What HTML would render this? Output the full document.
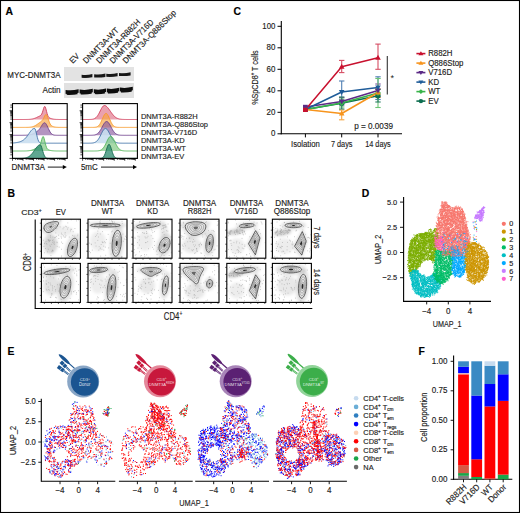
<!DOCTYPE html>
<html><head><meta charset="utf-8"><style>
html,body{margin:0;padding:0;background:#fff;}
svg{display:block;color:#1d1d1b;fill:#1d1d1b;font-family:"Liberation Sans", sans-serif;}
text{stroke:currentColor;stroke-width:0.15px;}
</style></head><body>
<svg width="520" height="513" viewBox="0 0 520 513">
<rect x="0" y="0" width="520" height="513" fill="#fff"/>
<text x="5.6" y="14.6" font-size="10.4" font-weight="bold" fill="#000" color="#000">A</text>
<text x="72.7" y="64" font-size="8.35" textLength="10.41" lengthAdjust="spacingAndGlyphs" transform="rotate(-45 72.7 64)">EV</text>
<text x="86.2" y="64" font-size="8.35" textLength="47" lengthAdjust="spacingAndGlyphs" transform="rotate(-45 86.2 64)">DNMT3A-WT</text>
<text x="99.6" y="64" font-size="8.35" textLength="58.5" lengthAdjust="spacingAndGlyphs" transform="rotate(-45 99.6 64)">DNMT3A-R882H</text>
<text x="112.9" y="64" font-size="8.35" textLength="58.3" lengthAdjust="spacingAndGlyphs" transform="rotate(-45 112.9 64)">DNMT3A-V716D</text>
<text x="126.1" y="64" font-size="8.35" textLength="71.5" lengthAdjust="spacingAndGlyphs" transform="rotate(-45 126.1 64)">DNMT3A-Q886Stop</text>
<text x="60.6" y="78" font-size="8.56" text-anchor="end" textLength="53.3" lengthAdjust="spacingAndGlyphs">MYC-DNMT3A</text>
<text x="60.6" y="92.7" font-size="8.56" text-anchor="end" textLength="18.1" lengthAdjust="spacingAndGlyphs">Actin</text>
<defs><filter id="bl" x="-20%" y="-50%" width="140%" height="200%"><feGaussianBlur stdDeviation="0.55"/></filter></defs>
<rect x="64" y="67" width="70" height="14" fill="#e3e3e3"/>
<rect x="64" y="83" width="70" height="15" fill="#e1e1e1"/>
<g fill="#141414" filter="url(#bl)"><path d="M81.6 74.7 Q87 75.5 92.4 74 L92.4 77.3 Q87 78.2 81.6 77.8 Z"/><path d="M94.2 74.3 Q99.8 75.1 105.4 73.6 L105.4 76.9 Q99.8 77.8 94.2 77.4 Z"/><path d="M106.3 73.7 Q111.95 74.5 117.6 73 L117.6 76.3 Q111.95 77.2 106.3 76.8 Z"/><path d="M119 72.9 Q124.8 73.7 130.6 72.2 L130.6 75.5 Q124.8 76.4 119 76 Z"/></g>
<g fill="#0a0a0a" filter="url(#bl)"><path d="M65.6 90 Q72.1 91 78.6 89.2 L78.6 94 Q72.1 95.2 65.6 94.8 Z"/><path d="M79.6 89.6 Q86.2 90.6 92.8 88.8 L92.8 93.6 Q86.2 94.8 79.6 94.4 Z"/><path d="M93.8 89.3 Q99.9 90.3 106 88.5 L106 93.3 Q99.9 94.5 93.8 94.1 Z"/><path d="M106.8 88.6 Q113 89.6 119.2 87.8 L119.2 92.6 Q113 93.8 106.8 93.4 Z"/><path d="M119.8 87.6 Q126.3 88.6 132.8 86.8 L132.8 91.6 Q126.3 92.8 119.8 92.4 Z"/></g>
<g fill="#e1e1e1"><circle cx="65.9" cy="94.6" r="0.9"/><circle cx="78.3" cy="93.6" r="0.9"/><circle cx="79.9" cy="94.2" r="0.9"/><circle cx="92.5" cy="93.2" r="0.9"/><circle cx="94.1" cy="93.9" r="0.9"/><circle cx="105.7" cy="92.9" r="0.9"/><circle cx="107.1" cy="93.2" r="0.9"/><circle cx="118.9" cy="92.2" r="0.9"/><circle cx="120.1" cy="92.2" r="0.9"/><circle cx="132.5" cy="91.2" r="0.9"/></g>
<path d="M12.5 119.5 L13.11 119.5 L13.72 119.5 L14.32 119.5 L14.93 119.5 L15.54 119.5 L16.15 119.5 L16.75 119.5 L17.36 119.5 L17.97 119.5 L18.58 119.5 L19.19 119.5 L19.79 119.5 L20.4 119.5 L21.01 119.5 L21.62 119.5 L22.22 119.5 L22.83 119.5 L23.44 119.5 L24.05 119.5 L24.66 119.49 L25.26 119.49 L25.87 119.48 L26.48 119.48 L27.09 119.47 L27.69 119.45 L28.3 119.43 L28.91 119.4 L29.52 119.36 L30.13 119.31 L30.73 119.25 L31.34 119.17 L31.95 119.07 L32.56 118.95 L33.16 118.8 L33.77 118.63 L34.38 118.43 L34.99 118.21 L35.6 117.96 L36.2 117.69 L36.81 117.41 L37.42 117.11 L38.03 116.82 L38.63 116.53 L39.24 116.24 L39.85 115.94 L40.46 115.58 L41.07 115.04 L41.67 114.15 L42.28 112.75 L42.89 110.86 L43.5 108.76 L44.1 107.06 L44.71 106.39 L45.32 107.08 L45.93 108.93 L46.54 111.34 L47.14 113.65 L47.75 115.46 L48.36 116.69 L48.97 117.45 L49.57 117.92 L50.18 118.24 L50.79 118.48 L51.4 118.68 L52.01 118.84 L52.61 118.98 L53.22 119.1 L53.83 119.19 L54.44 119.27 L55.04 119.33 L55.65 119.37 L56.26 119.41 L56.87 119.44 L57.48 119.45 L58.08 119.47 L58.69 119.48 L59.3 119.49 L59.91 119.49 L60.51 119.49 L61.12 119.5 L61.73 119.5 L62.34 119.5 L62.95 119.5 L63.55 119.5 L64.16 119.5 L64.77 119.5 L65.38 119.5 L65.98 119.5 L66.59 119.5 L67.2 119.5 L67.2 119.5 L12.5 119.5 Z" fill="#d9546e" fill-opacity="0.55"/>
<path d="M12.5 119.5 L13.11 119.5 L13.72 119.5 L14.32 119.5 L14.93 119.5 L15.54 119.5 L16.15 119.5 L16.75 119.5 L17.36 119.5 L17.97 119.5 L18.58 119.5 L19.19 119.5 L19.79 119.5 L20.4 119.5 L21.01 119.5 L21.62 119.5 L22.22 119.5 L22.83 119.5 L23.44 119.5 L24.05 119.5 L24.66 119.49 L25.26 119.49 L25.87 119.48 L26.48 119.48 L27.09 119.47 L27.69 119.45 L28.3 119.43 L28.91 119.4 L29.52 119.36 L30.13 119.31 L30.73 119.25 L31.34 119.17 L31.95 119.07 L32.56 118.95 L33.16 118.8 L33.77 118.63 L34.38 118.43 L34.99 118.21 L35.6 117.96 L36.2 117.69 L36.81 117.41 L37.42 117.11 L38.03 116.82 L38.63 116.53 L39.24 116.24 L39.85 115.94 L40.46 115.58 L41.07 115.04 L41.67 114.15 L42.28 112.75 L42.89 110.86 L43.5 108.76 L44.1 107.06 L44.71 106.39 L45.32 107.08 L45.93 108.93 L46.54 111.34 L47.14 113.65 L47.75 115.46 L48.36 116.69 L48.97 117.45 L49.57 117.92 L50.18 118.24 L50.79 118.48 L51.4 118.68 L52.01 118.84 L52.61 118.98 L53.22 119.1 L53.83 119.19 L54.44 119.27 L55.04 119.33 L55.65 119.37 L56.26 119.41 L56.87 119.44 L57.48 119.45 L58.08 119.47 L58.69 119.48 L59.3 119.49 L59.91 119.49 L60.51 119.49 L61.12 119.5 L61.73 119.5 L62.34 119.5 L62.95 119.5 L63.55 119.5 L64.16 119.5 L64.77 119.5 L65.38 119.5 L65.98 119.5 L66.59 119.5 L67.2 119.5" fill="none" stroke="#d03c5a" stroke-width="0.9"/>
<path d="M12.5 127.4 L13.11 127.4 L13.72 127.4 L14.32 127.4 L14.93 127.4 L15.54 127.4 L16.15 127.4 L16.75 127.4 L17.36 127.4 L17.97 127.4 L18.58 127.4 L19.19 127.4 L19.79 127.4 L20.4 127.4 L21.01 127.4 L21.62 127.4 L22.22 127.4 L22.83 127.4 L23.44 127.4 L24.05 127.4 L24.66 127.39 L25.26 127.39 L25.87 127.38 L26.48 127.37 L27.09 127.36 L27.69 127.34 L28.3 127.32 L28.91 127.29 L29.52 127.24 L30.13 127.18 L30.73 127.1 L31.34 127 L31.95 126.88 L32.56 126.72 L33.16 126.53 L33.77 126.31 L34.38 126.04 L34.99 125.74 L35.6 125.4 L36.2 125.02 L36.81 124.61 L37.42 124.18 L38.03 123.74 L38.63 123.3 L39.24 122.86 L39.85 122.44 L40.46 122.02 L41.07 121.57 L41.67 121.06 L42.28 120.4 L42.89 119.53 L43.5 118.43 L44.1 117.17 L44.71 115.9 L45.32 114.92 L45.93 114.48 L46.54 114.78 L47.14 115.82 L47.75 117.43 L48.36 119.31 L48.97 121.17 L49.57 122.78 L50.18 124.05 L50.79 124.97 L51.4 125.63 L52.01 126.08 L52.61 126.4 L53.22 126.64 L53.83 126.82 L54.44 126.96 L55.04 127.07 L55.65 127.16 L56.26 127.22 L56.87 127.27 L57.48 127.31 L58.08 127.34 L58.69 127.36 L59.3 127.37 L59.91 127.38 L60.51 127.39 L61.12 127.39 L61.73 127.39 L62.34 127.4 L62.95 127.4 L63.55 127.4 L64.16 127.4 L64.77 127.4 L65.38 127.4 L65.98 127.4 L66.59 127.4 L67.2 127.4 L67.2 127.4 L12.5 127.4 Z" fill="#f7a540" fill-opacity="0.65"/>
<path d="M12.5 127.4 L13.11 127.4 L13.72 127.4 L14.32 127.4 L14.93 127.4 L15.54 127.4 L16.15 127.4 L16.75 127.4 L17.36 127.4 L17.97 127.4 L18.58 127.4 L19.19 127.4 L19.79 127.4 L20.4 127.4 L21.01 127.4 L21.62 127.4 L22.22 127.4 L22.83 127.4 L23.44 127.4 L24.05 127.4 L24.66 127.39 L25.26 127.39 L25.87 127.38 L26.48 127.37 L27.09 127.36 L27.69 127.34 L28.3 127.32 L28.91 127.29 L29.52 127.24 L30.13 127.18 L30.73 127.1 L31.34 127 L31.95 126.88 L32.56 126.72 L33.16 126.53 L33.77 126.31 L34.38 126.04 L34.99 125.74 L35.6 125.4 L36.2 125.02 L36.81 124.61 L37.42 124.18 L38.03 123.74 L38.63 123.3 L39.24 122.86 L39.85 122.44 L40.46 122.02 L41.07 121.57 L41.67 121.06 L42.28 120.4 L42.89 119.53 L43.5 118.43 L44.1 117.17 L44.71 115.9 L45.32 114.92 L45.93 114.48 L46.54 114.78 L47.14 115.82 L47.75 117.43 L48.36 119.31 L48.97 121.17 L49.57 122.78 L50.18 124.05 L50.79 124.97 L51.4 125.63 L52.01 126.08 L52.61 126.4 L53.22 126.64 L53.83 126.82 L54.44 126.96 L55.04 127.07 L55.65 127.16 L56.26 127.22 L56.87 127.27 L57.48 127.31 L58.08 127.34 L58.69 127.36 L59.3 127.37 L59.91 127.38 L60.51 127.39 L61.12 127.39 L61.73 127.39 L62.34 127.4 L62.95 127.4 L63.55 127.4 L64.16 127.4 L64.77 127.4 L65.38 127.4 L65.98 127.4 L66.59 127.4 L67.2 127.4" fill="none" stroke="#f79a2a" stroke-width="0.9"/>
<path d="M12.5 135.3 L13.11 135.3 L13.72 135.3 L14.32 135.3 L14.93 135.3 L15.54 135.3 L16.15 135.3 L16.75 135.3 L17.36 135.3 L17.97 135.3 L18.58 135.3 L19.19 135.3 L19.79 135.3 L20.4 135.3 L21.01 135.3 L21.62 135.3 L22.22 135.29 L22.83 135.29 L23.44 135.28 L24.05 135.28 L24.66 135.26 L25.26 135.25 L25.87 135.23 L26.48 135.2 L27.09 135.16 L27.69 135.11 L28.3 135.04 L28.91 134.96 L29.52 134.86 L30.13 134.73 L30.73 134.58 L31.34 134.41 L31.95 134.2 L32.56 133.97 L33.16 133.72 L33.77 133.44 L34.38 133.13 L34.99 132.8 L35.6 132.45 L36.2 132.07 L36.81 131.66 L37.42 131.19 L38.03 130.67 L38.63 130.06 L39.24 129.36 L39.85 128.56 L40.46 127.67 L41.07 126.69 L41.67 125.69 L42.28 124.73 L42.89 123.87 L43.5 123.21 L44.1 122.83 L44.71 122.77 L45.32 123.08 L45.93 123.73 L46.54 124.69 L47.14 125.87 L47.75 127.19 L48.36 128.55 L48.97 129.86 L49.57 131.06 L50.18 132.1 L50.79 132.96 L51.4 133.65 L52.01 134.17 L52.61 134.54 L53.22 134.81 L53.83 134.99 L54.44 135.11 L55.04 135.18 L55.65 135.23 L56.26 135.26 L56.87 135.28 L57.48 135.29 L58.08 135.29 L58.69 135.3 L59.3 135.3 L59.91 135.3 L60.51 135.3 L61.12 135.3 L61.73 135.3 L62.34 135.3 L62.95 135.3 L63.55 135.3 L64.16 135.3 L64.77 135.3 L65.38 135.3 L65.98 135.3 L66.59 135.3 L67.2 135.3 L67.2 135.3 L12.5 135.3 Z" fill="#8a5a9e" fill-opacity="0.65"/>
<path d="M12.5 135.3 L13.11 135.3 L13.72 135.3 L14.32 135.3 L14.93 135.3 L15.54 135.3 L16.15 135.3 L16.75 135.3 L17.36 135.3 L17.97 135.3 L18.58 135.3 L19.19 135.3 L19.79 135.3 L20.4 135.3 L21.01 135.3 L21.62 135.3 L22.22 135.29 L22.83 135.29 L23.44 135.28 L24.05 135.28 L24.66 135.26 L25.26 135.25 L25.87 135.23 L26.48 135.2 L27.09 135.16 L27.69 135.11 L28.3 135.04 L28.91 134.96 L29.52 134.86 L30.13 134.73 L30.73 134.58 L31.34 134.41 L31.95 134.2 L32.56 133.97 L33.16 133.72 L33.77 133.44 L34.38 133.13 L34.99 132.8 L35.6 132.45 L36.2 132.07 L36.81 131.66 L37.42 131.19 L38.03 130.67 L38.63 130.06 L39.24 129.36 L39.85 128.56 L40.46 127.67 L41.07 126.69 L41.67 125.69 L42.28 124.73 L42.89 123.87 L43.5 123.21 L44.1 122.83 L44.71 122.77 L45.32 123.08 L45.93 123.73 L46.54 124.69 L47.14 125.87 L47.75 127.19 L48.36 128.55 L48.97 129.86 L49.57 131.06 L50.18 132.1 L50.79 132.96 L51.4 133.65 L52.01 134.17 L52.61 134.54 L53.22 134.81 L53.83 134.99 L54.44 135.11 L55.04 135.18 L55.65 135.23 L56.26 135.26 L56.87 135.28 L57.48 135.29 L58.08 135.29 L58.69 135.3 L59.3 135.3 L59.91 135.3 L60.51 135.3 L61.12 135.3 L61.73 135.3 L62.34 135.3 L62.95 135.3 L63.55 135.3 L64.16 135.3 L64.77 135.3 L65.38 135.3 L65.98 135.3 L66.59 135.3 L67.2 135.3" fill="none" stroke="#6e3f8c" stroke-width="0.9"/>
<path d="M12.5 143 L13.11 142.96 L13.72 142.91 L14.32 142.85 L14.93 142.79 L15.54 142.71 L16.15 142.63 L16.75 142.53 L17.36 142.42 L17.97 142.3 L18.58 142.16 L19.19 142 L19.79 141.82 L20.4 141.61 L21.01 141.38 L21.62 141.1 L22.22 140.79 L22.83 140.43 L23.44 140.01 L24.05 139.54 L24.66 139.01 L25.26 138.41 L25.87 137.75 L26.48 137.03 L27.09 136.25 L27.69 135.43 L28.3 134.57 L28.91 133.69 L29.52 132.81 L30.13 131.95 L30.73 131.14 L31.34 130.39 L31.95 129.74 L32.56 129.2 L33.16 128.79 L33.77 128.54 L34.38 128.44 L34.99 128.75 L35.6 130.2 L36.2 132.53 L36.81 135.21 L37.42 137.73 L38.03 139.78 L38.63 141.24 L39.24 142.17 L39.85 142.7 L40.46 142.97 L41.07 143.1 L41.67 143.16 L42.28 143.18 L42.89 143.19 L43.5 143.19 L44.1 143.2 L44.71 143.2 L45.32 143.2 L45.93 143.2 L46.54 143.2 L47.14 143.2 L47.75 143.2 L48.36 143.2 L48.97 143.2 L49.57 143.2 L50.18 143.2 L50.79 143.2 L51.4 143.2 L52.01 143.2 L52.61 143.2 L53.22 143.2 L53.83 143.2 L54.44 143.2 L55.04 143.2 L55.65 143.2 L56.26 143.2 L56.87 143.2 L57.48 143.2 L58.08 143.2 L58.69 143.2 L59.3 143.2 L59.91 143.2 L60.51 143.2 L61.12 143.2 L61.73 143.2 L62.34 143.2 L62.95 143.2 L63.55 143.2 L64.16 143.2 L64.77 143.2 L65.38 143.2 L65.98 143.2 L66.59 143.2 L67.2 143.2 L67.2 143.2 L12.5 143.2 Z" fill="#c9def0" fill-opacity="0.9"/>
<path d="M12.5 143 L13.11 142.96 L13.72 142.91 L14.32 142.85 L14.93 142.79 L15.54 142.71 L16.15 142.63 L16.75 142.53 L17.36 142.42 L17.97 142.3 L18.58 142.16 L19.19 142 L19.79 141.82 L20.4 141.61 L21.01 141.38 L21.62 141.1 L22.22 140.79 L22.83 140.43 L23.44 140.01 L24.05 139.54 L24.66 139.01 L25.26 138.41 L25.87 137.75 L26.48 137.03 L27.09 136.25 L27.69 135.43 L28.3 134.57 L28.91 133.69 L29.52 132.81 L30.13 131.95 L30.73 131.14 L31.34 130.39 L31.95 129.74 L32.56 129.2 L33.16 128.79 L33.77 128.54 L34.38 128.44 L34.99 128.75 L35.6 130.2 L36.2 132.53 L36.81 135.21 L37.42 137.73 L38.03 139.78 L38.63 141.24 L39.24 142.17 L39.85 142.7 L40.46 142.97 L41.07 143.1 L41.67 143.16 L42.28 143.18 L42.89 143.19 L43.5 143.19 L44.1 143.2 L44.71 143.2 L45.32 143.2 L45.93 143.2 L46.54 143.2 L47.14 143.2 L47.75 143.2 L48.36 143.2 L48.97 143.2 L49.57 143.2 L50.18 143.2 L50.79 143.2 L51.4 143.2 L52.01 143.2 L52.61 143.2 L53.22 143.2 L53.83 143.2 L54.44 143.2 L55.04 143.2 L55.65 143.2 L56.26 143.2 L56.87 143.2 L57.48 143.2 L58.08 143.2 L58.69 143.2 L59.3 143.2 L59.91 143.2 L60.51 143.2 L61.12 143.2 L61.73 143.2 L62.34 143.2 L62.95 143.2 L63.55 143.2 L64.16 143.2 L64.77 143.2 L65.38 143.2 L65.98 143.2 L66.59 143.2 L67.2 143.2" fill="none" stroke="#3f72a8" stroke-width="0.9"/>
<path d="M12.5 151 L13.11 151 L13.72 151 L14.32 151 L14.93 151 L15.54 151 L16.15 151 L16.75 151 L17.36 151 L17.97 151 L18.58 151 L19.19 151 L19.79 151 L20.4 151 L21.01 151 L21.62 151 L22.22 150.99 L22.83 150.99 L23.44 150.99 L24.05 150.98 L24.66 150.97 L25.26 150.96 L25.87 150.94 L26.48 150.92 L27.09 150.89 L27.69 150.85 L28.3 150.8 L28.91 150.73 L29.52 150.64 L30.13 150.54 L30.73 150.41 L31.34 150.25 L31.95 150.07 L32.56 149.87 L33.16 149.64 L33.77 149.38 L34.38 149.11 L34.99 148.82 L35.6 148.53 L36.2 148.23 L36.81 147.94 L37.42 147.66 L38.03 147.35 L38.63 146.97 L39.24 146.39 L39.85 145.46 L40.46 144.01 L41.07 142.02 L41.67 139.76 L42.28 137.74 L42.89 136.61 L43.5 136.82 L44.1 138.37 L44.71 140.79 L45.32 143.43 L45.93 145.74 L46.54 147.46 L47.14 148.6 L47.75 149.3 L48.36 149.73 L48.97 150.01 L49.57 150.22 L50.18 150.38 L50.79 150.52 L51.4 150.63 L52.01 150.72 L52.61 150.79 L53.22 150.84 L53.83 150.89 L54.44 150.92 L55.04 150.94 L55.65 150.96 L56.26 150.97 L56.87 150.98 L57.48 150.99 L58.08 150.99 L58.69 150.99 L59.3 151 L59.91 151 L60.51 151 L61.12 151 L61.73 151 L62.34 151 L62.95 151 L63.55 151 L64.16 151 L64.77 151 L65.38 151 L65.98 151 L66.59 151 L67.2 151 L67.2 151 L12.5 151 Z" fill="#6cc070" fill-opacity="0.6"/>
<path d="M12.5 151 L13.11 151 L13.72 151 L14.32 151 L14.93 151 L15.54 151 L16.15 151 L16.75 151 L17.36 151 L17.97 151 L18.58 151 L19.19 151 L19.79 151 L20.4 151 L21.01 151 L21.62 151 L22.22 150.99 L22.83 150.99 L23.44 150.99 L24.05 150.98 L24.66 150.97 L25.26 150.96 L25.87 150.94 L26.48 150.92 L27.09 150.89 L27.69 150.85 L28.3 150.8 L28.91 150.73 L29.52 150.64 L30.13 150.54 L30.73 150.41 L31.34 150.25 L31.95 150.07 L32.56 149.87 L33.16 149.64 L33.77 149.38 L34.38 149.11 L34.99 148.82 L35.6 148.53 L36.2 148.23 L36.81 147.94 L37.42 147.66 L38.03 147.35 L38.63 146.97 L39.24 146.39 L39.85 145.46 L40.46 144.01 L41.07 142.02 L41.67 139.76 L42.28 137.74 L42.89 136.61 L43.5 136.82 L44.1 138.37 L44.71 140.79 L45.32 143.43 L45.93 145.74 L46.54 147.46 L47.14 148.6 L47.75 149.3 L48.36 149.73 L48.97 150.01 L49.57 150.22 L50.18 150.38 L50.79 150.52 L51.4 150.63 L52.01 150.72 L52.61 150.79 L53.22 150.84 L53.83 150.89 L54.44 150.92 L55.04 150.94 L55.65 150.96 L56.26 150.97 L56.87 150.98 L57.48 150.99 L58.08 150.99 L58.69 150.99 L59.3 151 L59.91 151 L60.51 151 L61.12 151 L61.73 151 L62.34 151 L62.95 151 L63.55 151 L64.16 151 L64.77 151 L65.38 151 L65.98 151 L66.59 151 L67.2 151" fill="none" stroke="#55b75a" stroke-width="0.9"/>
<path d="M12.5 158.3 L13.11 158.3 L13.72 158.3 L14.32 158.3 L14.93 158.3 L15.54 158.3 L16.15 158.3 L16.75 158.3 L17.36 158.3 L17.97 158.29 L18.58 158.29 L19.19 158.29 L19.79 158.28 L20.4 158.27 L21.01 158.26 L21.62 158.25 L22.22 158.22 L22.83 158.19 L23.44 158.15 L24.05 158.09 L24.66 158.01 L25.26 157.91 L25.87 157.79 L26.48 157.63 L27.09 157.43 L27.69 157.18 L28.3 156.89 L28.91 156.53 L29.52 156.11 L30.13 155.62 L30.73 155.07 L31.34 154.44 L31.95 153.74 L32.56 152.98 L33.16 152.17 L33.77 151.31 L34.38 150.43 L34.99 149.55 L35.6 148.67 L36.2 147.84 L36.81 147.06 L37.42 146.37 L38.03 145.78 L38.63 145.32 L39.24 145 L39.85 144.83 L40.46 144.88 L41.07 145.72 L41.67 147.3 L42.28 149.33 L42.89 151.48 L43.5 153.47 L44.1 155.1 L44.71 156.33 L45.32 157.17 L45.93 157.69 L46.54 158 L47.14 158.16 L47.75 158.24 L48.36 158.28 L48.97 158.29 L49.57 158.3 L50.18 158.3 L50.79 158.3 L51.4 158.3 L52.01 158.3 L52.61 158.3 L53.22 158.3 L53.83 158.3 L54.44 158.3 L55.04 158.3 L55.65 158.3 L56.26 158.3 L56.87 158.3 L57.48 158.3 L58.08 158.3 L58.69 158.3 L59.3 158.3 L59.91 158.3 L60.51 158.3 L61.12 158.3 L61.73 158.3 L62.34 158.3 L62.95 158.3 L63.55 158.3 L64.16 158.3 L64.77 158.3 L65.38 158.3 L65.98 158.3 L66.59 158.3 L67.2 158.3 L67.2 158.3 L12.5 158.3 Z" fill="#2a8a6c" fill-opacity="0.75"/>
<path d="M12.5 158.3 L13.11 158.3 L13.72 158.3 L14.32 158.3 L14.93 158.3 L15.54 158.3 L16.15 158.3 L16.75 158.3 L17.36 158.3 L17.97 158.29 L18.58 158.29 L19.19 158.29 L19.79 158.28 L20.4 158.27 L21.01 158.26 L21.62 158.25 L22.22 158.22 L22.83 158.19 L23.44 158.15 L24.05 158.09 L24.66 158.01 L25.26 157.91 L25.87 157.79 L26.48 157.63 L27.09 157.43 L27.69 157.18 L28.3 156.89 L28.91 156.53 L29.52 156.11 L30.13 155.62 L30.73 155.07 L31.34 154.44 L31.95 153.74 L32.56 152.98 L33.16 152.17 L33.77 151.31 L34.38 150.43 L34.99 149.55 L35.6 148.67 L36.2 147.84 L36.81 147.06 L37.42 146.37 L38.03 145.78 L38.63 145.32 L39.24 145 L39.85 144.83 L40.46 144.88 L41.07 145.72 L41.67 147.3 L42.28 149.33 L42.89 151.48 L43.5 153.47 L44.1 155.1 L44.71 156.33 L45.32 157.17 L45.93 157.69 L46.54 158 L47.14 158.16 L47.75 158.24 L48.36 158.28 L48.97 158.29 L49.57 158.3 L50.18 158.3 L50.79 158.3 L51.4 158.3 L52.01 158.3 L52.61 158.3 L53.22 158.3 L53.83 158.3 L54.44 158.3 L55.04 158.3 L55.65 158.3 L56.26 158.3 L56.87 158.3 L57.48 158.3 L58.08 158.3 L58.69 158.3 L59.3 158.3 L59.91 158.3 L60.51 158.3 L61.12 158.3 L61.73 158.3 L62.34 158.3 L62.95 158.3 L63.55 158.3 L64.16 158.3 L64.77 158.3 L65.38 158.3 L65.98 158.3 L66.59 158.3 L67.2 158.3" fill="none" stroke="#176a50" stroke-width="0.9"/>
<rect x="12.5" y="103.6" width="54.7" height="54.8" fill="none" stroke="#000" stroke-width="1.1"/>
<path d="M12.5 158.4h-3M12.5 154.81h-2.2M12.5 152.72h-2.2M12.5 151.23h-2.2M12.5 150.07h-2.2M12.5 149.13h-2.2M12.5 148.33h-2.2M12.5 147.64h-2.2M12.5 147.03h-2.2M12.5 146.49h-3M12.5 142.9h-2.2M12.5 140.8h-2.2M12.5 139.31h-2.2M12.5 138.16h-2.2M12.5 137.22h-2.2M12.5 136.42h-2.2M12.5 135.73h-2.2M12.5 135.12h-2.2M12.5 134.57h-3M12.5 130.99h-2.2M12.5 128.89h-2.2M12.5 127.4h-2.2M12.5 126.25h-2.2M12.5 125.3h-2.2M12.5 124.51h-2.2M12.5 123.82h-2.2M12.5 123.21h-2.2M12.5 122.66h-3M12.5 119.07h-2.2M12.5 116.98h-2.2M12.5 115.49h-2.2M12.5 114.33h-2.2M12.5 113.39h-2.2M12.5 112.59h-2.2M12.5 111.9h-2.2M12.5 111.29h-2.2M12.5 110.75h-3M12.5 107.16h-2.2M12.5 105.06h-2.2" stroke="#000" stroke-width="0.75"/>
<path d="M12.5 158.4v2.4M15.67 158.4v1.5M17.52 158.4v1.5M18.83 158.4v1.5M19.85 158.4v1.5M20.69 158.4v1.5M21.39 158.4v1.5M22 158.4v1.5M22.54 158.4v1.5M23.02 158.4v2.4M26.19 158.4v1.5M28.04 158.4v1.5M29.35 158.4v1.5M30.37 158.4v1.5M31.2 158.4v1.5M31.91 158.4v1.5M32.52 158.4v1.5M33.06 158.4v1.5M33.54 158.4v2.4M36.71 158.4v1.5M38.56 158.4v1.5M39.87 158.4v1.5M40.89 158.4v1.5M41.72 158.4v1.5M42.43 158.4v1.5M43.04 158.4v1.5M43.58 158.4v1.5M44.06 158.4v2.4M47.22 158.4v1.5M49.08 158.4v1.5M50.39 158.4v1.5M51.41 158.4v1.5M52.24 158.4v1.5M52.95 158.4v1.5M53.56 158.4v1.5M54.1 158.4v1.5M54.58 158.4v2.4M57.74 158.4v1.5M59.6 158.4v1.5M60.91 158.4v1.5M61.93 158.4v1.5M62.76 158.4v1.5M63.47 158.4v1.5M64.08 158.4v1.5M64.61 158.4v1.5M65.1 158.4v2.4" stroke="#000" stroke-width="0.7"/>
<path d="M82.6 119.5 L83.21 119.5 L83.82 119.5 L84.43 119.5 L85.04 119.5 L85.64 119.5 L86.25 119.5 L86.86 119.5 L87.47 119.5 L88.08 119.49 L88.69 119.49 L89.3 119.48 L89.91 119.46 L90.52 119.44 L91.12 119.41 L91.73 119.35 L92.34 119.27 L92.95 119.16 L93.56 119 L94.17 118.78 L94.78 118.49 L95.39 118.1 L96 117.61 L96.6 117 L97.21 116.26 L97.82 115.39 L98.43 114.4 L99.04 113.3 L99.65 112.12 L100.26 110.89 L100.87 109.67 L101.48 108.51 L102.08 107.47 L102.69 106.61 L103.3 105.97 L103.91 105.59 L104.52 105.5 L105.13 105.61 L105.74 105.87 L106.35 106.27 L106.96 106.8 L107.56 107.44 L108.17 108.17 L108.78 108.98 L109.39 109.83 L110 110.72 L110.61 111.61 L111.22 112.48 L111.83 113.33 L112.44 114.14 L113.04 114.89 L113.65 115.58 L114.26 116.2 L114.87 116.76 L115.48 117.24 L116.09 117.66 L116.7 118.02 L117.31 118.32 L117.92 118.57 L118.52 118.78 L119.13 118.94 L119.74 119.08 L120.35 119.18 L120.96 119.26 L121.57 119.32 L122.18 119.37 L122.79 119.41 L123.4 119.43 L124 119.45 L124.61 119.47 L125.22 119.48 L125.83 119.48 L126.44 119.49 L127.05 119.49 L127.66 119.5 L128.27 119.5 L128.88 119.5 L129.48 119.5 L130.09 119.5 L130.7 119.5 L131.31 119.5 L131.92 119.5 L132.53 119.5 L133.14 119.5 L133.75 119.5 L134.36 119.5 L134.96 119.5 L135.57 119.5 L136.18 119.5 L136.79 119.5 L137.4 119.5 L137.4 119.5 L82.6 119.5 Z" fill="#d9546e" fill-opacity="0.55"/>
<path d="M82.6 119.5 L83.21 119.5 L83.82 119.5 L84.43 119.5 L85.04 119.5 L85.64 119.5 L86.25 119.5 L86.86 119.5 L87.47 119.5 L88.08 119.49 L88.69 119.49 L89.3 119.48 L89.91 119.46 L90.52 119.44 L91.12 119.41 L91.73 119.35 L92.34 119.27 L92.95 119.16 L93.56 119 L94.17 118.78 L94.78 118.49 L95.39 118.1 L96 117.61 L96.6 117 L97.21 116.26 L97.82 115.39 L98.43 114.4 L99.04 113.3 L99.65 112.12 L100.26 110.89 L100.87 109.67 L101.48 108.51 L102.08 107.47 L102.69 106.61 L103.3 105.97 L103.91 105.59 L104.52 105.5 L105.13 105.61 L105.74 105.87 L106.35 106.27 L106.96 106.8 L107.56 107.44 L108.17 108.17 L108.78 108.98 L109.39 109.83 L110 110.72 L110.61 111.61 L111.22 112.48 L111.83 113.33 L112.44 114.14 L113.04 114.89 L113.65 115.58 L114.26 116.2 L114.87 116.76 L115.48 117.24 L116.09 117.66 L116.7 118.02 L117.31 118.32 L117.92 118.57 L118.52 118.78 L119.13 118.94 L119.74 119.08 L120.35 119.18 L120.96 119.26 L121.57 119.32 L122.18 119.37 L122.79 119.41 L123.4 119.43 L124 119.45 L124.61 119.47 L125.22 119.48 L125.83 119.48 L126.44 119.49 L127.05 119.49 L127.66 119.5 L128.27 119.5 L128.88 119.5 L129.48 119.5 L130.09 119.5 L130.7 119.5 L131.31 119.5 L131.92 119.5 L132.53 119.5 L133.14 119.5 L133.75 119.5 L134.36 119.5 L134.96 119.5 L135.57 119.5 L136.18 119.5 L136.79 119.5 L137.4 119.5" fill="none" stroke="#d03c5a" stroke-width="0.9"/>
<path d="M82.6 127.4 L83.21 127.4 L83.82 127.4 L84.43 127.4 L85.04 127.4 L85.64 127.4 L86.25 127.4 L86.86 127.4 L87.47 127.4 L88.08 127.4 L88.69 127.4 L89.3 127.4 L89.91 127.4 L90.52 127.4 L91.12 127.4 L91.73 127.39 L92.34 127.39 L92.95 127.38 L93.56 127.36 L94.17 127.34 L94.78 127.29 L95.39 127.22 L96 127.11 L96.6 126.94 L97.21 126.69 L97.82 126.34 L98.43 125.86 L99.04 125.24 L99.65 124.45 L100.26 123.48 L100.87 122.33 L101.48 121.04 L102.08 119.65 L102.69 118.22 L103.3 116.83 L103.91 115.57 L104.52 114.53 L105.13 113.8 L105.74 113.44 L106.35 113.46 L106.96 113.88 L107.56 114.66 L108.17 115.73 L108.78 117.01 L109.39 118.42 L110 119.85 L110.61 121.23 L111.22 122.5 L111.83 123.62 L112.44 124.57 L113.04 125.34 L113.65 125.94 L114.26 126.39 L114.87 126.73 L115.48 126.96 L116.09 127.12 L116.7 127.23 L117.31 127.3 L117.92 127.34 L118.52 127.37 L119.13 127.38 L119.74 127.39 L120.35 127.4 L120.96 127.4 L121.57 127.4 L122.18 127.4 L122.79 127.4 L123.4 127.4 L124 127.4 L124.61 127.4 L125.22 127.4 L125.83 127.4 L126.44 127.4 L127.05 127.4 L127.66 127.4 L128.27 127.4 L128.88 127.4 L129.48 127.4 L130.09 127.4 L130.7 127.4 L131.31 127.4 L131.92 127.4 L132.53 127.4 L133.14 127.4 L133.75 127.4 L134.36 127.4 L134.96 127.4 L135.57 127.4 L136.18 127.4 L136.79 127.4 L137.4 127.4 L137.4 127.4 L82.6 127.4 Z" fill="#f7a540" fill-opacity="0.65"/>
<path d="M82.6 127.4 L83.21 127.4 L83.82 127.4 L84.43 127.4 L85.04 127.4 L85.64 127.4 L86.25 127.4 L86.86 127.4 L87.47 127.4 L88.08 127.4 L88.69 127.4 L89.3 127.4 L89.91 127.4 L90.52 127.4 L91.12 127.4 L91.73 127.39 L92.34 127.39 L92.95 127.38 L93.56 127.36 L94.17 127.34 L94.78 127.29 L95.39 127.22 L96 127.11 L96.6 126.94 L97.21 126.69 L97.82 126.34 L98.43 125.86 L99.04 125.24 L99.65 124.45 L100.26 123.48 L100.87 122.33 L101.48 121.04 L102.08 119.65 L102.69 118.22 L103.3 116.83 L103.91 115.57 L104.52 114.53 L105.13 113.8 L105.74 113.44 L106.35 113.46 L106.96 113.88 L107.56 114.66 L108.17 115.73 L108.78 117.01 L109.39 118.42 L110 119.85 L110.61 121.23 L111.22 122.5 L111.83 123.62 L112.44 124.57 L113.04 125.34 L113.65 125.94 L114.26 126.39 L114.87 126.73 L115.48 126.96 L116.09 127.12 L116.7 127.23 L117.31 127.3 L117.92 127.34 L118.52 127.37 L119.13 127.38 L119.74 127.39 L120.35 127.4 L120.96 127.4 L121.57 127.4 L122.18 127.4 L122.79 127.4 L123.4 127.4 L124 127.4 L124.61 127.4 L125.22 127.4 L125.83 127.4 L126.44 127.4 L127.05 127.4 L127.66 127.4 L128.27 127.4 L128.88 127.4 L129.48 127.4 L130.09 127.4 L130.7 127.4 L131.31 127.4 L131.92 127.4 L132.53 127.4 L133.14 127.4 L133.75 127.4 L134.36 127.4 L134.96 127.4 L135.57 127.4 L136.18 127.4 L136.79 127.4 L137.4 127.4" fill="none" stroke="#f79a2a" stroke-width="0.9"/>
<path d="M82.6 135.3 L83.21 135.3 L83.82 135.3 L84.43 135.3 L85.04 135.3 L85.64 135.3 L86.25 135.3 L86.86 135.3 L87.47 135.3 L88.08 135.3 L88.69 135.3 L89.3 135.29 L89.91 135.29 L90.52 135.28 L91.12 135.27 L91.73 135.25 L92.34 135.23 L92.95 135.19 L93.56 135.13 L94.17 135.04 L94.78 134.93 L95.39 134.76 L96 134.54 L96.6 134.25 L97.21 133.88 L97.82 133.41 L98.43 132.84 L99.04 132.15 L99.65 131.34 L100.26 130.42 L100.87 129.4 L101.48 128.3 L102.08 127.15 L102.69 126 L103.3 124.88 L103.91 123.85 L104.52 122.96 L105.13 122.25 L105.74 121.76 L106.35 121.52 L106.96 121.54 L107.56 121.83 L108.17 122.35 L108.78 123.1 L109.39 124.02 L110 125.06 L110.61 126.19 L111.22 127.34 L111.83 128.48 L112.44 129.57 L113.04 130.58 L113.65 131.48 L114.26 132.27 L114.87 132.94 L115.48 133.5 L116.09 133.95 L116.7 134.31 L117.31 134.59 L117.92 134.79 L118.52 134.95 L119.13 135.06 L119.74 135.14 L120.35 135.2 L120.96 135.23 L121.57 135.26 L122.18 135.27 L122.79 135.28 L123.4 135.29 L124 135.29 L124.61 135.3 L125.22 135.3 L125.83 135.3 L126.44 135.3 L127.05 135.3 L127.66 135.3 L128.27 135.3 L128.88 135.3 L129.48 135.3 L130.09 135.3 L130.7 135.3 L131.31 135.3 L131.92 135.3 L132.53 135.3 L133.14 135.3 L133.75 135.3 L134.36 135.3 L134.96 135.3 L135.57 135.3 L136.18 135.3 L136.79 135.3 L137.4 135.3 L137.4 135.3 L82.6 135.3 Z" fill="#8a5a9e" fill-opacity="0.65"/>
<path d="M82.6 135.3 L83.21 135.3 L83.82 135.3 L84.43 135.3 L85.04 135.3 L85.64 135.3 L86.25 135.3 L86.86 135.3 L87.47 135.3 L88.08 135.3 L88.69 135.3 L89.3 135.29 L89.91 135.29 L90.52 135.28 L91.12 135.27 L91.73 135.25 L92.34 135.23 L92.95 135.19 L93.56 135.13 L94.17 135.04 L94.78 134.93 L95.39 134.76 L96 134.54 L96.6 134.25 L97.21 133.88 L97.82 133.41 L98.43 132.84 L99.04 132.15 L99.65 131.34 L100.26 130.42 L100.87 129.4 L101.48 128.3 L102.08 127.15 L102.69 126 L103.3 124.88 L103.91 123.85 L104.52 122.96 L105.13 122.25 L105.74 121.76 L106.35 121.52 L106.96 121.54 L107.56 121.83 L108.17 122.35 L108.78 123.1 L109.39 124.02 L110 125.06 L110.61 126.19 L111.22 127.34 L111.83 128.48 L112.44 129.57 L113.04 130.58 L113.65 131.48 L114.26 132.27 L114.87 132.94 L115.48 133.5 L116.09 133.95 L116.7 134.31 L117.31 134.59 L117.92 134.79 L118.52 134.95 L119.13 135.06 L119.74 135.14 L120.35 135.2 L120.96 135.23 L121.57 135.26 L122.18 135.27 L122.79 135.28 L123.4 135.29 L124 135.29 L124.61 135.3 L125.22 135.3 L125.83 135.3 L126.44 135.3 L127.05 135.3 L127.66 135.3 L128.27 135.3 L128.88 135.3 L129.48 135.3 L130.09 135.3 L130.7 135.3 L131.31 135.3 L131.92 135.3 L132.53 135.3 L133.14 135.3 L133.75 135.3 L134.36 135.3 L134.96 135.3 L135.57 135.3 L136.18 135.3 L136.79 135.3 L137.4 135.3" fill="none" stroke="#6e3f8c" stroke-width="0.9"/>
<path d="M82.6 143.2 L83.21 143.2 L83.82 143.2 L84.43 143.2 L85.04 143.2 L85.64 143.2 L86.25 143.2 L86.86 143.2 L87.47 143.2 L88.08 143.19 L88.69 143.19 L89.3 143.18 L89.91 143.17 L90.52 143.16 L91.12 143.13 L91.73 143.09 L92.34 143.03 L92.95 142.95 L93.56 142.83 L94.17 142.67 L94.78 142.45 L95.39 142.15 L96 141.77 L96.6 141.3 L97.21 140.7 L97.82 139.99 L98.43 139.16 L99.04 138.2 L99.65 137.13 L100.26 135.97 L100.87 134.76 L101.48 133.52 L102.08 132.32 L102.69 131.21 L103.3 130.22 L103.91 129.43 L104.52 128.86 L105.13 128.55 L105.74 128.52 L106.35 128.77 L106.96 129.28 L107.56 130.03 L108.17 130.98 L108.78 132.07 L109.39 133.26 L110 134.49 L110.61 135.71 L111.22 136.88 L111.83 137.97 L112.44 138.96 L113.04 139.82 L113.65 140.56 L114.26 141.18 L114.87 141.68 L115.48 142.08 L116.09 142.39 L116.7 142.62 L117.31 142.8 L117.92 142.93 L118.52 143.02 L119.13 143.08 L119.74 143.12 L120.35 143.15 L120.96 143.17 L121.57 143.18 L122.18 143.19 L122.79 143.19 L123.4 143.2 L124 143.2 L124.61 143.2 L125.22 143.2 L125.83 143.2 L126.44 143.2 L127.05 143.2 L127.66 143.2 L128.27 143.2 L128.88 143.2 L129.48 143.2 L130.09 143.2 L130.7 143.2 L131.31 143.2 L131.92 143.2 L132.53 143.2 L133.14 143.2 L133.75 143.2 L134.36 143.2 L134.96 143.2 L135.57 143.2 L136.18 143.2 L136.79 143.2 L137.4 143.2 L137.4 143.2 L82.6 143.2 Z" fill="#c9def0" fill-opacity="0.9"/>
<path d="M82.6 143.2 L83.21 143.2 L83.82 143.2 L84.43 143.2 L85.04 143.2 L85.64 143.2 L86.25 143.2 L86.86 143.2 L87.47 143.2 L88.08 143.19 L88.69 143.19 L89.3 143.18 L89.91 143.17 L90.52 143.16 L91.12 143.13 L91.73 143.09 L92.34 143.03 L92.95 142.95 L93.56 142.83 L94.17 142.67 L94.78 142.45 L95.39 142.15 L96 141.77 L96.6 141.3 L97.21 140.7 L97.82 139.99 L98.43 139.16 L99.04 138.2 L99.65 137.13 L100.26 135.97 L100.87 134.76 L101.48 133.52 L102.08 132.32 L102.69 131.21 L103.3 130.22 L103.91 129.43 L104.52 128.86 L105.13 128.55 L105.74 128.52 L106.35 128.77 L106.96 129.28 L107.56 130.03 L108.17 130.98 L108.78 132.07 L109.39 133.26 L110 134.49 L110.61 135.71 L111.22 136.88 L111.83 137.97 L112.44 138.96 L113.04 139.82 L113.65 140.56 L114.26 141.18 L114.87 141.68 L115.48 142.08 L116.09 142.39 L116.7 142.62 L117.31 142.8 L117.92 142.93 L118.52 143.02 L119.13 143.08 L119.74 143.12 L120.35 143.15 L120.96 143.17 L121.57 143.18 L122.18 143.19 L122.79 143.19 L123.4 143.2 L124 143.2 L124.61 143.2 L125.22 143.2 L125.83 143.2 L126.44 143.2 L127.05 143.2 L127.66 143.2 L128.27 143.2 L128.88 143.2 L129.48 143.2 L130.09 143.2 L130.7 143.2 L131.31 143.2 L131.92 143.2 L132.53 143.2 L133.14 143.2 L133.75 143.2 L134.36 143.2 L134.96 143.2 L135.57 143.2 L136.18 143.2 L136.79 143.2 L137.4 143.2" fill="none" stroke="#3f72a8" stroke-width="0.9"/>
<path d="M82.6 151 L83.21 151 L83.82 151 L84.43 151 L85.04 151 L85.64 151 L86.25 151 L86.86 151 L87.47 151 L88.08 151 L88.69 151 L89.3 151 L89.91 151 L90.52 151 L91.12 151 L91.73 151 L92.34 151 L92.95 151 L93.56 151 L94.17 150.99 L94.78 150.99 L95.39 150.98 L96 150.97 L96.6 150.95 L97.21 150.92 L97.82 150.88 L98.43 150.81 L99.04 150.71 L99.65 150.57 L100.26 150.37 L100.87 150.1 L101.48 149.75 L102.08 149.29 L102.69 148.72 L103.3 148.01 L103.91 147.17 L104.52 146.19 L105.13 145.09 L105.74 143.89 L106.35 142.62 L106.96 141.33 L107.56 140.07 L108.17 138.91 L108.78 137.9 L109.39 137.1 L110 136.56 L110.61 136.32 L111.22 136.37 L111.83 136.73 L112.44 137.37 L113.04 138.26 L113.65 139.33 L114.26 140.53 L114.87 141.81 L115.48 143.1 L116.09 144.35 L116.7 145.52 L117.31 146.57 L117.92 147.5 L118.52 148.29 L119.13 148.95 L119.74 149.48 L120.35 149.89 L120.96 150.21 L121.57 150.45 L122.18 150.63 L122.79 150.75 L123.4 150.84 L124 150.9 L124.61 150.93 L125.22 150.96 L125.83 150.98 L126.44 150.99 L127.05 150.99 L127.66 151 L128.27 151 L128.88 151 L129.48 151 L130.09 151 L130.7 151 L131.31 151 L131.92 151 L132.53 151 L133.14 151 L133.75 151 L134.36 151 L134.96 151 L135.57 151 L136.18 151 L136.79 151 L137.4 151 L137.4 151 L82.6 151 Z" fill="#6cc070" fill-opacity="0.6"/>
<path d="M82.6 151 L83.21 151 L83.82 151 L84.43 151 L85.04 151 L85.64 151 L86.25 151 L86.86 151 L87.47 151 L88.08 151 L88.69 151 L89.3 151 L89.91 151 L90.52 151 L91.12 151 L91.73 151 L92.34 151 L92.95 151 L93.56 151 L94.17 150.99 L94.78 150.99 L95.39 150.98 L96 150.97 L96.6 150.95 L97.21 150.92 L97.82 150.88 L98.43 150.81 L99.04 150.71 L99.65 150.57 L100.26 150.37 L100.87 150.1 L101.48 149.75 L102.08 149.29 L102.69 148.72 L103.3 148.01 L103.91 147.17 L104.52 146.19 L105.13 145.09 L105.74 143.89 L106.35 142.62 L106.96 141.33 L107.56 140.07 L108.17 138.91 L108.78 137.9 L109.39 137.1 L110 136.56 L110.61 136.32 L111.22 136.37 L111.83 136.73 L112.44 137.37 L113.04 138.26 L113.65 139.33 L114.26 140.53 L114.87 141.81 L115.48 143.1 L116.09 144.35 L116.7 145.52 L117.31 146.57 L117.92 147.5 L118.52 148.29 L119.13 148.95 L119.74 149.48 L120.35 149.89 L120.96 150.21 L121.57 150.45 L122.18 150.63 L122.79 150.75 L123.4 150.84 L124 150.9 L124.61 150.93 L125.22 150.96 L125.83 150.98 L126.44 150.99 L127.05 150.99 L127.66 151 L128.27 151 L128.88 151 L129.48 151 L130.09 151 L130.7 151 L131.31 151 L131.92 151 L132.53 151 L133.14 151 L133.75 151 L134.36 151 L134.96 151 L135.57 151 L136.18 151 L136.79 151 L137.4 151" fill="none" stroke="#55b75a" stroke-width="0.9"/>
<path d="M82.6 158.3 L83.21 158.3 L83.82 158.3 L84.43 158.3 L85.04 158.3 L85.64 158.3 L86.25 158.3 L86.86 158.3 L87.47 158.3 L88.08 158.3 L88.69 158.3 L89.3 158.3 L89.91 158.3 L90.52 158.3 L91.12 158.3 L91.73 158.3 L92.34 158.3 L92.95 158.3 L93.56 158.3 L94.17 158.3 L94.78 158.3 L95.39 158.3 L96 158.3 L96.6 158.3 L97.21 158.3 L97.82 158.3 L98.43 158.3 L99.04 158.29 L99.65 158.28 L100.26 158.25 L100.87 158.19 L101.48 158.09 L102.08 157.89 L102.69 157.56 L103.3 157.03 L103.91 156.24 L104.52 155.13 L105.13 153.68 L105.74 151.93 L106.35 149.98 L106.96 148.02 L107.56 146.28 L108.17 144.99 L108.78 144.35 L109.39 144.46 L110 145.3 L110.61 146.74 L111.22 148.57 L111.83 150.55 L112.44 152.45 L113.04 154.12 L113.65 155.48 L114.26 156.49 L114.87 157.21 L115.48 157.67 L116.09 157.96 L116.7 158.13 L117.31 158.21 L117.92 158.26 L118.52 158.28 L119.13 158.29 L119.74 158.3 L120.35 158.3 L120.96 158.3 L121.57 158.3 L122.18 158.3 L122.79 158.3 L123.4 158.3 L124 158.3 L124.61 158.3 L125.22 158.3 L125.83 158.3 L126.44 158.3 L127.05 158.3 L127.66 158.3 L128.27 158.3 L128.88 158.3 L129.48 158.3 L130.09 158.3 L130.7 158.3 L131.31 158.3 L131.92 158.3 L132.53 158.3 L133.14 158.3 L133.75 158.3 L134.36 158.3 L134.96 158.3 L135.57 158.3 L136.18 158.3 L136.79 158.3 L137.4 158.3 L137.4 158.3 L82.6 158.3 Z" fill="#2a8a6c" fill-opacity="0.75"/>
<path d="M82.6 158.3 L83.21 158.3 L83.82 158.3 L84.43 158.3 L85.04 158.3 L85.64 158.3 L86.25 158.3 L86.86 158.3 L87.47 158.3 L88.08 158.3 L88.69 158.3 L89.3 158.3 L89.91 158.3 L90.52 158.3 L91.12 158.3 L91.73 158.3 L92.34 158.3 L92.95 158.3 L93.56 158.3 L94.17 158.3 L94.78 158.3 L95.39 158.3 L96 158.3 L96.6 158.3 L97.21 158.3 L97.82 158.3 L98.43 158.3 L99.04 158.29 L99.65 158.28 L100.26 158.25 L100.87 158.19 L101.48 158.09 L102.08 157.89 L102.69 157.56 L103.3 157.03 L103.91 156.24 L104.52 155.13 L105.13 153.68 L105.74 151.93 L106.35 149.98 L106.96 148.02 L107.56 146.28 L108.17 144.99 L108.78 144.35 L109.39 144.46 L110 145.3 L110.61 146.74 L111.22 148.57 L111.83 150.55 L112.44 152.45 L113.04 154.12 L113.65 155.48 L114.26 156.49 L114.87 157.21 L115.48 157.67 L116.09 157.96 L116.7 158.13 L117.31 158.21 L117.92 158.26 L118.52 158.28 L119.13 158.29 L119.74 158.3 L120.35 158.3 L120.96 158.3 L121.57 158.3 L122.18 158.3 L122.79 158.3 L123.4 158.3 L124 158.3 L124.61 158.3 L125.22 158.3 L125.83 158.3 L126.44 158.3 L127.05 158.3 L127.66 158.3 L128.27 158.3 L128.88 158.3 L129.48 158.3 L130.09 158.3 L130.7 158.3 L131.31 158.3 L131.92 158.3 L132.53 158.3 L133.14 158.3 L133.75 158.3 L134.36 158.3 L134.96 158.3 L135.57 158.3 L136.18 158.3 L136.79 158.3 L137.4 158.3" fill="none" stroke="#176a50" stroke-width="0.9"/>
<rect x="82.6" y="103.6" width="54.8" height="54.8" fill="none" stroke="#000" stroke-width="1.1"/>
<path d="M82.6 158.4h-3M82.6 154.81h-2.2M82.6 152.72h-2.2M82.6 151.23h-2.2M82.6 150.07h-2.2M82.6 149.13h-2.2M82.6 148.33h-2.2M82.6 147.64h-2.2M82.6 147.03h-2.2M82.6 146.49h-3M82.6 142.9h-2.2M82.6 140.8h-2.2M82.6 139.31h-2.2M82.6 138.16h-2.2M82.6 137.22h-2.2M82.6 136.42h-2.2M82.6 135.73h-2.2M82.6 135.12h-2.2M82.6 134.57h-3M82.6 130.99h-2.2M82.6 128.89h-2.2M82.6 127.4h-2.2M82.6 126.25h-2.2M82.6 125.3h-2.2M82.6 124.51h-2.2M82.6 123.82h-2.2M82.6 123.21h-2.2M82.6 122.66h-3M82.6 119.07h-2.2M82.6 116.98h-2.2M82.6 115.49h-2.2M82.6 114.33h-2.2M82.6 113.39h-2.2M82.6 112.59h-2.2M82.6 111.9h-2.2M82.6 111.29h-2.2M82.6 110.75h-3M82.6 107.16h-2.2M82.6 105.06h-2.2" stroke="#000" stroke-width="0.75"/>
<path d="M82.6 158.4v2.4M85.77 158.4v1.5M87.63 158.4v1.5M88.94 158.4v1.5M89.97 158.4v1.5M90.8 158.4v1.5M91.51 158.4v1.5M92.12 158.4v1.5M92.66 158.4v1.5M93.14 158.4v2.4M96.31 158.4v1.5M98.17 158.4v1.5M99.48 158.4v1.5M100.5 158.4v1.5M101.34 158.4v1.5M102.04 158.4v1.5M102.66 158.4v1.5M103.19 158.4v1.5M103.68 158.4v2.4M106.85 158.4v1.5M108.71 158.4v1.5M110.02 158.4v1.5M111.04 158.4v1.5M111.88 158.4v1.5M112.58 158.4v1.5M113.19 158.4v1.5M113.73 158.4v1.5M114.22 158.4v2.4M117.39 158.4v1.5M119.24 158.4v1.5M120.56 158.4v1.5M121.58 158.4v1.5M122.42 158.4v1.5M123.12 158.4v1.5M123.73 158.4v1.5M124.27 158.4v1.5M124.75 158.4v2.4M127.93 158.4v1.5M129.78 158.4v1.5M131.1 158.4v1.5M132.12 158.4v1.5M132.95 158.4v1.5M133.66 158.4v1.5M134.27 158.4v1.5M134.81 158.4v1.5M135.29 158.4v2.4" stroke="#000" stroke-width="0.7"/>
<text x="11.4" y="170" font-size="8.35" textLength="33.6" lengthAdjust="spacingAndGlyphs">DNMT3A</text>
<text x="80.9" y="170" font-size="8.35" textLength="16.8" lengthAdjust="spacingAndGlyphs">5mC</text>
<line x1="47.8" y1="167.1" x2="63.8" y2="167.1" stroke="#000" stroke-width="0.9"/>
<path d="M62.8 165L66.8 167.1L62.8 169.2Z" fill="#000"/>
<line x1="101" y1="167.1" x2="134" y2="167.1" stroke="#000" stroke-width="0.9"/>
<path d="M133 165L137 167.1L133 169.2Z" fill="#000"/>
<text x="140.9" y="119.2" font-size="8.03" textLength="56.68" lengthAdjust="spacingAndGlyphs">DNMT3A-R882H</text>
<text x="140.9" y="127.06" font-size="8.03" textLength="67.11" lengthAdjust="spacingAndGlyphs">DNMT3A-Q886Stop</text>
<text x="140.9" y="134.92" font-size="8.03" textLength="56.27" lengthAdjust="spacingAndGlyphs">DNMT3A-V716D</text>
<text x="140.9" y="142.78" font-size="8.03" textLength="43.75" lengthAdjust="spacingAndGlyphs">DNMT3A-KD</text>
<text x="140.9" y="150.64" font-size="8.03" textLength="44.99" lengthAdjust="spacingAndGlyphs">DNMT3A-WT</text>
<text x="140.9" y="158.5" font-size="8.03" textLength="43.34" lengthAdjust="spacingAndGlyphs">DNMT3A-EV</text>
<text x="233.5" y="15.2" font-size="10.4" font-weight="bold" fill="#000" color="#000">C</text>
<line x1="281.3" y1="21" x2="281.3" y2="134.3" stroke="#000" stroke-width="1.1"/>
<line x1="280.8" y1="133.8" x2="402" y2="133.8" stroke="#000" stroke-width="1.1"/>
<line x1="277.5" y1="133.8" x2="281.3" y2="133.8" stroke="#000" stroke-width="1"/>
<text x="275.3" y="136.1" font-size="8.35" text-anchor="end" textLength="4.4" lengthAdjust="spacingAndGlyphs">0</text>
<line x1="277.5" y1="112.3" x2="281.3" y2="112.3" stroke="#000" stroke-width="1"/>
<text x="275.3" y="114.6" font-size="8.35" text-anchor="end" textLength="8.8" lengthAdjust="spacingAndGlyphs">20</text>
<line x1="277.5" y1="90.8" x2="281.3" y2="90.8" stroke="#000" stroke-width="1"/>
<text x="275.3" y="93.1" font-size="8.35" text-anchor="end" textLength="8.8" lengthAdjust="spacingAndGlyphs">40</text>
<line x1="277.5" y1="69.3" x2="281.3" y2="69.3" stroke="#000" stroke-width="1"/>
<text x="275.3" y="71.6" font-size="8.35" text-anchor="end" textLength="8.8" lengthAdjust="spacingAndGlyphs">60</text>
<line x1="277.5" y1="47.8" x2="281.3" y2="47.8" stroke="#000" stroke-width="1"/>
<text x="275.3" y="50.1" font-size="8.35" text-anchor="end" textLength="8.8" lengthAdjust="spacingAndGlyphs">80</text>
<line x1="277.5" y1="26.3" x2="281.3" y2="26.3" stroke="#000" stroke-width="1"/>
<text x="275.3" y="28.6" font-size="8.35" text-anchor="end" textLength="13" lengthAdjust="spacingAndGlyphs">100</text>
<line x1="305.4" y1="133.8" x2="305.4" y2="137.4" stroke="#000" stroke-width="1"/>
<line x1="341.7" y1="133.8" x2="341.7" y2="137.4" stroke="#000" stroke-width="1"/>
<line x1="378" y1="133.8" x2="378" y2="137.4" stroke="#000" stroke-width="1"/>
<text x="305.4" y="146.8" font-size="8.99" text-anchor="middle" textLength="28.8" lengthAdjust="spacingAndGlyphs">Isolation</text>
<text x="341.7" y="146.8" font-size="8.99" text-anchor="middle" textLength="21.5" lengthAdjust="spacingAndGlyphs">7 days</text>
<text x="378" y="146.8" font-size="8.99" text-anchor="middle" textLength="25.5" lengthAdjust="spacingAndGlyphs">14 days</text>
<text x="257.8" y="104.8" font-size="9" textLength="54.5" lengthAdjust="spacingAndGlyphs" transform="rotate(-90 257.8 104.8)">%SpCD8<tspan font-size="5.5" dy="-3.4">+</tspan><tspan dy="3.4"> T cells</tspan></text>
<line x1="341.7" y1="60.4" x2="341.7" y2="72.6" stroke="#d64d63" stroke-width="1.1"/>
<line x1="339" y1="60.4" x2="344.4" y2="60.4" stroke="#d64d63" stroke-width="1.1"/>
<line x1="339" y1="72.6" x2="344.4" y2="72.6" stroke="#d64d63" stroke-width="1.1"/>
<line x1="378" y1="44.1" x2="378" y2="69.3" stroke="#d64d63" stroke-width="1.1"/>
<line x1="375.3" y1="44.1" x2="380.7" y2="44.1" stroke="#d64d63" stroke-width="1.1"/>
<line x1="375.3" y1="69.3" x2="380.7" y2="69.3" stroke="#d64d63" stroke-width="1.1"/>
<line x1="341.7" y1="81" x2="341.7" y2="100.5" stroke="#4f7fb3" stroke-width="1.1"/>
<line x1="339" y1="81" x2="344.4" y2="81" stroke="#4f7fb3" stroke-width="1.1"/>
<line x1="339" y1="100.5" x2="344.4" y2="100.5" stroke="#4f7fb3" stroke-width="1.1"/>
<line x1="378" y1="76.8" x2="378" y2="99.5" stroke="#4f7fb3" stroke-width="1.1"/>
<line x1="375.3" y1="76.8" x2="380.7" y2="76.8" stroke="#4f7fb3" stroke-width="1.1"/>
<line x1="375.3" y1="99.5" x2="380.7" y2="99.5" stroke="#4f7fb3" stroke-width="1.1"/>
<line x1="341.7" y1="97.5" x2="341.7" y2="105" stroke="#7a55a0" stroke-width="1.1"/>
<line x1="339" y1="97.5" x2="344.4" y2="97.5" stroke="#7a55a0" stroke-width="1.1"/>
<line x1="339" y1="105" x2="344.4" y2="105" stroke="#7a55a0" stroke-width="1.1"/>
<line x1="378" y1="84" x2="378" y2="97" stroke="#7a55a0" stroke-width="1.1"/>
<line x1="375.3" y1="84" x2="380.7" y2="84" stroke="#7a55a0" stroke-width="1.1"/>
<line x1="375.3" y1="97" x2="380.7" y2="97" stroke="#7a55a0" stroke-width="1.1"/>
<line x1="341.7" y1="110" x2="341.7" y2="119.8" stroke="#f7a540" stroke-width="1.1"/>
<line x1="339" y1="110" x2="344.4" y2="110" stroke="#f7a540" stroke-width="1.1"/>
<line x1="339" y1="119.8" x2="344.4" y2="119.8" stroke="#f7a540" stroke-width="1.1"/>
<line x1="378" y1="89" x2="378" y2="97.5" stroke="#f7a540" stroke-width="1.1"/>
<line x1="375.3" y1="89" x2="380.7" y2="89" stroke="#f7a540" stroke-width="1.1"/>
<line x1="375.3" y1="97.5" x2="380.7" y2="97.5" stroke="#f7a540" stroke-width="1.1"/>
<line x1="341.7" y1="99" x2="341.7" y2="107" stroke="#6cc474" stroke-width="1.1"/>
<line x1="339" y1="99" x2="344.4" y2="99" stroke="#6cc474" stroke-width="1.1"/>
<line x1="339" y1="107" x2="344.4" y2="107" stroke="#6cc474" stroke-width="1.1"/>
<line x1="378" y1="78.5" x2="378" y2="107.5" stroke="#6cc474" stroke-width="1.1"/>
<line x1="375.3" y1="78.5" x2="380.7" y2="78.5" stroke="#6cc474" stroke-width="1.1"/>
<line x1="375.3" y1="107.5" x2="380.7" y2="107.5" stroke="#6cc474" stroke-width="1.1"/>
<line x1="341.7" y1="97" x2="341.7" y2="109" stroke="#2d8065" stroke-width="1.1"/>
<line x1="339" y1="97" x2="344.4" y2="97" stroke="#2d8065" stroke-width="1.1"/>
<line x1="339" y1="109" x2="344.4" y2="109" stroke="#2d8065" stroke-width="1.1"/>
<line x1="378" y1="89.5" x2="378" y2="102" stroke="#2d8065" stroke-width="1.1"/>
<line x1="375.3" y1="89.5" x2="380.7" y2="89.5" stroke="#2d8065" stroke-width="1.1"/>
<line x1="375.3" y1="102" x2="380.7" y2="102" stroke="#2d8065" stroke-width="1.1"/>
<path d="M305.4 109.5 L341.7 103.2 L378 95.7" fill="none" stroke="#0d6e50" stroke-width="1.5" stroke-linejoin="round"/>
<path d="M305.4 109.5 L341.7 103 L378 93" fill="none" stroke="#38b449" stroke-width="1.5" stroke-linejoin="round"/>
<path d="M305.4 109.5 L341.7 113.5 L378 92.5" fill="none" stroke="#f7941d" stroke-width="1.5" stroke-linejoin="round"/>
<path d="M305.4 107 L341.7 101.5 L378 90.5" fill="none" stroke="#5c2a86" stroke-width="1.5" stroke-linejoin="round"/>
<path d="M305.4 109.5 L341.7 92 L378 87.5" fill="none" stroke="#1f5c99" stroke-width="1.5" stroke-linejoin="round"/>
<path d="M305.4 109.8 L341.7 66.7 L378 57.7" fill="none" stroke="#c8102e" stroke-width="1.5" stroke-linejoin="round"/>
<rect x="303" y="107.3" width="4.8" height="4.4" fill="#0d6e50"/>
<circle cx="341.7" cy="103.2" r="2.7" fill="#0d6e50"/>
<circle cx="378" cy="95.7" r="2.7" fill="#0d6e50"/>
<rect x="303" y="107.3" width="4.8" height="4.4" fill="#38b449"/>
<path d="M341.7 100L344.7 103L341.7 106L338.7 103Z" fill="#38b449"/>
<path d="M378 90L381 93L378 96L375 93Z" fill="#38b449"/>
<rect x="303" y="107.3" width="4.8" height="4.4" fill="#f7941d"/>
<path d="M341.7 110.5L344.5 115.5L338.9 115.5Z" fill="#f7941d"/>
<path d="M378 89.5L380.8 94.5L375.2 94.5Z" fill="#f7941d"/>
<rect x="303" y="104.8" width="4.8" height="4.4" fill="#5c2a86"/>
<path d="M341.7 104.5L344.5 99.5L338.9 99.5Z" fill="#5c2a86"/>
<path d="M378 93.5L380.8 88.5L375.2 88.5Z" fill="#5c2a86"/>
<rect x="303" y="107.3" width="4.8" height="4.4" fill="#1f5c99"/>
<path d="M341.7 95L344.5 90L338.9 90Z" fill="#1f5c99"/>
<path d="M378 90.5L380.8 85.5L375.2 85.5Z" fill="#1f5c99"/>
<rect x="303" y="107.6" width="4.8" height="4.4" fill="#c8102e"/>
<path d="M341.7 63.7L344.5 68.7L338.9 68.7Z" fill="#c8102e"/>
<path d="M378 54.7L380.8 59.7L375.2 59.7Z" fill="#c8102e"/>
<line x1="387.3" y1="56" x2="387.3" y2="94.6" stroke="#333" stroke-width="1.1"/>
<text x="390.6" y="80.6" font-size="9.63" fill="#222" color="#222" textLength="3.5" lengthAdjust="spacingAndGlyphs" style="stroke:none">*</text>
<text x="354.2" y="129" font-size="8.99" textLength="38.8" lengthAdjust="spacingAndGlyphs">p = 0.0039</text>
<line x1="416.4" y1="53.6" x2="425.4" y2="53.6" stroke="#c8102e" stroke-width="1.6"/>
<path d="M420.9 51.2L423.4 55.2L418.4 55.2Z" fill="#c8102e"/>
<text x="428.2" y="56.4" font-size="8.35" textLength="24.28" lengthAdjust="spacingAndGlyphs">R882H</text>
<line x1="416.4" y1="63.1" x2="425.4" y2="63.1" stroke="#f7941d" stroke-width="1.6"/>
<path d="M420.9 60.7L423.4 64.7L418.4 64.7Z" fill="#f7941d"/>
<text x="428.2" y="65.9" font-size="8.35" textLength="35.13" lengthAdjust="spacingAndGlyphs">Q886Stop</text>
<line x1="416.4" y1="72.6" x2="425.4" y2="72.6" stroke="#5c2a86" stroke-width="1.6"/>
<path d="M420.9 75L423.4 71L418.4 71Z" fill="#5c2a86"/>
<text x="428.2" y="75.4" font-size="8.35" textLength="23.85" lengthAdjust="spacingAndGlyphs">V716D</text>
<line x1="416.4" y1="82.1" x2="425.4" y2="82.1" stroke="#1f5c99" stroke-width="1.6"/>
<path d="M420.9 84.5L423.4 80.5L418.4 80.5Z" fill="#1f5c99"/>
<text x="428.2" y="84.9" font-size="8.35" textLength="10.84" lengthAdjust="spacingAndGlyphs">KD</text>
<line x1="416.4" y1="91.6" x2="425.4" y2="91.6" stroke="#38b449" stroke-width="1.6"/>
<path d="M420.9 89.2L423.3 91.6L420.9 94L418.5 91.6Z" fill="#38b449"/>
<text x="428.2" y="94.4" font-size="8.35" textLength="12.13" lengthAdjust="spacingAndGlyphs">WT</text>
<line x1="416.4" y1="101.1" x2="425.4" y2="101.1" stroke="#0d6e50" stroke-width="1.6"/>
<circle cx="420.9" cy="101.1" r="2.2" fill="#0d6e50"/>
<text x="428.2" y="103.9" font-size="8.35" textLength="10.41" lengthAdjust="spacingAndGlyphs">EV</text>
<defs><filter id="hz" x="-30%" y="-30%" width="160%" height="160%"><feGaussianBlur stdDeviation="1.6"/></filter></defs>
<text x="7.4" y="197" font-size="10.4" font-weight="bold" fill="#000" color="#000">B</text>
<text x="21.3" y="214.6" font-size="7.6" textLength="20.5" lengthAdjust="spacingAndGlyphs">CD3<tspan font-size="5" dy="-3">+</tspan></text>
<text x="60.8" y="214.6" font-size="8.13" text-anchor="middle" textLength="10.14" lengthAdjust="spacingAndGlyphs">EV</text>
<text x="107.6" y="205.6" font-size="8.13" text-anchor="middle" textLength="33.3" lengthAdjust="spacingAndGlyphs">DNMT3A</text>
<text x="107.6" y="213.7" font-size="8.13" text-anchor="middle" textLength="11.82" lengthAdjust="spacingAndGlyphs">WT</text>
<text x="152.6" y="205.6" font-size="8.13" text-anchor="middle" textLength="33.3" lengthAdjust="spacingAndGlyphs">DNMT3A</text>
<text x="152.6" y="213.7" font-size="8.13" text-anchor="middle" textLength="10.56" lengthAdjust="spacingAndGlyphs">KD</text>
<text x="199.6" y="205.6" font-size="8.13" text-anchor="middle" textLength="33.3" lengthAdjust="spacingAndGlyphs">DNMT3A</text>
<text x="199.6" y="213.7" font-size="8.13" text-anchor="middle" textLength="23.66" lengthAdjust="spacingAndGlyphs">R882H</text>
<text x="246.4" y="205.6" font-size="8.13" text-anchor="middle" textLength="33.3" lengthAdjust="spacingAndGlyphs">DNMT3A</text>
<text x="246.4" y="213.7" font-size="8.13" text-anchor="middle" textLength="23.24" lengthAdjust="spacingAndGlyphs">V716D</text>
<text x="292" y="205.6" font-size="8.13" text-anchor="middle" textLength="33.3" lengthAdjust="spacingAndGlyphs">DNMT3A</text>
<text x="292" y="213.7" font-size="8.13" text-anchor="middle" textLength="36.4" lengthAdjust="spacingAndGlyphs">Q886Stop</text>
<line x1="35.2" y1="219.5" x2="35.2" y2="308.5" stroke="#000" stroke-width="1.1"/>
<line x1="34.7" y1="308.5" x2="312.3" y2="308.5" stroke="#000" stroke-width="1.1"/>
<text x="31.3" y="271.3" font-size="10.2" textLength="18.3" lengthAdjust="spacingAndGlyphs" transform="rotate(-90 31.3 271.3)">CD8<tspan font-size="6.5" dy="-3.6">+</tspan></text>
<text x="163.8" y="319.6" font-size="10.2" textLength="18.5" lengthAdjust="spacingAndGlyphs">CD4<tspan font-size="6.5" dy="-3.6">+</tspan></text>
<text x="314.3" y="226.4" font-size="9" textLength="22.1" lengthAdjust="spacingAndGlyphs" transform="rotate(90 314.3 226.4)">7 days</text>
<text x="314.3" y="268.7" font-size="9" textLength="26.4" lengthAdjust="spacingAndGlyphs" transform="rotate(90 314.3 268.7)">14 days</text>
<clipPath id="cp1"><rect x="41.4" y="219.2" width="39" height="39"/></clipPath>
<g clip-path="url(#cp1)">
<g fill="#000" filter="url(#hz)"><ellipse cx="50.4" cy="244.2" rx="7" ry="10" fill-opacity="0.16" transform="rotate(0 50.4 244.2)"/><ellipse cx="63.4" cy="231.2" rx="10" ry="5" fill-opacity="0.07" transform="rotate(0 63.4 231.2)"/><path d="M41.83 224.75L50.27 220.59L61.98 219.81L58.73 227.35L49.62 235.15L42.48 232.55Z" fill-opacity="0.12"/><ellipse cx="72.5" cy="247.4" rx="6.8" ry="13.83" fill-opacity="0.12" transform="rotate(18 72.5 247.4)"/></g>
<path d="M42.5 220.3h.7m27.7-0.5h.7m6.7 .1h.7m-33.5 .9h.7m6.7-0.3h.7m6.9 .3h.7m15 .1h.7m-21.9 1.4h.7m11.8 .6h.7m-11.3 3.3h.7m7.8 .1h.7m-6.3 .6h.7m3.1 .4h.7m2-0.5h.7m-24 1.6h.7m-.7-0.3h.7m7.1 .4h.7m16.2-0.8h.7m-25.2 1.2h.7m12.5-0.3h.7m5.6 .2h.7m3.9 .3h.7m2.6 .1h.7m-.4 .2h.7m3-0.9h.7m-27 1.6h.7m21.3 .8h.7m-24.5 1.4h.7m17.6 .2h.7m7.3-0.8h.7m-18 1.2h.7m5.1 .3h.7m2.7 .8h.7m12.2 .2h.7m-20.3 1h.7m3-0.6h.7m9.8 .8h.7m-22.8 .3h.7m5.3 .7h.7m6.4-0.5h.7m1.7-0.1h.7m7.4 .3h.7m3.1-0.4h.7m-28 1.5h.7m1.7-0.1h.7m2 .2h.7m4.7-0.5h.7m2.5 .3h.7m.6 0h.7m3-0.1h.7m-15.5 .7h.7m6.3 .4h.7m-3.3 .4h.7m13.4 .9h.7m-30.4 .9h.7m4.1-0.3h.7m-.4-0.3h.7m-.3 .7h.7m-.2-0.2h.7m0 .2h.7m-.4 0h.7m2.2-0.5h.7m17.7 .3h.7m-25.4 1.1h.7m1.3-0.7h.7m.1 .8h.7m2.1-0.9h.7m20.9 .3h.7m-29.5 1.1h.7m3 0h.7m3 .4h.7m.4-0.3h.7m-.1 .1h.7m1.9 0h.7m3.8 0h.7m17.5 .1h.7m-35.8 1.1h.7m1.2 .1h.7m6.8 .1h.7m2.5-0.8h.7m4.9 .7h.7m-18.6 .3h.7m1.4 .5h.7m4.1 .2h.7m1.8 .1h.7m-5 .7h.7m18.3 .1h.7m4.1-0.1h.7m-30.5 1.2h.7m12.5 0h.7m-7.6 .1h.7m8.2 .6h.7m9.8-0.4h.7m5.6 1.1h.7m-31.1 .7h.7m2 .7h.7m12.6 .1h.7m-9.9 1.1h.7m-.6-0.2h.7m13.9-0.5h.7m7.2 .3h.7m-23.6 1.1h.7m.5-0.2h.7m18.1 0h.7m-.2-0.2h.7m-25.9 1.2h.7m3.9-0.2h.7m23.1 .2h.7m3.5 .5h.7m-36.3 .4h.7m5.9 2.8h.7m10.1 .3h.7m-1.1 1.1h.7" stroke="#a0a0a0" stroke-width="0.7"/>
<path d="M46.34 224L47.96 223.2L49.74 222.56L51.68 222.09L53.77 221.77L56.02 221.62L57.56 221.88L58.37 222.52L58.46 223.57L57.84 225.02L56.93 226.49L55.74 227.96L54.27 229.45L52.52 230.95L50.87 231.95L49.31 232.45L47.84 232.45L46.46 231.95L45.4 231.2L44.65 230.2L44.21 228.95L44.09 227.45L44.4 226.12L45.15 224.97Z" fill="#e4e4e4" stroke="#2a2a2a" stroke-width=".7" stroke-linejoin="round"/>
<path d="M47.61 224.76L48.77 224.19L50.05 223.73L51.44 223.39L52.94 223.17L54.55 223.06L55.65 223.24L56.23 223.71L56.3 224.46L55.85 225.5L55.2 226.55L54.35 227.6L53.3 228.67L52.04 229.75L50.85 230.46L49.73 230.82L48.68 230.82L47.7 230.46L46.93 229.92L46.4 229.21L46.08 228.31L45.99 227.24L46.22 226.29L46.76 225.46ZM48.88 225.53L49.58 225.18L50.35 224.91L51.19 224.7L52.1 224.57L53.07 224.5L53.74 224.61L54.09 224.89L54.13 225.35L53.86 225.97L53.47 226.61L52.95 227.25L52.32 227.89L51.56 228.54L50.84 228.97L50.16 229.19L49.53 229.19L48.93 228.97L48.47 228.65L48.14 228.22L47.95 227.67L47.9 227.02L48.04 226.45L48.36 225.95Z" fill="none" stroke="#6a6a6a" stroke-width=".45"/>
<path d="M49.83 226.11L50.19 225.93L50.58 225.79L51.01 225.69L51.47 225.62L51.96 225.58L52.3 225.64L52.48 225.78L52.5 226.01L52.36 226.33L52.16 226.65L51.9 226.98L51.58 227.3L51.19 227.63L50.83 227.85L50.48 227.96L50.16 227.96L49.86 227.85L49.62 227.69L49.46 227.47L49.36 227.19L49.34 226.86L49.4 226.57L49.57 226.32Z" fill="#666"/>
<path d="M76.59 248.73L75.83 250.71L74.91 252.52L73.87 254.07L72.75 255.29L71.63 256.12L70.55 256.5L69.56 256.44L68.73 255.91L68.08 254.96L67.66 253.64L67.47 251.99L67.54 250.12L67.86 248.12L68.41 246.07L69.17 244.09L70.09 242.28L71.13 240.73L72.25 239.51L73.37 238.68L74.45 238.3L75.44 238.36L76.27 238.89L76.92 239.84L77.34 241.16L77.53 242.81L77.46 244.68L77.14 246.68Z" fill="#e4e4e4" stroke="#2a2a2a" stroke-width=".7" stroke-linejoin="round"/>
<path d="M75.72 248.45L75.13 250L74.4 251.43L73.58 252.65L72.7 253.62L71.81 254.26L70.96 254.57L70.19 254.52L69.53 254.1L69.02 253.36L68.68 252.31L68.54 251.02L68.6 249.54L68.85 247.96L69.28 246.35L69.87 244.8L70.6 243.37L71.42 242.15L72.3 241.18L73.19 240.54L74.04 240.23L74.81 240.28L75.47 240.7L75.98 241.44L76.32 242.49L76.46 243.78L76.4 245.26L76.15 246.84ZM74.85 248.16L74.42 249.3L73.89 250.34L73.29 251.24L72.65 251.94L72 252.41L71.38 252.63L70.81 252.6L70.33 252.29L69.96 251.75L69.71 250.99L69.61 250.04L69.65 248.97L69.83 247.81L70.15 246.64L70.58 245.5L71.11 244.46L71.71 243.56L72.35 242.86L73 242.39L73.62 242.17L74.19 242.2L74.67 242.51L75.04 243.05L75.29 243.81L75.39 244.76L75.35 245.83L75.17 246.99ZM73.98 247.88L73.71 248.6L73.37 249.26L73 249.82L72.59 250.26L72.18 250.56L71.79 250.7L71.44 250.68L71.13 250.49L70.9 250.14L70.74 249.66L70.68 249.07L70.7 248.39L70.82 247.66L71.02 246.92L71.29 246.2L71.63 245.54L72 244.98L72.41 244.54L72.82 244.24L73.21 244.1L73.56 244.12L73.87 244.31L74.1 244.66L74.26 245.14L74.32 245.73L74.3 246.41L74.18 247.14Z" fill="none" stroke="#6a6a6a" stroke-width=".45"/>
<path d="M73.4 247.69L73.23 248.13L73.03 248.53L72.8 248.87L72.56 249.14L72.31 249.32L72.07 249.4L71.85 249.39L71.67 249.27L71.53 249.06L71.43 248.77L71.39 248.41L71.41 248L71.48 247.56L71.6 247.11L71.77 246.67L71.97 246.27L72.2 245.93L72.44 245.66L72.69 245.48L72.93 245.4L73.15 245.41L73.33 245.53L73.47 245.74L73.57 246.03L73.61 246.39L73.59 246.8L73.52 247.24Z" fill="#2a2a2a"/>
</g>
<rect x="41.4" y="219.2" width="39" height="39" fill="none" stroke="#000" stroke-width="1.1"/>
<path d="M41.4 223.2h-1.6M44.4 258.2v1.6M41.4 230.2h-1.6M51.4 258.2v1.6M41.4 237.2h-1.6M58.4 258.2v1.6M41.4 244.2h-1.6M65.4 258.2v1.6M41.4 251.2h-1.6M72.4 258.2v1.6M41.4 258.2h-1.6M79.4 258.2v1.6" stroke="#000" stroke-width=".6"/>
<clipPath id="cp2"><rect x="41.4" y="263.4" width="39" height="39"/></clipPath>
<g clip-path="url(#cp2)">
<g fill="#000" filter="url(#hz)"><ellipse cx="51.4" cy="285.4" rx="8" ry="10" fill-opacity="0.11" transform="rotate(0 51.4 285.4)"/><ellipse cx="57" cy="271.6" rx="18.55" ry="4.24" fill-opacity="0.12" transform="rotate(-8 57 271.6)"/><ellipse cx="65.4" cy="287.2" rx="7.75" ry="15.85" fill-opacity="0.12" transform="rotate(12 65.4 287.2)"/></g>
<path d="M43.3 264.9h.7m6.9-0.1h.7m5 .7h.7m12.9 .6h.7m-26.9 1h.7m20.9-0.3h.7m-12 2.3h.7m20.1-0.4h.7m-11.8 1.2h.7m3.8 .3h.7m3.6-0.3h.7m5 .1h.7m.3-0.3h.7m-12.7 1.1h.7m8.2 .4h.7m-23.3 .6h.7m5.4 .7h.7m13.7 .7h.7m-32.3 .4h.7m15.4 .5h.7m7.2 .2h.7m9-0.2h.7m-26.8 2.1h.7m8.6-0.2h.7m6.7-0.1h.7m-.4-0.3h.7m8.5 .1h.7m-33.9 1.3h.7m2.2-0.3h.7m-3.8 1h.7m9.6 .2h.7m4.2 1h.7m-15.9 2h.7m2 0h.7m29.6 .5h.7m-7.4 1h.7m-22.1 .3h.7m1.1 .4h.7m-4.6 .6h.7m-.3 .6h.7m12.4-0.2h.7m1-0.5h.7m-11.4 1.3h.7m6-0.2h.7m1.3 .4h.7m2.1 .1h.7m15.4-0.6h.7m-26.8 1h.7m14.1 .6h.7m-19.6 .8h.7m3.7 0h.7m1.3-0.3h.7m10 .3h.7m-13.1 1.3h.7m-7.3 .9h.7m1.8 .3h.7m-2.5 .7h.7m1.6 0h.7m2.6-0.1h.7m2.4-0.6h.7m-1 1.5h.7m2.3 .1h.7m11.9 0h.7m1.8 .4h.7m.9-0.8h.7m2.9 0h.7m-36.1 .9h.7m21.7 .5h.7m5-0.1h.7m1.9-0.1h.7m1.9 .7h.7m-25.8 1.2h.7m0 .1h.7m18.4 0h.7m4.3 .3h.7m-25.6 1h.7m9.2 .3h.7m-11.7 1.9h.7m-.1-0.2h.7m4.1 .2h.7m.3 .4h.7m12.8 .6h.7m-10 .6h.7m.2 .4h.7m1.4-0.5h.7m-19.1 1.3h.7m32.4-0.3h.7m-23.6 1.3h.7m5.3 .6h.7m7.4-0.1h.7" stroke="#a0a0a0" stroke-width="0.7"/>
<path d="M69.87 269.79L69.63 270.36L68.74 271L67.27 271.67L65.29 272.33L62.89 272.96L60.19 273.51L57.33 273.98L54.46 274.32L51.72 274.53L49.23 274.59L47.14 274.5L45.55 274.26L44.52 273.89L44.13 273.41L44.37 272.84L45.26 272.2L46.73 271.53L48.71 270.87L51.11 270.24L53.81 269.69L56.67 269.22L59.54 268.88L62.28 268.67L64.77 268.61L66.86 268.7L68.45 268.94L69.48 269.31Z" fill="#e4e4e4" stroke="#2a2a2a" stroke-width=".7" stroke-linejoin="round"/>
<path d="M67.14 270.18L66.94 270.63L66.25 271.13L65.09 271.65L63.53 272.17L61.64 272.67L59.51 273.11L57.26 273.47L55 273.74L52.84 273.9L50.88 273.95L49.24 273.88L47.98 273.7L47.17 273.41L46.86 273.02L47.06 272.57L47.75 272.07L48.91 271.55L50.47 271.03L52.36 270.53L54.49 270.09L56.74 269.73L59 269.46L61.16 269.3L63.12 269.25L64.76 269.32L66.02 269.5L66.83 269.79ZM64.4 270.56L64.26 270.89L63.75 271.26L62.91 271.64L61.77 272.02L60.38 272.38L58.83 272.7L57.19 272.97L55.54 273.16L53.96 273.28L52.53 273.32L51.33 273.27L50.41 273.13L49.83 272.92L49.6 272.64L49.74 272.31L50.25 271.94L51.09 271.56L52.23 271.18L53.62 270.82L55.17 270.5L56.81 270.23L58.46 270.04L60.04 269.92L61.47 269.88L62.67 269.93L63.59 270.07L64.17 270.28ZM61.67 270.94L61.58 271.15L61.26 271.38L60.72 271.62L60 271.86L59.13 272.09L58.16 272.29L57.12 272.46L56.08 272.59L55.08 272.66L54.19 272.68L53.43 272.65L52.85 272.56L52.48 272.43L52.33 272.26L52.42 272.05L52.74 271.82L53.28 271.58L54 271.34L54.87 271.11L55.84 270.91L56.88 270.74L57.92 270.61L58.92 270.54L59.81 270.52L60.57 270.55L61.15 270.64L61.52 270.77Z" fill="none" stroke="#6a6a6a" stroke-width=".45"/>
<path d="M59.83 271.2L59.78 271.33L59.58 271.47L59.26 271.61L58.82 271.76L58.3 271.9L57.7 272.02L57.07 272.12L56.44 272.2L55.84 272.24L55.29 272.26L54.83 272.24L54.48 272.19L54.26 272.1L54.17 272L54.22 271.87L54.42 271.73L54.74 271.59L55.18 271.44L55.7 271.3L56.3 271.18L56.93 271.08L57.56 271L58.16 270.96L58.71 270.94L59.17 270.96L59.52 271.01L59.74 271.1Z" fill="#2a2a2a"/>
<path d="M70.29 288.24L69.66 290.61L68.81 292.81L67.8 294.72L66.66 296.26L65.46 297.35L64.26 297.92L63.11 297.96L62.08 297.46L61.22 296.44L60.56 294.96L60.15 293.1L60 290.93L60.12 288.58L60.51 286.16L61.14 283.79L61.99 281.59L63 279.68L64.14 278.14L65.34 277.05L66.54 276.48L67.69 276.44L68.72 276.94L69.58 277.96L70.24 279.44L70.65 281.3L70.8 283.47L70.68 285.82Z" fill="#e4e4e4" stroke="#2a2a2a" stroke-width=".7" stroke-linejoin="round"/>
<path d="M69.25 288.02L68.75 289.88L68.09 291.61L67.29 293.12L66.39 294.34L65.45 295.19L64.5 295.64L63.6 295.67L62.79 295.28L62.11 294.48L61.59 293.31L61.27 291.84L61.15 290.14L61.24 288.29L61.55 286.38L62.05 284.52L62.71 282.79L63.51 281.28L64.41 280.06L65.35 279.21L66.3 278.76L67.2 278.73L68.01 279.12L68.69 279.92L69.21 281.09L69.53 282.56L69.65 284.26L69.56 286.11ZM68.21 287.8L67.85 289.16L67.36 290.42L66.78 291.52L66.13 292.41L65.44 293.03L64.74 293.36L64.08 293.39L63.49 293.1L63 292.51L62.62 291.66L62.38 290.59L62.3 289.35L62.37 287.99L62.59 286.6L62.95 285.24L63.44 283.98L64.02 282.88L64.67 281.99L65.36 281.37L66.06 281.04L66.72 281.01L67.31 281.3L67.8 281.89L68.18 282.74L68.42 283.81L68.5 285.05L68.43 286.41ZM67.17 287.58L66.94 288.44L66.64 289.23L66.27 289.93L65.86 290.48L65.42 290.88L64.99 291.09L64.57 291.1L64.2 290.92L63.88 290.55L63.65 290.01L63.5 289.34L63.44 288.55L63.49 287.7L63.63 286.82L63.86 285.96L64.16 285.17L64.53 284.47L64.94 283.92L65.38 283.52L65.81 283.31L66.23 283.3L66.6 283.48L66.92 283.85L67.15 284.39L67.3 285.06L67.36 285.85L67.31 286.7Z" fill="none" stroke="#6a6a6a" stroke-width=".45"/>
<path d="M66.48 287.43L66.34 287.95L66.15 288.43L65.93 288.85L65.68 289.19L65.41 289.43L65.15 289.56L64.9 289.57L64.67 289.46L64.48 289.23L64.34 288.91L64.25 288.5L64.21 288.02L64.24 287.5L64.32 286.97L64.46 286.45L64.65 285.97L64.87 285.55L65.12 285.21L65.39 284.97L65.65 284.84L65.9 284.83L66.13 284.94L66.32 285.17L66.46 285.49L66.55 285.9L66.59 286.38L66.56 286.9Z" fill="#2a2a2a"/>
</g>
<rect x="41.4" y="263.4" width="39" height="39" fill="none" stroke="#000" stroke-width="1.1"/>
<path d="M41.4 267.4h-1.6M44.4 302.4v1.6M41.4 274.4h-1.6M51.4 302.4v1.6M41.4 281.4h-1.6M58.4 302.4v1.6M41.4 288.4h-1.6M65.4 302.4v1.6M41.4 295.4h-1.6M72.4 302.4v1.6M41.4 302.4h-1.6M79.4 302.4v1.6" stroke="#000" stroke-width=".6"/>
<clipPath id="cp3"><rect x="88" y="219.2" width="39" height="39"/></clipPath>
<g clip-path="url(#cp3)">
<g fill="#000" filter="url(#hz)"><ellipse cx="98" cy="241.2" rx="8" ry="10" fill-opacity="0.07" transform="rotate(0 98 241.2)"/><ellipse cx="105.3" cy="225.3" rx="21.25" ry="3.43" fill-opacity="0.12" transform="rotate(0 105.3 225.3)"/><ellipse cx="116.7" cy="243.3" rx="7.08" ry="18.55" fill-opacity="0.12" transform="rotate(5 116.7 243.3)"/></g>
<path d="M109.3 220.1h.7m-10.1 .8h.7m10.7 0h.7m-.1 .5h.7m9.1 0h.7m-33.1 .6h.7m9.3 .1h.7m12.3 .1h.7m-.5-0.2h.7m.8 .1h.7m-14.4 .5h.7m20.9 .8h.7m-18.5 2h.7m8 0h.7m-1.8 .2h.7m1.6 .3h.7m-21 2h.7m21.2-0.2h.7m-17.9 .9h.7m-1.6 2.5h.7m14.1 0h.7m-10.7 .5h.7m8 .3h.7m4.1 .4h.7m-2.2 .8h.7m-17.6 .6h.7m1.8 .3h.7m7.2 .4h.7m14.1-0.3h.7m-27.3 1.1h.7m28.5 1.1h.7m-30.6 .2h.7m2 .5h.7m13.6 .4h.7m7.3 .4h.7m.4-0.1h.7m4.2-0.1h.7m-21 1.9h.7m17.5-0.5h.7m-27.4 1.4h.7m27.5-0.9h.7m-6.3 2h.7m2.1-0.2h.7m-21.8 .6h.7m0 .4h.7m1.1-0.6h.7m8 .6h.7m3.6-0.1h.7m-28.7 .9h.7m4.8-0.2h.7m7.1-0.3h.7m1.6 .1h.7m4.2 .6h.7m-19.7 .7h.7m9.3 .5h.7m-10.3 .1h.7m3.8 1.5h.7m7 .1h.7m-5.3 .5h.7m5.4 .4h.7m-5.5 .9h.7m7.6-0.1h.7m6.3-0.2h.7m-16.4 1.2h.7m1.2 .4h.7m-10.4 .8h.7m5.9 0h.7m4.3 0h.7m-15.2 1.4h.7m.4 1.2h.7m21.8 0h.7m2.5 .4h.7m-5.8 1h.7m-6 1.2h.7m8.3-0.3h.7m.5-0.3h.7m-15.9 1.4h.7m13.1 .2h.7m6.3 .1h.7m-1 .9h.7m-.6 .1h.7m.3-0.4h.7m-15 .6h.7" stroke="#a0a0a0" stroke-width="0.7"/>
<path d="M120.3 225.3L119.92 225.7L118.81 226.08L117.03 226.42L114.65 226.71L111.81 226.92L108.64 227.05L105.3 227.1L101.96 227.05L98.79 226.92L95.95 226.71L93.57 226.42L91.79 226.08L90.68 225.7L90.3 225.3L90.68 224.9L91.79 224.52L93.57 224.18L95.95 223.89L98.79 223.68L101.96 223.55L105.3 223.5L108.64 223.55L111.81 223.68L114.65 223.89L117.03 224.18L118.81 224.52L119.92 224.9Z" fill="#e4e4e4" stroke="#2a2a2a" stroke-width=".7" stroke-linejoin="round"/>
<path d="M116.05 225.3L115.78 225.59L114.99 225.86L113.7 226.1L112 226.31L109.96 226.46L107.69 226.56L105.3 226.59L102.91 226.56L100.64 226.46L98.6 226.31L96.9 226.1L95.61 225.86L94.82 225.59L94.55 225.3L94.82 225.01L95.61 224.74L96.9 224.5L98.6 224.29L100.64 224.14L102.91 224.04L105.3 224.01L107.69 224.04L109.96 224.14L112 224.29L113.7 224.5L114.99 224.74L115.78 225.01ZM111.8 225.3L111.64 225.47L111.16 225.64L110.38 225.79L109.35 225.91L108.12 226L106.75 226.06L105.3 226.08L103.85 226.06L102.48 226L101.25 225.91L100.22 225.79L99.44 225.64L98.96 225.47L98.8 225.3L98.96 225.13L99.44 224.96L100.22 224.81L101.25 224.69L102.48 224.6L103.85 224.54L105.3 224.52L106.75 224.54L108.12 224.6L109.35 224.69L110.38 224.81L111.16 224.96L111.64 225.13Z" fill="none" stroke="#6a6a6a" stroke-width=".45"/>
<path d="M108.6 225.3L108.52 225.39L108.27 225.47L107.88 225.55L107.36 225.61L106.73 225.66L106.03 225.69L105.3 225.7L104.57 225.69L103.87 225.66L103.24 225.61L102.72 225.55L102.33 225.47L102.08 225.39L102 225.3L102.08 225.21L102.33 225.13L102.72 225.05L103.24 224.99L103.87 224.94L104.57 224.91L105.3 224.9L106.03 224.91L106.73 224.94L107.36 224.99L107.88 225.05L108.27 225.13L108.52 225.21Z" fill="#2a2a2a"/>
<path d="M121.18 243.69L120.82 246.56L120.25 249.27L119.5 251.68L118.61 253.67L117.62 255.14L116.59 256.01L115.57 256.25L114.6 255.84L113.73 254.8L113.02 253.18L112.49 251.07L112.17 248.57L112.08 245.8L112.22 242.91L112.58 240.04L113.15 237.33L113.9 234.92L114.79 232.93L115.78 231.46L116.81 230.59L117.83 230.35L118.8 230.76L119.67 231.8L120.38 233.42L120.91 235.53L121.23 238.03L121.32 240.8Z" fill="#e4e4e4" stroke="#2a2a2a" stroke-width=".7" stroke-linejoin="round"/>
<path d="M120.23 243.61L119.94 245.87L119.49 248L118.9 249.9L118.2 251.47L117.43 252.62L116.62 253.31L115.81 253.5L115.04 253.17L114.36 252.35L113.8 251.08L113.38 249.42L113.13 247.45L113.06 245.27L113.17 242.99L113.46 240.73L113.91 238.6L114.5 236.7L115.2 235.13L115.97 233.98L116.78 233.29L117.59 233.1L118.36 233.43L119.04 234.25L119.6 235.52L120.02 237.18L120.27 239.15L120.34 241.33ZM119.28 243.53L119.07 245.18L118.74 246.73L118.31 248.12L117.8 249.26L117.23 250.11L116.64 250.61L116.05 250.75L115.49 250.51L114.99 249.91L114.58 248.98L114.28 247.77L114.09 246.33L114.04 244.74L114.12 243.07L114.33 241.42L114.66 239.87L115.09 238.48L115.6 237.34L116.17 236.49L116.76 235.99L117.35 235.85L117.91 236.09L118.41 236.69L118.82 237.62L119.12 238.83L119.31 240.27L119.36 241.86ZM118.33 243.44L118.19 244.48L117.99 245.46L117.71 246.34L117.39 247.06L117.04 247.59L116.66 247.91L116.29 247.99L115.94 247.85L115.62 247.47L115.37 246.88L115.17 246.12L115.06 245.21L115.02 244.21L115.07 243.16L115.21 242.12L115.41 241.14L115.69 240.26L116.01 239.54L116.36 239.01L116.74 238.69L117.11 238.61L117.46 238.75L117.78 239.13L118.03 239.72L118.23 240.48L118.34 241.39L118.38 242.39Z" fill="none" stroke="#6a6a6a" stroke-width=".45"/>
<path d="M117.69 243.39L117.61 244.02L117.48 244.61L117.32 245.14L117.12 245.58L116.9 245.9L116.68 246.1L116.45 246.15L116.24 246.06L116.05 245.83L115.89 245.47L115.77 245.01L115.7 244.46L115.68 243.85L115.71 243.21L115.79 242.58L115.92 241.99L116.08 241.46L116.28 241.02L116.5 240.7L116.72 240.5L116.95 240.45L117.16 240.54L117.35 240.77L117.51 241.13L117.63 241.59L117.7 242.14L117.72 242.75Z" fill="#2a2a2a"/>
</g>
<rect x="88" y="219.2" width="39" height="39" fill="none" stroke="#000" stroke-width="1.1"/>
<path d="M88 223.2h-1.6M91 258.2v1.6M88 230.2h-1.6M98 258.2v1.6M88 237.2h-1.6M105 258.2v1.6M88 244.2h-1.6M112 258.2v1.6M88 251.2h-1.6M119 258.2v1.6M88 258.2h-1.6M126 258.2v1.6" stroke="#000" stroke-width=".6"/>
<clipPath id="cp4"><rect x="88" y="263.4" width="39" height="39"/></clipPath>
<g clip-path="url(#cp4)">
<g fill="#000" filter="url(#hz)"><ellipse cx="98" cy="283.4" rx="8" ry="10" fill-opacity="0.07" transform="rotate(0 98 283.4)"/><ellipse cx="98.6" cy="270" rx="13.15" ry="4.38" fill-opacity="0.12" transform="rotate(-5 98.6 270)"/><ellipse cx="111.5" cy="287.7" rx="6.4" ry="18.55" fill-opacity="0.12" transform="rotate(8 111.5 287.7)"/></g>
<path d="M101.1 264.3h.7m-7.9 1.5h.7m1.8 .4h.7m22.3-0.7h.7m-13.6 1.8h.7m14.7-0.1h.7m-27.5 .7h.7m1.7-0.1h.7m1.3-0.2h.7m22.7 .1h.7m-18.2 1.4h.7m-15.9 1.2h.7m-.3 0h.7m12.3-0.5h.7m9.9-0.2h.7m-15.3 1.6h.7m7.4-0.5h.7m10.5 .6h.7m6.8 0h.7m-29.4 .5h.7m5.8-0.2h.7m12.7 .7h.7m-27.5 .3h.7m-1.8 1h.7m18.5 .8h.7m2.9 0h.7m-24 .5h.7m4.7 .6h.7m2.5-1h.7m10.8 .8h.7m-16.5 1.1h.7m-.5-0.8h.7m1.1 .4h.7m1.3 .5h.7m8.2 .4h.7m11.2 .8h.7m-28 1.5h.7m3.7-0.6h.7m8.7 .5h.7m12.4 .4h.7m7.5-0.3h.7m-36.9 .7h.7m7.1-0.4h.7m2.2 .6h.7m6.5-0.5h.7m2.8 .7h.7m13.8-0.3h.7m-31.3 1.3h.7m5.8-0.3h.7m3.3 .1h.7m-15.5 .7h.7m34.4 .3h.7m-36.6 .4h.7m29.3 .3h.7m-27.7 1.2h.7m5.4 .2h.7m.8 .9h.7m22.4 .3h.7m-20.2 .3h.7m18-0.1h.7m-21 1.7h.7m14.2 0h.7m-28 .4h.7m9.3 0h.7m4 .1h.7m5.8 1.6h.7m-22.1 1h.7m11.2 1.9h.7m22.5 1.1h.7m-2.5 .9h.7m-12 .7h.7m7.2-0.4h.7m-4.4 1.8h.7m5-0.3h.7m-25.4 .8h.7m26-0.1h.7m-26.8 .9h.7m-2 1.4h.7m5.7 1.3h.7m.4-0.7h.7m11.6 .7h.7m5.4-0.2h.7m-25.2 1.6h.7" stroke="#a0a0a0" stroke-width="0.7"/>
<path d="M107.57 269.22L107.39 269.79L106.77 270.37L105.75 270.94L104.36 271.46L102.69 271.9L100.81 272.25L98.82 272.49L96.82 272.6L94.91 272.58L93.18 272.44L91.73 272.17L90.62 271.79L89.91 271.32L89.63 270.78L89.81 270.21L90.43 269.63L91.45 269.06L92.84 268.54L94.51 268.1L96.39 267.75L98.38 267.51L100.38 267.4L102.29 267.42L104.02 267.56L105.47 267.83L106.58 268.21L107.29 268.68Z" fill="#e4e4e4" stroke="#2a2a2a" stroke-width=".7" stroke-linejoin="round"/>
<path d="M105.66 269.38L105.52 269.83L105.04 270.29L104.23 270.74L103.14 271.15L101.82 271.5L100.34 271.77L98.77 271.96L97.2 272.05L95.69 272.04L94.33 271.92L93.19 271.71L92.31 271.41L91.75 271.04L91.54 270.62L91.68 270.17L92.16 269.71L92.97 269.26L94.06 268.85L95.38 268.5L96.86 268.23L98.43 268.04L100 267.95L101.51 267.96L102.87 268.08L104.01 268.29L104.89 268.59L105.45 268.96ZM103.76 269.55L103.65 269.88L103.3 270.21L102.71 270.54L101.91 270.84L100.95 271.09L99.87 271.3L98.73 271.43L97.57 271.5L96.48 271.49L95.48 271.4L94.65 271.25L94.01 271.03L93.6 270.76L93.44 270.45L93.55 270.12L93.9 269.79L94.49 269.46L95.29 269.16L96.25 268.91L97.33 268.7L98.47 268.57L99.63 268.5L100.72 268.51L101.72 268.6L102.55 268.75L103.19 268.97L103.6 269.24ZM101.85 269.72L101.79 269.92L101.56 270.14L101.19 270.34L100.69 270.53L100.08 270.69L99.4 270.82L98.68 270.9L97.95 270.94L97.26 270.94L96.64 270.88L96.11 270.79L95.71 270.65L95.45 270.48L95.35 270.28L95.41 270.08L95.64 269.86L96.01 269.66L96.51 269.47L97.12 269.31L97.8 269.18L98.52 269.1L99.25 269.06L99.94 269.06L100.56 269.12L101.09 269.21L101.49 269.35L101.75 269.52Z" fill="none" stroke="#6a6a6a" stroke-width=".45"/>
<path d="M100.57 269.83L100.53 269.95L100.4 270.08L100.17 270.21L99.87 270.32L99.5 270.42L99.09 270.5L98.65 270.55L98.21 270.57L97.79 270.57L97.41 270.54L97.09 270.48L96.84 270.39L96.69 270.29L96.63 270.17L96.67 270.05L96.8 269.92L97.03 269.79L97.33 269.68L97.7 269.58L98.11 269.5L98.55 269.45L98.99 269.43L99.41 269.43L99.79 269.46L100.11 269.52L100.36 269.61L100.51 269.71Z" fill="#2a2a2a"/>
<path d="M115.46 288.26L114.96 291.11L114.28 293.79L113.47 296.16L112.56 298.11L111.59 299.54L110.62 300.37L109.69 300.57L108.85 300.13L108.15 299.06L107.62 297.42L107.28 295.29L107.15 292.78L107.24 290.02L107.54 287.14L108.04 284.29L108.72 281.61L109.53 279.24L110.44 277.29L111.41 275.86L112.38 275.03L113.31 274.83L114.15 275.27L114.85 276.34L115.38 277.98L115.72 280.11L115.85 282.62L115.76 285.38Z" fill="#e4e4e4" stroke="#2a2a2a" stroke-width=".7" stroke-linejoin="round"/>
<path d="M114.62 288.14L114.22 290.38L113.69 292.49L113.05 294.36L112.33 295.9L111.57 297.02L110.81 297.68L110.08 297.84L109.42 297.49L108.86 296.64L108.44 295.35L108.17 293.68L108.07 291.7L108.14 289.53L108.38 287.26L108.78 285.02L109.31 282.91L109.95 281.04L110.67 279.5L111.43 278.38L112.19 277.72L112.92 277.56L113.58 277.91L114.14 278.76L114.56 280.05L114.83 281.72L114.93 283.7L114.86 285.87ZM113.78 288.02L113.49 289.66L113.1 291.2L112.63 292.57L112.11 293.69L111.55 294.51L110.99 294.99L110.46 295.1L109.98 294.85L109.57 294.23L109.27 293.29L109.07 292.06L109 290.62L109.05 289.04L109.22 287.38L109.51 285.74L109.9 284.2L110.37 282.83L110.89 281.71L111.45 280.89L112.01 280.41L112.54 280.3L113.02 280.55L113.43 281.17L113.73 282.11L113.93 283.34L114 284.78L113.95 286.36ZM112.94 287.9L112.75 288.94L112.51 289.91L112.21 290.77L111.88 291.47L111.53 291.99L111.18 292.29L110.84 292.37L110.54 292.2L110.29 291.82L110.09 291.22L109.97 290.45L109.92 289.54L109.95 288.54L110.06 287.5L110.25 286.46L110.49 285.49L110.79 284.63L111.12 283.93L111.47 283.41L111.82 283.11L112.16 283.03L112.46 283.2L112.71 283.58L112.91 284.18L113.03 284.95L113.08 285.86L113.05 286.86Z" fill="none" stroke="#6a6a6a" stroke-width=".45"/>
<path d="M112.37 287.82L112.26 288.45L112.11 289.04L111.93 289.56L111.73 289.99L111.52 290.3L111.31 290.49L111.1 290.53L110.92 290.43L110.76 290.2L110.65 289.84L110.57 289.37L110.54 288.82L110.56 288.21L110.63 287.58L110.74 286.95L110.89 286.36L111.07 285.84L111.27 285.41L111.48 285.1L111.69 284.91L111.9 284.87L112.08 284.97L112.24 285.2L112.35 285.56L112.43 286.03L112.46 286.58L112.44 287.19Z" fill="#2a2a2a"/>
</g>
<rect x="88" y="263.4" width="39" height="39" fill="none" stroke="#000" stroke-width="1.1"/>
<path d="M88 267.4h-1.6M91 302.4v1.6M88 274.4h-1.6M98 302.4v1.6M88 281.4h-1.6M105 302.4v1.6M88 288.4h-1.6M112 302.4v1.6M88 295.4h-1.6M119 302.4v1.6M88 302.4h-1.6M126 302.4v1.6" stroke="#000" stroke-width=".6"/>
<clipPath id="cp5"><rect x="133" y="219.2" width="39" height="39"/></clipPath>
<g clip-path="url(#cp5)">
<g fill="#000" filter="url(#hz)"><ellipse cx="164" cy="232.2" rx="4" ry="8" fill-opacity="0.09" transform="rotate(0 164 232.2)"/><ellipse cx="145" cy="241.2" rx="8" ry="10" fill-opacity="0.07" transform="rotate(0 145 241.2)"/><ellipse cx="148.5" cy="225.4" rx="17.2" ry="4.24" fill-opacity="0.12" transform="rotate(-7 148.5 225.4)"/><ellipse cx="164.5" cy="245.2" rx="7.75" ry="11.8" fill-opacity="0.12" transform="rotate(22 164.5 245.2)"/></g>
<path d="M133.8 221.5h.7m36.1-0.9h.7m-32.3 1.6h.7m-.1-0.7h.7m20 .4h.7m6.7 2.1h.7m-31.9 1.4h.7m11.6-0.1h.7m7.5-0.8h.7m6.1 .5h.7m.9-0.3h.7m-20.6 1.7h.7m1-0.4h.7m14.7-0.2h.7m-.6-0.1h.7m-.6-0.1h.7m.7 .1h.7m0 .3h.7m0 .1h.7m-1.2 1.1h.7m.6-0.2h.7m-33.1 .9h.7m6.8 0h.7m20.3 .6h.7m.1-0.9h.7m.5-0.1h.7m-16.3 1.2h.7m1.7 .4h.7m9.2 0h.7m1.2-0.4h.7m-17.5 2.8h.7m4.7-0.7h.7m13.6-0.1h.7m.8 .4h.7m-14 .5h.7m8.7 .3h.7m-27.3 .7h.7m4.5 0h.7m.8 .4h.7m-.6 .4h.7m1.5 0h.7m-.1-0.2h.7m5.2-0.6h.7m8.7 0h.7m1.2 2h.7m-26.9 1.6h.7m9.3 .1h.7m2.5-0.6h.7m-16.9 1.7h.7m3.5-0.5h.7m5.2 0h.7m25.2 0h.7m-36.6 1.6h.7m10.1-0.5h.7m.5-0.3h.7m17.2 .3h.7m-12.7 .5h.7m-14 1.4h.7m31 .1h.7m-24.3 1.7h.7m6.1-0.2h.7m-17.6 1.1h.7m7 0h.7m0 0h.7m22.9 1.8h.7m0-0.9h.7m-37.1 2h.7m5-0.4h.7m14 .4h.7m-2.6 1.9h.7m-15.2 .7h.7m2.7 .3h.7m15.5-0.5h.7m-9.7 .8h.7m4.5 .5h.7m-19.9 .4h.7m22.6 0h.7m-2.1 1.5h.7m-17.6 .7h.7m22.1 0h.7m1.1 .6h.7m7-0.3h.7m-38.6 .7h.7m36.5 .1h.7m-35.9 1.6h.7m5 1h.7m2.1-1h.7m1.6 .3h.7m9.6-0.2h.7m4.2 .1h.7m6.5 .8h.7m-34.6 .1h.7m4.8 .4h.7m3.4 .2h.7m14.5 .2h.7m.9-0.6h.7m1.7-0.3h.7m-16.6 1.8h.7m11.2 .3h.7" stroke="#a0a0a0" stroke-width="0.7"/>
<path d="M160.41 223.94L160.18 224.5L159.36 225.12L157.99 225.74L156.15 226.35L153.93 226.91L151.44 227.4L148.79 227.78L146.13 228.05L143.6 228.18L141.3 228.17L139.37 228.03L137.9 227.75L136.95 227.36L136.59 226.86L136.82 226.3L137.64 225.68L139.01 225.06L140.85 224.45L143.07 223.89L145.56 223.4L148.21 223.02L150.87 222.75L153.4 222.62L155.7 222.63L157.63 222.77L159.1 223.05L160.05 223.44Z" fill="#e4e4e4" stroke="#2a2a2a" stroke-width=".7" stroke-linejoin="round"/>
<path d="M157.04 224.35L156.87 224.76L156.28 225.2L155.3 225.64L153.99 226.08L152.39 226.48L150.6 226.83L148.71 227.11L146.8 227.3L144.99 227.39L143.34 227.39L141.96 227.28L140.9 227.09L140.22 226.8L139.96 226.45L140.13 226.04L140.72 225.6L141.7 225.16L143.01 224.72L144.61 224.32L146.4 223.97L148.29 223.69L150.2 223.5L152.01 223.41L153.66 223.41L155.04 223.52L156.1 223.71L156.78 224ZM153.66 224.77L153.56 225.01L153.21 225.28L152.61 225.55L151.82 225.81L150.85 226.06L149.77 226.27L148.63 226.43L147.48 226.55L146.37 226.6L145.38 226.6L144.54 226.54L143.9 226.42L143.5 226.25L143.34 226.03L143.44 225.79L143.79 225.52L144.39 225.25L145.18 224.99L146.15 224.74L147.23 224.53L148.37 224.37L149.52 224.25L150.63 224.2L151.62 224.2L152.46 224.26L153.1 224.38L153.5 224.55Z" fill="none" stroke="#6a6a6a" stroke-width=".45"/>
<path d="M151.12 225.08L151.07 225.2L150.89 225.34L150.59 225.48L150.18 225.61L149.69 225.73L149.15 225.84L148.56 225.92L147.98 225.98L147.42 226.01L146.92 226.01L146.49 225.98L146.17 225.92L145.96 225.83L145.88 225.72L145.93 225.6L146.11 225.46L146.41 225.32L146.82 225.19L147.31 225.07L147.85 224.96L148.44 224.88L149.02 224.82L149.58 224.79L150.08 224.79L150.51 224.82L150.83 224.88L151.04 224.97Z" fill="#2a2a2a"/>
<path d="M169.14 247.07L168.35 248.68L167.38 250.11L166.26 251.29L165.05 252.17L163.81 252.7L162.61 252.85L161.5 252.62L160.55 252.01L159.79 251.07L159.27 249.83L159.01 248.36L159.02 246.73L159.31 245.02L159.86 243.33L160.65 241.72L161.62 240.29L162.74 239.11L163.95 238.23L165.19 237.7L166.39 237.55L167.5 237.78L168.45 238.39L169.21 239.33L169.73 240.57L169.99 242.04L169.98 243.67L169.69 245.38Z" fill="#e4e4e4" stroke="#2a2a2a" stroke-width=".7" stroke-linejoin="round"/>
<path d="M168.15 246.68L167.53 247.94L166.77 249.06L165.88 250L164.93 250.69L163.96 251.1L163.01 251.22L162.14 251.04L161.39 250.57L160.79 249.82L160.38 248.85L160.17 247.69L160.19 246.41L160.42 245.06L160.85 243.72L161.47 242.46L162.23 241.34L163.12 240.4L164.07 239.71L165.04 239.3L165.99 239.18L166.86 239.36L167.61 239.83L168.21 240.58L168.62 241.55L168.83 242.71L168.81 243.99L168.58 245.34ZM167.17 246.28L166.72 247.2L166.15 248.02L165.51 248.7L164.81 249.21L164.1 249.51L163.41 249.6L162.78 249.47L162.23 249.12L161.79 248.58L161.49 247.86L161.34 247.02L161.35 246.08L161.52 245.1L161.83 244.12L162.28 243.2L162.85 242.38L163.49 241.7L164.19 241.19L164.9 240.89L165.59 240.8L166.22 240.93L166.77 241.28L167.21 241.82L167.51 242.54L167.66 243.38L167.65 244.32L167.48 245.3ZM166.18 245.88L165.9 246.46L165.54 246.98L165.14 247.41L164.7 247.73L164.25 247.92L163.81 247.97L163.41 247.89L163.07 247.67L162.79 247.33L162.6 246.88L162.51 246.35L162.51 245.75L162.62 245.14L162.82 244.52L163.1 243.94L163.46 243.42L163.86 242.99L164.3 242.67L164.75 242.48L165.19 242.43L165.59 242.51L165.93 242.73L166.21 243.07L166.4 243.52L166.49 244.05L166.49 244.65L166.38 245.26Z" fill="none" stroke="#6a6a6a" stroke-width=".45"/>
<path d="M165.52 245.61L165.35 245.96L165.13 246.28L164.89 246.54L164.62 246.73L164.35 246.85L164.08 246.88L163.84 246.83L163.63 246.7L163.46 246.49L163.35 246.22L163.29 245.9L163.3 245.54L163.36 245.16L163.48 244.79L163.65 244.44L163.87 244.12L164.11 243.86L164.38 243.67L164.65 243.55L164.92 243.52L165.16 243.57L165.37 243.7L165.54 243.91L165.65 244.18L165.71 244.5L165.7 244.86L165.64 245.24Z" fill="#2a2a2a"/>
</g>
<rect x="133" y="219.2" width="39" height="39" fill="none" stroke="#000" stroke-width="1.1"/>
<path d="M133 223.2h-1.6M136 258.2v1.6M133 230.2h-1.6M143 258.2v1.6M133 237.2h-1.6M150 258.2v1.6M133 244.2h-1.6M157 258.2v1.6M133 251.2h-1.6M164 258.2v1.6M133 258.2h-1.6M171 258.2v1.6" stroke="#000" stroke-width=".6"/>
<clipPath id="cp6"><rect x="133" y="263.4" width="39" height="39"/></clipPath>
<g clip-path="url(#cp6)">
<g fill="#000" filter="url(#hz)"><ellipse cx="147" cy="285.4" rx="8" ry="8" fill-opacity="0.09" transform="rotate(0 147 285.4)"/><path d="M136.07 269.38L143.22 266.39L158.82 266.13L166.62 270.68L156.22 275.23L151.02 278.48L144.52 275.23Z" fill-opacity="0.12"/><ellipse cx="165.4" cy="285.4" rx="4.78" ry="13.83" fill-opacity="0.12" transform="rotate(8 165.4 285.4)"/></g>
<path d="M144.6 264.1h.7m14.7 .3h.7m-20.7 .3h.7m22.4-0.2h.7m-13.2 1.6h.7m14.6 .2h.7m-17.6 .9h.7m6.2 .1h.7m-4.9 2h.7m-.5-0.2h.7m-15.5 2.3h.7m7.6 0h.7m24.7 1.8h.7m-24.3 .4h.7m4 .2h.7m9.3 .2h.7m1.5 0h.7m-8.4 1.5h.7m.5-0.5h.7m-10.5 .5h.7m7.9 .6h.7m0-0.6h.7m6.3 .7h.7m.8 .5h.7m-31.7 .9h.7m33.3 .6h.7m-24.2 1.1h.7m2-0.6h.7m.2 .3h.7m.3-0.1h.7m11.5 .1h.7m-27.1 1h.7m7-0.5h.7m12.9 .4h.7m3.7-0.3h.7m-8.5 1.6h.7m10-0.4h.7m-21.1 1.1h.7m4.2 .5h.7m2.1-0.2h.7m-7.2 1h.7m-.2 .1h.7m2.3-0.4h.7m19 .6h.7m-23.5 .3h.7m3.8 .6h.7m13.3-0.9h.7m2.4 .4h.7m-26.8 1h.7m-3.3 1.4h.7m2.6 .2h.7m27.5-0.2h.7m-25 1h.7m20.8-0.1h.7m-27.8 .4h.7m-.6 .6h.7m-7.1 .9h.7m3.7 0h.7m2.5-0.3h.7m10.4 .2h.7m-2.1 1.3h.7m2.5-0.5h.7m3.3 .6h.7m5.3-0.4h.7m-26.9 1.2h.7m12.9-0.5h.7m-17.5 2.6h.7m12.4-0.1h.7m3-0.4h.7m-15.1 1.5h.7m6.2 .1h.7m7.4-0.7h.7m-2.2 1.8h.7m12.4-0.4h.7m-22.8 1.7h.7m4 1.5h.7m12.1-0.6h.7m11 .1h.7m-24.2 1.5h.7m2.8-0.2h.7m12.3 .4h.7m-23.6 .4h.7m5.8-0.3h.7m10.6 1.2h.7m4.8 .2h.7m-26.5 .9h.7" stroke="#a0a0a0" stroke-width="0.7"/>
<path d="M141.56 269.04L142.94 268.46L144.72 268.02L146.91 267.71L149.5 267.52L152.5 267.47L155.12 267.66L157.38 268.07L159.25 268.71L160.75 269.59L161.38 270.46L161.12 271.34L160 272.21L158 273.09L156.25 273.9L154.75 274.65L153.5 275.34L152.5 275.96L151.44 276.27L150.31 276.27L149.12 275.96L147.88 275.34L146.53 274.59L145.09 273.71L143.56 272.71L141.94 271.59L141.06 270.6L140.94 269.75Z" fill="#e4e4e4" stroke="#2a2a2a" stroke-width=".7" stroke-linejoin="round"/>
<path d="M143.55 269.59L144.64 269.14L146.04 268.79L147.76 268.54L149.8 268.4L152.17 268.36L154.23 268.5L156.01 268.83L157.48 269.34L158.66 270.02L159.16 270.71L158.96 271.4L158.07 272.09L156.5 272.78L155.12 273.42L153.94 274.01L152.95 274.55L152.17 275.04L151.33 275.29L150.44 275.29L149.51 275.04L148.52 274.55L147.47 273.96L146.33 273.27L145.13 272.49L143.85 271.6L143.16 270.82L143.06 270.15ZM145.54 270.14L146.33 269.81L147.36 269.56L148.62 269.38L150.11 269.28L151.83 269.25L153.34 269.35L154.64 269.59L155.71 269.96L156.58 270.46L156.94 270.96L156.79 271.47L156.14 271.97L154.99 272.47L153.99 272.94L153.13 273.37L152.41 273.77L151.83 274.13L151.22 274.31L150.57 274.31L149.89 274.13L149.17 273.77L148.4 273.34L147.57 272.83L146.69 272.26L145.76 271.61L145.26 271.04L145.18 270.55ZM147.53 270.7L148.03 270.49L148.68 270.33L149.47 270.22L150.41 270.15L151.5 270.13L152.45 270.2L153.27 270.35L153.95 270.58L154.49 270.9L154.72 271.21L154.62 271.53L154.22 271.85L153.49 272.17L152.86 272.46L152.31 272.73L151.86 272.98L151.5 273.21L151.11 273.32L150.71 273.32L150.27 273.21L149.82 272.98L149.33 272.71L148.81 272.39L148.26 272.03L147.67 271.62L147.35 271.26L147.31 270.96Z" fill="none" stroke="#6a6a6a" stroke-width=".45"/>
<path d="M148.87 271.07L149.17 270.94L149.56 270.85L150.04 270.78L150.61 270.74L151.27 270.73L151.85 270.77L152.35 270.86L152.76 271L153.09 271.19L153.23 271.38L153.17 271.58L152.92 271.77L152.48 271.96L152.1 272.14L151.77 272.3L151.49 272.46L151.27 272.59L151.04 272.66L150.79 272.66L150.53 272.59L150.26 272.46L149.96 272.29L149.64 272.1L149.31 271.88L148.95 271.63L148.76 271.41L148.73 271.23Z" fill="#666"/>
<path d="M168.17 285.79L167.81 287.87L167.32 289.83L166.74 291.57L166.1 293L165.41 294.04L164.73 294.66L164.08 294.81L163.49 294.48L163.01 293.71L162.64 292.51L162.41 290.96L162.33 289.13L162.4 287.11L162.63 285.01L162.99 282.93L163.48 280.97L164.06 279.23L164.7 277.8L165.39 276.76L166.07 276.14L166.72 275.99L167.31 276.32L167.79 277.09L168.16 278.29L168.39 279.84L168.47 281.67L168.4 283.69Z" fill="#e4e4e4" stroke="#2a2a2a" stroke-width=".7" stroke-linejoin="round"/>
<path d="M167.39 285.68L167.13 287.17L166.78 288.58L166.36 289.82L165.9 290.85L165.41 291.6L164.92 292.04L164.45 292.14L164.03 291.91L163.68 291.35L163.42 290.5L163.26 289.39L163.2 288.07L163.25 286.63L163.41 285.12L163.67 283.63L164.02 282.22L164.44 280.98L164.9 279.95L165.39 279.2L165.88 278.76L166.35 278.66L166.77 278.89L167.12 279.45L167.38 280.3L167.54 281.41L167.6 282.73L167.55 284.17ZM166.6 285.57L166.44 286.47L166.23 287.32L165.98 288.07L165.7 288.69L165.41 289.15L165.11 289.41L164.83 289.48L164.57 289.34L164.36 289L164.2 288.48L164.1 287.81L164.07 287.02L164.1 286.14L164.2 285.23L164.36 284.33L164.57 283.48L164.82 282.73L165.1 282.11L165.39 281.65L165.69 281.39L165.97 281.32L166.23 281.46L166.44 281.8L166.6 282.32L166.7 282.99L166.73 283.78L166.7 284.66Z" fill="none" stroke="#6a6a6a" stroke-width=".45"/>
<path d="M166.01 285.49L165.93 285.94L165.82 286.38L165.7 286.76L165.55 287.07L165.4 287.3L165.25 287.44L165.11 287.47L164.98 287.4L164.87 287.23L164.79 286.96L164.74 286.62L164.72 286.22L164.74 285.78L164.79 285.31L164.87 284.86L164.98 284.42L165.1 284.04L165.25 283.73L165.4 283.5L165.55 283.36L165.69 283.33L165.82 283.4L165.93 283.57L166.01 283.84L166.06 284.18L166.08 284.58L166.06 285.02Z" fill="#2a2a2a"/>
</g>
<rect x="133" y="263.4" width="39" height="39" fill="none" stroke="#000" stroke-width="1.1"/>
<path d="M133 267.4h-1.6M136 302.4v1.6M133 274.4h-1.6M143 302.4v1.6M133 281.4h-1.6M150 302.4v1.6M133 288.4h-1.6M157 302.4v1.6M133 295.4h-1.6M164 302.4v1.6M133 302.4h-1.6M171 302.4v1.6" stroke="#000" stroke-width=".6"/>
<clipPath id="cp7"><rect x="180" y="219.2" width="39" height="39"/></clipPath>
<g clip-path="url(#cp7)">
<g fill="#000" filter="url(#hz)"><ellipse cx="192" cy="245.2" rx="10" ry="8" fill-opacity="0.09" transform="rotate(0 192 245.2)"/><path d="M179.16 223.77L193.46 219.22L210.36 221.82L206.46 234.82L189.56 239.37Z" fill-opacity="0.12"/><ellipse cx="209.6" cy="243.3" rx="5.86" ry="13.15" fill-opacity="0.12" transform="rotate(8 209.6 243.3)"/></g>
<path d="M217.6 221.5h.7m-35.4 .8h.7m9.8-0.6h.7m7.2 .4h.7m3.2 .4h.7m.3-0.7h.7m-23.7 1.3h.7m2.1 1.1h.7m.2-0.1h.7m30.1 .1h.7m-37.9 1.2h.7m11.6 0h.7m10.3-0.1h.7m12.4 .1h.7m-29.2 .5h.7m-6.3 1.6h.7m1.7 .7h.7m-.5 .9h.7m1.1-0.6h.7m15 1.2h.7m-5.9 1.4h.7m9.8-0.5h.7m2.8-0.1h.7m.7 .2h.7m0 .9h.7m-24.4 1.3h.7m-6.4 .6h.7m15.8 .1h.7m3.2 .3h.7m-14.4 1.6h.7m3.6-0.6h.7m6.3-0.1h.7m-22.4 .8h.7m.5 .6h.7m23.8-0.3h.7m-25.7 1.3h.7m1.5-0.4h.7m18.2 .2h.7m-16.9 1.3h.7m1.9-0.1h.7m-.2-0.1h.7m-7.4 .9h.7m9.9 .5h.7m.5 1.7h.7m14.4 .3h.7m-22.9 .3h.7m1.7-0.3h.7m1.9 .5h.7m-.5 0h.7m13.6 .3h.7m-7.5 .9h.7m-16.4 .6h.7m14.1 .6h.7m-17.9 .7h.7m10.7-0.3h.7m1.1 .3h.7m2.6-0.2h.7m1.8-0.4h.7m-.5 .4h.7m-19.1 1.5h.7m1.7-0.6h.7m13.4 .4h.7m10.7 .1h.7m5.3-0.4h.7m-23.1 .7h.7m-6.4 1.6h.7m7.1 .3h.7m-14.4 .4h.7m12.9-0.3h.7m17.7 .7h.7m-23.9 .6h.7m.8-0.2h.7m2.7 .1h.7m16.6 .2h.7m-22.2 .7h.7m3.7 .4h.7m-.5 .3h.7m-16 1.5h.7m11.9 .4h.7m.6-0.5h.7m4.4 .2h.7m.2 .3h.7m9.5-0.8h.7m-8 3.2h.7m7.4-0.1h.7m-8 1.8h.7" stroke="#a0a0a0" stroke-width="0.7"/>
<path d="M187.12 223.39L189.88 222.51L192.75 221.98L195.75 221.79L198.88 221.95L202.12 222.45L204.38 223.45L205.62 224.95L205.88 226.95L205.12 229.45L203.75 231.54L201.75 233.23L199.12 234.51L195.88 235.39L192.94 235.29L190.31 234.23L188 232.2L186 229.2L185.19 226.73L185.56 224.79Z" fill="#e4e4e4" stroke="#2a2a2a" stroke-width=".7" stroke-linejoin="round"/>
<path d="M188.97 224.33L191.13 223.64L193.4 223.22L195.76 223.07L198.22 223.19L200.78 223.59L202.55 224.37L203.54 225.56L203.73 227.13L203.14 229.1L202.06 230.75L200.49 232.08L198.42 233.09L195.86 233.78L193.55 233.7L191.48 232.86L189.66 231.26L188.08 228.9L187.44 226.96L187.74 225.43ZM190.81 225.26L192.39 224.76L194.05 224.45L195.77 224.35L197.57 224.44L199.44 224.72L200.73 225.3L201.45 226.16L201.59 227.31L201.16 228.75L200.37 229.95L199.22 230.92L197.71 231.66L195.84 232.16L194.15 232.11L192.64 231.5L191.31 230.33L190.16 228.6L189.7 227.19L189.91 226.07ZM192.66 226.2L193.65 225.88L194.69 225.69L195.78 225.62L196.91 225.68L198.09 225.86L198.91 226.22L199.36 226.77L199.45 227.49L199.18 228.4L198.68 229.16L197.96 229.77L197.01 230.23L195.83 230.55L194.76 230.52L193.81 230.13L192.97 229.4L192.25 228.31L191.95 227.41L192.09 226.71Z" fill="none" stroke="#6a6a6a" stroke-width=".45"/>
<path d="M193.89 226.83L194.5 226.64L195.13 226.52L195.79 226.48L196.48 226.51L197.19 226.62L197.69 226.84L197.96 227.17L198.02 227.61L197.85 228.16L197.55 228.62L197.11 228.99L196.53 229.28L195.82 229.47L195.17 229.45L194.59 229.21L194.08 228.77L193.64 228.11L193.47 227.56L193.55 227.14Z" fill="#666"/>
<path d="M213.16 243.8L212.8 245.77L212.27 247.62L211.61 249.25L210.84 250.58L210.02 251.55L209.17 252.1L208.35 252.21L207.59 251.88L206.92 251.11L206.4 249.96L206.03 248.47L205.84 246.72L205.85 244.79L206.04 242.8L206.4 240.83L206.93 238.98L207.59 237.35L208.36 236.02L209.18 235.05L210.03 234.5L210.85 234.39L211.61 234.72L212.28 235.49L212.8 236.64L213.17 238.13L213.36 239.88L213.35 241.81Z" fill="#e4e4e4" stroke="#2a2a2a" stroke-width=".7" stroke-linejoin="round"/>
<path d="M212.41 243.69L212.12 245.25L211.7 246.7L211.18 247.98L210.58 249.03L209.93 249.79L209.26 250.23L208.61 250.32L208.01 250.05L207.49 249.45L207.08 248.54L206.79 247.37L206.64 245.99L206.64 244.48L206.79 242.91L207.08 241.35L207.5 239.9L208.02 238.62L208.62 237.57L209.27 236.81L209.94 236.37L210.59 236.28L211.19 236.55L211.71 237.15L212.12 238.06L212.41 239.23L212.56 240.61L212.56 242.12ZM211.65 243.59L211.44 244.72L211.13 245.78L210.75 246.72L210.31 247.49L209.84 248.04L209.35 248.36L208.88 248.42L208.44 248.23L208.06 247.79L207.76 247.13L207.55 246.27L207.44 245.26L207.44 244.16L207.55 243.01L207.76 241.88L208.07 240.82L208.45 239.88L208.89 239.11L209.36 238.56L209.85 238.24L210.32 238.18L210.76 238.37L211.14 238.81L211.44 239.47L211.65 240.33L211.76 241.34L211.76 242.44ZM210.89 243.48L210.76 244.2L210.57 244.87L210.33 245.46L210.05 245.94L209.75 246.29L209.44 246.49L209.15 246.53L208.87 246.41L208.63 246.13L208.44 245.71L208.31 245.17L208.24 244.54L208.24 243.84L208.31 243.12L208.44 242.4L208.63 241.73L208.87 241.14L209.15 240.66L209.45 240.31L209.76 240.11L210.05 240.07L210.33 240.19L210.57 240.47L210.76 240.89L210.89 241.43L210.96 242.06L210.96 242.76Z" fill="none" stroke="#6a6a6a" stroke-width=".45"/>
<path d="M210.38 243.41L210.3 243.84L210.19 244.25L210.04 244.61L209.87 244.9L209.69 245.11L209.51 245.24L209.32 245.26L209.16 245.19L209.01 245.02L208.9 244.76L208.82 244.44L208.77 244.05L208.77 243.63L208.82 243.19L208.9 242.76L209.01 242.35L209.16 241.99L209.33 241.7L209.51 241.49L209.69 241.36L209.88 241.34L210.04 241.41L210.19 241.58L210.3 241.84L210.38 242.16L210.43 242.55L210.43 242.97Z" fill="#2a2a2a"/>
</g>
<rect x="180" y="219.2" width="39" height="39" fill="none" stroke="#000" stroke-width="1.1"/>
<path d="M180 223.2h-1.6M183 258.2v1.6M180 230.2h-1.6M190 258.2v1.6M180 237.2h-1.6M197 258.2v1.6M180 244.2h-1.6M204 258.2v1.6M180 251.2h-1.6M211 258.2v1.6M180 258.2h-1.6M218 258.2v1.6" stroke="#000" stroke-width=".6"/>
<clipPath id="cp8"><rect x="180" y="263.4" width="39" height="39"/></clipPath>
<g clip-path="url(#cp8)">
<g fill="#000" filter="url(#hz)"><ellipse cx="195" cy="291.4" rx="10" ry="8" fill-opacity="0.09" transform="rotate(0 195 291.4)"/><path d="M178.44 266.96L188.84 264.62L201.84 264.62L207.69 266.96L201.84 276.06L198.59 289.06L191.44 282.56L182.34 274.76Z" fill-opacity="0.12"/><ellipse cx="209.6" cy="283.7" rx="5.05" ry="6.67" fill-opacity="0.12" transform="rotate(10 209.6 283.7)"/></g>
<path d="M191.9 264.4h.7m24.6-0.4h.7m-4.1 1.2h.7m-28.6 1.1h.7m31.1 0h.7m-34.3 .8h.7m12.5 0h.7m-3.1 1.1h.7m1.9-0.2h.7m-17.1 1.2h.7m15.9-0.5h.7m-10.4 .9h.7m6.9 .6h.7m2.2-0.4h.7m-10.1 1.6h.7m24.6-0.8h.7m-2.8 1.3h.7m5.5 0h.7m-35.5 1.4h.7m-.5-0.5h.7m4.3 .4h.7m-8.3 .8h.7m20.9 .9h.7m10.4-0.1h.7m-33.7 2.1h.7m27.1 .4h.7m0-0.4h.7m-14.7 .7h.7m-6.9 1.9h.7m-3 1h.7m2.9-0.5h.7m6.2-0.2h.7m6.7 1.5h.7m2.1 .5h.7m8 .7h.7m-19.4 .2h.7m2.2 .6h.7m2.2-0.5h.7m8.4 .2h.7m-28.8 .7h.7m9.4 .1h.7m-10.2 2.2h.7m4-0.1h.7m4.7-0.2h.7m18.9 .3h.7m2.6-0.1h.7m-35.9 1.6h.7m11.2 1.5h.7m3.9-0.4h.7m-15.9 1.5h.7m8.5 .1h.7m6.6-0.5h.7m1.2 0h.7m-18 1h.7m-.2-0.1h.7m-.2 .7h.7m3.3-0.5h.7m3.4 .2h.7m2.1 .5h.7m.1-0.6h.7m1-0.1h.7m-.6-0.3h.7m1.8 0h.7m1.6 0h.7m2.8 .3h.7m-6.3 .8h.7m-.5 .7h.7m-17.8 .6h.7m1.9 .1h.7m.6 .4h.7m27-0.6h.7m-30.1 2.7h.7m5.1-0.5h.7m-.1-0.4h.7m-.1 1h.7m-1.4 1.7h.7m-11.6 .9h.7m8.6 0h.7m2.8 0h.7m.9-0.4h.7m-10.4 2h.7m.5 .7h.7m17.4-0.5h.7m-20.6 .8h.7m17.7 .1h.7m-16.1 .7h.7" stroke="#a0a0a0" stroke-width="0.7"/>
<path d="M185 267.72L187 267.27L189.12 266.94L191.38 266.71L193.75 266.6L196.25 266.6L198.41 266.71L200.22 266.94L201.69 267.27L202.81 267.72L203.38 268.5L203.38 269.6L202.81 271.02L201.69 272.77L200.69 274.71L199.81 276.84L199.06 279.15L198.44 281.65L197.62 283.21L196.62 283.84L195.44 283.52L194.06 282.27L192.59 280.96L191.03 279.59L189.38 278.15L187.62 276.65L186.12 275.15L184.88 273.65L183.88 272.15L183.12 270.65L183.06 269.41L183.69 268.44Z" fill="#e4e4e4" stroke="#2a2a2a" stroke-width=".7" stroke-linejoin="round"/>
<path d="M186.89 268.89L188.46 268.53L190.13 268.27L191.91 268.09L193.78 268L195.75 268L197.44 268.09L198.87 268.27L200.03 268.53L200.91 268.89L201.36 269.5L201.36 270.36L200.91 271.49L200.03 272.87L199.24 274.39L198.55 276.06L197.96 277.89L197.47 279.85L196.83 281.08L196.04 281.58L195.11 281.33L194.02 280.35L192.87 279.31L191.64 278.23L190.33 277.1L188.95 275.92L187.77 274.74L186.79 273.55L186 272.37L185.41 271.19L185.36 270.22L185.85 269.45ZM188.77 270.05L189.92 269.79L191.14 269.6L192.44 269.47L193.8 269.4L195.24 269.4L196.48 269.47L197.52 269.6L198.37 269.79L199.01 270.05L199.34 270.5L199.34 271.13L199.01 271.95L198.37 272.96L197.79 274.07L197.29 275.29L196.86 276.62L196.5 278.06L196.03 278.96L195.46 279.32L194.77 279.14L193.98 278.42L193.14 277.66L192.24 276.87L191.29 276.05L190.28 275.18L189.42 274.32L188.7 273.46L188.12 272.6L187.69 271.73L187.66 271.02L188.02 270.46ZM190.66 271.22L191.38 271.05L192.15 270.93L192.97 270.85L193.83 270.81L194.74 270.81L195.52 270.85L196.17 270.93L196.71 271.05L197.11 271.22L197.32 271.5L197.32 271.89L197.11 272.41L196.71 273.05L196.34 273.75L196.03 274.52L195.76 275.36L195.53 276.26L195.23 276.83L194.87 277.06L194.44 276.94L193.94 276.49L193.41 276.01L192.84 275.52L192.24 274.99L191.61 274.45L191.07 273.91L190.61 273.36L190.25 272.82L189.98 272.28L189.96 271.83L190.18 271.47Z" fill="none" stroke="#6a6a6a" stroke-width=".45"/>
<path d="M191.92 272L192.36 271.9L192.83 271.82L193.32 271.77L193.85 271.75L194.4 271.75L194.87 271.77L195.27 271.82L195.59 271.9L195.84 272L195.97 272.17L195.97 272.41L195.84 272.72L195.59 273.11L195.37 273.53L195.18 274L195.02 274.51L194.88 275.06L194.7 275.4L194.48 275.54L194.22 275.47L193.92 275.2L193.59 274.91L193.25 274.61L192.88 274.29L192.5 273.96L192.17 273.63L191.9 273.3L191.68 272.97L191.51 272.64L191.5 272.37L191.63 272.15Z" fill="#666"/>
<path d="M212.55 284.22L212.32 285.13L211.95 285.96L211.46 286.69L210.87 287.26L210.22 287.65L209.55 287.85L208.87 287.84L208.23 287.62L207.66 287.2L207.19 286.61L206.84 285.87L206.62 285.03L206.56 284.11L206.65 283.18L206.88 282.27L207.25 281.44L207.74 280.71L208.33 280.14L208.98 279.75L209.65 279.55L210.33 279.56L210.97 279.78L211.54 280.2L212.01 280.79L212.36 281.53L212.58 282.37L212.64 283.29Z" fill="#e4e4e4" stroke="#2a2a2a" stroke-width=".7" stroke-linejoin="round"/>
<path d="M211.72 284.07L211.55 284.72L211.28 285.32L210.93 285.84L210.51 286.25L210.05 286.53L209.56 286.67L209.08 286.66L208.62 286.51L208.21 286.21L207.87 285.78L207.62 285.26L207.47 284.65L207.42 284L207.48 283.33L207.65 282.68L207.92 282.08L208.27 281.56L208.69 281.15L209.15 280.87L209.64 280.73L210.12 280.74L210.58 280.89L210.99 281.19L211.33 281.62L211.58 282.14L211.73 282.75L211.78 283.4ZM210.88 283.93L210.78 284.32L210.62 284.68L210.4 284.99L210.15 285.24L209.87 285.41L209.58 285.5L209.28 285.49L209.01 285.4L208.76 285.22L208.55 284.96L208.4 284.64L208.31 284.27L208.28 283.88L208.32 283.47L208.42 283.08L208.58 282.72L208.8 282.41L209.05 282.16L209.33 281.99L209.62 281.9L209.92 281.91L210.19 282L210.44 282.18L210.65 282.44L210.8 282.76L210.89 283.13L210.92 283.52Z" fill="none" stroke="#6a6a6a" stroke-width=".45"/>
<path d="M210.25 283.81L210.2 284.01L210.12 284.2L210.01 284.36L209.88 284.48L209.74 284.57L209.59 284.61L209.44 284.61L209.3 284.56L209.17 284.47L209.07 284.34L208.99 284.18L208.94 283.99L208.93 283.79L208.95 283.59L209 283.39L209.08 283.2L209.19 283.04L209.32 282.92L209.46 282.83L209.61 282.79L209.76 282.79L209.9 282.84L210.03 282.93L210.13 283.06L210.21 283.22L210.26 283.41L210.27 283.61Z" fill="#2a2a2a"/>
</g>
<rect x="180" y="263.4" width="39" height="39" fill="none" stroke="#000" stroke-width="1.1"/>
<path d="M180 267.4h-1.6M183 302.4v1.6M180 274.4h-1.6M190 302.4v1.6M180 281.4h-1.6M197 302.4v1.6M180 288.4h-1.6M204 302.4v1.6M180 295.4h-1.6M211 302.4v1.6M180 302.4h-1.6M218 302.4v1.6" stroke="#000" stroke-width=".6"/>
<clipPath id="cp9"><rect x="226.8" y="219.2" width="39" height="39"/></clipPath>
<g clip-path="url(#cp9)">
<g fill="#000" filter="url(#hz)"><ellipse cx="235.8" cy="231.8" rx="9" ry="2.8" fill-opacity="0.21" transform="rotate(-8 235.8 231.8)"/><ellipse cx="236.8" cy="246.2" rx="8" ry="8" fill-opacity="0.07" transform="rotate(0 236.8 246.2)"/><ellipse cx="246.8" cy="225.6" rx="11.12" ry="3.7" fill-opacity="0.12" transform="rotate(-5 246.8 225.6)"/><path d="M255.82 227.24L261.54 236.86L255.56 258.7L246.59 244.4Z" fill-opacity="0.12"/></g>
<path d="M235 220h.7m13.4 .4h.7m-22 1.6h.7m25.2 .2h.7m6.3-0.4h.7m-33.4 1.1h.7m14.6 .1h.7m7.6 .2h.7m4.4-0.2h.7m4-0.2h.7m-25.8 1.1h.7m13 .4h.7m11-0.3h.7m2.8 .3h.7m-25.1 .7h.7m7.2-0.1h.7m.9 .5h.7m-1.7 .9h.7m2.7-0.1h.7m1.5-0.5h.7m-18.2 2h.7m5.7 .1h.7m-8 1.5h.7m2.7-0.5h.7m13.7 .3h.7m-20.2 1.3h.7m.9 0h.7m-.5-0.3h.7m.2 .2h.7m1.4-0.2h.7m1.3 .2h.7m-.5-0.1h.7m16.8-0.7h.7m-29.8 1.4h.7m-.5 .2h.7m.1-0.3h.7m-.4 .1h.7m3.8 .4h.7m5.8-0.8h.7m.8 .7h.7m-17.1 1h.7m.5 0h.7m0 0h.7m-.4 0h.7m-.4-0.3h.7m3.3-0.3h.7m1.5 .4h.7m-.4-0.4h.7m-.5 .8h.7m-.2-0.8h.7m.5 .1h.7m2.8 .7h.7m-.6-0.3h.7m.9-0.3h.7m-.2 .2h.7m12.8 .2h.7m-30.9 .9h.7m.6 .4h.7m4.7-0.7h.7m-.4-0.2h.7m3.4 .4h.7m-.3 .4h.7m-.6-0.2h.7m-10.9 .9h.7m-.7-0.5h.7m.3 .3h.7m-.4 .3h.7m4.3 .3h.7m1.6-0.5h.7m2-0.5h.7m1.6 .4h.7m1.7 0h.7m14.4-0.2h.7m-17.4 1.1h.7m-15.8 1h.7m26.4 .1h.7m-6.5 .9h.7m3.8 .1h.7m-13 1.5h.7m-14.9 .4h.7m29.8-0.2h.7m-28.2 1.6h.7m-1.8 .6h.7m.5 0h.7m5.2 .5h.7m15.7 .8h.7m-20 .5h.7m2 .3h.7m2.2 .1h.7m8.5 .1h.7m15.7-0.4h.7m-34.8 .9h.7m10.4 .8h.7m-11.1 1h.7m12.4-0.4h.7m-.7 1.4h.7m-7.4 .5h.7m14.4 .4h.7m-14.9 .7h.7m2.5 .1h.7m-14.3 1.3h.7m2.2 .1h.7m11.6-0.8h.7m5.5 .4h.7m-13.8 1h.7m.1-0.5h.7m-.1 .9h.7m-.8 1.8h.7m.1-0.7h.7m-6.8 1h.7m1.6 .8h.7m4.9-0.9h.7m8.1 1.2h.7m-3.8 1h.7m-.4 .1h.7m-13.3 .9h.7m1.5 .6h.7m13.6-0.2h.7m-.6 .3h.7m2.9-0.6h.7m-25.6 1h.7m12.7 .4h.7m-5.8 .3h.7" stroke="#a0a0a0" stroke-width="0.7"/>
<path d="M254.27 224.95L254.12 225.41L253.61 225.88L252.75 226.33L251.59 226.75L250.2 227.11L248.63 227.4L246.97 227.59L245.31 227.69L243.72 227.68L242.28 227.57L241.07 227.35L240.14 227.05L239.55 226.68L239.33 226.25L239.48 225.79L239.99 225.32L240.85 224.87L242.01 224.45L243.4 224.09L244.97 223.8L246.63 223.61L248.29 223.51L249.88 223.52L251.32 223.63L252.53 223.85L253.46 224.15L254.05 224.52Z" fill="#e4e4e4" stroke="#2a2a2a" stroke-width=".7" stroke-linejoin="round"/>
<path d="M252.15 225.13L252.05 225.46L251.68 225.8L251.06 226.12L250.24 226.42L249.24 226.68L248.11 226.89L246.92 227.03L245.73 227.1L244.59 227.09L243.56 227.01L242.69 226.86L242.03 226.64L241.61 226.37L241.45 226.07L241.55 225.74L241.92 225.4L242.54 225.08L243.36 224.78L244.36 224.52L245.49 224.31L246.68 224.17L247.87 224.1L249.01 224.11L250.04 224.19L250.91 224.34L251.57 224.56L251.99 224.83ZM250.04 225.32L249.97 225.52L249.75 225.72L249.38 225.92L248.88 226.1L248.27 226.25L247.59 226.38L246.88 226.46L246.15 226.5L245.46 226.5L244.84 226.45L244.32 226.36L243.92 226.23L243.66 226.07L243.56 225.88L243.63 225.68L243.85 225.48L244.22 225.28L244.72 225.1L245.33 224.95L246.01 224.82L246.72 224.74L247.45 224.7L248.14 224.7L248.76 224.75L249.28 224.84L249.68 224.97L249.94 225.13Z" fill="none" stroke="#6a6a6a" stroke-width=".45"/>
<path d="M248.44 225.46L248.41 225.56L248.3 225.66L248.11 225.76L247.85 225.85L247.55 225.93L247.2 226L246.84 226.04L246.47 226.06L246.12 226.06L245.81 226.03L245.54 225.99L245.34 225.92L245.21 225.84L245.16 225.74L245.19 225.64L245.3 225.54L245.49 225.44L245.75 225.35L246.05 225.27L246.4 225.2L246.76 225.16L247.13 225.14L247.48 225.14L247.79 225.17L248.06 225.21L248.26 225.28L248.39 225.36Z" fill="#2a2a2a"/>
<path d="M255.6 230.6L260 238L255.4 254.8L248.5 243.8Z" fill="#e4e4e4" stroke="#2a2a2a" stroke-width=".7" stroke-linejoin="round"/>
<path d="M255.45 232.98L258.91 238.81L255.29 252.04L249.85 243.37ZM255.29 235.36L257.82 239.61L255.18 249.27L251.21 242.95ZM255.14 237.74L256.73 240.42L255.07 246.51L252.56 242.52Z" fill="none" stroke="#6a6a6a" stroke-width=".45"/>
<path d="M255.03 239.34L256 240.96L254.99 244.66L253.47 242.24Z" fill="#2a2a2a"/>
</g>
<rect x="226.8" y="219.2" width="39" height="39" fill="none" stroke="#000" stroke-width="1.1"/>
<path d="M226.8 223.2h-1.6M229.8 258.2v1.6M226.8 230.2h-1.6M236.8 258.2v1.6M226.8 237.2h-1.6M243.8 258.2v1.6M226.8 244.2h-1.6M250.8 258.2v1.6M226.8 251.2h-1.6M257.8 258.2v1.6M226.8 258.2h-1.6M264.8 258.2v1.6" stroke="#000" stroke-width=".6"/>
<clipPath id="cp10"><rect x="226.8" y="263.4" width="39" height="39"/></clipPath>
<g clip-path="url(#cp10)">
<g fill="#000" filter="url(#hz)"><ellipse cx="234.8" cy="274.4" rx="8" ry="3" fill-opacity="0.2" transform="rotate(-10 234.8 274.4)"/><ellipse cx="236.8" cy="290.4" rx="8" ry="8" fill-opacity="0.07" transform="rotate(0 236.8 290.4)"/><ellipse cx="245" cy="270.3" rx="15.18" ry="4.51" fill-opacity="0.12" transform="rotate(-6 245 270.3)"/><path d="M255.74 271.35L261.45 279.41L255.74 302.42L247.68 292.02Z" fill-opacity="0.12"/></g>
<path d="M243 265.3h.7m-.6-0.1h.7m.1 1.2h.7m5.6-0.1h.7m-.3-0.7h.7m13.9 0h.7m-36.7 1.8h.7m4.2 1h.7m15.3-0.2h.7m6-0.6h.7m-30 1.4h.7m16.4 1.2h.7m.6 0h.7m5.5-0.2h.7m7-0.4h.7m-20 1.8h.7m-8.3 .4h.7m-.5 .4h.7m-.6 .2h.7m.3 0h.7m4-0.4h.7m.3 .4h.7m.5-0.2h.7m7.5-0.5h.7m-20.3 1.7h.7m-.2-0.5h.7m1 .3h.7m.5 0h.7m-.7-0.3h.7m0-0.1h.7m-.1 .2h.7m6.4-0.4h.7m-.2 .8h.7m.3-0.2h.7m-14.4 .5h.7m1.3 0h.7m3.8-0.1h.7m.6 .7h.7m-9.6 .9h.7m.3 .1h.7m1.1 .2h.7m1.3-0.4h.7m2 0h.7m1.2-0.5h.7m-.4 0h.7m3.2 .1h.7m20.6 .7h.7m.8-0.7h.7m-35.9 .9h.7m-.4 .4h.7m.7-0.4h.7m1.2 .2h.7m-.6 .5h.7m2.9-0.7h.7m-.6 .8h.7m1.7-0.8h.7m0 .4h.7m6.5 .4h.7m-18.6 .5h.7m4.7-0.2h.7m13.6 1.4h.7m-.2 .6h.7m-9.6 1.7h.7m1.3-0.5h.7m1.5 .6h.7m3.6-0.3h.7m4.1-0.2h.7m8.8 .4h.7m-33.7 .5h.7m.4 .3h.7m13.8 .2h.7m-.3-0.5h.7m5.9 .4h.7m3.2 .8h.7m1.3 0h.7m5.5 .2h.7m-38.3 1.9h.7m8.4-0.3h.7m12.3 .5h.7m2.1-0.2h.7m8.9-0.5h.7m-23.7 1.3h.7m-.4-0.2h.7m2.3-0.2h.7m-2.3 1.2h.7m-.4-0.1h.7m10.1 .6h.7m-22.2 .8h.7m1.8 .3h.7m4.3 0h.7m21.6-0.6h.7m-17.2 1.6h.7m9.2 .7h.7m6.2 .4h.7m-10.2 .5h.7m-24 1h.7m8.9 .4h.7m3.4 .3h.7m1.2 .8h.7m-12.6 .2h.7m.5 .4h.7m5.5 .1h.7m-5.7 1.4h.7m11.9 .4h.7m5.1 .1h.7m5.5 .1h.7m-9.4 .8h.7m-6.4 .5h.7m-4.9 1.2h.7m.9 .3h.7m10.1 .5h.7m1.9-0.8h.7m-.4 .3h.7m-26.5 .6h.7m7 1.5h.7m18.9 .4h.7m.9 0h.7m-14.6 .2h.7m19.8 0h.7" stroke="#a0a0a0" stroke-width="0.7"/>
<path d="M255.44 269.2L255.24 269.81L254.53 270.43L253.33 271.05L251.72 271.64L249.78 272.15L247.59 272.58L245.27 272.89L242.94 273.07L240.71 273.11L238.7 273.01L237.01 272.77L235.71 272.41L234.88 271.95L234.56 271.4L234.76 270.79L235.47 270.17L236.67 269.55L238.28 268.96L240.22 268.45L242.41 268.02L244.73 267.71L247.06 267.53L249.29 267.49L251.3 267.59L252.99 267.83L254.29 268.19L255.12 268.65Z" fill="#e4e4e4" stroke="#2a2a2a" stroke-width=".7" stroke-linejoin="round"/>
<path d="M252.48 269.51L252.34 269.95L251.83 270.4L250.97 270.84L249.82 271.26L248.42 271.63L246.86 271.93L245.19 272.15L243.52 272.28L241.93 272.31L240.49 272.24L239.27 272.07L238.34 271.81L237.75 271.48L237.52 271.09L237.66 270.65L238.17 270.2L239.03 269.76L240.18 269.34L241.58 268.97L243.14 268.67L244.81 268.45L246.48 268.32L248.07 268.29L249.51 268.36L250.73 268.53L251.66 268.79L252.25 269.12ZM249.53 269.82L249.44 270.09L249.13 270.36L248.61 270.63L247.91 270.88L247.07 271.1L246.12 271.29L245.12 271.42L244.11 271.5L243.14 271.52L242.27 271.47L241.54 271.37L240.97 271.21L240.61 271.01L240.47 270.78L240.56 270.51L240.87 270.24L241.39 269.97L242.09 269.72L242.93 269.5L243.88 269.31L244.88 269.18L245.89 269.1L246.86 269.08L247.73 269.13L248.46 269.23L249.03 269.39L249.39 269.59Z" fill="none" stroke="#6a6a6a" stroke-width=".45"/>
<path d="M247.3 270.06L247.25 270.19L247.1 270.33L246.83 270.47L246.48 270.59L246.05 270.71L245.57 270.8L245.06 270.87L244.55 270.91L244.06 270.92L243.61 270.9L243.24 270.84L242.96 270.76L242.77 270.66L242.7 270.54L242.75 270.41L242.9 270.27L243.17 270.13L243.52 270.01L243.95 269.89L244.43 269.8L244.94 269.73L245.45 269.69L245.94 269.68L246.39 269.7L246.76 269.76L247.04 269.84L247.23 269.94Z" fill="#2a2a2a"/>
<path d="M255.6 274.8L260 281L255.6 298.7L249.4 290.7Z" fill="#e4e4e4" stroke="#2a2a2a" stroke-width=".7" stroke-linejoin="round"/>
<path d="M255.5 277.24L258.97 282.13L255.5 296.06L250.62 289.76ZM255.41 279.69L257.94 283.25L255.41 293.43L251.84 288.83ZM255.31 282.13L256.91 284.38L255.31 290.79L253.07 287.89Z" fill="none" stroke="#6a6a6a" stroke-width=".45"/>
<path d="M255.25 283.77L256.22 285.13L255.25 289.03L253.89 287.27Z" fill="#2a2a2a"/>
</g>
<rect x="226.8" y="263.4" width="39" height="39" fill="none" stroke="#000" stroke-width="1.1"/>
<path d="M226.8 267.4h-1.6M229.8 302.4v1.6M226.8 274.4h-1.6M236.8 302.4v1.6M226.8 281.4h-1.6M243.8 302.4v1.6M226.8 288.4h-1.6M250.8 302.4v1.6M226.8 295.4h-1.6M257.8 302.4v1.6M226.8 302.4h-1.6M264.8 302.4v1.6" stroke="#000" stroke-width=".6"/>
<clipPath id="cp11"><rect x="272.4" y="219.2" width="39" height="39"/></clipPath>
<g clip-path="url(#cp11)">
<g fill="#000" filter="url(#hz)"><ellipse cx="282.4" cy="232.6" rx="9" ry="3" fill-opacity="0.21" transform="rotate(-8 282.4 232.6)"/><ellipse cx="284.4" cy="246.2" rx="9" ry="8" fill-opacity="0.07" transform="rotate(0 284.4 246.2)"/><ellipse cx="293.5" cy="225.4" rx="12.48" ry="4.11" fill-opacity="0.12" transform="rotate(0 293.5 225.4)"/><path d="M302.62 228.04L307.69 240.27L301.97 258.47L292.61 247.02Z" fill-opacity="0.12"/></g>
<path d="M278.9 220.3h.7m19.7 1h.7m-23.3 .7h.7m6.5 .4h.7m-.4 .1h.7m8.1-0.5h.7m-4.8 1.6h.7m-9.8 2h.7m22.7 .9h.7m-21.5 .4h.7m24.7 .6h.7m-35.6 .2h.7m1.9 .7h.7m8.7 0h.7m-8.2 .7h.7m2-0.2h.7m-7.3 1h.7m5.7 .6h.7m.4-0.5h.7m-.7-0.5h.7m3.6 1h.7m1.9-0.8h.7m-.2 .5h.7m-.5-0.5h.7m-.3 .6h.7m-.6 0h.7m.5 0h.7m5.2 0h.7m5.6-0.3h.7m-26.7 1.2h.7m0-0.4h.7m-.4 .1h.7m1.4 .6h.7m-.2-0.1h.7m-.7-0.1h.7m.6-0.6h.7m1.5-0.2h.7m2.1 .4h.7m-.3-0.2h.7m.9-0.1h.7m.5 .4h.7m5.3-0.1h.7m-21.5 1.5h.7m.1-0.1h.7m-.5-0.1h.7m-.3 .1h.7m0-0.4h.7m3.1 .3h.7m-.3 .3h.7m-.3-0.1h.7m.1-0.7h.7m.4 .5h.7m1.6 .2h.7m.5-0.3h.7m-.2-0.2h.7m14.2 .3h.7m-23 .5h.7m3.8 .8h.7m2.8-0.9h.7m-13.7 1.1h.7m3.2 0h.7m.4 .2h.7m6.5-0.3h.7m17.2 .8h.7m-29 .7h.7m-.1-0.2h.7m2.8-0.2h.7m1.9-0.2h.7m17.8 .4h.7m7.5-0.1h.7m-33.6 .9h.7m-4 1.6h.7m12.3-0.4h.7m6.5-0.2h.7m13.1 .7h.7m-1.2 .2h.7m1.1 .5h.7m-30.1 1.1h.7m8.6 1h.7m.2 .8h.7m-14.5 .8h.7m10.1 .6h.7m4.4-0.4h.7m-10.8 .5h.7m14.9 .6h.7m8-0.5h.7m-31.4 1h.7m1.5 .6h.7m13-0.1h.7m.3-0.1h.7m12.1 .1h.7m-14.2 .8h.7m-15.3 1.5h.7m3.1-0.1h.7m.2 .2h.7m-3.1 .6h.7m6.5-0.5h.7m17.3 0h.7m-25.4 .9h.7m0 .6h.7m11 0h.7m-17.3 .4h.7m32.9 0h.7m-33.9 2h.7m9.7-0.6h.7m9.4-0.1h.7m12.3 .4h.7m-32.4 1h.7m3.9-0.2h.7m24-0.2h.7m-26.5 1h.7m1.1-0.3h.7m5.5 .2h.7m3.9 .4h.7m14.4-0.2h.7m-25.5 1.4h.7m9.5-0.7h.7m5.6 2.8h.7m-27.3 .9h.7m5.3-0.5h.7m29.1 .6h.7m-34.2 .9h.7m33.4 .2h.7" stroke="#a0a0a0" stroke-width="0.7"/>
<path d="M302 225.4L301.79 225.91L301.16 226.4L300.15 226.83L298.8 227.2L297.19 227.47L295.39 227.64L293.5 227.7L291.61 227.64L289.81 227.47L288.2 227.2L286.85 226.83L285.84 226.4L285.21 225.91L285 225.4L285.21 224.89L285.84 224.4L286.85 223.97L288.2 223.6L289.81 223.33L291.61 223.16L293.5 223.1L295.39 223.16L297.19 223.33L298.8 223.6L300.15 223.97L301.16 224.4L301.79 224.89Z" fill="#e4e4e4" stroke="#2a2a2a" stroke-width=".7" stroke-linejoin="round"/>
<path d="M299.59 225.4L299.44 225.77L298.99 226.12L298.26 226.43L297.3 226.69L296.14 226.89L294.86 227.01L293.5 227.05L292.14 227.01L290.86 226.89L289.7 226.69L288.74 226.43L288.01 226.12L287.56 225.77L287.41 225.4L287.56 225.03L288.01 224.68L288.74 224.37L289.7 224.11L290.86 223.91L292.14 223.79L293.5 223.75L294.86 223.79L296.14 223.91L297.3 224.11L298.26 224.37L298.99 224.68L299.44 225.03ZM297.18 225.4L297.09 225.62L296.82 225.83L296.38 226.02L295.8 226.18L295.1 226.3L294.32 226.37L293.5 226.4L292.68 226.37L291.9 226.3L291.2 226.18L290.62 226.02L290.18 225.83L289.91 225.62L289.82 225.4L289.91 225.18L290.18 224.97L290.62 224.78L291.2 224.62L291.9 224.5L292.68 224.43L293.5 224.4L294.32 224.43L295.1 224.5L295.8 224.62L296.38 224.78L296.82 224.97L297.09 225.18Z" fill="none" stroke="#6a6a6a" stroke-width=".45"/>
<path d="M295.37 225.4L295.32 225.51L295.18 225.62L294.96 225.72L294.67 225.8L294.31 225.86L293.92 225.89L293.5 225.91L293.08 225.89L292.69 225.86L292.33 225.8L292.04 225.72L291.82 225.62L291.68 225.51L291.63 225.4L291.68 225.29L291.82 225.18L292.04 225.08L292.33 225L292.69 224.94L293.08 224.91L293.5 224.89L293.92 224.91L294.31 224.94L294.67 225L294.96 225.08L295.18 225.18L295.32 225.29Z" fill="#2a2a2a"/>
<path d="M302.3 231.6L306.2 241L301.8 255L294.6 246.2Z" fill="#e4e4e4" stroke="#2a2a2a" stroke-width=".7" stroke-linejoin="round"/>
<path d="M302.07 234.12L305.14 241.52L301.68 252.55L296.01 245.62ZM301.84 236.64L304.09 242.04L301.56 250.09L297.42 245.03ZM301.61 239.15L303.03 242.56L301.43 247.64L298.82 244.45Z" fill="none" stroke="#6a6a6a" stroke-width=".45"/>
<path d="M301.46 240.84L302.32 242.91L301.35 245.99L299.77 244.05Z" fill="#2a2a2a"/>
</g>
<rect x="272.4" y="219.2" width="39" height="39" fill="none" stroke="#000" stroke-width="1.1"/>
<path d="M272.4 223.2h-1.6M275.4 258.2v1.6M272.4 230.2h-1.6M282.4 258.2v1.6M272.4 237.2h-1.6M289.4 258.2v1.6M272.4 244.2h-1.6M296.4 258.2v1.6M272.4 251.2h-1.6M303.4 258.2v1.6M272.4 258.2h-1.6M310.4 258.2v1.6" stroke="#000" stroke-width=".6"/>
<clipPath id="cp12"><rect x="272.4" y="263.4" width="39" height="39"/></clipPath>
<g clip-path="url(#cp12)">
<g fill="#000" filter="url(#hz)"><ellipse cx="287.4" cy="285.4" rx="10" ry="10" fill-opacity="0.09" transform="rotate(0 287.4 285.4)"/><ellipse cx="291" cy="269.5" rx="15.31" ry="5.59" fill-opacity="0.12" transform="rotate(0 291 269.5)"/><ellipse cx="302.5" cy="286.3" rx="6.4" ry="17.2" fill-opacity="0.12" transform="rotate(5 302.5 286.3)"/></g>
<path d="M282.1 264.2h.7m4.7 .9h.7m3.8-0.3h.7m12.2-0.2h.7m-6.2 1.3h.7m-7.9 1.5h.7m5.3 1.9h.7m-2.4 .8h.7m9.7 0h.7m-20.9 1h.7m12.3 .9h.7m-23.2 .8h.7m11 .3h.7m-16.4 1h.7m.4 .3h.7m8.7-0.8h.7m-3.6 1h.7m-3.5 1.2h.7m5.1 .6h.7m5.7-0.1h.7m11.3 .6h.7m-29.6 1.2h.7m12.4-0.4h.7m2.1 .6h.7m-4.2 1h.7m-9.2 .7h.7m3.4 .1h.7m.1 .2h.7m2.4-0.1h.7m2.2-0.4h.7m6.6 .5h.7m5.7-0.5h.7m-27.6 1.6h.7m2.8-0.8h.7m.5 .5h.7m-.8 1h.7m15.3-0.1h.7m-9.5 1.3h.7m16.3-0.4h.7m-22.8 1h.7m4.8 .2h.7m1.4-0.5h.7m-13.1 1.2h.7m6.4-0.2h.7m-10.2 2.8h.7m15.5 0h.7m7.8-0.6h.7m-16.5 1.3h.7m2 0h.7m4.3-0.4h.7m2.5-0.1h.7m9.6 .6h.7m-14.3 .7h.7m.8 .1h.7m1 0h.7m15.2 .1h.7m-35 .9h.7m3.3 .3h.7m3-0.6h.7m8.4 .6h.7m5.7 0h.7m-.5-0.8h.7m-19 1.1h.7m3.6 .3h.7m1.9 2.3h.7m-3.2 .6h.7m-11.9 1.4h.7m.4-0.2h.7m3.6-0.1h.7m3.2-0.2h.7m0 2.4h.7m-6.8 .5h.7m.5 .7h.7m15.5-0.2h.7m-20.8 .6h.7m3.4 .3h.7m21.3-0.4h.7m-19.1 1.3h.7m-.1-0.1h.7m6.8 .5h.7m-.5-0.1h.7m16 .3h.7m1.8-0.6h.7m-21.7 1.2h.7m10.4-0.4h.7m9.1 1.1h.7" stroke="#a0a0a0" stroke-width="0.7"/>
<path d="M301.6 269.5L301.33 270.26L300.55 270.98L299.29 271.62L297.61 272.16L295.6 272.56L293.36 272.81L291 272.9L288.64 272.81L286.4 272.56L284.39 272.16L282.71 271.62L281.45 270.98L280.67 270.26L280.4 269.5L280.67 268.74L281.45 268.02L282.71 267.38L284.39 266.84L286.4 266.44L288.64 266.19L291 266.1L293.36 266.19L295.6 266.44L297.61 266.84L299.29 267.38L300.55 268.02L301.33 268.74Z" fill="#e4e4e4" stroke="#2a2a2a" stroke-width=".7" stroke-linejoin="round"/>
<path d="M299.35 269.5L299.14 270.1L298.52 270.66L297.53 271.17L296.2 271.59L294.62 271.91L292.86 272.11L291 272.18L289.14 272.11L287.38 271.91L285.8 271.59L284.47 271.17L283.48 270.66L282.86 270.1L282.65 269.5L282.86 268.9L283.48 268.34L284.47 267.83L285.8 267.41L287.38 267.09L289.14 266.89L291 266.82L292.86 266.89L294.62 267.09L296.2 267.41L297.53 267.83L298.52 268.34L299.14 268.9ZM297.1 269.5L296.94 269.94L296.49 270.35L295.77 270.72L294.8 271.03L293.64 271.26L292.36 271.41L291 271.45L289.64 271.41L288.36 271.26L287.2 271.03L286.23 270.72L285.51 270.35L285.06 269.94L284.9 269.5L285.06 269.06L285.51 268.65L286.23 268.28L287.2 267.97L288.36 267.74L289.64 267.59L291 267.55L292.36 267.59L293.64 267.74L294.8 267.97L295.77 268.28L296.49 268.65L296.94 269.06ZM294.84 269.5L294.75 269.77L294.46 270.03L294 270.27L293.4 270.46L292.67 270.61L291.86 270.7L291 270.73L290.14 270.7L289.33 270.61L288.6 270.46L288 270.27L287.54 270.03L287.25 269.77L287.16 269.5L287.25 269.23L287.54 268.97L288 268.73L288.6 268.54L289.33 268.39L290.14 268.3L291 268.27L291.86 268.3L292.67 268.39L293.4 268.54L294 268.73L294.46 268.97L294.75 269.23Z" fill="none" stroke="#6a6a6a" stroke-width=".45"/>
<path d="M293.33 269.5L293.27 269.67L293.1 269.82L292.82 269.97L292.45 270.08L292.01 270.17L291.52 270.23L291 270.25L290.48 270.23L289.99 270.17L289.55 270.08L289.18 269.97L288.9 269.82L288.73 269.67L288.67 269.5L288.73 269.33L288.9 269.18L289.18 269.03L289.55 268.92L289.99 268.83L290.48 268.77L291 268.75L291.52 268.77L292.01 268.83L292.45 268.92L292.82 269.03L293.1 269.18L293.27 269.33Z" fill="#2a2a2a"/>
<path d="M306.48 286.65L306.15 289.3L305.64 291.8L304.96 294.03L304.17 295.86L303.29 297.22L302.37 298.03L301.45 298.25L300.59 297.88L299.83 296.92L299.2 295.43L298.73 293.48L298.46 291.17L298.38 288.62L298.52 285.95L298.85 283.3L299.36 280.8L300.04 278.57L300.83 276.74L301.71 275.38L302.63 274.57L303.55 274.35L304.41 274.72L305.17 275.68L305.8 277.17L306.27 279.12L306.54 281.43L306.62 283.98Z" fill="#e4e4e4" stroke="#2a2a2a" stroke-width=".7" stroke-linejoin="round"/>
<path d="M305.64 286.57L305.38 288.66L304.97 290.63L304.44 292.38L303.81 293.83L303.12 294.9L302.4 295.54L301.68 295.71L301 295.42L300.4 294.66L299.9 293.49L299.53 291.95L299.32 290.14L299.26 288.13L299.36 286.03L299.62 283.94L300.03 281.97L300.56 280.22L301.19 278.77L301.88 277.7L302.6 277.06L303.32 276.89L304 277.18L304.6 277.94L305.1 279.11L305.47 280.65L305.68 282.46L305.74 284.47ZM304.79 286.5L304.6 288.02L304.3 289.46L303.92 290.74L303.46 291.8L302.95 292.58L302.42 293.05L301.9 293.17L301.4 292.96L300.96 292.41L300.6 291.55L300.33 290.43L300.17 289.1L300.13 287.63L300.21 286.1L300.4 284.58L300.7 283.14L301.08 281.86L301.54 280.8L302.05 280.02L302.58 279.55L303.1 279.43L303.6 279.64L304.04 280.19L304.4 281.05L304.67 282.17L304.83 283.5L304.87 284.97ZM303.94 286.43L303.82 287.39L303.64 288.29L303.39 289.1L303.1 289.77L302.79 290.26L302.45 290.55L302.12 290.63L301.81 290.5L301.53 290.15L301.3 289.61L301.13 288.9L301.03 288.07L301.01 287.14L301.06 286.17L301.18 285.21L301.36 284.31L301.61 283.5L301.9 282.83L302.21 282.34L302.55 282.05L302.88 281.97L303.19 282.1L303.47 282.45L303.7 282.99L303.87 283.7L303.97 284.53L303.99 285.46Z" fill="none" stroke="#6a6a6a" stroke-width=".45"/>
<path d="M303.38 286.38L303.3 286.96L303.19 287.51L303.04 288L302.87 288.4L302.67 288.7L302.47 288.88L302.27 288.93L302.08 288.85L301.91 288.64L301.77 288.31L301.67 287.88L301.61 287.37L301.59 286.81L301.62 286.22L301.7 285.64L301.81 285.09L301.96 284.6L302.13 284.2L302.33 283.9L302.53 283.72L302.73 283.67L302.92 283.75L303.09 283.96L303.23 284.29L303.33 284.72L303.39 285.23L303.41 285.79Z" fill="#2a2a2a"/>
</g>
<rect x="272.4" y="263.4" width="39" height="39" fill="none" stroke="#000" stroke-width="1.1"/>
<path d="M272.4 267.4h-1.6M275.4 302.4v1.6M272.4 274.4h-1.6M282.4 302.4v1.6M272.4 281.4h-1.6M289.4 302.4v1.6M272.4 288.4h-1.6M296.4 302.4v1.6M272.4 295.4h-1.6M303.4 302.4v1.6M272.4 302.4h-1.6M310.4 302.4v1.6" stroke="#000" stroke-width=".6"/>
<text x="361.8" y="196.8" font-size="10.4" font-weight="bold" fill="#000" color="#000">D</text>
<path d="M416.3 245.6h.95m13.65 11.2h.95m-18.55 13.1h.95m13.05-17.8h.95m6.95-9.9h.95m-20.65 2.6h.95m19.75-0.9h.95m-3.35 1.6h.95m-21.85 25.8h.95m.75-14h.95m16.65-17.1h.95m-22.65 29.9h.95m1.55-4.8h.95m17.55-5.2h.95m-.55-7.1h.95m-1.75 .1h.95m-6.55-1.8h.95m-1.15 3.1h.95m4.65-20.1h.95m-11.15 1h.95m-8.65 32.1h.95m5.85-14.6h.95m5.25 2.8h.95m-15.85-16.3h.95m-2.45 15.6h.95m-.95-9.3h.95m8.25-3.2h.95m9.55 9.4h.95m-13.05 12.2h.95m11.15-25.8h.95m-11.45 17.3h.95m11.25-9.9h.95m.05-6.2h.95m-13.85 21.1h.95m-1.15-21.7h.95m5.75 15.5h.95m-8.25-4.6h.95m.15-3.3h.95m9.15-5.5h.95m-12.65 6.1h.95m14.85 10.2h.95m-11.95-18.9h.95m8.55 9.2h.95m-9.15-11h.95m-11.25 19.4h.95m-6.85 2.1h.95m20.15-23.4h.95m2.25 .3h.95m.25 5.5h.95m-1.05 4.5h.95m-9.25-1.3h.95m-6.15 18h.95m.15-18h.95m-11.25 3h.95m22.65-7.7h.95m-9.25 4.8h.95m-6.85 13.3h.95m7.25-9.2h.95m-10.75 15.2h.95m-1.25-7.5h.95m3.95-4.5h.95m1.95-5.5h.95m-10.05 14.6h.95m10.55-20.5h.95m-2.55-3h.95m-16.95 30.6h.95m7.75-13.8h.95m2.45-15h.95m13.05 1.2h.95m-24.35 5.3h.95m1.05 10.3h.95m10.35-11.2h.95m-17.75 2.3h.95m5.75 19.7h.95m-3.95 4.6h.95m-1.95-6.2h.95m-2.65-10.1h.95m23.45-6.5h.95m-2.85 7.7h.95m-18.35-18.8h.95m12.15 13.5h.95m-7.75 7.4h.95m6.65-7.4h.95m-14.35-9.8h.95m9.25-6.7h.95m-3.95 3.1h.95m1.75 15.2h.95m-12.65 .4h.95m-2.45-5.4h.95m19.65-8.5h.95m-19.85 1.2h.95m7.35-5.6h.95m-10.95 19.1h.95m-5.65-1.5h.95m7.25 .3h.95m-8.95 .1h.95m22.15 2.7h.95m-6.75-12.8h.95m3.15 14.4h.95m-18.15 4.5h.95m8.65-8.7h.95m-3.25-16.4h.95m-5.35 12.6h.95m12.25-8.3h.95m-13.05 17.6h.95m-7.85-6.3h.95m4.05-13.9h.95m15.35 18.4h.95m-15.15-20.4h.95m13.45 22h.95m-20.75 9.6h.95m9.25-32.1h.95m1.15 9.1h.95m3.85-7.3h.95m-5.45 18.1h.95m-5.15-11.5h.95m-7.05-5.8h.95m15.25 14.1h.95m-17.85 .4h.95m21.15-15.4h.95m-19.95 23.2h.95m16.95-21.2h.95m-22.05 14.9h.95m2.25-11.6h.95m7.05-7.8h.95m-15.65 18.1h.95m20.45 3.5h.95m-5.85-15.1h.95m-11.35 .2h.95m-6.55 2.3h.95m11.05-4.1h.95m-1.35 2.7h.95m1.15 .8h.95m5.95 6.1h.95m-6.85-16.4h.95m-9.05 4.1h.95m-4.05 12.6h.95m7.45-11h.95m8.95 4.5h.95m-6.65-1.2h.95m-11.55 7.2h.95m4.55 5.6h.95m-2.55 10.6h.95m3.35-29h.95m-14.95 12.8h.95m12.25 0h.95m7.35 4.6h.95m-20.05-9.2h.95m16.65 5h.95m-8.35 5h.95m-2.35 1.8h.95m-6.65-8.6h.95m16.35-11.6h.95m-23.85 24.1h.95m-.35-14.9h.95m2.25 7.1h.95m20.05-1h.95m-24.85 13h.95m19.95-21.8h.95m-22.15 18.6h.95m8.75-15.3h.95m2.65-6.2h.95m-7.25 20.5h.95m-4.55 6.8h.95m-4.35-6.5h.95m5.25 1.8h.95m16.25-20.7h.95m-14.85-7.5h.95m-7.35 17.7h.95m-2.85-0.4h.95m-1.55 12.5h.95m17.55-20.3h.95m-14.25 7h.95m3.25 1.7h.95m-6.95-3.3h.95m-4.75 23.3h.95m-1.05-18.4h.95m23.95-3.8h.95m-23.75 7.8h.95m12.35-8h.95m-13.35 10.8h.95m-4.95 8.7h.95m6.85-29.8h.95m8.15 13.7h.95m-.55-12.4h.95m-4.25-5.7h.95m8.85 3.7h.95m-21.95 6.5h.95m8.55 13.8h.95m-2.55-15.2h.95m-8.15 19.2h.95m-.35-16.9h.95m9.65-6.9h.95m9.25 7.6h.95m-23.75 5.2h.95m1.85-8.1h.95m2.45-2.8h.95m-2.25-3.3h.95m-2.95 2.4h.95m-6.15 21.6h.95m13.05-19.7h.95m-13.65 25.7h.95m21.45-7.8h.95m-23.35-15.6h.95m-2.05 7.5h.95m16.15 8h.95m-4.35-2.7h.95m10.55-0.7h.95m-13.55-22.1h.95m-8.95 6.5h.95m3.85 5.2h.95m.75 17.8h.95m9.75-15.7h.95m1.45 1.9h.95m-24.85-2.2h.95m20.05 11.9h.95m-14.55 4.7h.95m6.15-21.6h.95m1.95-4.9h.95m.85 17.9h.95m-15.75-14.8h.95m6.85 5.2h.95m7.25 2.9h.95m-14.55-12.4h.95m5.45 24.6h.95m-.85-24.8h.95m1.75-1.2h.95m6.35 19.5h.95m-22.75 5.5h.95m11.25-5.9h.95m-.35 4.6h.95m-13.95 6.4h.95m22.15-14.3h.95m-4.85-10.4h.95m-17.05 18h.95m17.75-1.6h.95m-18.75-13.6h.95m-4.05 3.3h.95m6.35 13.7h.95m-7.35 4.5h.95m2.25-15.8h.95m-1.85-7.7h.95m8.65 15.7h.95m-.75 3.1h.95m-12.45 6.3h.95m14.45-10.6h.95m6.05-14.5h.95m-17.45 7.5h.95m-4.65-3.2h.95m-1.75-1.1h.95m6.75-8.6h.95m-11.85 10.7h.95m8.35-12.4h.95m-9.95 6.7h.95m2.45 28h.95m-7.85-20h.95m-.45 8.9h.95m12.15-9.3h.95m12.05-5.1h.95m-13.25-2.6h.95m1.85 .7h.95m.25 10.7h.95m-5.15 5.9h.95m-6.45-12.7h.95m-4.65 14.1h.95m3.35-4.3h.95m10.15 2.4h.95m1.05-10.8h.95m-17.75-7.1h.95m11.75 2.2h.95m2.45-4.2h.95m.45-1.2h.95m-8.55 21.9h.95m-6.65-4.2h.95m-6.55-13.7h.95m-3.75 32.3h.95m4.45-32h.95m2.25 25.6h.95m4.65-27.3h.95m1.05 2.6h.95m4.45 13.8h.95m-22.55 6.9h.95m5.15 1.2h.95m17.75-17.7h.95m-11.15-10.7h.95m-2.95 22.9h.95m-11.15 6.4h.95m.85-5.6h.95m-2.55-19.3h.95m-.65 23.7h.95m20.85-11.4h.95m-11.55-8.6h.95m-.35-9.2h.95m-16.75 21.9h.95m-.35-8.9h.95m4.95-4.5h.95m4.15 7.6h.95m-11.25 .2h.95m11.75-10.1h.95m-10.45 10.6h.95m6.65 1.6h.95m-10.65-2.8h.95m21.75 8.2h.95m.15-16.8h.95m-5.25 10.1h.95m-15.05 18.3h.95m2.55-32.4h.95m-11.45 28.5h.95m7.05-27.5h.95m-5.35 28.7h.95m-3.15-9.1h.95m22.05-9.1h.95m-19.45 6.8h.95m8.05-9.5h.95m-3.65-4.9h.95m8.95-1.1h.95m-11.75 7.6h.95m9.65 2.7h.95m2.75-5.9h.95m-25.35 16.7h.95m-1.85 1.4h.95m2.75-20.4h.95m14.95 2.5h.95m-10.85 12.1h.95m-9.85 13.8h.95m19.35-15h.95m-12.35-20.3h.95m-11.15 18.5h.95m20.15-12.9h.95m.05 16h.95m-11.35-7.6h.95m5.25-13.6h.95m-9.55 4.6h.95m14.15-0.4h.95m-.15 12.2h.95m-19.65 15.6h.95m11.35-28.3h.95m-11.95 6.9h.95m-1.05 21.1h.95m13.85-32h.95m-24.75 26h.95m12.85-0.1h.95m-11.95 3.4h.95m5.65-7.5h.95m-4.95-16.4h.95m17.35 18.1h.95m-25.25 1.9h.95m17.95-26.5h.95m-11.35 31.9h.95m1.05-15.6h.95m-1.05-3h.95m-1.85 5.3h.95m3.55 3.4h.95m-11.95-8.3h.95m21.35 7.6h.95m-25.05 3.8h.95m10.75-21.1h.95m8.85 2.3h.95m-12.15 24.6h.95m-4.05-18.3h.95m14.15 11.3h.95m-2.15-17.6h.95m4.05 7.7h.95m-24.75 7.6h.95m14.05-12.1h.95m.35-5.6h.95m-7.95 13.6h.95m2.85-5.3h.95m-6.85 1.4h.95m-3.45-12.1h.95m12.85 .8h.95m-17.75 18.3h.95m9.95-15.8h.95m10.95 10.1h.95m-22.55 23.4h.95m9.65-38.3h.95m-.45 9.1h.95m7.25 4.2h.95m-17.05 2.6h.95m-9.25 20.8h.95m25.45-27.5h.95m-3.55 14.3h.95m-18.55 8.6h.95m12.65-30h.95m-13.75 19.1h.95m-2.15 .5h.95m5.65-12.6h.95m2.05-6.9h.95m4.15 15.5h.95m-11.95-7.3h.95m4.55-6.6h.95m-12.05 27.9h.95m12.35-6.5h.95m-10.95-20.9h.95m16.95 5.5h.95m-19.95-2.1h.95m16.15 7.6h.95m-23.25 21.4h.95m13.15-26.5h.95m.05 3.5h.95m-7.55 5h.95m9.35 2.6h.95m-7.75-21.9h.95m8.55 21.8h.95m-7.15-21.7h.95m7.25 19.5h.95m-17.45 15.2h.95m5.95-12.7h.95m-13.45-6.5h.95m-2.45 7.2h.95m11.35-17.3h.95m.25-2.2h.95m-1.85 13.3h.95m10.05 9.1h.95m-10.15-10.7h.95m-4.85-7.2h.95m-2.95 14.2h.95m12.85-13.6h.95m-7.85-7.3h.95m8.05 2.6h.95m-15.35 11.9h.95m-10.65 .4h.95m4.05-14.1h.95m8.35 6.2h.95m.85 12.1h.95m9.05 2.3h.95m-7.35-6.5h.95m-7.45 1.8h.95m10.85-11.3h.95m-.05 9.7h.95m-19.45-4.2h.95m-8.95 10h.95m3.15 10.9h.95m-.25-27.3h.95m19.45 12.1h.95m-15.55 13.9h.95m9.55-5.4h.95m-18.95-10.9h.95m20.25-2.9h.95m-21.55 17.1h.95m-2.45 9.4h.95m8.95-31h.95m-13.05 17.1h.95m26.25-10.5h.95m-26.65 10.4h.95m12.55-3.5h.95m-13.15-7.9h.95m.55 15.4h.95m-.15 8.4h.95m-2.45-24.4h.95m9.85 10.8h.95m-13.95-7.3h.95m17.25-14.7h.95m-5.45 16.4h.95m2.45-7.5h.95m-15.35 25.7h.95m-1.75-8.6h.95m20.85-21.1h.95m-26.25 12.3h.95m17.05-0.7h.95m-6.35-13.5h.95m-2.05 16.9h.95m3.85-9.4h.95m-16.55 17.2h.95m1.75 4.9h.95m8.55-33.2h.95m-.35 9.2h.95m5.55-9.8h.95m-9.75 2.4h.95m2.25 10.2h.95m-8.05 18.2h.95m7.95-13.6h.95m-3.05 7.7h.95m-14.25-5.1h.95m11.45-16.2h.95m-11.05 26.2h.95m2.85-27.9h.95m7.75 6.7h.95m-3.45 .3h.95m4.15-1h.95m-11.55 5.9h.95m6.15-7.6h.95m-10.95 20.2h.95m14.75-10.8h.95m-9.45-10.3h.95m-5.05 11.4h.95m-9.65 13.3h.95m2.05-6.3h.95m18.55 .9h.95m-16.75-7.8h.95m15.15 8.7h.95m-.85-11.7h.95m-1.65 5.1h.95m-14.45 12.7h.95m-2.05 4.6h.95m-3.15-23h.95m13.05-4.8h.95m-20.25 17.9h.95m4.45 3.1h.95m-1.25-7.9h.95m18.65-13.1h.95m-9.15-8.9h.95m-9.15 14.6h.95m16.25 6h.95m-19.65 6.3h.95m5.65-13h.95m-14.05 18.4h.95m5.15-23.6h.95m-.55 14.8h.95m3.75 4h.95m-2.65-11.5h.95m1.15-9.2h.95m2.65 20.3h.95m10.65-5.7h.95m-3.45 8.3h.95m-21.85-22.8h.95m10.55 9.4h.95m11.55-9.8h.95m-5.95-1.8h.95m1.15 11h.95m-23.65 4.2h.95m8.95-16.7h.95m3.15 18.1h.95m-5.45-0.9h.95m-.05 .5h.95m-5.25-4.2h.95m-5.85-7h.95m17.45-0.2h.95m-21.45 5h.95m10.05-13.6h.95m-2.65-0.4h.95m11.05 22.2h.95m-22.55 15.3h.95m19.25-19.9h.95m3.25-1.9h.95m-2.05 11.3h.95m-24.95-2.2h.95m18.15-24.1h.95m-6.35 19.9h.95m-11.95-7h.95m7.85 14.3h.95m-10.95-0.2h.95m23.55-26.8h.95m-19.75 25.3h.95m-6.45-18.1h.95m-3.15 11.2h.95m13.45 1.3h.95m-11.15 12h.95m20.25-6.5h.95m-15.75-17.3h.95m2.45 11.4h.95m-5.85-4h.95m-5.75 4.8h.95m2.75 13.1h.95m1.15-1.5h.95m-5.25-15.6h.95m21.05-4.1h.95m-1.25 5.2h.95m-7.35-11.9h.95m-9.95 20.2h.95m-1.15-22.7h.95m-10.25 35.6h.95m9.05-37.9h.95m3.45 2.2h.95m-7.35 20.1h.95m11.45-15.9h.95m-6.15-7.6h.95m3.35 17.2h.95m-19.35 4.8h.95m-1.05 .3h.95m4.15-17.9h.95m2.15 23.4h.95m-6.25-6.2h.95m1.15-16.7h.95m3.75-0.3h.95m-.65 12h.95m5.15 5.4h.95m-8.65-9.9h.95m4.85 3.8h.95m-7.55 11h.95m11.95-11.4h.95m-19.65 1.6h.95m5.45-4.9h.95m-7.55 1.7h.95m17.45 10.3h.95m-18.15-4h.95m14.55-6.5h.95m-3.85-1.6h.95m-9.35 5h.95m.35 8.2h.95m7.55-11.1h.95m-14.55-6.3h.95m17.95 18.9h.95m-24.75-14.4h.95m12.35-3.9h.95m-1.35-4.9h.95m7.45 7.7h.95m-3.95-9.6h.95m2.95 13h.95m-4.65 11.1h.95m-14.75-10.7h.95m1.35-7.7h.95m6.65 3.3h.95m-5.25 .2h.95m3.65 10.8h.95m.45-0.4h.95m.45-21.5h.95m-8.15 .2h.95m-7.55 33.9h.95m5.15-14.6h.95m-8.25 3.7h.95m-2.65 9h.95m1.15 .6h.95m-4.25 3.7h.95m23.05-31.8h.95m-5.65 8h.95m-4.15 7.5h.95m-1.05-18.7h.95m-7.75 14.5h.95m12.45-10.9h.95m3.05 16.8h.95m-22.25 10.3h.95m11.25-30.4h.95m-7.75 10.6h.95m13.05-0.2h.95m-12.25-1.8h.95m3.45-0.5h.95m-12.05 1.4h.95m-6.55 10.2h.95m20.25 3.3h.95m-3.55-16.4h.95m-.45 6.5h.95m-13.55 13.9h.95m4.95-14h.95m-3.55 12.3h.95m9.75-17.6h.95m-11.85-9.3h.95m9.75 11.8h.95m-8.85-3.3h.95m-1.05 10.9h.95m-1.15-19.8h.95m-5.05 27.7h.95m13.25-17h.95m-17.75-7.9h.95m1.35 4h.95m-.55-6.8h.95m.35 30.1h.95m8.95-16.6h.95m-8.35 .3h.95m-11.45 3.6h.95m13.15-12.9h.95m-13.75 18.7h.95m-6.15-5.8h.95m22.75 7.1h.95m-19.35 3.4h.95m16.95-1.8h.95m-8.05-8.3h.95m-9.25 15.5h.95m13.35-30.7h.95m-8.95 9.5h.95m-3.05-6.5h.95m-9.85 31.6h.95m16.25-30.4h.95m-14.45-0.9h.95m19.95 10.4h.95m-20.35 10.8h.95m5.05-20.4h.95m-12.75 1.4h.95m2.35 23.1h.95m1.75-30.5h.95m15.05 2.2h.95m-15.25 8.6h.95m-9.15 15.3h.95m6.15-15.6h.95m13.35 10.7h.95m-23.05-8.4h.95m2.15 23.3h.95m20.55-24.5h.95m-27.05 9.9h.95m4.55 14.8h.95m-2.95-5.4h.95m8.75-24.8h.95m-4.25 23.4h.95m-3.45-23.7h.95m17.55 4h.95m-16.65 9.8h.95m10.95-14.1h.95m-12.75 5.8h.95m14.05-5.2h.95m-22.85 23.8h.95m12.65-12.6h.95m3.85 6.7h.95m-10.55-10.4h.95m-1.45-1.4h.95m10.05-2.2h.95m-18.75 19.9h.95m4.15-20.1h.95m-6.85 27h.95m3.35-19.6h.95m18.65-7.6h.95m-15.15-10.3h.95m10.15 19.5h.95m-22.15-13.3h.95m4.55 13.5h.95m-8.55-9.4h.95m12.15 10.8h.95m7.15-6.4h.95m-20.95 13.6h.95m3.05-9.1h.95m-1.45-15.8h.95m-.05 15.3h.95m6.05-15.7h.95m-9.85 15.6h.95m-2.35-2.5h.95m12.95 3.3h.95m-9.85 4.3h.95m1.15-21.8h.95m-2.75 15h.95m-8.25 17.2h.95m22.85-31.5h.95m-1.95 22.4h.95m-15.75-10.4h.95m4.55-2.2h.95m-11.15 23.1h.95m3.35-8.2h.95m-.55 1.7h.95m-2.65-22.4h.95m-3.25 7.7h.95m16.45 7.7h.95m-8.05 3.8h.95m5.45-25.2h.95m-2.75 15.5h.95m-11.95 10.9h.95m-3.05 .4h.95m1.45-10.3h.95m10.85-2.8h.95m1.05-7.4h.95m-6.45 13.3h.95m4.95-7.4h.95m1.95 3.8h.95m-20.45 5.5h.95m17.95-16.7h.95m-5.45-3.8h.95m3.15 4.7h.95m-21.45 22.9h.95m18.85-10.5h.95m-14.05 6.3h.95m-11.85-11.9h.95m24.85-8.6h.95m-27.65 27.2h.95m4.95-1.5h.95m13.25-24.3h.95m-12.35-0.9h.95m-8.25 17.4h.95m25.45-10.5h.95m-13.85-3h.95m-15.15 19.2h.95m.95-11.3h.95m1.85 2.6h.95m-5.05 3.8h.95m5.05-13.5h.95m5.75-5.7h.95m-13.75 24.7h.95m-.95-7.2h.95m18.25 3.4h.95m-14.35-7.6h.95m-1.35 2.1h.95m18.35-0.1h.95m-19.65-3.2h.95m1.25 1h.95m4.85-7h.95m-12.55 4h.95m-1.65 19.9h.95m5.75-15.7h.95m15.75-5.7h.95m-9.95-1.8h.95m-14.15 23.6h.95m.95-27.1h.95m17.65 13.6h.95m-22.95-13.2h.95m3.85-2.8h.95m12.35 10.6h.95m-16.05-0.6h.95m2.85-13.4h.95m1.45 25.6h.95m-5.75-4.7h.95m16.85-2.2h.95m-16.55-0.8h.95m5.45-13.2h.95m.25 13.4h.95m-7.75-11.5h.95m12.85 .4h.95m-3.85 10h.95m-9.65 2.5h.95m-4.95-13.8h.95m3.85-4.4h.95m-6.75 24.6h.95m16.85-19.3h.95m-9.65 12.5h.95m-15.25-2.6h.95m5.25-3.8h.95m-.35 5.1h.95m-8.45 17.6h.95m4.65-25.7h.95m19.45-0.3h.95m-8.95-2.1h.95m-18.55 15.8h.95m19.95 2h.95m-12.65-13.8h.95m1.45-0.8h.95m-10.45 2.4h.95m2.75 10.8h.95m6.95-21.3h.95m-8.85 29.3h.95m4.45-9.5h.95m-6.35-9.1h.95m7.95 11.2h.95m9.35-13.2h.95m-23.55 21.2h.95m16.15-16.4h.95m-11.95-7.3h.95m-7.35 25.7h.95m18.55-29h.95m-15.65 26.3h.95m1.85-9.7h.95m-7.75 8.5h.95m-2.55-17.7h.95m-2.75 27.2h.95m6.05-23.4h.95m11.75 5.3h.95m-20.55-2.7h.95m2.65 9.8h.95m2.75 .1h.95m11.85-23.6h.95m-10.15-5.7h.95m-1.05 16.7h.95m12.65-3.8h.95m-22.05-8.8h.95m20.65 2.1h.95m-19.35 29h.95m-9.05-1.5h.95m16.25-17.7h.95m-7.55 1.3h.95m-8.95 17.6h.95m1.05-0.3h.95m-5.15-13h.95m.35 3.2h.95m2.25 2.1h.95m-.25-22.4h.95m12.65-5.8h.95m-3.35 3.7h.95m3.65 8h.95m-18.65 13.6h.95m12.55-15.8h.95m2.55-6.7h.95m-12.95 13.6h.95m.55 8.6h.95m15.45-16h.95m-5.25-3.3h.95m-21.65 14.7h.95m5.35-4.1h.95m5.45 10.4h.95m-2.25-9.7h.95m8.75-10.1h.95m-.25 11.5h.95m-10.35 5.2h.95m7.35-6.7h.95m-14.85 10h.95m-3.95-6h.95m1.95-4.9h.95m6.35 5.2h.95m-12.65 4.7h.95m14.25-4.7h.95m-9.75-8.5h.95m3.75-8.4h.95m-9.15 3.1h.95m15.15 12.9h.95m-13.25 6.5h.95m-11.05 6h.95m22.95-18.3h.95m-18.95 13.7h.95m-3.25-18.2h.95m16.15 14.2h.95m-4.55-18h.95m3.45 2.1h.95m-15.55 10.3h.95m7.85 1.5h.95m-9.25 12.8h.95m4.05-11.6h.95m1.15-14.5h.95m-7.65 7.8h.95m12.75-2.6h.95m-11.15 3.3h.95m2.55-6.1h.95m-3.15 4.4h.95m-6.35-10h.95m18.25 14.6h.95m-18.65 16.5h.95m1.15-16h.95m12.55-3.5h.95m-12.15-13h.95m-.85 19.6h.95m-2.45-0.7h.95m11.65-3.1h.95m.85-15.2h.95m-24.45 4.6h.95m8.85 12.7h.95m13.65-12.3h.95m-18.15 17.9h.95m11.65-6.9h.95m-12.95-5.2h.95m4.25 3.1h.95m-1.15-4.4h.95m-9.45 21.3h.95m1.65-17.5h.95m-1.55 10.6h.95m-5.45 8.9h.95m4.35-27.4h.95m6.55-6.2h.95m-14.95 14.6h.95m4.45-5.4h.95m-3.95 3.8h.95m.35 14.8h.95m-7.65-15.7h.95m4.65-2.5h.95m18.35 12.1h.95m-10.05-0.1h.95m-8.95-6h.95m8.55-7.4h.95m-5.75 18.9h.95m3.05-18.1h.95m1.85-3.1h.95m-7.95 18.4h.95m6.05-22.5h.95m4.25 19.6h.95m-.75 2.8h.95m-16.35-1.9h.95m14.65-14.6h.95m-3.05 .1h.95m2.05-4h.95m-22.05 1.6h.95m2.05 30.5h.95m2.15-23.3h.95m-12.35 22.6h.95m5.25-20.7h.95m13.95 2.3h.95m-6.75 5.2h.95m-7.05-2.2h.95m-5.45-2.5h.95m10.15 3.2h.95m-5.15 .9h.95m-2.55-6.6h.95m-7.15-7.7h.95m9.45 1.3h.95m3.75 13.9h.95m3.55-20.3h.95m-6.55-0.2h.95m-7.75 29.1h.95m-11.75-11.9h.95m6.25-4.1h.95m-1.05 17.3h.95m8.25-27.9h.95m-5.05 22h.95m-2.45-6h.95m-2.05 8.7h.95m9.55-25h.95m-20.75 10.1h.95m19.15 3h.95m-14.85 17.6h.95m4.15-16.3h.95m7.45-9.9h.95m-4.25-6.1h.95m-15.75 13.1h.95m11.25-1.5h.95m-12.75 4.7h.95m8.15 9.2h.95m-8.95-23.1h.95m10.45 4.8h.95m-6.55 19.3h.95m-8.35 3.6h.95m12.85-33.6h.95m-.55 .8h.95m-4.55 26.2h.95m5.95-9.7h.95m-10.85 12.7h.95m-7.25-12.3h.95m20.45-11.1h.95m-8.15-6h.95m-8.75 12.5h.95m8.15-6.7h.95m-14.65 22.9h.95m15.75-23h.95m-21.35 21.8h.95m18.25-18.5h.95m-5.75 1.8h.95m-1.15-11.2h.95m-15.45 13.5h.95m9.05 7.2h.95m-10.25 5h.95m23.05-5.2h.95m-24.05-9.6h.95m1.75 17h.95m-1.65-11.5h.95m4.95 8.2h.95m16.85-13.9h.95m-21.75 3.9h.95m-.15 15.5h.95m11.35-23h.95m-17.35 22.8h.95m-5.05-9.3h.95m2.35-14.4h.95m-4.15 11.7h.95m21.45-4.4h.95m-18.95 12.9h.95m2.75-4.2h.95m11.85-13.1h.95m4.05 7.1h.95m-1.85-1.7h.95m-.45 7.7h.95m-1.95 1.2h.95m-8.95-20.3h.95m-17.15 34.2h.95m7.85-32.5h.95m-5.35 23.9h.95m17.15-7.6h.95m-20.25 5.7h.95m8.65-10.6h.95m-1.25 6.8h.95m.45-13.6h.95m2.25 4.5h.95m-12.65-0.5h.95m14.95-1.7h.95m-18.25 4.8h.95m20.15-6.8h.95m-2.05-3.1h.95m-18.45 21.8h.95m3.25-20.9h.95m13.55-5.5h.95m-18.85 31.4h.95m-6.85-16.8h.95m13.25-3.5h.95m-13.15 7.9h.95m20.45-15.8h.95m-11.55 7.5h.95m-11.95-6.1h.95m-4.35 19.5h.95m23.45-24.6h.95m-4.45 21.9h.95m-11.95 .1h.95m6.85-20.2h.95m4.15-0.2h.95m-9.15-3.8h.95m-8.75 25.1h.95m-2.55-15.9h.95m5.45 2.4h.95m13.65 4h.95m-6.75 .6h.95m-11.95-4.6h.95m-.35 4.5h.95m-.85 11.8h.95m-10.35-13h.95m20.85 8h.95m-17.05-5.4h.95m13.45 3.7h.95m-.85-12.4h.95m-10.25 14.9h.95m.55-11.9h.95m.95-7.8h.95m-3.85 16.7h.95m11.75-13.3h.95m-16.05 6.4h.95m1.25 6.8h.95m-1.45-7.5h.95m6.75 6.8h.95m-9.65-10.4h.95m6.05-7h.95m2.95-1.5h.95m-19.75 9.8h.95m12.25 8.1h.95m-10.65-8.7h.95m1.45 12.4h.95m13.35 2.2h.95m-24.95 8h.95m.35-3.5h.95m5.85-3h.95m13.15-25.7h.95m.55 18.8h.95m-17.25 2.9h.95m18.55-10.5h.95m-22.55 16.3h.95m23.35-14.5h.95m-5.95-7.9h.95m-13.05 25.2h.95m1.25-21.3h.95m7.25 1.6h.95m-21.35 9.4h.95m-2.25-0.7h.95m2.55 13.6h.95m7.65-17.3h.95m5.55-3.1h.95m-7.85-10.5h.95m9.45 22.8h.95m-9.15-17.3h.95m-13.95 8.8h.95m15.45 1.5h.95m-16.05 1.2h.95m12.05-20h.95m-8.65 14.2h.95m-4.05 7.1h.95m16.15-14.2h.95m-11.95 19.3h.95m2.55-26.4h.95m10.55 13.8h.95m-22.75 19.2h.95m9.05-23.2h.95m-9.95 .5h.95m-2.85 16.4h.95m3.35-1.8h.95m2.15 2.4h.95m8.05-8.5h.95m-6.95-8.8h.95m-8.95 17.1h.95m17.95-24.8h.95m-10.35 6.7h.95m11.65-1.3h.95m-18.45 2h.95m7.35-1.8h.95m-7.55-1.5h.95m-6.85 7.8h.95m9.05 1.5h.95m-12.95-11.3h.95m-1.05 5.2h.95m8.25 15.8h.95m-6.25-12.4h.95m-1.85 4.5h.95m-2.25-3.5h.95m-.05 6.3h.95m15.95-4.6h.95m-16.25 4.7h.95m-8.45 12.7h.95m6.65-1.8h.95m-5.35-9.1h.95m9.35 .8h.95m5.85 1.6h.95m.75-24.6h.95m-20.75 33.9h.95m12.85-7.7h.95m-.95-26.8h.95m-5.45 20.1h.95m9.25-14.2h.95m-1.55 5.7h.95m-11.25 2.7h.95m14.45-1.6h.95m-18.15-4.5h.95m2.15 15h.95m14.55-14.8h.95m-5.05 15.4h.95m-2.55-15.2h.95m-1.45 5.6h.95m-11.45 11.4h.95m-3.05-5.7h.95m-3.05 6.1h.95m-.55-2.1h.95m16.85-13.8h.95m-9.55-2.3h.95m-15.75-0.3h.95m8.05 3.2h.95m-8.95 1.1h.95m-3.05 8.7h.95m14.95-10.7h.95m-15.35 13.6h.95m4.45 3.8h.95m14.15-20.8h.95m-22.15 5.5h.95m8.55 8.7h.95m6.55-12.2h.95m-16.85 13.7h.95m21.75 5.4h.95m-11.35-5.5h.95m3.75-0.6h.95m-11.45-16.7h.95m-5.95 19.2h.95m16.05-15.9h.95m-17.15 .5h.95m6.95-4h.95m-.35 11.4h.95m-3.05-3h.95m3.55 14.9h.95m-9.45-22.4h.95m16.45 2.3h.95m-2.25 1.5h.95m-22.25 20.2h.95m24.85-22.4h.95m-11.55-2.8h.95m6.25-0.2h.95m-15.35 25.4h.95m8.85-16.6h.95m-7.15 3.3h.95m-8.85 1.6h.95m-3.75-9.1h.95m.45 19.8h.95m-4.65 6h.95m16.85-7.3h.95m3.45-7.3h.95m-21.75-8.7h.95m-2.45 16.9h.95m16.85-15.6h.95m-14.35 11.4h.95m-1.55-2.9h.95m21.85-14.1h.95m-5.95 9.6h.95m-4.45-16.5h.95m-17.15 16h.95m.05 21.2h.95m15.45-30.8h.95m1.65 9.7h.95m-22.35 24.6h.95m24.65-36.2h.95m-21.15 19.1h.95m-5.55-1.8h.95m8.35-14.5h.95m-2.65 20.3h.95m1.35-13.8h.95m-5.05 3.5h.95m-1.25 11.8h.95m-5.05-16.2h.95m-3.85 13.9h.95m18.05-23.7h.95m2.05-2.3h.95m-7.45 14.2h.95m-3.05-3.3h.95m-12.75 17.7h.95m5.95-25h.95m16.35 3.5h.95m-15.75-4.1h.95m5.15-1.5h.95m-13.15 35.5h.95m-5.35-11h.95m12.25-23.4h.95m-13.75 30.7h.95m25.45-26.3h.95m-6.65 16h.95m-9.95-21.1h.95m-12.65 15h.95m17.65 4.2h.95m-19.05-1.3h.95m6.05-14.6h.95m-10.25 29.3h.95m14.85-17.8h.95m-7.95 3.1h.95m-1.15-1.3h.95m11.85-7.4h.95m-.65 5.3h.95m-12.55 13.6h.95m10.95-4.5h.95m-12.65-11.8h.95m16.45-1.1h.95m-14.65 11h.95m-2.35 .4h.95m6.65-17h.95m1.75 3.6h.95m-15.15 12.7h.95m6.55-14h.95m-2.05 2h.95m-11.95 3.9h.95m8.85 1.3h.95m-5.55-14.2h.95m-3.75 35.8h.95m-4.55-26.7h.95m6.75 20.5h.95m9.65-6.7h.95m-6.55-18.3h.95m-.55-1.9h.95m-4.25 6.5h.95m-.15-1.5h.95m4.55 16h.95m.85-20.2h.95m-.75-6.5h.95m-8.65 25.9h.95m9.95-14.7h.95m-23.65 6.9h.95m23.65-12.4h.95m-1.95 5.3h.95m-11.35 14.1h.95m-4.25 2h.95m-6.05-20.9h.95m.65 6.5h.95m-1.25 22.9h.95m11.25-30.1h.95m-.75 14h.95m1.25-10.1h.95m-10.95 16.3h.95m13.45-2.9h.95m-24.45 10.4h.95m25.65-18.4h.95m-2.25-7.7h.95m-18.85 6.8h.95m-6.95-1.7h.95m4.55-1h.95m8.35 6.1h.95m-13.65 5h.95m5.75-19h.95m10.15 8.9h.95m-13.35 6.8h.95m7.25 6.2h.95m-15.35-11.3h.95m18.25 13.3h.95m-7.85-6.6h.95m-14.85 16.1h.95m22.05-17.9h.95m-12.75-9.7h.95m1.75-8h.95m-10.95 1.5h.95m18.45 3.3h.95m-3.65 10.1h.95m-4.45-15.2h.95m-13.85 20.6h.95m-4.65 12.3h.95m4.35-1.8h.95m1.45-9.8h.95m9.45 3.9h.95m-18.55-7.5h.95m.15 4.9h.95m9.65-19.3h.95m-3.95 .8h.95m-9.75 8.9h.95m-.85 22.6h.95m18.55-12.8h.95m-20.35 10.1h.95m.15-3.4h.95m15.45-22.4h.95m-16.95 22.7h.95m-.05 .9h.95m-2.45-1.2h.95m7.35-27.2h.95m-13.55 33.2h.95m20.45-33.7h.95m-17.65 33.7h.95m12.15-35.5h.95m-8.05 22h.95m2.15-14.6h.95m-6.25 .4h.95m-3.55 8.4h.95m1.35 10.3h.95m3.85-25.3h.95m-15.05 30.6h.95m4.35-28.3h.95m-1.35 23.9h.95m-5.35-12.8h.95m14.25 7.6h.95m-13.15-0.3h.95m-2.05 14.4h.95m4.65-6.7h.95m-6.45 8.2h.95m7.65-18.8h.95m12.75-14.9h.95m-18.25 1.5h.95m8.05 7.6h.95m-7.45-8h.95m12.15 7.8h.95m-18.05 .1h.95m18.85-1.8h.95m-6.05-9.8h.95m1.35 19.2h.95m-23.85 16.5h.95m2.95-6.1h.95m2.65-1.5h.95m-1.75-3.6h.95m12.25-12.6h.95m4.65-11.7h.95m-10.55 16.9h.95m-9.85-4.3h.95m18.85 2.3h.95m-17.25 4.8h.95m3.95-5.3h.95m4.75 2.9h.95m-11.15 6.1h.95m6.75-7.8h.95m-14.25 .1h.95m-4.45-7.3h.95m4.35 15.1h.95m-4.65-18.2h.95m6.55 6.6h.95m-11.45-0.5h.95m14.95-13.7h.95m-2.15 15.6h.95m11.55-1.9h.95m-16.05-8.7h.95m-4.15 18.3h.95m1.05-4.7h.95m10.75-18.6h.95m-4.85 23.4h.95m-1.95-3.5h.95m-4.45 4.9h.95m3.75-16.6h.95m-21.05 16.1h.95m14.55-10.6h.95m-15.05 24.8h.95m5.45-2.5h.95m16.15-11.5h.95m-4.25-17.8h.95m-14.15-3.8h.95m13.45 8.5h.95m-7.35-1.7h.95m-7.75 24.7h.95m-6.95-9.3h.95m16.55 1.2h.95m-15.05-22.4h.95m15.25 8.2h.95m.65-6.1h.95m-1.75 18.7h.95m-7.85-25.1h.95m-3.15 15.8h.95m8.75-4.4h.95m-14.05-9.6h.95m-11.05 33.4h.95m15.35-28h.95m5.85 1.8h.95m-20.05 10.6h.95m-3.05 14.2h.95m-.65-1.8h.95m19.75-13.5h.95m-22.45-8.1h.95m2.95 23.2h.95m15.05-11.5h.95m-3.25-2.4h.95m-7.05-5.3h.95m-11.85 7.9h.95m13.35-11.9h.95m-12.45 18.1h.95m19.55-21.2h.95m-1.75 9.1h.95m-13.25-4.8h.95m-.15 11.5h.95m10.55-12.8h.95m-26.55 19.1h.95m9.25-9.3h.95m-9.15 16.3h.95m20.55-13.5h.95m-3.15 2.4h.95m-.15-15.6h.95m-17.65 14.4h.95m17.65-14.3h.95m2.05 10.6h.95m-26.65 14.9h.95m17.05-28.7h.95m-16.05 14.8h.95m.95-15.9h.95m-.35 3.9h.95m-.05 11.1h.95m-3.45-18.4h.95m6.45 1.1h.95m-11.65 29.4h.95m11.85-18.2h.95m-2.35-6.5h.95m-6.75-2h.95m2.75 11.6h.95m-6.65 7.8h.95m-.85 2.8h.95m10.05-20.3h.95m-14.25 4.5h.95m4.35 15.4h.95m9.85-23.4h.95m-5.05 4.5h.95m-6.05-0.1h.95m-7.95-0.6h.95m16.65-6.2h.95m-12.45 31.6h.95m-4.35-7.9h.95m11.15-10.9h.95m-4.05-6.9h.95m-5.45 20.7h.95m5.75-20.4h.95m-15.75 4.5h.95m9.35-7.1h.95m-11.15 37.4h.95m8.85-19.2h.95m-1.35-7.3h.95m-10.75 10h.95m21.45-6.1h.95m-10.95 4.7h.95m-7.75-3.7h.95m-4.95 3.4h.95m19.35-21.1h.95m-15.05 10.3h.95m2.45 9h.95m-.75 6.8h.95m-.45-9.4h.95m-9.15-7.7h.95m19.15-2h.95m-20.75 17.6h.95m15.45-1.5h.95m-17.65-1.3h.95m9.65-12h.95m9.25 4.5h.95m-19.15 1.8h.95m5.35-17.2h.95m-.85 21h.95m-12.85 14.4h.95m22.35-13.4h.95m-17.45 .7h.95m15.25 2.6h.95m-11.85-1.7h.95m-9.05-5.7h.95m4.35-16.1h.95m-3.65 11.5h.95m11.95-10.4h.95m-1.45 17.1h.95m-13.75-19.5h.95m15.65 8.4h.95m-17.85 1.6h.95m10.05 10.6h.95m-11.35 5.2h.95m10.45-19.8h.95m-17.55 8.4h.95m9.65-7.4h.95m12.45 .5h.95m-10.15 14.2h.95m-11.85-16.6h.95m6.65 1.6h.95m-16.05 23.1h.95m18.85-32.1h.95m-14.95 22.6h.95m5.85-3.8h.95m12.25-6.5h.95m-26.65 14.7h.95m19.35-1.6h.95m-8.75-3.5h.95m3.45-22.5h.95m.35 25.9h.95m-1.85-10.3h.95m-18.05 19.2h.95m6.95-33.1h.95m2.35 24.4h.95m-9.05 6.1h.95m15.75-23.2h.95m-14.25 24.4h.95m6.75-11.3h.95m-11.25-0.1h.95m21.05-4.5h.95m-.45-8.9h.95m-10.85 8.5h.95m-15.75-6.9h.95m-.85 16.8h.95m5.65-17.6h.95m1.85-7.6h.95m13.25 14.5h.95m-17.75-7.4h.95m14.05-3.6h.95m-24.65 16.9h.95m4.95-11.3h.95m1.45 19.8h.95m9.15-26.1h.95m-16.55 5.1h.95m7.85 4h.95m6.15-11h.95m-9.05-0.5h.95m3.65 14.7h.95m-7.25 2.7h.95m4.55-13.1h.95m1.65 8.3h.95m-3.75 .8h.95m-11.75 22.7h.95m-3.85-21.8h.95m4.15-8.5h.95m-3.75 24.2h.95m10.85-9.1h.95m11.95-13.3h.95m-4.55 17.8h.95m-18.55-8.3h.95m-8.15 3.6h.95m25.95-18.6h.95m-10.15 3.3h.95m-12.95-2.2h.95m-2.15 4.7h.95m10.25-6h.95m-12.35 18.4h.95m19.25 3.5h.95m-7.65-8.7h.95m-1.35-5.7h.95m2.15 8.6h.95m2.75-10.2h.95m-18.85 22.3h.95m18.55-19.4h.95m-6.65 1.2h.95m-5.75 7.4h.95m8.35 5.4h.95m-.15-18.9h.95m-25.15 30.5h.95m17.65-15.4h.95m6.75-10.4h.95m-26.25 19.3h.95m3.45 .6h.95m9.25-10.6h.95m-9.55 1.4h.95m-1.95-12.8h.95m4.25 3h.95m7.75 11.7h.95m-7.35-0.3h.95m8.45-5.9h.95m-13.65-10.4h.95m6.95-8.7h.95m6.85 19.1h.95m-22.65-2.8h.95m18.05 4.8h.95m-24.35 7.2h.95m14.05-14.9h.95m4.75-12.7h.95m-13.15 3.3h.95m12.15 9.9h.95m-2.95-10.2h.95m-10.95-1h.95m-5.65 26.9h.95m17.05-0.3h.95m-20.55-15.5h.95m5.85-2.3h.95m-4.35 19.7h.95m-6.15-4.2h.95m22.75-3.5h.95m-13.85-2.8h.95m-.35-3.7h.95m-6.55 8.8h.95m-5.55 12h.95m13.45-12.6h.95m-13.35 .2h.95m-.05-14h.95m4.45 18.2h.95m.75-3.9h.95m2.15-20.2h.95m-14.85 8.4h.95m16.55-10.7h.95m-12.35 12h.95m-1.15 19.1h.95m-3.65-9h.95m10.75-22.1h.95m-15.55 13h.95m21.15 10.2h.95m-8.25-25.3h.95m-6.45 16.8h.95m-11.35 16.1h.95m21.45-20.3h.95m-15.35 .2h.95m-9.15 8.6h.95m-2.95 7.3h.95m13.25-14.6h.95m11.45 1.1h.95m-1.75 1.7h.95m-2.95 7.4h.95m-12.15 2.9h.95m10.95-8.7h.95m-22.85 16.3h.95m2.05-17.1h.95m5.05 2.8h.95m5.35-20.7h.95m2.55 14.8h.95m-14.75 8.2h.95m17.65-3h.95m-25.75 4h.95m9.05-23h.95m-7.45 34.8h.95m8.45-14.6h.95m-1.55-20.5h.95m-12.85 15.9h.95m-1.35 4h.95m16.45-17.1h.95m-4.05 12.3h.95m-1.35 4.5h.95m-3.85-9.8h.95m5.55-4.3h.95m4.85 15.2h.95m-5.95-19.1h.95m-14.45 26.4h.95m-3.15-20.2h.95m17.35 14.9h.95m-17.85-18.5h.95m23.15 11.6h.95m-17.85-7.2h.95m-12.75 28.5h.95m18.85-32.2h.95m-18.95 13.8h.95m-.55 13.1h.95m-1.95-9.5h.95m24.55-2.8h.95m-21.45 12.1h.95m19.45-23.8h.95m-18.45 18.3h.95m3.65-12.1h.95m-6.65 1h.95m-7.25 5.7h.95m.55-11.8h.95m9.65 6h.95m-4.95 13.3h.95m12.55-4.6h.95m-5.55-14.5h.95m-12.15-8.2h.95m11.75 6.6h.95m-9.95 22.9h.95m.25-30.9h.95m-14.65 30.7h.95m18.25-5.9h.95m-17.15 11.9h.95m7.15-14.3h.95m7.35-0.4h.95m9.55-13.5h.95m-19.85-1.9h.95m-7.05 8.2h.95m-1.85 24.7h.95m1.75-29h.95m-3.95 21.5h.95m4.95-24.2h.95m12.75-4.8h.95m-10.35 13.8h.95m4.45-9.6h.95m3.35-4.2h.95m-20.85 10.3h.95m3.05 1.9h.95m9.05 5.1h.95m-16.25 6.9h.95m10.65 .7h.95m-10.05-14.1h.95m.85-5.3h.95m-7.95 21.9h.95m3.65-3.4h.95m2.65-12.4h.95m10.55 5.7h.95m-3.45-2.5h.95m3.35-19.3h.95m-15.15 34.7h.95m1.35-32.6h.95m16.25 27.7h.95m-12.05-11.6h.95m-4.15-15.1h.95m.55 6.9h.95m-2.65 20.4h.95m-2.85 3h.95m5.95-17.4h.95m-7.45-5.2h.95m-6.75 12h.95m19.05 2h.95m-19.75 12.3h.95m-2.75-5.2h.95m12.05-26.5h.95m2.85 9.2h.95m4.05 11.5h.95m-21.65 9.9h.95m21.55-24h.95m-5.75-1.6h.95m2.35 13.3h.95m-18.05 9.3h.95m-2.55 5.3h.95m13.65-21.3h.95m-2.45 4.8h.95m-18.45-11.7h.95m8.45 6.2h.95m11.45-6.5h.95m-9.55-0.5h.95m5.05 4.6h.95m-14.15-9.9h.95m15.25 11.5h.95m-12.45 4h.95m6.55-6h.95m-14.05-5.7h.95m-3.75 .6h.95m11.65 17.4h.95m-6.05-2.9h.95m-10.05-6.8h.95m7.45-8.4h.95m-.85 22.1h.95m-1.95-18.2h.95m5.55-11.3h.95m-11.85 14.8h.95m5.35-12.3h.95m-11.35 17h.95m12.65-11.3h.95m5.15 15.4h.95m-16.55-13.4h.95m6.15 5.6h.95m-2.25-2.8h.95m-6.85-4.8h.95m10.35 18.1h.95m6.55-8.8h.95m-12.05-7.1h.95m9.05 15.1h.95m-2.75-15.8h.95m-22.35 25.9h.95m15.25-28.9h.95m7.15 5.9h.95m-9.35-12.2h.95m6.35 21.8h.95m-21.55 4h.95m16.35-13.4h.95m-7.15 1.7h.95m-2.45 14.3h.95m13.55-19.7h.95m-5.85 6.1h.95m-13.25 7.4h.95m15.55-15.3h.95m-10.85 4.2h.95m1.95 6.5h.95m-9.95 1.8h.95m-5.75-9h.95m3.85 2.7h.95m12.95-6.9h.95m-24.65 29.9h.95m4.25-8.2h.95m-1.75-3.6h.95m-5.25 12.1h.95m19.25-35.2h.95m-8.25 8.7h.95m4.45 5.3h.95m6.75 8.8h.95m-23.55-5.1h.95m12.45 4h.95m-2.15-13.8h.95m-4.55 0h.95m-.25 17.3h.95m12.15-11.1h.95m-1.75-7.3h.95m-20.45 18.6h.95m10.05-14.1h.95m-7.95-9.3h.95m-1.55 21h.95m3.85-11.9h.95m-8.45 2.4h.95m14.75-2.6h.95m3.05 2.6h.95m-11.65-13.5h.95m3.65 17.1h.95m-20.45 21.3h.95m14.95-25.8h.95m3.65 1.7h.95m-16.45 21.4h.95m-6.55-17.7h.95m23.05 .3h.95m-3.65 3.9h.95m-9.25-16h.95m-9.45 31h.95m21.85-28.1h.95m-9.35 9.8h.95m-19.65 13.2h.95m18.75-26.2h.95m2.35 5.4h.95m-4.15-12.8h.95m-3.95 3.8h.95m-11.35 3.6h.95m17.35 20.7h.95m-3.35-24.9h.95m-6.25 6.7h.95m-11.95 20.2h.95m-4.05-22.5h.95m12.95 7.9h.95m-9.55-13.5h.95m11.55 10.2h.95m-19.35 15.8h.95m6.85-24.6h.95m11.85 6h.95m-12.65 19h.95m-4.95-7.7h.95m-7.95-9.5h.95m7.05 16.1h.95m-4.75-21.6h.95m13.55 3.6h.95m-12.35 6.8h.95m2.55-6.6h.95m-3.75 2.5h.95m-2.45 3.7h.95m-6.75 12.5h.95m4.65-6.6h.95m-4.15 17.7h.95m17.15-26.4h.95m-13.45 20.8h.95m-.95-13.9h.95m-9.15 15.9h.95m17.05-20.6h.95m5.55 5.1h.95m-5.65-14.8h.95m-16.65 1.1h.95m3.25 20.6h.95m-9.75-10.8h.95m4.15-9.3h.95m2.35 1.4h.95m-3.75 29.3h.95m15.55-18.7h.95m-.55-18.8h.95m-5.45 15h.95m-6.55-0.3h.95m-10.55 6.4h.95m15.95-20.3h.95m-17.35 18.9h.95m18.95-13.9h.95m-17.75 14.5h.95m14.75-9.8h.95m-22.15 10.5h.95m8.75 5.7h.95m10.75-16.6h.95m.95 1h.95m-15.65 13.9h.95m.05 8.6h.95m-1.65-18.5h.95m-4.65 20.9h.95m-5.75 5.5h.95m-.85-11.6h.95m8.05-6h.95m10.95-7.9h.95m-22.75 1.6h.95m12.15 1.3h.95m-3.95-5.9h.95" stroke="#7CAE00" stroke-width="0.95"/>
<path d="M421.7 279.7h.95m5.05 14.8h.95m-8.55 2h.95m10.95-12.1h.95m-18.95 .8h.95m-.65 4.6h.95m19.35-4.1h.95m-7.25 3.4h.95m4.15-12.4h.95m-21.95 2.5h.95m13.35 10h.95m-16.65-8.5h.95m.95 .1h.95m7.45 8.4h.95m10.45-9.8h.95m2.05 12.6h.95m2.85-10.5h.95m-22.25-8h.95m-4.35 10.2h.95m12.75-3.8h.95m-17.15-5.3h.95m14.95 12.6h.95m-14.15-17.6h.95m4.45 26.7h.95m14.55-14.2h.95m-24.45-6.5h.95m8.75 10h.95m-1.65 9.7h.95m-10.35-11h.95m1.25-3.3h.95m15.35 10.3h.95m1.75-4.7h.95m-2.35 8.6h.95m-8.45-0.5h.95m13.95-15.3h.95m-19.95-0.5h.95m-7.65-2.6h.95m3.15 11.9h.95m-2.85 4.3h.95m3.45-12.8h.95m4.85 11.6h.95m-4.45-6h.95m14.15-2.3h.95m-10.95-5.9h.95m.05 2.3h.95m2.95 13.8h.95m-9.45-2h.95m-6.45 2.8h.95m-5.25-21.6h.95m8.15 4.4h.95m-8.15 9.3h.95m11.45 5h.95m-9.05 1.5h.95m20.55-12.4h.95m-16.15 14.4h.95m-2.05-4.8h.95m-11.05-19.7h.95m6.05 15.3h.95m7.65-4.7h.95m-12.95-3.4h.95m-6.85 9.9h.95m-.35-15.8h.95m3.35 17.2h.95m14.55-5.1h.95m-.65 1.1h.95m-18.25 1h.95m22.95-2.7h.95m-21.35 5h.95m-7.05 1.1h.95m1.45-13.6h.95m5.85 10.2h.95m14.75-8.9h.95m-5.65 14h.95m-8.85-12.9h.95m.05 10.9h.95m-9.25-2.8h.95m7.45-3.5h.95m-7.05 .3h.95m4.95-0.5h.95m11.25 5.8h.95m-16.35-9.3h.95m-2.45 12.2h.95m10.65-14h.95m-17.75-2.3h.95m-7.95-0.5h.95m9.75 19.2h.95m9.95-17.9h.95m2.55 8.1h.95m-22.75-13.3h.95m25.25 5.4h.95m-15.25 8.1h.95m2.35-4.8h.95m-13.95 10.3h.95m5.45-7.4h.95m-.55 2.7h.95m13.25-8.5h.95m-16.15 7.5h.95m15.75 4.4h.95m-24.85-10.5h.95m2.55 13.2h.95m.25 4h.95m13.05-8.3h.95m-4.25-2.6h.95m2.85-2.1h.95m-16.15 11.6h.95m-.45-16.4h.95m14.65 5.4h.95m-4.55-3.6h.95m-3.65 4.8h.95m-7.15 2.6h.95m3.65 10.5h.95m5.25-21.7h.95m6.45 7.4h.95m-17.05-5.5h.95m-9.45-3.6h.95m21.85 11.7h.95m-26.85-0.3h.95m13.45 8.4h.95m-11.15-0.2h.95m7.25-6.2h.95m-4.85 9h.95m-1.25 .1h.95m1.95-17.1h.95m-12.65 6.1h.95m10.45-2h.95m8.05 10.6h.95m-9.35-14.5h.95m4.05 10.4h.95m-16.75-11h.95m6.55 18.2h.95m2.55-5.5h.95m-5.65-3.8h.95m-4.15-2.8h.95m4.85-5.1h.95m-1.05 15h.95m-5.25-14.6h.95m11.95 2.1h.95m-.55 .2h.95m-8.55 13.4h.95m-10.65-19.9h.95m22.75 1.1h.95m-15.05 15.3h.95m2.85 4.5h.95m-7.75-15.3h.95m1.55 6.4h.95m-11.35-10.1h.95m1.55 8.7h.95m6.75-2.1h.95m13.45-4.7h.95m-.25 1.8h.95m-22.55 .2h.95m15.35 2.9h.95m-18.25-13h.95m16.45 9.9h.95m-8.55 1.1h.95m-9.45 4.9h.95m4.55-3.1h.95m-2.25-8.4h.95m-5.65 2.9h.95m1.45 11.2h.95m16.75-1.1h.95m-21.35 1h.95m14.65-0.5h.95m-3.25 1.6h.95m-2.35 2.1h.95m3.45-13.4h.95m2.55-5.6h.95m-25.05 4.9h.95m19.75 4.8h.95m-16.85 7.9h.95m6.95 2.3h.95m-4.35-4.7h.95m1.45-11h.95m-8.45 14.3h.95m-2.85-1.9h.95m17.35 .4h.95m-8.45-9.5h.95m3.05 4.8h.95m-16.85-11.4h.95m4.75 18h.95m14.85-5.1h.95m-6.45-3.8h.95m-10.45 5h.95m-7.25-1.9h.95m22.45 4.3h.95m-22.35-15.6h.95m.35 12.7h.95m10.45-9.7h.95m-16.15-6.6h.95m5.15 9.7h.95m14.55-5.9h.95m1.35 4.2h.95m1.35 1.4h.95m-9.95 14.2h.95m-16.65-21.6h.95m21.65 7.7h.95m-26.65-3h.95m13.45 14.5h.95m-8.35-10.2h.95m-2.95 5.9h.95m.55-7.1h.95m6.05 15.8h.95m9.55-6.4h.95m-21.05-5.9h.95m10.45-0.1h.95m7.35-8h.95m-2.45 7.9h.95m7.05-5.6h.95m-21.65 1h.95m15.65-0.8h.95m1.25 6.2h.95m-6.35 3.5h.95m-22.05-13.4h.95m2.85 4.9h.95m13.15 12.8h.95m7.45-16h.95m-7.75 15.1h.95m4.35-11h.95m-5.05 6.9h.95m3.75-6.4h.95m-20.15-8.2h.95m-.65 11.3h.95m18.55 .5h.95m-18.75 9.7h.95m2.65-3h.95m-1.85-5.5h.95m-5.25 8.3h.95m-5.05-22.7h.95m15.45 17.2h.95m-10.25-13.4h.95m13.35 1h.95m-19.45-1.9h.95m20.85 6.1h.95m-21.25-5.7h.95m18.05 9.9h.95m-15.05-5.8h.95m-1.15 15.6h.95m4.35 0h.95m-10.95-8.8h.95m11.45 1.1h.95m-7.55-4.7h.95m10.75-6.4h.95m-11.75 5h.95m4.85-5h.95m-17.75-5.4h.95m-2.35-0.6h.95m21.35 2.6h.95m-23.35 9.9h.95m6.45 14h.95m5.05-16h.95m-6.35-4.6h.95m-3.45 8.5h.95m-2.25 1.1h.95m15.95-9.7h.95m-24.75-2.1h.95m3.05 14.1h.95m-3.65-5.5h.95m4.85-9.8h.95m18.05 12.3h.95m-10.85-7.8h.95m-.15 16.8h.95m-1.95-12h.95m9.95 .7h.95m-1.75 5.7h.95m-7.35 4.9h.95m-16.05-21.9h.95m-4.05 9.6h.95m-.65-1.9h.95m-3.15-5.8h.95m29.75 5.7h.95m-20.35-3.6h.95m17.85 4.3h.95m-7.05 12.8h.95m-12.05-9.5h.95m6.75-6.7h.95m-7.05 9.7h.95m-10.55-9.2h.95m23.85 8.6h.95m-13.55-2.4h.95m4.15 4h.95m-6.25-7h.95m1.45-2.8h.95m7.75 7.6h.95m-26.45-10.7h.95m26.65 11.5h.95m-26.45 3.8h.95m1.65-2.6h.95m20.15-7.2h.95m-14.35 15.3h.95m9.05-13.1h.95m-.45 .4h.95m-19.15-4.2h.95m16.55-1.6h.95m3.05-0.1h.95m-2.25 3.6h.95m-17.15 9.5h.95m2.65 6.3h.95m-5.75-18.4h.95m-9.95 .4h.95m9.55 15.4h.95m-11.15-11.7h.95m4.75 9h.95m-.65 .8h.95m-4.65-19.9h.95m7.95 8h.95m9.45 11.9h.95m-3.75-0.6h.95m-5.25 3.2h.95m-1.65-11.1h.95m4.45 1h.95m-8.55 8.9h.95m8.25-2.3h.95m-10.25-10.6h.95m10.15 .2h.95m-14.65-0.5h.95m-6.95 3.6h.95m1.65-10.8h.95m12.35 7.7h.95m-3.55 12.5h.95m-8.15-16.9h.95m-11.55-2.8h.95m2.35 10.9h.95m-2.15 5h.95m17.45-8.4h.95m-14.15 9.5h.95m.75-15.1h.95m17.75 3.5h.95m-23.95 .6h.95m.45 9.5h.95m8.85-7.4h.95m10.55 1.6h.95m-3.25-2.8h.95m-4.45 9.3h.95m-20.05-10.2h.95m1.35 1.4h.95m18.25 8.9h.95m-2.75-1.7h.95m8.75-8.3h.95m-21.55 10.1h.95m-10.35-16.6h.95m4.95 11.9h.95m9.65 .4h.95m-16.55 1.7h.95m16.25-0.6h.95m9.95-4.2h.95m-22.55 10.7h.95m-5.15-4.6h.95m-2.45-3.7h.95m3.55 5.4h.95m6.65 1.8h.95m-3.35-6h.95m2.35 6.1h.95m-6.65 2.6h.95m11.05-12h.95m-10.55-2.6h.95m9.25-0.5h.95m-3.05 1.8h.95m-11.85 8.8h.95m7.75-6.5h.95m6.55-7.2h.95m-4.15-0.4h.95m-7.15 10.4h.95m1.25-9.2h.95m-4.05 18.4h.95m-10.35-12.7h.95m-2.85 4.4h.95m-1.75-9h.95m-.45 4.5h.95m13.55 7.3h.95m-7.05 5.8h.95m12.55-19.1h.95m1.85 5h.95m-2.35 6.2h.95m-2.45-2.4h.95m-4.55 6.5h.95m-15.65-7.5h.95m10.55 8.6h.95m7.45-16.6h.95m-20.45 17.7h.95m-1.85-4.5h.95m2.45 4.5h.95m-4.25-5.7h.95m1.05-10.4h.95m4.75 10.6h.95m-12.55-6.2h.95m14.25 14.7h.95m2.15-8.4h.95m4.45 .7h.95m-5.25-4h.95m-6.55-5.4h.95m-2.75 3.4h.95m-12.15 4.7h.95m18.95 .1h.95m-19.35-2.5h.95m-4.35-14h.95m25.05 7h.95m-4.75-3.2h.95m-11.25 21.5h.95m9.25-5.2h.95m2.85-2.6h.95m-13.45-0.3h.95m-10.45-12.1h.95m3.75 7.7h.95m1.05-8.8h.95m1.75 8.3h.95m9.65 6h.95m-18.55-6.7h.95m6.45 11.2h.95m-1.35 .8h.95m-6.85-0.2h.95m17.25-9.2h.95m-9.25-4.6h.95m-6.05 7.9h.95m-13.15-12.8h.95m16.15 4.3h.95m-13.45 7.5h.95m13.35-11.3h.95m-2.45 10.9h.95m2.75-9h.95m-19.05-5.6h.95m.25-0.2h.95m8.05 4.7h.95m6.95 9.6h.95m-15.35-12.4h.95m.55 16.1h.95m-2.75-15.9h.95m-4.75 7.5h.95m4.85-1.6h.95m2.45-3.6h.95m-3.65 17.3h.95m-1.15-5.7h.95m-1.45-5.3h.95m-4.25-3.2h.95m2.35 3h.95m-9.65-9.8h.95m18.15 16.9h.95m-15.25-12.6h.95m4.65 3.8h.95m1.85-0.6h.95m9.55 6.7h.95m-13.35-3.3h.95m5.15 9.6h.95m3.75-3.4h.95m-14.55 .9h.95m-4.75-12.7h.95m11.65 11.5h.95m-17.45-6.7h.95m6.25 6.9h.95m10.95-14.5h.95m-1.25 7.5h.95m-1.25-8.5h.95m-16.25 7.7h.95m-6.75-6.6h.95m27.55 8.1h.95m-7.75 5.1h.95m-10.85-14h.95m13.45 .3h.95m-17.95 15.6h.95m-5.85-10.3h.95m13.45 5.7h.95m7.55-5.3h.95m-5.25-7.8h.95m-20.35-3.3h.95m20.05 8.7h.95m-6.95 14h.95m-12.75 .1h.95m20.65-16h.95m-7.85 15.6h.95m-9.05-8.6h.95m-1.95-3.5h.95m1.55 10.7h.95m-4.95-11.2h.95m-3.75 9.9h.95m1.65 5.3h.95m7.75-9h.95m-5.15-1.3h.95m6.85-7.5h.95m2.05 8.3h.95m-19.05 .7h.95m13.15-5.1h.95m-21.35 3.7h.95m6.45 5.2h.95m3.75-8.1h.95m-.65 2h.95m9.25-7.9h.95m-7.45 11.7h.95m2.95-14h.95m-12.45 15.5h.95m2.05 2h.95m8.85-5.1h.95m-16.05-0.6h.95m19.95-4.4h.95m-8.15 6.4h.95m-6.15 7.6h.95m-3.75-4.6h.95m10.95-11.7h.95m-13.35 3h.95m8.65-7.2h.95m6.05 9.5h.95m-14.45-0.7h.95m8.05-6.6h.95m-9.25 17.7h.95m-9.45-17.7h.95m-4.35 8.3h.95m5.45 4h.95m1.15-5.6h.95m4.95-3.3h.95m-11.05 1h.95m9.55-2h.95m6.55 1.4h.95m-13.95 1.2h.95m10.25 7.7h.95m-9.35 2h.95m7.25-11.6h.95m-10.55 15.2h.95m-12.25-15.5h.95m1.25 3h.95m16.85 .6h.95m-14.25-4.9h.95m1.85-0.1h.95m3.95 7.8h.95m3.95-2.9h.95m-9.45-2h.95m-15.35-5h.95m-1.25-3.9h.95m18.15 17.9h.95m-18.85-14.2h.95m24.15 6.3h.95m-13.75-2.1h.95m-5.55 9h.95m16.15-11.9h.95m-7.05-2h.95m-1.45 7h.95m-14.55-0.2h.95m-.45-10.1h.95m-4.35 6.5h.95m-4.45-2.1h.95m23.05 5.9h.95m-11.35-3.4h.95m9.15-5.1h.95m-11.45 17.7h.95m-.95-17.2h.95m-4.75 3h.95m18.05 6.2h.95m-23.55 4.2h.95m7.15-7.8h.95m5.35 12.3h.95m2.35-5.3h.95m-22.95-7.5h.95m17.55 1h.95m-17.15-9.6h.95m.65 7.6h.95m-3.05 .4h.95m2.05 4.4h.95m4.15 11.1h.95m6.25-15.1h.95m-5.05-0.9h.95m-2.35 1.9h.95m-10.65-9.1h.95m21.35 1.3h.95m2.65 15.3h.95m-19.55-6.9h.95m3.35 3.7h.95m9.45 4.6h.95m-23.45-18.9h.95m3.35 1.3h.95m3.85 10.9h.95m-5.15-3.8h.95m3.05 3.9h.95m-10.85-4.7h.95m21.25 13.7h.95m-10.55-7.7h.95m3.65 3h.95m-.55 5h.95m-4.55-4.2h.95m1.75 3.3h.95m-13.65-5.9h.95m12.05-8.5h.95m-16.75 7.1h.95m2.45-2.6h.95m-3.45-4.9h.95m21.15 2h.95m-3.85-0.1h.95m1.15-2.5h.95m-5.15 8.5h.95m-18.05-9.8h.95m16.15 18.6h.95m1.15-7.5h.95m-7.05 5.2h.95m-10.15-4.7h.95m14.05 1.6h.95m-12.15 6.5h.95m6.65 1.2h.95m1.55-6.6h.95m-7.55-6.4h.95m.45 9.1h.95m-12.75 1.3h.95m4.35-18.3h.95m11.55 16.8h.95m2.05-2.4h.95m-26.55-16.1h.95m11.95 14h.95m9.85-0.3h.95m-15.75 2.2h.95m-7.85-9.7h.95m15.05-2.3h.95m-17.25-5.2h.95m23.15 12.3h.95m-12.15-2.9h.95m-10.15 2h.95m20.45-2.1h.95m-1.05 7.2h.95m-25.05-6.9h.95m-1.65 1.1h.95m21.25 11.5h.95m-6.55-4.6h.95m.25-4.2h.95m-14.65-6.7h.95m-2.55-0.6h.95m-4.15-6.8h.95m9.75 23.8h.95m10.45-4.4h.95m-17.45-17.8h.95m10.75 9.2h.95m-8.45-4.9h.95m-11.05 0h.95m20.75 3.1h.95m1.55 8.3h.95m-4.35-8.8h.95m-18.45-8h.95m-4.85 8.2h.95m10.45 11.8h.95m12.45-7.7h.95m-4.15 8h.95m-21.95-12.8h.95m4.85-7.9h.95m-2.55 .9h.95m6.75 7.3h.95m.55 0h.95m-8.95 6.4h.95m11.75-7h.95m-12.65-3.4h.95m19.25 .5h.95m-5.55 11h.95m-15.45-2.8h.95m-6.05 4.3h.95m22.15-3.2h.95m-4.05-2h.95m-6.55 3.6h.95m-13.95-3.9h.95m13.95 1.5h.95m-9.85 3.8h.95m13.95-6.1h.95m-20.45-9.9h.95m4.35 23.8h.95m-12.05-17.6h.95m24.75 8.1h.95m-10.65 2.2h.95m-9.65-17.6h.95m2.75 10.3h.95m3.85 5h.95m8.95 5h.95m-10.35-0.6h.95m-13.55-12.9h.95m-1.85 8.5h.95m17.75-11.1h.95m1.35 3.5h.95m-8.85 10h.95m-5.15 4.6h.95m1.25-9.1h.95m3.65-2.7h.95m3.25-3.3h.95m-18.75-5.4h.95m1.15 12.5h.95m-1.15 7.8h.95m17.45-7.6h.95m-18.45 6.3h.95m9.65-0.5h.95m.05-13.5h.95m-18.05 11.4h.95m11.95 2.7h.95m-14.85-5.2h.95m20.05-3.5h.95m-2.85 3.7h.95m-9.45 4.1h.95m-5.25-17.2h.95m11.55 10.6h.95m-14.75-9.1h.95m19.55 6.5h.95m-2.75-0.4h.95m-23.35 3.5h.95m10.45 3h.95m4.85-3.7h.95m-17.45-11.4h.95m14.55 11.6h.95m-11.15-6.8h.95m-2.85 .4h.95m10.75 11.4h.95m7.55-10.3h.95m-22.25 7.9h.95m-1.55-9.8h.95m6.95 3.6h.95m-11.95 1.8h.95m5.65 2.2h.95m2.35-0.9h.95m2.45 4.8h.95m1.25-9.4h.95m-9.15 2.6h.95m-6.05 11.3h.95m3.75-6.1h.95m.15 7.9h.95m2.05-0.6h.95m5.05-6.3h.95m-14.45-6h.95m-2.65-9.8h.95m22.05 3.5h.95m-4.25 .5h.95m-17.35-2.1h.95m-8.35-1h.95m7.45 10.1h.95m6.55 13.4h.95m11.75-12.3h.95m-17.95 7.8h.95m-4.35-4.2h.95m7.45 1.3h.95m3.75 3.1h.95m-17.35-19.6h.95m14.15 13.8h.95m5.65 .3h.95m-4.95-0.2h.95m-14.15 4.1h.95m1.75-4.9h.95m-1.15-5.6h.95m14.35 12h.95m-18.25-4.5h.95m3.35-8.5h.95m-5.95 4.8h.95m11.35 8.3h.95m4.15-10.7h.95m-5.65-0.3h.95m7.55-0.3h.95m-24.95 7.3h.95m-.25-7.9h.95m-.65-5.2h.95m9.55 2h.95m-9.65-1.4h.95m2.55 .3h.95m14.65 6.6h.95m-4.55-8.3h.95m-1.85-0.7h.95m-8.75 21.2h.95m-2.05 1.9h.95m-8.55-26h.95m9.35 22.7h.95m-13.55-18.4h.95m19.25 2.9h.95m-12.05-0.4h.95m-9.05 7.1h.95m17.45 8.8h.95m-20.75-2.1h.95m19.45-16.2h.95m-19.65-1.4h.95m20.85 5.3h.95m-17.15 5.8h.95m-.05 1.7h.95m4.65-0.4h.95m-4.05 4.4h.95m13.55-13.2h.95m-15.05 2h.95m-14.25 4h.95m4.75-7h.95m-9.25-3.7h.95m1.15 13.3h.95m13.45 2.1h.95m-12.85-5.4h.95m10.75 11.7h.95m8.75-11.7h.95m-.05 7.8h.95m-3.05 .6h.95m.75 .8h.95m-21.95-5.4h.95m20.55 .3h.95m-3.95-5.6h.95m-9.15 9.5h.95m.45-0.6h.95m6.65-0.3h.95m-18.65-0.4h.95m-.35-9.6h.95m4.35 5.9h.95m-8.95-11.8h.95m12.65 16.7h.95m-14.75-13.2h.95m11.35 1h.95m-.45 2.7h.95m13.15 1.2h.95m-20.75 5.2h.95m-.65-4.5h.95m14.05 3.9h.95m-22.35-11.4h.95m20.75 12.4h.95m-2.05-6.9h.95m-17.45-0.8h.95m16.35 5.2h.95m-24.75-6.5h.95m-2.45 4.6h.95m9.75 6.6h.95m4.45-10.7h.95m-10.75 13.6h.95m9.25-1.9h.95m2.35-15.4h.95m-21.45 1.5h.95m10.65 14.2h.95m-7.25 1.8h.95m18.65-13.7h.95m-11.85 16.8h.95m1.35-13h.95m-14.15-5.6h.95m22.35 2h.95m-21.25-7.9h.95m3.45 5.4h.95m3.85 19.4h.95m8.55-5.7h.95m.85-5.4h.95m-22.35-0.7h.95m6.25-5.6h.95m-11.45 9.1h.95m.85 2.3h.95m10.35-11.1h.95m8.85 3.2h.95m-23.35-4.5h.95m8.35 11.5h.95m10.35-8.8h.95m.55 4.6h.95m-9.05-6.7h.95m7.05 11.1h.95m-9.15-3.7h.95m-18.15-10h.95m20.65 12.9h.95m-15.35-15.8h.95m4.85 10.6h.95m-7.85 9.5h.95m-6.85-18.6h.95m9.85 1.9h.95m16.65 1.2h.95m-4.75-4.5h.95m-14.15 23.3h.95m14.45-20.9h.95m-26.45 .4h.95m5.95 1.3h.95m6.55 5.2h.95m-7.25 9.9h.95m8.95 2h.95m-8.75 .4h.95m6.35 .6h.95m-14.85-22.9h.95m1.75 19h.95m3.05-6.7h.95m-4.75-2.1h.95m-7.25 1.5h.95m1.45 7.2h.95m11.75-14.4h.95m10.55 11.3h.95m-28.05-16.4h.95m10.55 18.2h.95m7.15 1.3h.95m4.25-12.3h.95m-2.25 12.9h.95m4.35-6.2h.95m-23.55 3.9h.95m8.05 6.6h.95m.15-15.6h.95m-11.65-2.5h.95m15.25 7.8h.95m-21.95-14.1h.95m16.75 7.2h.95m4.15 4.5h.95m-17.85 8.9h.95m11.65-3.4h.95m-12.05 .6h.95m-5.45-2.5h.95m-3.65-2.1h.95m27.75-6h.95m-19.05 10.7h.95m3.85 2.3h.95m-14.15-13.7h.95m3.15 2h.95m-1.75-5.9h.95m-7.15 5.5h.95m2.25 1.1h.95m17.45 2.5h.95m-18.85-7.7h.95m24.55 3.3h.95m-10.75 12.9h.95m-8.95 2.1h.95m9.15-5.6h.95m-10.45-5.2h.95m-12.35-13h.95m16.95 18.4h.95m-10.95-2.8h.95m.85-10.5h.95m14.75 2h.95m-11.35 8.4h.95m-1.85 7.9h.95m-5.95-3.6h.95m1.05-3.4h.95m-3.85 3.6h.95m8.85-8h.95m-16.05 3h.95m12.75 3.9h.95m7.65-2.1h.95m-25.05-5.8h.95m10.95 14.1h.95m-8.35-10.4h.95m14.15 5.6h.95m-17.25-12.9h.95m21.55 3.4h.95m-18.25-3.3h.95m-5.75 6.4h.95m-3.65 1.9h.95m-3.95-7.9h.95m19.75-1.8h.95m-12.65 .3h.95m8.45 3.8h.95m4.35 .8h.95m-5.35-2.9h.95m6.25 3h.95m-5.45 7.7h.95m-13.35-2.3h.95m5.45 3h.95m-13.95-4.4h.95m19.95-0.9h.95m-3.75 5.8h.95m1.05-14.7h.95m-20.35 1h.95m21.45 1.4h.95m-22.15 15.4h.95m9.75-7.1h.95m-2.35 8.2h.95m1.55 1.8h.95m-8.55-17.6h.95m-7.25 .9h.95m5.95-3.1h.95m2.35 17.6h.95m10.05-5h.95m2.85-2.3h.95m-7.25-9.5h.95m-21.25 7.8h.95m14.05 7.8h.95m6.55-13.3h.95m-1.55-5.8h.95m-16.75 18.7h.95m-6.05-8.4h.95m-.65-8.9h.95m15.95 15.5h.95m-11.35-3h.95m1.15-5.9h.95m14.15 1h.95m-14.65 5h.95m2.45 3h.95m-16.75-10.6h.95m6.25 13h.95m10.35 2.7h.95m-14.65-9.8h.95m12.85-10.1h.95m-10.65 17.1h.95m6.45-7.4h.95m3.45 0h.95m-11.75-7.2h.95m-9.95-1.1h.95m15.65 14.9h.95m-3.55-0.9h.95m2.45-2.6h.95m-19.05-14.8h.95m1.05-3.5h.95m11.25 14.6h.95m-9.75-1.8h.95m6.75-7.3h.95m-2.85-0.7h.95m15.45 11h.95m-23.05-4.8h.95m11.95 14.1h.95m-5.75-5h.95m-2.25-10.7h.95m3.95-1.7h.95m-9.75-4.6h.95m3.45 8.5h.95m8.95-6.7h.95m1.75 7.4h.95m-3.65 2.5h.95m-17.65-11.2h.95m17.75 3.9h.95m-26.05 6.5h.95m18.15 9.6h.95m1.35-13.2h.95m4.15 6.4h.95m-26.75-4h.95m4.75-11.8h.95m17.35 9.4h.95m-19.15 9.3h.95m14.05-5.6h.95m-12.55 1.5h.95m-6.65-3.8h.95m1.65 11.4h.95m5.55-0.4h.95m7.45-8.5h.95m-20.65-14.1h.95m4.75 2.3h.95m7.05 8.9h.95m-8.15-6.3h.95m13.95 13.4h.95m-10.35-8.7h.95m4.45-3.5h.95m-4.95 12.5h.95m-4.25-8.3h.95m-3.65 11.3h.95m3.05 1.7h.95m-1.45-12.8h.95m-.35 12.4h.95m-2.55 .9h.95m11.85-3.8h.95m.05-15.2h.95m-2.55-2.1h.95m-18.15 11h.95m18.55 3.6h.95m-17.55 7h.95m7.55-1.4h.95m.85-16.5h.95m-19.25 3.8h.95m-3.85-7.5h.95m20.65 15.2h.95m-1.85-9.3h.95m.45-4h.95m-16.75-3.6h.95m15.95 6.8h.95m3.85 1.7h.95m-1.25-3.6h.95m-16.85 8.9h.95m3.75 7h.95m.75 .2h.95m-6.15 1.6h.95m2.65-12.3h.95m-.05 .8h.95m6.55 4.4h.95m-19.55-0.4h.95m-1.35 3.4h.95m6.45-1.8h.95m7.85-10.6h.95m-19.85-7.1h.95m17.15 12.3h.95m-16.65-12.2h.95m23.75 11.8h.95m-21.65 10.6h.95m-10.55-17.6h.95m20.15 11.7h.95m-13.85-4.3h.95m9.25-2.1h.95m-2.15 8.1h.95m-16.45-11.6h.95m-.95 1.9h.95m-.65-4.1h.95m13.05 15.8h.95m10.15-12.4h.95m-16.75 4.2h.95m11.15 11.9h.95m2.95-7.5h.95m-20.15 4.4h.95m-1.75-13.2h.95m1.55-3.6h.95m12.85 12.5h.95m-17.25-11.7h.95m1.55 12.7h.95m8.95-7.3h.95m-14.05-2.5h.95m2.65 .4h.95m-1.45-0.8h.95m-3.95 9.5h.95m18.95-14.6h.95m-13.55 20.2h.95m10.55-10.8h.95m-26.55-10.2h.95m6.05 19.9h.95m10.55-14.5h.95m-6.75 8.3h.95m-9.75-9h.95m-.35-0.5h.95m15.45 10.1h.95m-16.85-6.5h.95m2.25 4.1h.95m13.05-6.7h.95m2.35 2.4h.95m-8.15 8.9h.95m-11.45-0.9h.95m-5.25-16.2h.95m19.85 14h.95m.55-9.5h.95m-28.05-2.9h.95m24.15 2.9h.95m-2.95 10.8h.95m-21.85-9h.95m2.45 10.9h.95m6.65-3.1h.95m13.45-1.2h.95m-4.95 6.2h.95m1.35-8.1h.95m1.25-5h.95m-.15 4.2h.95m-28.15-3.8h.95m12.05 13.1h.95m.95-5.3h.95m-8.25-2.9h.95m-4.15 7.2h.95m11.15-10.3h.95m-12.75-7h.95m18.15 9.6h.95m-4.05 6.4h.95m-16.15-6.4h.95m-.65-5.7h.95m6.25-1.2h.95m-2.65 1.6h.95m8.55 .2h.95m3.45 .1h.95m-2.15-4h.95m-18.85 20.6h.95m3.25-5.4h.95m-9.15-5.4h.95m-.15 .4h.95m-2.15 1.2h.95m-.65 1.9h.95m23.25-10.2h.95m-8.95 4.4h.95m4.05-0.7h.95m-16.55 13.4h.95m5.55-4h.95m-13.35-8.8h.95m16.65 14h.95m-16.15-15.9h.95m6.95 8.4h.95m-7.75-1.1h.95m11.95-3.2h.95m6.05 .4h.95m-21.75-4.1h.95m19.75 8.4h.95m-13.95 3.7h.95m-8.85-8.8h.95m9.55 1.6h.95m-10.45-2.8h.95m5.95 5.1h.95m-4.55 2.5h.95m-3.25-7.5h.95m20.35-2.7h.95m.55-1.1h.95m-15.35 4.1h.95m3.35 10.1h.95m3.75-12.6h.95m-10.15 5.1h.95m5.65-8.4h.95m3.35 9.5h.95m-6.75-9.8h.95m-6.25 4h.95m-12.75 2.5h.95m20.25 7.1h.95m-21.25-16.9h.95m-1.45 14.6h.95m9.95-2.9h.95m-9.95-6.8h.95m8.75 12.5h.95m9.65 .6h.95m-20.05 2.7h.95m-1.75-11.2h.95m-4.75-4.9h.95m10.45 6.4h.95m-.05 9.2h.95m2.25-4.2h.95m3.05-0.8h.95m-3.15 6.4h.95m-16.15-20.9h.95m14.95 11.7h.95m-10.55-9.6h.95m3.45 20.5h.95m-14.25-20.8h.95m14.25 9.1h.95m-12.35 .5h.95m5.95 8h.95m16.65-9.1h.95m-31.45-7.7h.95m25.95 2.1h.95m-5.45-2.9h.95m-4.65 6.3h.95m7.35 6.8h.95m-21.15-17.5h.95m20.85 5.5h.95m-20.25 7.9h.95m11.15 5.4h.95m-11.35 3.1h.95m-3.55-16.4h.95m-5.95-1.9h.95m2.65 4.9h.95m1.65-3.5h.95m7.65 17.5h.95m-3.45-2.6h.95m-14.95-18.1h.95m21.85 19.6h.95m-21.35-16.8h.95m-1.65-3.3h.95m17.85 11.8h.95m-11.25 11.3h.95m1.45 1.1h.95m13.55-10.3h.95m-17.95 9.3h.95m10.45-1.2h.95m-15.65-12.8h.95m-1.25-10.4h.95m6.95 13.9h.95m-6.25-10.4h.95m-2.45 19.8h.95m-3.25-14.4h.95m3.85 7.8h.95m-7.85-1.2h.95m11.45 3.6h.95m-13.05-15.9h.95m6.05 6.2h.95m1.95-2.5h.95m-6.65 9.5h.95m4.15 1.3h.95m7.55-8.1h.95m3.45 11.3h.95m-19.65-18.8h.95m11.25 21.5h.95m2.65-14.7h.95m2.15 13h.95m-13.95 4.3h.95m-12.65-22.4h.95m6.65 7.6h.95m2.25 6.1h.95m4.75 7.9h.95m1.35-6.5h.95m-10.65-1.1h.95m-5.35-10.8h.95m14.05 5.3h.95m-17.45-0.3h.95m-.15-11.1h.95m10.15 18.1h.95m.15-2.5h.95m-14.15-12.6h.95m.35 6.7h.95m11.05-0.2h.95m-16.05-3.5h.95m15.15 1.4h.95m-9.65 14.4h.95m-4.45-13.1h.95m6.45 5h.95m-12.45-0.4h.95m21.75 1.7h.95m-14.85-3.1h.95" stroke="#00BFC4" stroke-width="0.95"/>
<path d="M448.8 277.7h.95m.35-21.8h.95m-10.55 8.2h.95m4.15 15.5h.95m-2.95-16.3h.95m3.35-6.8h.95m-.65-8.2h.95m-9.75 14h.95m.75 13.8h.95m6.65-12.9h.95m-13.25 3.9h.95m9.75 5.6h.95m-10.95 6.5h.95m7.15-15.8h.95m-1.05 .5h.95m-8.15 14.1h.95m5.25-9.3h.95m-5.45 11.5h.95m12.65-29.6h.95m-10.15 11.5h.95m-8.05 9.7h.95m3.45 3.6h.95m-2.55-20h.95m2.85 14.2h.95m-3.35 .6h.95m6.65-0.3h.95m-1.65-16.6h.95m-11.35 22.8h.95m3.35-33.7h.95m-6.25 28h.95m8.65-6.9h.95m1.25-28.6h.95m-.65 39.2h.95m-6.75-23h.95m-8.95 19.5h.95m8.55 2.1h.95m-.05 6.1h.95m-10.25-9h.95m7.05-14.7h.95m2.35-4.2h.95m-.05 26.1h.95m-.65-21.8h.95m-12.35 23.8h.95m-3.45-19.9h.95m14.55-4.6h.95m-6.25 14.4h.95m1.75-12.7h.95m.25 1.1h.95m-3.55 19.2h.95m-7.75-18.5h.95m-.65-0.7h.95m11.55 0h.95m-3.55 2.1h.95m-3.85 20.2h.95m-3.95-1.5h.95m-1.65-27.9h.95m-6.95 4.5h.95m1.25 25h.95m-4.25-2.4h.95m8.55-15.2h.95m-7.05 1.3h.95m-2.65-6.1h.95m5.15 9h.95m-9.85-1.8h.95m11.35 14.2h.95m-10.05-3.2h.95m3.05 2.1h.95m-.05-4.3h.95m-8.85 5.9h.95m.85-12.8h.95m7.25 6.7h.95m-5.35 1.8h.95m2.85-2.1h.95m-5.35-4.4h.95m-3.35 4.2h.95m12.95-7.5h.95m-16.25 5.3h.95m-.15-10.3h.95m-1.45 14.5h.95m-.25-6.4h.95m4.75 10.8h.95m4.15-21.4h.95m-12.95 19.3h.95m.65 1.3h.95m5.45-25.7h.95m-3.65 22.7h.95m-2.95-18.2h.95m8.95 2.8h.95m-10.15 23.3h.95m8.05-7.2h.95m-9.35-16.2h.95m-6.65 5.7h.95m.05 4h.95m1.45-14.1h.95m-5.55 20.3h.95m7.25-19.6h.95m-6.45 23.9h.95m12.45-9.3h.95m-14.25 10.3h.95m6.35-15.5h.95m-5.85 16h.95m-3.45-1.8h.95m.25-23.9h.95m6.65 11.3h.95m-9.95 8.4h.95m8.55-18.1h.95m-7.25-0.9h.95m-4.45 18.4h.95m2.95-23.3h.95m-4.05 19.9h.95m11.25-19.7h.95m-3.05 12.2h.95m-8.85 15.1h.95m12.25-16.5h.95m-11.55 20.6h.95m1.55-20.9h.95m-2.25 3.5h.95m6.95-1.1h.95m-11.15-4.2h.95m6.85 2.3h.95m2.75 .8h.95m-11.95-5.1h.95m-2.45-2.6h.95m10.75 11.7h.95m-3.35-6.4h.95m-6.95-5.6h.95m2.85 10h.95m-.95-12.8h.95m-7.05 12.9h.95m5.35 6.3h.95m-2.15-2.4h.95m4.75-5.7h.95m-1.15-12.7h.95m-10.55 18.2h.95m.55 .7h.95m-7.05-16.8h.95m-1.85 26.2h.95m9.05-23.1h.95m-2.75 2.2h.95m5.45 9.6h.95m1.95-30.8h.95m-14.15 33.3h.95m.95-10.4h.95m-4.95-4.3h.95m-3.75 1.4h.95m8.45-5.4h.95m-9.65 7h.95m13.15 3.2h.95m-6.25-1h.95m-2.85 15.1h.95m-4.15-8.6h.95m-5.55 10.3h.95m11.75-7.3h.95m.65-3.2h.95m-15.45-13.3h.95m.65 18.6h.95m7.15-22h.95m-8.45 15.7h.95m2.25-12.4h.95m1.65 6.5h.95m-6.55 9.3h.95m3.05-18.1h.95m-.75 6.5h.95m-2.95-7.1h.95m5.35 7.5h.95m-.85-6.1h.95m-1.95 21.1h.95m-6.25 1.4h.95m4.25-19.3h.95m4.75 18.7h.95m-.55-1.5h.95m-11.85-9.3h.95m-3.15-2.9h.95m4.35-3.5h.95m-1.45 2.5h.95m-8.45 16.1h.95m8.35-9.5h.95m-9.15-14.6h.95m-2.75 19.6h.95m8.95 7.5h.95m-.75 1.3h.95m4.75-23.8h.95m-.25 10.5h.95m-12.15-4.5h.95m1.75 2.9h.95m7.95 8.4h.95m-1.85-19h.95m9.35-10.2h.95m-12.85 27.8h.95m-.95-2.2h.95m-12.75-10.7h.95m8.95 1h.95m-7.55 .5h.95m4.15 7.3h.95m-1.85-13.2h.95m-9.85 1.9h.95m1.25 1.7h.95m.25 20.7h.95m7.95-4.4h.95m-4.55-23h.95m-9.15 12.5h.95m-.25 11.7h.95m13.45-12.9h.95m-5.75-3.2h.95m-9.95 3.3h.95m2.75-1.8h.95m5.75 11.1h.95m1.45-10.9h.95m-5.35 3.2h.95m-.25-8h.95m-10.75-2.3h.95m1.15 8.3h.95m.95-10.6h.95m3.35 10h.95m-2.25 1h.95m-6.95-2.6h.95m-3.45 10h.95m1.15 .7h.95m3.85-5.1h.95m-7.55 4.7h.95m9.55 7.9h.95m-7.05-1.7h.95m-7.75-5h.95m1.95-2.3h.95m8.75-3.6h.95m-5.85-4.3h.95m-.65 16.2h.95m1.15 1.6h.95m2.45-23.7h.95m-4.65 18.9h.95m-9.75-10h.95m6.25 6.6h.95m8.35-10.8h.95m-17.85 14.9h.95m14.95-7.3h.95m-6.45-3.4h.95m7.05-4.2h.95m-12.75 .9h.95m-3.95-10.4h.95m-.75 27.7h.95m11.35-26.9h.95m-15.05 18.3h.95m12.65-5.4h.95m-.65-3.2h.95m-6.85 14.5h.95m-5.65-19.5h.95m-.45 22.3h.95m6.75-3.1h.95m3.65-14.7h.95m-5.95-6.7h.95m.75 8.9h.95m-9.65-10.4h.95m.65 29.9h.95m-9.25-9.1h.95m13.85-19.3h.95m-9.85 27.5h.95m-3.65-9.5h.95m-.95-18.2h.95m1.45 17.7h.95m-4.35-14h.95m.05 19.8h.95m-1.05-11.6h.95m2.25-8.5h.95m-4.35-4.6h.95m4.85 26.4h.95m-7.85-10.3h.95m20.45-36.7h.95m-10.45 41.2h.95m-4.35-12.2h.95m-2.35 1.2h.95m8.55-3.8h.95m-16.45-5.8h.95m-2.05-1.7h.95m1.95 6h.95m2.45 24.8h.95m-8.75-8.6h.95m7.95-22.4h.95m-4.25 13.8h.95m.05-2.6h.95m4.05-9.6h.95m6.45 9.3h.95m-5.45 2.4h.95m-12.85-4.8h.95m-1.65 3.2h.95m13.25-4.1h.95m-10.45 17.2h.95m9.05-19h.95m-1.05-2.1h.95m-15.85 8.4h.95m8.15-8.3h.95m-6.85 4.3h.95m11.05 13.3h.95m-.55-12.9h.95m-1.95 12.1h.95m-14.45-7.9h.95m10.95 5.2h.95m-15.75 6.1h.95m12.35-14.5h.95m-10.15-8.1h.95m12.35 4.4h.95m-15.05 7.8h.95m-2.75-10.6h.95m9.55 3.2h.95m-.95-6h.95m-10.35 22.8h.95m4.25-0.4h.95m1.75-22h.95m-4.65 11.9h.95m7.05 12.9h.95m-9.15-1.5h.95m2.15 5h.95m5.05-18.1h.95m-9.45 5.9h.95m-1.45-12.9h.95m7.55 19.4h.95m.05-23.8h.95m-3.25 1.8h.95m.95 23.1h.95m-14.05-17.8h.95m8.25 16h.95m-8.15-6.7h.95m1.75-0.6h.95m4.65-12.4h.95m3.35 12.9h.95m-11.35-8.3h.95m6.75 4.1h.95m-12.25 4.4h.95m6.45-2.4h.95m.95 1.4h.95m4.35 8h.95m-1.45-3.8h.95m.25-11.1h.95m-.35 .2h.95m-10.85-3.6h.95m-7.15 1.3h.95m1.45-1.6h.95m.25 18.2h.95m-6.25 .5h.95m10.35-5.4h.95m-3.95 7.1h.95m-1.05 6.4h.95m6.25-7.3h.95m-10.25-9h.95m4.55 15h.95m.15-28.6h.95m-13.45 18.6h.95m5.45 11.1h.95m3.65-15.3h.95m-1.35 11.7h.95m-6.45 5h.95m3.65-1.7h.95m-8.55-12.2h.95m.35-17.4h.95m3.85 21.5h.95m-2.25-2h.95m3.85-10h.95m-8.95 2.1h.95m3.75 5.3h.95m-3.95 3h.95m-1.75-14.2h.95m-.35 1.4h.95m-2.85-5.9h.95m7.85 5.9h.95m-5.95 6.1h.95m-4.15-4.3h.95m7.55 4.1h.95m-8.65 6.5h.95m-.55-20.3h.95m-6.25 16.2h.95m6.05-10.1h.95m-2.45 11h.95m5.65 10.5h.95m-9.75-3h.95m-2.85-15h.95m3.35-2.4h.95m-5.35 11.1h.95m-.35 5.8h.95m6.95-17.5h.95m-1.65 23.3h.95m-6.55-4.9h.95m6.75-4h.95m-4.35 6.1h.95m.05-2.5h.95m2.95-23.7h.95m-10.55 8.3h.95m11.95 10.9h.95m-9.85 5.5h.95m-7.85-17.2h.95m9.95 11.6h.95m1.55-17.9h.95m-11.35 .2h.95m3.55 25.1h.95m7.15-26.4h.95m-5.45-12.9h.95m5.95 23.2h.95m-11.85-4.6h.95m-5.85 12.7h.95m5.45-8.5h.95m4.65 15.9h.95m.55-21.8h.95m-8.05-5.1h.95m-1.35 16.1h.95m2.25 8.1h.95m-5.35-15.8h.95m2.65-8.1h.95m-8.15 16.7h.95m11.55-11.5h.95m-11.25 18.4h.95m-2.45-6.3h.95m1.45 3.7h.95m-3.65-7.4h.95m9.75-8.3h.95m-3.05 23.1h.95m-7.65-6.6h.95m9.35-18h.95m-16.25 21.5h.95m11.25-1h.95m-8.15-7.9h.95m3.85-9.2h.95m-10.15 8.4h.95m2.75-16h.95m-7.05 14.7h.95m6.15-3.6h.95m1.55-4.1h.95m4.05 .8h.95m-14.95 3.3h.95m8.55 5.3h.95m5.35 6.6h.95m-9.55 8.6h.95m-2.25-12.7h.95m-4.95-7.1h.95m6.45-11.2h.95m1.85 14.9h.95m-6.35-11.8h.95m21.25-22.9h.95m-23.15 39.1h.95m.35-10.2h.95m6.35 8.1h.95m-12.75-9.5h.95m-.85 17h.95m1.45-6.9h.95m-3.75-9.9h.95m12.65 0h.95m-2.55 14.4h.95m-12.15-9.7h.95m-5.05 14.2h.95m4.55 1h.95m.95-27.1h.95m-1.85 13h.95m.45-5.8h.95m-3.45 17h.95m7.95-0.3h.95m-6.65 5.3h.95m-.85-4.7h.95m.55-22.6h.95m3.05 11.3h.95m-9.85-13.9h.95m2.35 15.9h.95m-7.85-7.7h.95m.55 19.1h.95m9.85-16.1h.95m-4.85 11.7h.95m1.25-4.5h.95m-5.55-17.2h.95m7.75-18.1h.95m-10.35 14.7h.95m-7.95 20.7h.95m.95-18.5h.95m1.65 28.5h.95m12.15-17.4h.95m-9.65 11.5h.95m-3.65-16.3h.95m8.45 11.8h.95m-8.05 12.1h.95m-7.85-22.9h.95m.75-3.7h.95m1.85 19.2h.95m7.55-8.7h.95m-8.35 7.9h.95m-6.85 5h.95m4.35 .3h.95m9.45-26h.95m-13.55 5.9h.95m10.75 15.7h.95m1.35-6.3h.95m-12.75 4.9h.95m8.85-13h.95m-6.85 19.5h.95m.65-16h.95m-6.05 3h.95m.35-9.4h.95m8.15 1.7h.95m-14.25-6h.95m-2.25 20.3h.95m6.75 4.9h.95m-10.65-16.6h.95m10.25-0.6h.95m-10.95-5.5h.95m2.25 27.7h.95m9.35-26.7h.95m-6.65 8h.95m6.65-1.3h.95m-6.05-6.6h.95m2.85 0h.95m-4.65-2.6h.95m-12.15-2.1h.95m2.45 1.9h.95m5.25 25h.95m-1.35-16.8h.95m-1.25 11.8h.95m-5.35 2.1h.95m11.75-19h.95m-18.55 12.6h.95m7.55-17h.95m3.55 5.1h.95m-11.15 14.8h.95m.95-13.1h.95m-.05 4.3h.95m-1.85 16.1h.95m8.75-5.3h.95m-13.85-1.3h.95m.75 7.5h.95m8.75-9.1h.95m-.45 4h.95m-11.05-20.7h.95m3.15 .2h.95m1.65 17.6h.95m-8.35 4.9h.95m13.45-17.6h.95m-4.15-7.7h.95m-10.45 19.4h.95m-1.55-11.2h.95m5.85 5.9h.95m4.15-5.1h.95m-4.65 10.8h.95m1.15-8.3h.95m3.65-3.1h.95m-9.55-9h.95m-9.95 24.9h.95m2.35-1.1h.95m-5.35-13.5h.95m6.55-8.9h.95m4.15 23.5h.95m-5.95-36.3h.95m-2.35 35.6h.95m-3.95-20.6h.95m2.95 25h.95m7.15-15.7h.95m-5.75 4.4h.95m-7.25-11h.95m.15 .2h.95m-.75-4.6h.95m1.75 30.6h.95m2.45-8.5h.95m-7.95-7.9h.95m11.45-13h.95m-17.65 5.4h.95m6.95-4.8h.95m-5.95 .2h.95m11.15 15.7h.95m-10.65-4.6h.95m6.65 11.2h.95m-2.65 1.4h.95m-10.55-14.9h.95m1.85-2.5h.95m-.75-5h.95m1.45 18.2h.95m5.25 2.1h.95m-2.95-0.1h.95m-13.55-8.1h.95m14.75-16.7h.95m-9.55 17.8h.95m7.55-2.1h.95m-14.75-11.9h.95m-.55-4.3h.95m4.15 25.7h.95m.15-12.7h.95m-2.25 12.9h.95m-.95-14.7h.95m1.45 2.9h.95m-.05 11.3h.95m-1.55 5.5h.95m-4.25-31.9h.95m5.65 22.5h.95m2.95-10.3h.95m-2.55-8.3h.95m-7.05 2.5h.95m7.45 10.9h.95m-16.15 3.8h.95m9.65-18h.95m2.95 2h.95m-8.65 12.4h.95m2.65-13.4h.95m-7.55 17.4h.95m5.55-10.1h.95m-6.15 11.5h.95m-3.05 7.5h.95m.75-8.7h.95m-7.15-1.7h.95m1.65-18h.95m1.05 27.2h.95m-4.85-18.6h.95m-.85 15.5h.95m6.65-24.8h.95m2.45 18.5h.95m-1.65 2.6h.95m-.55 6.4h.95m2.95-23.4h.95m-12.05 11.5h.95m-4.75-16.3h.95m5.15 29.7h.95m-2.45-6h.95m-2.05-0.5h.95m4.15 2.6h.95m-7.45 3.1h.95m8.35-13.8h.95m-2.75-9h.95m-9.45 19.6h.95m14.15-24.8h.95m-3.45 5.7h.95m-9.95 22.1h.95m7.55-28h.95m-10.65 13.7h.95m4.15 13.9h.95m1.65-18.6h.95m.05 6.1h.95m-.85 2.2h.95m-7.35-2.2h.95m-4.85 1.5h.95m11.55 5.8h.95m-12.05-11.5h.95m4.85 14.6h.95m-.05-24h.95m-4.55 7.8h.95m18.25-26.9h.95m-9.15 22.1h.95m-9.55 23.9h.95m-2.45-7.7h.95m-1.35 7.2h.95m-6.15-10.7h.95m-1.45-3.6h.95m3.35-4.4h.95m1.85 18.4h.95m.45 1.8h.95m-5.65-21h.95m8.45-2.5h.95m-8.15 20.1h.95m.25-11.1h.95m-11.15 5.8h.95m1.05 6.3h.95m13.15-6.6h.95m-11.05 2.9h.95m-1.45-15.9h.95m-5.25-5.3h.95m10.25 4.1h.95m-4.95 24.5h.95m4.65-3.9h.95m-6.75-10.9h.95m-1.65 14h.95m.15-27h.95m5.25 18.5h.95m-5.85 6.4h.95m6.85-21.3h.95m-9.15 14.6h.95m-7.85-9.3h.95m12.25-5.1h.95m-1.05 15.9h.95m-7.45-19.4h.95m-3.25 3h.95m.95 13.5h.95m-3.45-6.6h.95m11.15-10.6h.95m-8.25 10.5h.95m1.95 8.4h.95m-6.35-10.1h.95m3.25 10.4h.95m-12.95-9.5h.95m12.05 12.5h.95m-9.15-25h.95m7.95 19.6h.95m1.55 3.2h.95m-3.45-11.9h.95m-10.85-1.5h.95m-.45 1.2h.95m7.85 3.7h.95m-4.65 12.1h.95m5.15-15.6h.95m-14.85-7.9h.95m.65 26.7h.95m-3.55-3.1h.95m13.25-12.9h.95m-9.25-1.7h.95m-.45 0h.95m2.05 12.6h.95m-6.15-16.3h.95m-5.25 18.5h.95m4.55 .1h.95m-.15-4.9h.95m-2.25-18h.95m-4.65 7.7h.95m13.25-9.7h.95m-4.45 14.2h.95m-9.85 7.6h.95m2.45-23.1h.95m-8.35 24h.95m9.75-9.9h.95m4.35 7h.95m-.25-3.8h.95m-5.55-0.3h.95m-11.45 5.2h.95m-.75-14.5h.95m.85 14.8h.95m-.45 4.8h.95m10.65-30.1h.95m-15.45 16.2h.95m11.65-0.3h.95m-6.15-13.4h.95m8.65 16.4h.95m-16.75 .2h.95m-3.45-2.6h.95m10.65 7.4h.95m5.15-5.6h.95m-6.55-7.3h.95m-9.75 4.8h.95m-1.75 1.7h.95m7.15-12.7h.95m-8.45 19.4h.95m3.05-21.6h.95m2.55 17.9h.95m3.25-3.4h.95m-7.35-6.2h.95m-3.65 12.9h.95m9.15-14.8h.95m-2.65 5.4h.95m-13.35-12.9h.95m12.25 20.8h.95m-5.15-4.2h.95m-6.65-11.7h.95m-2.95 24.3h.95m6.85-10.4h.95m1.35-7.8h.95m-11.15 19.9h.95m8.85-30.6h.95m-9.05 24.5h.95m5.65 4.1h.95m-7.65-6.3h.95m5.95-21.7h.95m3.25 22.9h.95m-7.05 2.2h.95m-.85-7.3h.95m4.95-10.6h.95m-6.45 2.3h.95m-1.35 6.8h.95m-2.35 15.5h.95m3.75-30.1h.95m-8.25 18.6h.95m5.15 1.7h.95m-4.65-5.2h.95m3.95-2.2h.95m-3.15 8.8h.95m-2.95 4.5h.95m-1.25-1h.95m4.15-13.7h.95m-8.35 13.8h.95m-2.15-15.8h.95m10.35 4.6h.95m-3.65 11.3h.95m.25-11h.95m-9.45 7.1h.95m1.05-27.7h.95m-2.25 18.9h.95m5.35 9.8h.95m-2.85-21.4h.95m-3.55 5.1h.95m3.95 1.4h.95m-8.95-1.5h.95m-1.45 5.2h.95m10.85 9.4h.95m-17.05-9.3h.95m1.85-6.5h.95m13.65-5.2h.95m-10.15 5.9h.95m3.75-7.9h.95m-1.05 13.8h.95m-9.75-1.6h.95m13.25-5.4h.95m-4.85-1.2h.95m-13.45 10.2h.95m.45 .2h.95m-2.65-9.7h.95m-1.35 12.6h.95m4.15-10.6h.95m6.55 9.2h.95m-7.85 14.2h.95m-4.35-32.1h.95m3.75 18.9h.95m-5.45-11.7h.95m5.05 6.9h.95m-6.35-6.3h.95m-.05 13.4h.95m3.15-20.3h.95m-4.95 7.1h.95m-3.65 10.3h.95m-2.35 7.9h.95m4.05-26.2h.95m-.45 11h.95m-.05-6.2h.95m-9.35 18.7h.95m-.15-6.1h.95m1.05 9.1h.95m1.25-7.8h.95m11.05-6.3h.95m-7.85-3.6h.95m-3.95 9.1h.95m7.45-12.7h.95m-8.55 17.7h.95m-7.15 2.9h.95m9.25 2.5h.95m-6.45-1.4h.95m5.85-5.3h.95m-6.25-21.4h.95m-6.35 1.5h.95m-3.05 22.5h.95m10.05-18.2h.95m-2.35-4.8h.95m-4.85 8h.95m8.15 5.1h.95m-9.25-14h.95m1.85 10h.95m-3.45-0.1h.95m6.25 11.6h.95m-12.35-3h.95m-3.35 2.1h.95m5.45-15.2h.95m-.75-0.1h.95m-5.95 5.5h.95m4.85-7.6h.95m6.25 13.7h.95m-11.55-12.5h.95m10.85-1.8h.95m-.55 10h.95m-.95-8.9h.95m-3.35 9.4h.95m-8.05-5.7h.95m.75 13.3h.95m-6.35-4.1h.95m2.75 6.4h.95m.05-16.9h.95m2.55 .2h.95m.35-5.6h.95m-4.65 28.3h.95m-4.15 1.3h.95m-3.45-5.9h.95m-4.75-0.8h.95m13.45 1.8h.95m1.25-24h.95m-4.15 12.1h.95m-2.15 9.7h.95m3.65-20.5h.95m-5.45 1.4h.95m3.15 5.3h.95m-11.55 15.7h.95m-2.15-14.6h.95m-.65 15.8h.95m2.45 3.9h.95m4.65-15.8h.95m3.75-8h.95m-11.05 16.5h.95m1.75-0.6h.95m19.15-20.7h.95m-17.45 15.5h.95m-7.75 8.6h.95m-.85-9.1h.95m.65 13.1h.95m-.25 .2h.95m-5.55-25.7h.95m1.45 20.3h.95m-6.05 6.7h.95m4.35-14h.95m-6.85 4.3h.95m3.05-10h.95m-3.65-8.1h.95m8.65 15.8h.95m-.65-19.5h.95m-12.75 9.6h.95m7.65-1h.95m6.85 5.1h.95m-12.05-4.9h.95m8.15 8h.95m-2.65-13.1h.95m-10.05 12.9h.95m9.45 8.1h.95m-3.85-1.8h.95m1.95-18.2h.95m-7.35 16.6h.95m-2.95 9.6h.95m2.05-23.5h.95m-3.75-2.7h.95m2.15 11.8h.95m-9.35-1.8h.95m11.95-5.3h.95m-1.85-6.7h.95m-8.05 3.1h.95m-6.35 15.9h.95m-.95 0h.95m3.25 11.2h.95m-2.95-9.7h.95m-1.25-11.9h.95m2.25 10.3h.95m-4.95-10.8h.95m-.35 19.2h.95m5.45-1.9h.95m-5.45-13.9h.95m1.15 10.1h.95m9.25-5.1h.95m-6.85 6.6h.95m-9.85-26h.95m-.55 5.3h.95m6.45-1.7h.95m5.05 14.3h.95m-6.25-0.3h.95m-5.05-10.3h.95m-2.55 24.4h.95m.45-27.9h.95m8.95 4h.95m-3.95 22.2h.95m-8.15-26.5h.95m5.65 13.4h.95m-3.05-5.9h.95m-9.65 13.9h.95m11.15-16.1h.95m3.55 13.8h.95m-10.45 4.4h.95m4.45-10.3h.95m-5.15 2.1h.95m-2.75-12.3h.95m-6.65-7.5h.95m8.95 18.1h.95m1.95 6h.95m-8.15 6.9h.95m-3.15-4.6h.95m5.85-3.7h.95m-1.05 1.4h.95m-1.75-4h.95m.35-14.9h.95m-15.15 19h.95m5.75-21.6h.95m-1.05 18.9h.95m-7.25-1.6h.95m10.85 2.6h.95m-12.55 3.1h.95m10.15-0.2h.95m2.25-22h.95m-7.05 23.8h.95m-3.75-22.1h.95m-.45 10.1h.95m5.05 11.1h.95m-4.35-13h.95m-7.25 10.1h.95m8.25 6.6h.95m3.95-15.1h.95m-15.05-2.9h.95m11.15-5h.95m-10.95 18.4h.95m.35 .5h.95m2.85-8.7h.95m7.05 4.9h.95m-10.95-2h.95m-4.45-12.2h.95m4.65 6.2h.95m2.75 7.3h.95m-3.35-5.6h.95m-4.05 16.2h.95m-4.75-24.2h.95m7.85-4.7h.95m-1.75 7.6h.95m-11.95 18.8h.95m14.95-15.5h.95m-10.55 15.5h.95m-3.75-3.2h.95m10.35-6.5h.95m-.35-10.6h.95m-14.05-4.6h.95m13.65 5.3h.95m-5.35-5h.95m-7.75 12.1h.95m-4.95 6.7h.95m-2.05-4.7h.95m15.65-7.8h.95m-19.35-5.7h.95m4.15 9.7h.95m5.45-11.2h.95m-6.65 20.3h.95m-4.05-13.8h.95m2.45 22.8h.95m3.85-1.1h.95m5.35-26.4h.95m-13.15-3.8h.95m-4.15 7.2h.95m9.55 3.9h.95m-2.45-4.7h.95m.75 13.3h.95m-4.65 3.3h.95m.75-21.7h.95m-9.25 14.2h.95m-.75 10.9h.95m8.65-20.6h.95m-6.05 19h.95m6.95-12.3h.95m.35 8.1h.95m-3.45-7.7h.95m-7.65-12h.95m10.35 8.1h.95m-14.85 9.7h.95m10.15-9h.95m-17.45 12.3h.95m7.55 4.1h.95m1.55-14.6h.95m4.15-9.3h.95m-5.25 28.2h.95m-6.55-31.7h.95m4.35 19.7h.95m-5.05-19.4h.95m4.75 12.3h.95m-4.55 10.3h.95m-9.55-6h.95m15.35-10.6h.95m-7.85 12.1h.95m-7.35-9.8h.95m11.35-6.8h.95m-6.25 16.4h.95m7.15-14.3h.95m-4.65 4.1h.95m-.95 4.2h.95m-1.35 9.9h.95m-5.65 4h.95m-2.45-8.6h.95m-7.95-5.5h.95m15.65-4.3h.95m-10.85 4h.95m-3.85 18.9h.95m2.75-27.1h.95m.05 25.3h.95m4.35-15h.95m-.05 10.2h.95m-8.05-8.1h.95m-2.35 9.3h.95m6.75-3.3h.95m-8.95-22h.95m-3.95 5.5h.95m-4.15 19.7h.95m7.25 4.6h.95m-2.95-28.7h.95m-2.55 28.3h.95m10.95-24h.95m.45 13.9h.95m-14.95 12.3h.95m11.95-8.6h.95m-13.55 7.9h.95m3.85-15.8h.95m-.95 11.9h.95m1.85-8.3h.95m-10.45 11.1h.95m15.45-42.2h.95m-9.05 18h.95m3.05 12.7h.95m-1.15 3.8h.95m-6.05-19.1h.95m3.95 13.4h.95m-6.65 9h.95m6.15-21.1h.95m-13.35 26h.95m-2.35-16.3h.95m1.65-12.4h.95m10.15 22.9h.95m-.45-16.1h.95m-9.85 9.8h.95m7.45-15h.95m-8.75 29.3h.95m-7.35-19.8h.95m-.45 1.4h.95m4.05 5.6h.95m10.55-16.1h.95m-10.95 11.3h.95m-2.85 14.5h.95m1.25-6.3h.95m-8.25-7.9h.95m7.85-11.4h.95m-6.75 15.1h.95m7.45 7.3h.95m-6.45-7.9h.95m7.45-34.1h.95m-7.65 23.7h.95m-3.15-7.7h.95m-1.35 32.9h.95m-2.15-10.2h.95m5.95-14.8h.95m-6.85-8h.95m-4.85 29.8h.95m2.75-21.2h.95m5.25-5.5h.95m-.75 23h.95m-10.75-0.9h.95m1.85-5.3h.95m7.35-2.6h.95m-10.15-17.6h.95m8.75 1.9h.95m-8.05-0.4h.95m-4.65 14.7h.95m10.95 4.6h.95m.65-10.5h.95m-7.05 9.9h.95m3.15-3.8h.95m-12.45 11h.95m.35-26.3h.95m13.05 10.9h.95m-17.45 15.2h.95m-.95-3.2h.95m4.15-15.6h.95m1.35 18.3h.95m-1.55-11.4h.95m3.25-13.4h.95m-9.95 4h.95m-3.75 8.8h.95m8.45 17.1h.95m3.45-26.7h.95m-4.85 23h.95m-3.65-2.8h.95m-2.65-0.9h.95m-9.15-12.5h.95m12.85-16.5h.95m-11.65 30.7h.95m-.35-0.6h.95m3.25-9.3h.95m-.85 16h.95m3.65-16.9h.95m-4.95-12.3h.95m10.05 7.9h.95m-4.85 5.1h.95m-11.65 6.2h.95m-2.15-19h.95m-2.05 18.3h.95m1.55-1h.95m1.35-17.7h.95m-2.55 23.5h.95m-4.55-12.5h.95m10.65 3.1h.95m-4.75-11.8h.95m-6.45-4.7h.95m-1.25 25.1h.95m13.85-1.6h.95m-6.85 3h.95m-8.55-15.6h.95m1.75-5.3h.95m3.75-4h.95m2.95 17.3h.95m-6.15 12.3h.95m-9.25-10.5h.95m1.95 8.3h.95m5.55-9.4h.95m-1.95-17.9h.95m2.55 17.7h.95m2.75-0.5h.95m-1.85-2.7h.95" stroke="#00BE67" stroke-width="0.95"/>
<path d="M454.3 256.9h.95m4.25 12.3h.95m.35-7.5h.95m-5.55 4.3h.95m4.05 7.1h.95m-6.75 .2h.95m7.55-16.7h.95m-3.65 11.4h.95m-4.75-15.7h.95m4.25 6.3h.95m-6.45 13.9h.95m3.95-16.6h.95m-.15 4.9h.95m-5.25-8.7h.95m-3.05 3.6h.95m-6.35-3h.95m8.25 23.4h.95m1.95-5.1h.95m-12.35-38.3h.95m-.25 16.5h.95m-1.25 2.5h.95m8.45 17.1h.95m-4.85-16h.95m-1.25 19.3h.95m15.75-33h.95m-15.15 35h.95m-3.35-5h.95m-3.65-12.7h.95m6.35 15.1h.95m-1.65-16.4h.95m-8.05 5.8h.95m.95 14.5h.95m.25-11.8h.95m-6.15-10.3h.95m10.55 3.9h.95m-2.55-3.1h.95m.65 9.3h.95m-4.65 9.4h.95m2.55-3h.95m-3.45-0.7h.95m-9.95 1.5h.95m1.05-17.7h.95m-.75 17.5h.95m.15-6.1h.95m-1.85-14.5h.95m1.15 17.7h.95m-4.95 6h.95m4.35-24.8h.95m-.55 3.9h.95m-1.05 12.5h.95m-6.45-12.7h.95m-1.75 1.7h.95m7.75-0.2h.95m.15 21.1h.95m-6.65-14.2h.95m-2.65 14.4h.95m5.65-12.4h.95m-1.65-1.8h.95m14.75-33.4h.95m-16.65 13.4h.95m-9.05 18h.95m9.05 2.8h.95m-5.25-15.4h.95m-.35 27h.95m-2.55-4.9h.95m16.55-39.5h.95m-11.15 40.7h.95m-8.95-17.9h.95m5.85 7h.95m-5.95-8.6h.95m1.15 6.4h.95m-3.05 .9h.95m-3.75 .9h.95m4.65-4.4h.95m-8.35 4.7h.95m4.15 11.8h.95m-6.35-3.3h.95m-1.55 0h.95m11.25-11.1h.95m-8.35 10.2h.95m-4.45-3.5h.95m9.75 1.6h.95m-11.65-9.3h.95m3.15 15h.95m-.15 2.1h.95m-1.55-3.4h.95m-1.95 4.1h.95m4.15 2.3h.95m2.55-9.3h.95m-13.15-8.7h.95m.55 12h.95m5.85-2.2h.95m-4.35-8.4h.95m.45 11h.95m-4.45-1.2h.95m2.25 1.6h.95m-3.65-19.9h.95m-2.65 1h.95m8.15 19.8h.95m-6.55-19.9h.95m-1.65 23.8h.95m1.35-10h.95m-2.85-10.5h.95m-6.05 18.6h.95m-.65-18.6h.95m7.95 4.7h.95m-1.25 9.6h.95m-7.85 6.4h.95m-.45-19h.95m-4.15 10.2h.95m.65-12h.95m-3.75-4.7h.95m4.35 7.8h.95m1.55-2.2h.95m1.55 6.5h.95m1.25-4.6h.95m-6.55 5.9h.95m-.95-12.3h.95m5.85 16.9h.95m-11.75 5.5h.95m-1.65-2.4h.95m4.55-1.4h.95m2.65-11.9h.95m-1.85 13.1h.95m-4.55 .7h.95m5.65-8h.95m-7.05-6.8h.95m-2.35 16.2h.95m2.45-17.6h.95m-17.95-22.3h.95m16.05 18.8h.95m2.95 6.4h.95m-23.15-5.4h.95m20.35 21.5h.95m-8.55-20.4h.95m5.25 13.5h.95m-6.45 1.6h.95m6.45 2.3h.95m-7.05 2.3h.95m-4.85-18.1h.95m1.55 7.6h.95m-4.55 1.6h.95m-.85 7.8h.95m6.85-7.2h.95m-5.85-4.3h.95m-1.75-8.3h.95m6.95 11.1h.95m-1.35-10.8h.95m-3.35 19.6h.95m2.25-3.7h.95m-9.95-9.7h.95m6.95 3h.95m-6.05 2.3h.95m-1.95-1.1h.95m-2.55-0.5h.95m-2.25-6.5h.95m9.75 10.2h.95m9.55-44.2h.95m-28.35 12.2h.95m12.85 18.5h.95m-7.35-2.4h.95m.05 15.1h.95m.75 6.4h.95m2.45-39.1h.95m-6.25 19.9h.95m5.45 16.5h.95m-12.65-29.9h.95m3.75 10.2h.95m7.65 3.5h.95m-10.25-1.2h.95m2.55 11.9h.95m-.85 5.3h.95m-1.75-0.4h.95m1.05-11.1h.95m1.45 16.4h.95m-8.45-16.3h.95m2.85 13.1h.95m3.95-18.2h.95m-2.25 .1h.95m.25 10.1h.95m-8.25-10.3h.95m2.65 1.2h.95m1.95 17.3h.95m-8.25-9.7h.95m5.05-5.6h.95m-.05 2.9h.95m-4.05-4.7h.95m4.55 18h.95m-1.65-38.5h.95m-8.95 40.4h.95m6.15-18.6h.95m-11.05 15h.95m4.55 2h.95m-13.15-33h.95m17.45 32.4h.95m-9.85-20.4h.95m10.05 9.1h.95m-7.55 5.1h.95m13.85-30.1h.95m-14.35 28.4h.95m3.65-1.9h.95m-7.45-6.4h.95m-1.65-13.1h.95m3.85 20.2h.95m-9.45 9.9h.95m-8.35-31.3h.95m6.95 10.1h.95m-.75 21.5h.95m2.25-18.8h.95m-5.15 3.5h.95m.85 3.2h.95m7.15-7.2h.95m-3.85 17h.95m-8.25-2.5h.95m-2.85-28.8h.95m2.25 33h.95m-1.85-12.4h.95m1.85-1.8h.95m.05 11h.95m1.75-5.8h.95m.85 5.3h.95m-3.75 8.7h.95m-6.45-27.3h.95m-1.05 2.3h.95m-1.95 4.4h.95m2.95-3.1h.95m-10.15-8.3h.95m6.05 12.9h.95m6.35 .2h.95m-5.65-3.9h.95m-1.95 17.4h.95m3.85 2.6h.95m-1.05-21.6h.95m-10.45-13.1h.95m4.95 15.6h.95m1.85 18h.95m-3.65-1.1h.95m4.05-16.2h.95m-4.65-2.6h.95m4.05 10.2h.95m-6.25-6.9h.95m-1.25 15.6h.95m3.55-5.8h.95m-9.75-11h.95m.95 .1h.95m3.45 8.1h.95m1.15 4.7h.95m-4.55-6.5h.95m-5.45 4.8h.95m5.65-8h.95m-9.65 9.4h.95m11.95-6.3h.95m-9.05-3.1h.95m6.65 7h.95m-2.65-13.3h.95m-3.15 1.9h.95m-.25 .7h.95m-9.95-0.6h.95m2.45 17.3h.95m5.15 .7h.95m-3.65-2.3h.95m-.75-12.1h.95m-2.55 .2h.95m5.25 1.8h.95m-10.55 8h.95m1.55-12.3h.95m6.55 12h.95m.15-5.8h.95m-12.65-5.2h.95m3.25-9.5h.95m5.05 23.3h.95m-1.85 2h.95m-10.85-19.7h.95m1.85 10.1h.95m-.05-2.9h.95m-5.25 1.9h.95m1.45 12.7h.95m3.75-20.5h.95m.05 7.7h.95m-1.85 5.2h.95m-5.35-4.5h.95m.05-4.4h.95m3.65 3.5h.95m-1.55-2h.95m1.65-3.7h.95m-3.45 3.9h.95m-3.35-7.9h.95m5.45 6.4h.95m-1.95 16.3h.95m-9.55-16.6h.95m-.25-17.4h.95m2.35 32.7h.95m-7.75-7.2h.95m1.05 .3h.95m-2.65-11.1h.95m21.15-15.2h.95m-17.25 28.4h.95m.25-14.2h.95m-5.35 5.5h.95m-1.55-12h.95m5.35 22.5h.95m-8.25-10.8h.95m-1.95-3.6h.95m2.25-4.4h.95m-8.35-14.4h.95m11.55 19.5h.95m-19.95-8.3h.95m17.05 7.4h.95m-8.85 10.3h.95m5.75 11.1h.95m-5.65-10.3h.95m1.35 7h.95m1.05-16.4h.95m2.15 13h.95m-3.45-7.8h.95m-1.45 6.7h.95m5.35-10.9h.95m-10.45 1.8h.95m-.95 12.2h.95m3.45-0.7h.95m-3.45 1.7h.95m-.05-30.4h.95m4.45 31.5h.95m-9.25-8.9h.95m4.95-6.1h.95m-4.55-1.1h.95m5.45 12.4h.95m-1.55-2.9h.95m-9.85-13.3h.95m3.35 15.5h.95m-1.75 1.7h.95m3.25-16.8h.95m-1.45-1.6h.95m-4.55 11.7h.95m-5.55-14.1h.95m6.05 21.8h.95m-2.55-5.2h.95m-14.95-23h.95m15.35 30.4h.95m-6.95 0h.95m-1.95-23.9h.95m-.85 4.9h.95m.45-0.5h.95m1.15 5.9h.95m-1.95-9.1h.95m-4.45 .9h.95m5.35 12.8h.95m-7.25-4.1h.95m5.25 5.3h.95m3.95 .8h.95m-6.15 8.4h.95m-1.65 0h.95m2.95-21.4h.95m-5.35 9.1h.95m-12.65-16h.95m11.35 6.4h.95m-4.65 15h.95m3.55-16.2h.95m-1.45 11.4h.95m-5.35 10.7h.95m4.55-6.3h.95m-7.45-17.1h.95m4.35 11.6h.95m-.15-8.2h.95m-6.45 5.1h.95m-.25 9.5h.95m1.65-16.6h.95m-1.05 .5h.95m7.15 2.6h.95m-5.95 10.3h.95m-6.85 3.8h.95m4.95 5.7h.95m3.85-19.2h.95m-3.85 16.9h.95m1.75-1.3h.95m-7.15-12.7h.95m1.35 9.7h.95m-9.65-24.4h.95m8.95 16.7h.95m-10.15 12.1h.95m.55-8.7h.95m-3.55-6.6h.95m.45 14.9h.95m4.25-7.1h.95m-6.85-8.2h.95m12.95 5.8h.95m-8.25-8.6h.95m.15 8.4h.95m-2.55 5.4h.95m-1.45-22.5h.95m16.55-7h.95m-13.15 25.6h.95m-3.55 2.4h.95m-2.15-5.1h.95m1.45 3.6h.95m-8.55-13.1h.95m1.75 2.8h.95m15.95-29.9h.95m-19.75 36.1h.95m-2.25-5.4h.95m2.75 2h.95m.75-5.4h.95m-6.45 15.2h.95m2.25-0.2h.95m5.35-6.1h.95m-1.35-8.3h.95m-4.15 13.5h.95m-1.55-9.4h.95m5.35 .3h.95m-8.75 8.2h.95m-5.45-9.9h.95m9.05-23.7h.95m.65 36.3h.95m-2.15 3.3h.95m-3.45-12.1h.95m.15 8.8h.95m-3.55-5.8h.95m-6.05 2h.95m-.55 2.2h.95m7.65-14.5h.95m-2.15 8.5h.95m-6.15 .4h.95m-2.55-1.9h.95m-.85 12.3h.95m2.75 1h.95m1.85-16.2h.95m14.05-29h.95m-21.15 41h.95m3.75-6.3h.95m-7.75-13.7h.95m4.05 12.4h.95m-7.25-4.3h.95m6.85 4.4h.95m-5.35-4h.95m.95 8.6h.95m14.35-27.4h.95m-17.75 13h.95m-3.35 11.7h.95m1.05-11.1h.95m1.35-11.9h.95m4.55 27h.95m-3.65-11.5h.95m-.05 12.5h.95m-8.65 5.6h.95m-7.15-31.4h.95m6.55 31h.95m-1.15-17.4h.95m-3.35 12.1h.95m2.95-14.3h.95m1.05 21.1h.95m-5.65-19.6h.95m5.65-1.5h.95m-3.05 3.9h.95m-6.25 5.8h.95m-3.95-6.2h.95m9.55 17.5h.95m2.25-9.1h.95m.65-8.5h.95m-11.95 12.7h.95m-2.45-4.5h.95m1.25 4.9h.95m-13.35-18h.95m9.65 13.2h.95m7.95-13.5h.95m-5.85-3h.95m1.75 19.8h.95m-5.15-4.8h.95m-1.65-8.7h.95m5.25 5.4h.95m-4.85-4.6h.95m4.55 15.5h.95m-9.55-15.5h.95m.95 19.1h.95m-2.05-35.7h.95m3.75 29.5h.95m2.55-26.5h.95m-4.55 33.3h.95m-7.45-9.1h.95m3.75-8h.95m16.95-29.1h.95m-16.25 22.8h.95m1.35 8.9h.95m1.45 0h.95m-1.75 7.8h.95m-7.75-1.7h.95m4.45 3.7h.95m8.35-48.7h.95m-17.95 35.2h.95m19.35-36.8h.95m-16.45 47.4h.95m.75-5.2h.95m-7.35-0.8h.95m3.15 .1h.95m-8.75-0.1h.95m1.85 2.9h.95m8.65-10.3h.95m-12.75-4.7h.95m1.75 20.4h.95m.35 3.1h.95m-6.05-4h.95m11.75-4h.95m-3.05 7.9h.95m1.65-16.8h.95m-3.25 13.2h.95m-10.75-5.2h.95m5.25-12.1h.95m2.85 19h.95m-4.05 4.2h.95m-1.25 0h.95m.25-23.3h.95m-5.55 13.2h.95m4.15-8.4h.95m-2.35-0.8h.95m-3.65-5.9h.95m6.35 11.4h.95m-9.15 5.5h.95m3.05 1.5h.95m-2.25-9.6h.95m-5.35 9h.95m9.95-5h.95m-11.15 10.6h.95m5.15-17.8h.95m-2.95 19.9h.95m-8.95-17h.95m23.85-17.8h.95m-22.65 14.2h.95m4.95 20.8h.95m3.45-9h.95m-6.75-7.8h.95m-2.25 16.7h.95m-4.95-13.4h.95m6.75-3.3h.95m-7.75 7.8h.95m7.85-6.8h.95m-.15-9h.95m-6.15-2.4h.95m4.45 16.5h.95m-10.05 10.6h.95m1.85-19.2h.95m.55 8.1h.95m-8.25 4.6h.95m22.85-45.5h.95m-19.95 45.6h.95m-5.15-9h.95m5.85-8.5h.95m-13.85-2.9h.95m12.35 25.8h.95m.25-10.9h.95m-2.75 8h.95m-18.95-19.1h.95m14.15 2.8h.95m-2.85 11.3h.95m.55-5.9h.95m-7.85-8.3h.95m2.75 3.1h.95m-1.05-5.5h.95m9.65 2.5h.95m-6.95 11.9h.95m-.95 1.7h.95m-3.25-7.1h.95m-2.55-9.8h.95m8.65 14.4h.95m-9.65 8.2h.95m7.45-29.6h.95m-8.55 9.9h.95m-.35 22.7h.95m2.85 1.6h.95m1.65-10.7h.95m-5.25-4.9h.95m3.85-4.4h.95m-10.05-5h.95m7.15 5.8h.95m-8.95-2.2h.95m10.15 9.8h.95m-17.25-16.7h.95m5.95 24.1h.95m4.45-15.5h.95m-8.55-5.8h.95m9.35 20.1h.95m-10.45-13.3h.95m7.65-1.2h.95m-3.45 10.1h.95m-3.85-4.7h.95m3.95 3.5h.95m-8.75-13.5h.95m4.15 7.3h.95m-7.85-16.2h.95m-.45 23.9h.95m5.35-16.6h.95m-1.55 13.3h.95m-4.25 .3h.95m5.75 7.4h.95m-8.35 3.4h.95m.35-2.6h.95m-2.05-9.1h.95m3.35 12.7h.95m.75-18.6h.95m3.25 7.4h.95m-3.45 3.6h.95m-9.25-18.7h.95m9.25 15.1h.95m-10.35-10.4h.95m7.65-8.2h.95m-19.95-7.8h.95m13.75 20.8h.95m-4.25 6.4h.95m-1.25-4.3h.95m2.35 3.5h.95m1.05-2h.95m-8.45-25.7h.95m-2.15 31.5h.95m-.65-18.5h.95m-.65 3.8h.95m3.45 10.8h.95m6.55-10.3h.95m-8.45 13.8h.95m-3.55-13.9h.95m5.05 21.8h.95m-2.75-23.4h.95m-7.05 5.5h.95m6.95 16.3h.95m-3.65-6h.95m-11.15-26.9h.95m11.15 19h.95m-6.25 1.2h.95m9.85 2.6h.95m-12.85 3.1h.95m9.05-9.3h.95m1.55-9.4h.95m-19.55 1.3h.95m6.05 26.3h.95m-2.95-23.7h.95m1.05 14.2h.95m-1.55-9.3h.95m8.15-4.3h.95m-.05-7.6h.95m-5.35 29.7h.95m-4.85-1.5h.95m6.65-33.1h.95m-12.25 18h.95m-.95 9.3h.95m-8.65-17.4h.95m9.35 1.4h.95m7.95-10.8h.95m-8.75 18.8h.95m-13.45-18.7h.95m21.85 14h.95m-6.95 .8h.95m-6.45 8.5h.95m3.15 4.9h.95m4.45-3.3h.95m-11.65-9.1h.95m9.45-1.4h.95m-7.85 13.8h.95m-6.15 .1h.95m3.05-14.2h.95m-3.25 15.4h.95m7.85-12.8h.95m-1.25 1.8h.95m-8.65 11.2h.95m3.35-11h.95m-12.15-23.5h.95m10.85 18.3h.95m-1.35-2.4h.95m3.05 18.1h.95m-1.05-18.1h.95m-4.35-3.2h.95m.45 21.4h.95m1.55-1.8h.95m-3.15-16.4h.95m-9.45 8.5h.95m.05 12.1h.95m11.05-6.9h.95m-9.15 2h.95m1.55-0.6h.95m-5.95-13.2h.95m-1.05 4.3h.95m7.05-3.1h.95m-3.15 12.2h.95m-2.05-14.7h.95m-18.45-5.6h.95m10.55 23.6h.95m4.55-19.5h.95m-6.45 .9h.95m1.25 13.9h.95m-2.25-2.6h.95m2.05-10.2h.95m.55 15.4h.95m-6.95-5.8h.95m5.25-3h.95m-8.45-27.3h.95m11.45 37h.95m-5.95-11.7h.95m-1.65 0h.95m-5.75 4.5h.95m5.85 7.1h.95m-3.05-2.6h.95m4.25-0.8h.95m-11.15-13.8h.95m4.95 9h.95m5.05-5.9h.95m-1.35 5.4h.95m-2.55 10.3h.95m-8.35-15.3h.95m8.35-0.6h.95m-1.75 4.2h.95m-8.65-23h.95m-14.45 8.2h.95m21.35 18.4h.95m-13.45 3.9h.95m-.65-4.2h.95m-1.35-13h.95m2.75 15.7h.95m6.25-12.8h.95m-5.25 15.6h.95m-4.65 7h.95m7.15-32.7h.95m-10.35-7.8h.95m9.55 34.4h.95m-11.15-3.3h.95m3.35 .9h.95m-4.15-11.1h.95" stroke="#00A9FF" stroke-width="0.95"/>
<path d="M478.4 248.5h.95m2.15 31.2h.95m-10.85-18.8h.95m8.25-11.4h.95m-8.35-6.3h.95m-3.05 10.4h.95m2.05 13.8h.95m4.15 5.2h.95m-14.95-20.2h.95m8.45 21.1h.95m-9.55-26.4h.95m3.75-1.1h.95m4.55 25.9h.95m4.75 2.2h.95m-3.65 5.3h.95m-8.55-16.9h.95m6.75-1.4h.95m-6.95 8.5h.95m7.25-10.9h.95m-11.35 5.6h.95m12.05-6.7h.95m-17.75 11.6h.95m11.65-15.5h.95m-2.55 20.4h.95m-5.65-21.6h.95m-1.85 8.1h.95m-9.95 3.8h.95m12.15 8.4h.95m5.05-5.1h.95m-20.05-22h.95m19.55 19h.95m-17.85-14.7h.95m7.45 20h.95m-2.65-12.6h.95m2.05-10.2h.95m7.05 18.5h.95m-10.25 12.4h.95m-5.15-19.9h.95m1.05 15h.95m-6.15-21.3h.95m16.55 4.1h.95m-6.85 6.8h.95m-17.35-15.3h.95m8.65 22.9h.95m13.85-5.8h.95m-8.05-15.7h.95m-5.35-2.8h.95m-3.15 24.6h.95m-1.95-24.5h.95m3.05 18.3h.95m6.45-4.8h.95m-19.05-10.8h.95m17.75 12.3h.95m-5.85 8.4h.95m-15.25-0.4h.95m12.55 9.7h.95m-3.35-8.1h.95m7.65-14h.95m-1.15 9.2h.95m-8.55-14.1h.95m-1.45-4.2h.95m2.45 27.4h.95m-7.65-23.6h.95m9.85 24.6h.95m-8.95-11.9h.95m-5.05-2.9h.95m-8.15 7.6h.95m7.55-18.8h.95m-3.95 17.7h.95m1.75 4.1h.95m1.45 4.3h.95m-10.35-14.2h.95m1.65-7.1h.95m8.05 15.5h.95m-1.75 8.9h.95m-.35-30.8h.95m-3.65 32.3h.95m-1.25-31.5h.95m-4.75 2.7h.95m-3.55 20.1h.95m1.15-8.6h.95m13.25-1.4h.95m-9.05-15.8h.95m-9.15 17.1h.95m13.35-0.5h.95m-9.25 .8h.95m10.95 .4h.95m-23.55-14.4h.95m4.55-4.1h.95m2.75 22.8h.95m-1.95 3.1h.95m.75 10.4h.95m-6.75-39.2h.95m5.45 22.3h.95m6.15 8.1h.95m.45-2.6h.95m-17.05 6.6h.95m15.55-25.8h.95m-15.25 18.4h.95m-1.05 .4h.95m-.95-2.9h.95m3.55-24.1h.95m3.05 34.9h.95m2.75-1h.95m-11.95-17.3h.95m13.55 8h.95m-.05-3.3h.95m-14.55-11.4h.95m3.35-8.5h.95m-9.05 28.4h.95m12.45 4.5h.95m-17.55-16.6h.95m-1.95-11.1h.95m17.65 19.9h.95m-2.55-10.4h.95m-9.75-15.6h.95m10.25 27.3h.95m-2.15 3.6h.95m-2.95-8.1h.95m-12.35-9h.95m-1.05 15.2h.95m2.05-9.1h.95m5.55-5.8h.95m.75 14.6h.95m-8.25-4.1h.95m11.45-10h.95m-16.35 6.7h.95m8.55-14.9h.95m-13.25 12.8h.95m9.75 19.2h.95m1.25-21.5h.95m4.15 6.5h.95m-17.95 5.1h.95m6.55-6.4h.95m2.75-20.2h.95m-.15 32.5h.95m2.85-30.2h.95m-.75 27.5h.95m-6.95-1.7h.95m-3.25 1.2h.95m-1.85-31.4h.95m-4.85 26h.95m.85-19.2h.95m2.05 16h.95m8.15-15h.95m-10.55-7.2h.95m-10.55 22.5h.95m.75-23.8h.95m.35 13.5h.95m14.45-4.2h.95m-15.15 3.2h.95m3.15-4.1h.95m-2.75 15.3h.95m-.15-11.2h.95m10.65 5.1h.95m-8.55 1.2h.95m-1.45 .4h.95m-3.25-6.4h.95m-5.75 12.9h.95m-.55 10.6h.95m16.95-21.4h.95m-18.85 20.4h.95m-3.25-7.4h.95m-.35-26.9h.95m5.65 9.1h.95m-3.95-3.9h.95m-2.85-5.7h.95m-1.35 31.2h.95m11.95-15h.95m-2.75 8.6h.95m.05-16.7h.95m-1.15-2.8h.95m-4.15 6.3h.95m-6.35 22.5h.95m8.35-26h.95m-13.65-2h.95m6.45 5.9h.95m-.45 10.5h.95m3.65 12.8h.95m-13.35-25h.95m8.15 20.3h.95m4.75-3h.95m-9.55-24.3h.95m5.75 29h.95m-16.75-18.9h.95m4.85-9.6h.95m3.55 13.2h.95m-7.25 4.9h.95m-2.75-20.1h.95m13.35 9.9h.95m-8.25-7.1h.95m4.45 5.4h.95m1.95 6.4h.95m.25-3.9h.95m-17.45-9h.95m9.15 6.1h.95m-10.95 11.7h.95m12.65 7.5h.95m-1.05-2.5h.95m-11.75-8.1h.95m-5.05 8.1h.95m4.25-4.7h.95m-1.75-14.1h.95m2.85 10.4h.95m-.75-2.7h.95m3.95-0.9h.95m-8.85-7.5h.95m-3.95 31.2h.95m10.75-8.4h.95m-7.95 9.1h.95m1.25-17.3h.95m-8.25-18.5h.95m-1.15-0.4h.95m9.15 21.5h.95m-7.35 6.5h.95m.95-8.5h.95m6.65-15.5h.95m-11.85 18h.95m-5.95-22h.95m8.15 34.5h.95m-.45-31.3h.95m-9.15 10.1h.95m6.45-7h.95m-5.85 27.8h.95m-3.15-25.4h.95m14.65 11.7h.95m-14.85-8.7h.95m2.55-7.1h.95m-6.15 25h.95m9.55-25.8h.95m-8.35 20.7h.95m3.15 3.3h.95m-10.85-23.6h.95m19.15 17.2h.95m-16.35-7.1h.95m3.25-16.8h.95m8.25 33.7h.95m-7.35-23.4h.95m-9.55 8.9h.95m4.65-19.4h.95m8.65 26.6h.95m-4.85-20.6h.95m-13.75 14h.95m12.15 7.2h.95m-1.85-13.2h.95m.45-1.8h.95m-9.65-8.5h.95m1.15 11.8h.95m8.35 3.7h.95m-5.65 14.3h.95m6.75-17.2h.95m-14.15-4.3h.95m2.55-7.8h.95m3.65 5.7h.95m1.85 19.9h.95m-2.45 6.2h.95m-11.05 .1h.95m-4.35-13.5h.95m12.05-0.5h.95m-13.05-17.3h.95m14.45 12.6h.95m-6.85 14.7h.95m-9.55-8.8h.95m4.15 7.4h.95m8.75-5.4h.95m-7.25-10.5h.95m-1.25 0h.95m-4.45 24.5h.95m2.05-14h.95m1.55-12.9h.95m-13.95-3.9h.95m.65 9.2h.95m3.15 15h.95m-4.75-11.2h.95m11.05-4.7h.95m-3.45 5.4h.95m-1.65-12.8h.95m-14.55-2.6h.95m15.75 1h.95m-8.05-4.1h.95m-12.05 3h.95m16.15 1.5h.95m-12.15 16h.95m-3.45-16.9h.95m5.45 10.7h.95m.25 21.2h.95m.85-28.5h.95m5.05 1.5h.95m4.25 12.8h.95m-7.45-20.1h.95m5.35 17.2h.95m-17.05-16.3h.95m4.85 3.2h.95m-7.55 10.2h.95m1.15-11.1h.95m6.05-2.5h.95m-5.95 26.8h.95m7.85-18h.95m-18.65-5.3h.95m-.55 20h.95m1.15 6.4h.95m3.85-16.5h.95m2.55 16.4h.95m6.55-26.8h.95m-16.15 18.9h.95m4.85-18.7h.95m3.45 5.4h.95m3.05 1.1h.95m-17.95 8.7h.95m18.85-14.4h.95m-15.35-4.9h.95m-4.35-0.5h.95m.95 22.2h.95m16.25-4.5h.95m-16.65-13.4h.95m3.65 11.2h.95m2.85-13.3h.95m6.15 19.3h.95m-12.15-23.8h.95m-7.15 26.4h.95m-.55-8h.95m2.25-15h.95m13.85 13.1h.95m-2.25 6.3h.95m-10.05 11.5h.95m-7.15-29h.95m9.85 8.8h.95m-10.85-5.5h.95m13.65 14.2h.95m-4.45-6h.95m-18.75 6.4h.95m-.45-2.9h.95m13.45 0h.95m2.75 5.8h.95m-18.05-11.7h.95m4.25 10.9h.95m-7.85-20.7h.95m15.55 23h.95m-2.55 6.2h.95m2.25-8.8h.95m-12.05 14h.95m7.95-29.1h.95m-2.25 10.8h.95m-8.85 10.2h.95m3.45 3h.95m5.85-10.4h.95m-13.35-14.3h.95m3.75 4.5h.95m-6.45 11.6h.95m-4.45-13.1h.95m11.65 18.2h.95m-.15-25.9h.95m-14.75 7.1h.95m2.45 23.2h.95m3.45-10.9h.95m-6.75 7.9h.95m-.85-17.9h.95m7.45 2.2h.95m-.25-3.8h.95m-9.95 3h.95m11.65-11h.95m1.45 15h.95m-13.95-6.3h.95m12.15-0.7h.95m-13.75 .5h.95m-1.55 13.2h.95m9.75-17.5h.95m-9.45 21h.95m-7.75-23.5h.95m14.55 12.2h.95m-5.65-15.8h.95m10.05 20.2h.95m-16.15-8.1h.95m5.45 5.1h.95m6.85-6.9h.95m-.35 6h.95m-15.55-5.8h.95m-1.65 24.2h.95m-.25-33.4h.95m4.05 30.3h.95m-1.65-11.2h.95m-.35-22.1h.95m-8.45 25.1h.95m10.05-21.1h.95m.75 21.3h.95m-9.35-5.6h.95m.75-21h.95m-.45 24.7h.95m.45 5.7h.95m8.85-11.1h.95m-14.85 5h.95m3.65-2h.95m-7.05 4.9h.95m3.45-21.3h.95m-9.75 16h.95m8.15 5.7h.95m6.45-7.3h.95m-7.15 3.1h.95m-6.15-14.3h.95m1.55 7.3h.95m-6.35-5.7h.95m-3.85 .1h.95m2.95-8.6h.95m-6.25 16.9h.95m7.85-36h.95m4.35 28.6h.95m-5.05 20.4h.95m4.95-0.5h.95m-11.75-26.3h.95m3.35-4.4h.95m1.35 2.2h.95m7.05 24.4h.95m-13.45-4.9h.95m-5.45 2.4h.95m13.55-14.8h.95m-10.35-2.5h.95m3.25 27.8h.95m-2.85-26.6h.95m-8.55 5.2h.95m12.35-11.6h.95m-8.75 21.8h.95m8.85-12.3h.95m-6.25-9.7h.95m-1.85 6.3h.95m-7.95 11.5h.95m-3.05-19.1h.95m-3.35 14.5h.95m3.85 20.3h.95m14.85-9.6h.95m-11.35-23.7h.95m-8.05 29.6h.95m18.15-13.4h.95m-8.85-10.6h.95m-5.65 13.9h.95m-9.85 4h.95m16.35-15h.95m-1.15 7.3h.95m-3.95 11.6h.95m3.15-9.1h.95m-14.15-22.7h.95m7.05 22.8h.95m1.05-9h.95m2.55 12.6h.95m-16.65 .9h.95m-4.15-2.6h.95m19.05-5.4h.95m-15.25-18.4h.95m8.35 27.8h.95m-9.35 0h.95m-.15 9.8h.95m-6.15-24.6h.95m5.75 26.6h.95m1.35-23.8h.95m-13.05-11.7h.95m6.15 8.7h.95m6.25 18.7h.95m-1.25-4.9h.95m-12.75-2.8h.95m4.75 1.9h.95m.75-6h.95m-.55-10.8h.95m3.35 16.3h.95m-2.35-22.5h.95m-10.65 17.4h.95m-3.95-0.5h.95m14.75-9.2h.95m-11.65 16.4h.95m-4.35-20.7h.95m2.65 23.5h.95m14.95-4.2h.95m-15.25-15.1h.95m7.15 15.8h.95m-9.85 10.8h.95m2.05-30.6h.95m-.05 11.1h.95m5.45-12.9h.95m-9.05 33.3h.95m9.45-15.7h.95m-10.45-12.3h.95m6.15 16.5h.95m-8.65-0.7h.95m5.55-5.9h.95m-8.75-3.9h.95m10.35 8.8h.95m-6.65-15.1h.95m-11.05-3.6h.95m3.85 2h.95m-7.35 9.8h.95m12.35-4.4h.95m-13.65-4.4h.95m-1.55-3.8h.95m17.25 11.3h.95m-14.75-6.3h.95m-.65 6.2h.95m6.95 .4h.95m-12.15-3.4h.95m19.05 10.8h.95m-1.15-3.6h.95m-4.75-8.4h.95m-3.85 16.4h.95m-14.15-28.7h.95m5.35 18.1h.95m-10.25-14h.95m19.55 16.5h.95m-14.15-16.2h.95m8.15 23.5h.95m-2.75-4.2h.95m-11.15-5.8h.95m4.15-5.9h.95m-10.15-0.3h.95m5.25 26.3h.95m11.45-11.3h.95m-8.75-17.2h.95m-5.35-0.6h.95m-5.85-0.9h.95m8.55 26.3h.95m9.15-5.4h.95m-16.95-24.5h.95m13.15 25.7h.95m-12.45-30.4h.95m5.85 18.2h.95m-.35 1.7h.95m-8.55 5.9h.95m14.25-9h.95m-11.25-0.2h.95m4.05 13.7h.95m-.45-5.8h.95m-13.85-22.6h.95m11.15 7.2h.95m2.15-1.1h.95m-6.25-4h.95m-16.25-0.8h.95m2.75 34h.95m8.05-15.2h.95m-1.35 15.2h.95m-9.05-7.4h.95m5.05-6.8h.95m9.45 5.8h.95m-10.85-13.8h.95m10.55-1.5h.95m-7.85 24h.95m-1.65-17.2h.95m-3.05-7.8h.95m-3.25 6.4h.95m-11.05-11.6h.95m7.65 16.9h.95m11.65-8.8h.95m-7.25 1.6h.95m-3.85-6.7h.95m-6.85 6.1h.95m6.65-8.9h.95m-8.85 31.4h.95m11.75-15.4h.95m-14.85-10.1h.95m5.75 21.6h.95m-5.75-9.8h.95m14.95-13h.95m-10.35 10.4h.95m.95-11.7h.95m-10.35 8.1h.95m8.85-6.7h.95m-.65 1.6h.95m-8.75 15.3h.95m5.85-15.8h.95m-6.75 16h.95m1.65 .6h.95m.55 9.1h.95m2.75-34.2h.95m-10.85 24.6h.95m-.35-28.4h.95m3.55 11.7h.95m-2.65-2.5h.95m2.55 8.5h.95m7.35-1.7h.95m-1.55-6.3h.95m-15.75 9.8h.95m5.85 9.1h.95m-7.95 10.4h.95m6.25-15.7h.95m-9.65-19.3h.95m8.65 13.1h.95m4.45-9.7h.95m1.85 10.5h.95m-16.25 3.1h.95m1.05 19.6h.95m-5.15-16.8h.95m16.65 1.5h.95m-9.45-0.6h.95m-10.75-6.6h.95m16.95 8.2h.95m-19.95-17.3h.95m9.65 23.5h.95m-4.25 5.1h.95m-9.55-4h.95m.95 1.8h.95m16.95-7.6h.95m-2.15-2.7h.95m-22.05-24.6h.95m13.75 12.5h.95m-2.55 0h.95m6.95 .1h.95m-6.55 7.5h.95m-10.25 1.1h.95m12.05-5.2h.95m-9.55-14.2h.95m-7.95 .6h.95m17.85 21.3h.95m-12.15-15.5h.95m-9.85 8.8h.95m14.65-0.9h.95m-2.25 .5h.95m-.45-6.9h.95m-14.85 26.4h.95m11.75-10.8h.95m-9.55 8.6h.95m-.35-22.1h.95m6.25 22.6h.95m.65-9.3h.95m-9.15 .8h.95m-6.45-10h.95m13.15-11.9h.95m-2.85 20.6h.95m-13.65-1.4h.95m.75-20h.95m4.45 3.9h.95m-.65 12.3h.95m-.75-16.2h.95m-5.65 21.1h.95m3.55 8.6h.95m-4.35-9.5h.95m14.75 .2h.95m-16.55-18h.95m5.95 27.2h.95m8.55-14.2h.95m-19.45 8.5h.95m.75-26h.95m-4.25-1.6h.95m-1.15 17.5h.95m.75-16.9h.95m3.35 17.1h.95m-1.75-14.3h.95m-6.15 26.7h.95m3.45-20.5h.95m15.45 8.5h.95m-11.35-3.5h.95m-2.25-0.9h.95m2.45 18.5h.95m-12.45-27.8h.95m4.95 25.1h.95m-.25-10.6h.95m-5.75 2.1h.95m1.75-22.2h.95m9.55 24.3h.95m-17.35-22.5h.95m7.55 21.5h.95m-6.05-11.2h.95m2.85 4.4h.95m-4.65-0.7h.95m2.65-2.5h.95m8.25 20.7h.95m-4.85-2.8h.95m-11.45-4.2h.95m13.85-10.7h.95m-13.65 4.9h.95m4.65 4h.95m4.45-12.4h.95m-11.15-1.5h.95m-.25 21.9h.95m9.55-21.9h.95m-6.65 18.5h.95m6.45-10.3h.95m-11.35-18.6h.95m-1.45 24.9h.95m6.25 10.9h.95m-12.55-33.9h.95m.15 20.8h.95m3.95-18.4h.95m-10.25 7.3h.95m17.85 7.8h.95m2.25 .1h.95m-22.65-18.8h.95m7.95 0h.95m12.15 22.4h.95m-16.75-8.7h.95m1.55 9h.95m4.15 .8h.95m-9.25 11h.95m14.05-11.8h.95m-10.65-19.8h.95m-2.45 30.2h.95m-10.25-26.1h.95m10.55-6.4h.95m-1.25 16.9h.95m-4.55-13.8h.95m8.15 10.3h.95m-9.15 22.4h.95m-4.05-8.2h.95m-6.65-21.1h.95m10.05-0.6h.95m8.35 4.5h.95m-3.95 12.8h.95m-16.05-5.1h.95m5.65 10.2h.95m-10.65-10.6h.95m10.85-12.4h.95m9.75 20h.95m-2.45 0h.95m.15-12.1h.95m-5.55 18.2h.95m.95-13.4h.95m-19.45-2.3h.95m9.45 16.4h.95m-5.65-28.7h.95m6.55 31.7h.95m-13.05-36h.95m20.65 16.8h.95m-8.55-14.5h.95m-13.25 31.1h.95m4.95-7.4h.95m3.55-16.6h.95m7.75 9h.95m-6.75 13h.95m-15.55-10.2h.95m12.55 13.3h.95m-16.05-21.6h.95m5.65-10.1h.95m8.15 16.6h.95m-2.65 5.9h.95m-10.55 4.4h.95m.65 7.4h.95m-.35-31.4h.95m-1.65 23.2h.95m-1.35-22.7h.95m5.85 1.6h.95m-11.35-0.1h.95m1.05 5h.95m8.25 19h.95m3.75 0h.95m-10.75 2.2h.95m10.55-22.9h.95m-12.15 27.8h.95m9.15-17.9h.95m-4.75-16h.95m-9.15 5.4h.95m.55-1.1h.95m9.95 2.2h.95m-6.55 11.2h.95m5.35 6.8h.95m-8.25-18.3h.95m4.55 13.4h.95m-10.15-3.8h.95m-.75 6.2h.95m.05-13.6h.95m-3.85 19.3h.95m10.75-7.5h.95m-.85 .3h.95m-16.25 6.7h.95m-.35-6.8h.95m7.15 .7h.95m.95-17.4h.95m-1.05 7.8h.95m-4.75 15.9h.95m9.65-18.4h.95m-9.25 19.2h.95m-7.85-2h.95m1.45-15.5h.95m6.15 11.3h.95m.35 .9h.95m-.75-17.8h.95m-17.35-9.6h.95m8.85 18.4h.95m8.45 9.3h.95m.65-4.6h.95m-18.45-21.5h.95m5.55 34.1h.95m.45-0.9h.95m-2.35 0h.95m9.75-21.8h.95m-10.45 1.9h.95m-5.85 18.4h.95m-2.05-4.9h.95m11.85 2.6h.95m-1.15-9.5h.95m-2.75-11.7h.95m-10.15 12.7h.95m8.65 11.3h.95m-17.55-31h.95m8.35 27.9h.95m12.65-8.8h.95m-9.35-12.7h.95m-8.45 5.2h.95m5.85-9.9h.95m-6.85 22.5h.95m8.85 4.8h.95m.55-16.8h.95m3.15 2.9h.95m-7.85 7.8h.95m-3.45-19.6h.95m-13.05 10.5h.95m15.75 9.8h.95m-10.35-16.3h.95m-2.65-3.8h.95m10.35 19.6h.95m-9.95-2.5h.95m-2.85 1.5h.95m-4.65 3h.95m6.05-42.8h.95m7.35 36.1h.95m-12.15-10.7h.95m12.15 8h.95m-20.15-7.9h.95m4.15-4.5h.95m3.65 22.5h.95m-10.05-1.8h.95m18.95-13.6h.95m-22.65 3.1h.95m15.25 16.9h.95m-9.15-23.6h.95m-2.85 11.7h.95m2.85 11.8h.95m1.65-23.2h.95m-7.55 13.6h.95m-.25-11.8h.95m-4.35 24.7h.95m9.05-8.5h.95m-7.45-19.5h.95m-4.35 20.7h.95m11.35 3.5h.95m-3.85 4.7h.95m-3.85-25.9h.95m-9.55-10.5h.95m4.45 27.5h.95m5.75-17.8h.95m-6.35 21.6h.95m5.25-13.5h.95m-2.25 14.1h.95m-.45-24.2h.95m-2.45 19.2h.95m8.45-16.2h.95m-12.95 17h.95m6.95-8.7h.95m-18.35-8.9h.95m13.25 12.4h.95m-7.95-12.2h.95m4.85 12.2h.95m-3.25-5.3h.95m-4.75 8.7h.95m5.95-4.5h.95m-1.95-2.9h.95m-5.45 18.8h.95m-6.45-35h.95m7.05 22.3h.95m9.25-15.5h.95m-22.05 15.9h.95m20.75-13.6h.95m-20.25 20h.95m2.15-31.5h.95m-4.65 .9h.95m-1.15 7h.95m7.35 28.7h.95m7.25-10.5h.95m-2.85-13.4h.95m-10.45 12.9h.95m-4.95-2h.95m.55-26.9h.95m1.25 7.9h.95m1.05 11.6h.95m2.25-2h.95m4.55 9.7h.95m-12.05-6.6h.95m4.55-1.5h.95m-8.85-17.1h.95m13.35 32.3h.95m-2.95-21.2h.95m-12.65-3.6h.95m12.85 18.4h.95m-7.05-17.9h.95m-7.45-3.9h.95m1.35-0.5h.95m-5.75-0.7h.95m.25 7h.95m16.45 4.5h.95m-12.85 18.8h.95m-7.65 3.3h.95m-3.55-14.2h.95m18.85 4h.95m-14.65-26.1h.95m-5.95 26h.95m6.95-5.1h.95m2.65 12.2h.95m-.05-9.6h.95m-.45 3.8h.95m-11.05-16h.95m11.15 22.3h.95m-14.05-34.2h.95m16.95 9h.95m-1.05 8.5h.95m-9.75 9.3h.95m-.55-24.6h.95m7.85 9.2h.95m-6.75 4.6h.95m-1.15-8.1h.95m-2.85 9.4h.95m5.65-5.8h.95m-9.15 1.1h.95m-8.65 9.2h.95m8.45 10h.95m-10.45-14.9h.95m.75-8h.95m-.05 26h.95m-7.85-27.5h.95m.65 7.1h.95m2.35 4.3h.95m11.85 9.1h.95m-14.25-18.1h.95m-3.45 4.3h.95m-.55-12.1h.95m5.75-1.5h.95m10.85 29.2h.95m-12.95-19h.95m-4.85-6.5h.95m6.55 10h.95m-6.35 1h.95m-2.55-8.4h.95m11.15 15.3h.95m-12.55-15.6h.95m1.35 26.2h.95m1.35-13.6h.95m-5.75 .3h.95m8.75 9.9h.95m-.35-9.7h.95m-4.15 4.4h.95m-11.25-13.7h.95m7.35 11.3h.95m-1.95 13.8h.95m1.35-15.3h.95m8.55 .6h.95m-10.95-14.2h.95m-6.35 30.5h.95m7.45-20.5h.95m-5.65 0h.95m-.65 10.8h.95m7.25-5.1h.95m-13.25-11.4h.95m5.95-9h.95m-4.75-2.1h.95m4.75 37.4h.95m-14.05-24.6h.95m.95 18.6h.95m13.25 .8h.95m-13.55-17.1h.95m-1.15 16.2h.95m1.85-10.8h.95m-4.55 6.8h.95m12.85-14.3h.95m-.75 15.9h.95m-11.35 2.4h.95m-8.65-19.5h.95m2.15-0.6h.95m1.05 21.5h.95m15.45-3.6h.95m-1.65-9.1h.95m-21.15-14.5h.95m11.85 32.5h.95m-14.25-27.7h.95m3.85 2.6h.95m7.25 19.2h.95m-11.95-29.4h.95m16.75 21.9h.95m-6.25-19.5h.95m-3.95 26.6h.95m-3.05-21.6h.95m6.55 7.9h.95m1.35 14.4h.95m-11.85-14.8h.95m6.45 9.9h.95m-12.45-9.6h.95m-4.25-6.8h.95m11.35 13.3h.95m5.45-14.3h.95m-21.05 16.2h.95m7.45-7.6h.95m.95-14.5h.95m2.45 26.7h.95m3.35-11.9h.95m-4.95-7.6h.95m6.05 11.8h.95m-13.25-7h.95m-4.85-10.9h.95m-3.05 15.1h.95m16.15 3.7h.95m-19.05 4.2h.95m12.25 5.9h.95m-13.05-3.8h.95m2.25-5h.95m3.85 2.2h.95m-3.15 9.8h.95m-3.65-9.2h.95m-7.25-20.7h.95m20.75 7.5h.95m-15.95 2h.95m8.45 3.4h.95m1.15-7.9h.95m-8.55-0.4h.95m8.85 8.1h.95m-10.95-5.9h.95m-5.55 17.5h.95m6.05-20.6h.95m-.35 22.5h.95m-1.15-14.4h.95m-.05 12.2h.95m-4.05-3.3h.95m-9.75-7.1h.95m.25 3.1h.95m1.95 11.7h.95m-4.85-3.3h.95m7.75-25.7h.95m-2.75-1.5h.95m12.25 14.4h.95m-19.15-4.4h.95m16.35 8.6h.95m-19.55 0h.95m4.85-22.7h.95m8.95 21.1h.95m-7.55 3.1h.95m-10.15-19.9h.95m12.95 21.3h.95m4.95-14.6h.95m-7.55 8.8h.95m-17.15 3.6h.95m3.65 10.5h.95m-5.75-22.4h.95m9.45 8.5h.95m-7.35-18.9h.95m-2.25-3.3h.95m7.65 28.3h.95m-7.95-9.1h.95m14.05-10.4h.95m-1.15 20.3h.95m-3.25 5.1h.95m-10.95-10.1h.95m-.35 3h.95m-2.05-20h.95m4.55 24.6h.95m-4.95-18.3h.95m9.55 3.8h.95m-4.25-6.9h.95m-11.05 18.8h.95m1.05-26.8h.95m-5.75 1.3h.95m2.95 2.2h.95m16.55 12.2h.95m-9.05-7.3h.95m.65 10.8h.95m1.75-5.3h.95m1.95 4.9h.95m-14.55-15.1h.95m6.25 10h.95m-15.85 11.5h.95m8.95-18.5h.95m-4.35 15.8h.95m10.85-0.6h.95m-11.05-1.4h.95m-1.55-1.3h.95m-8.75-1.8h.95m3.55-5.9h.95m6.65-5.8h.95m-5.55 9.8h.95m-3.85 9.5h.95m11.75-6.1h.95m-4.85-0.9h.95m.05 11.4h.95m-7.45-12.5h.95m-4.05-13.6h.95m15.75 12.8h.95m-5.55-11.1h.95m-8.15 29.5h.95m-5.05-22.4h.95m11.85-2.6h.95m-8.85 24.6h.95m-.75-6.6h.95m-9.65 3.8h.95m10.25-32.6h.95m-8.05 8.5h.95m4.05-8h.95m-8.55-1.6h.95m-4.75 7.1h.95m3.45-2.6h.95m.85 23.6h.95m15.35-9.2h.95m-24.25-14.4h.95m16.45 21.3h.95m-4.65-23.1h.95m-8.45 28.6h.95m-.75-8.1h.95m11.05 5.2h.95m-10.35 10.1h.95m1.15-32.4h.95m3.45 9.6h.95m-5.95 19.9h.95m5.25-25.1h.95m-14.35 1.3h.95m-1.45 20.8h.95m4.75-12h.95m7.25 9.5h.95m4.25-6.9h.95m-10.05-11.8h.95m6.15 4.7h.95m-12.85-0.7h.95m-5.85 5.2h.95m3.85 7.1h.95m-2.25 5.8h.95m-2.55-19h.95m3.45-9.3h.95m12.65 20.2h.95m-12.15-19h.95m-2.75 27.6h.95m-9.15-16.8h.95m6.25 16.7h.95m-6.25-9.4h.95m4.65-15.4h.95m9.15 19.5h.95m-17.35 1.1h.95m9.95-4.1h.95m-6.75 9.7h.95m9.65 2.8h.95m-9.45-0.2h.95m5.45-10.8h.95m4.05-11.2h.95m-6.05 9.1h.95m-12.45-15.6h.95m.55 24.1h.95m-1.45-0.6h.95m10.35-18.9h.95m1.85 2.5h.95m-3.35-0.1h.95m-17.75-10.9h.95m2.35 11.9h.95m3.45-22.3h.95m-6.25 20h.95m3.95 7.3h.95m8.85 7.5h.95m-7.45-6.1h.95m.35-21h.95m-3.15-1.3h.95m-4.85 21.6h.95m16.15-8h.95m-10.95 20.7h.95m4.95-4.8h.95m-5.55-0.6h.95m-14.95-27.8h.95m20.65 13.7h.95m-21.15-6.7h.95m6.35 21.9h.95m-3.15-22h.95m8.65 17.5h.95m-13.45-17.1h.95m-3.45 11.7h.95m7.45-18.9h.95m-3.05 36.5h.95m7.05-29.5h.95m-11.85 4.1h.95m-2.15 25.1h.95m-4.85-29.6h.95m13.15 18.2h.95m3.65 7.8h.95m-5.85-24.3h.95m-1.05 23.3h.95m-3.35-15.5h.95m7.65-9.6h.95m-11.75 4.8h.95m-8.45 15.5h.95m17.05 2.2h.95m-.75-13.5h.95m-6.55 .9h.95m-.45 7h.95m-12.55 9.1h.95m-2.35-9.6h.95m5.65-9.8h.95m7.85 6.2h.95m-13.35-10.1h.95m5.75-14.8h.95m10.75 28.5h.95m-18.55 .7h.95m2.65 11.6h.95m-8.95-30.8h.95m6.25-3h.95m1.95 27h.95m-1.75 2.3h.95m-9.85-31.8h.95m9.25 28.5h.95m1.35 1.2h.95m6.45-15.2h.95m-8.95-9.5h.95m7.75 15.4h.95m-11.05-15.9h.95m1.95 10.8h.95m-9.05-9.1h.95m9.55 4.3h.95m5.25 2.6h.95m-14.85 14.9h.95m-4.05-12.5h.95m3.15-5.2h.95m6.15 15.7h.95m-1.35 .6h.95m-2.35 1h.95m-8.65-7.3h.95m-5.65-19.7h.95m4.15 3h.95m4.45 30.8h.95m-12.95-17.4h.95m12.05-15.4h.95m.45 14.6h.95m3.65 5.5h.95m-10.65-10.4h.95m7.75 6.5h.95m-16.05-15.1h.95m4.05 36.8h.95m-8.05-30.4h.95m12.05 5.4h.95m-8.85 19.8h.95m12.65-8h.95m-19.05-21.8h.95m1.75-4.5h.95m6.35 31.5h.95m-9.15 4.4h.95m15.45-4.7h.95m-20.95 4.7h.95m1.65-11.3h.95m-1.65-2.4h.95m9.55-7h.95m.55 14.2h.95m-1.35-2.6h.95m-1.15-4.5h.95m-6.45-12.1h.95m7.25-2.7h.95m.85-0.2h.95m-11.05 27.1h.95m6.45 .8h.95m-11.95 2.6h.95m1.55-3.1h.95m-.45-15.8h.95m-8.05-2.1h.95m4.65-2.8h.95m.65 15.1h.95m-5.25-13.2h.95m1.65 10.6h.95m7.95 6.2h.95m-8.75-13.9h.95m-1.55-11.9h.95m3.15 15.5h.95m9.85 3.4h.95m-13.35-10.5h.95m-.25 16.5h.95m2.75-0.2h.95m1.15 .4h.95m-5.05-14.5h.95m-6.25-6.8h.95m.85 14.1h.95m.65-4.6h.95m8.15 2.7h.95m-13.55-3.5h.95m2.45 12.7h.95m5.95-21.5h.95m-17.75 5.1h.95m8.55 14h.95m-2.65-29.3h.95m-9.05 12.1h.95m18.75 5h.95m-9.55-16.2h.95m10.55 11.4h.95m-19.75-13.1h.95m3.05 11.7h.95m.35 8.4h.95m3.75-8.8h.95m-9.95-7.9h.95m12.85 2.8h.95m-.45 1.7h.95m-14.35 23.5h.95m-.55-11.7h.95m-4.75 .6h.95m4.65 5.3h.95m.55-12.5h.95m-6.05 15.1h.95m8.25-5h.95m1.95-11.1h.95m-9.55 9.6h.95m.65-13.6h.95m-6.05-1.5h.95m.45 32.3h.95m5.35-14.6h.95m7.25 4.2h.95m-19.65-2.5h.95m7.75 .1h.95m8.45-18.1h.95m-14.85 29.4h.95m.05-15.9h.95m2.15-13.5h.95m1.45 12h.95m3.75 15.9h.95m-13.55-10h.95m-3.65-4.7h.95m5.55 13.4h.95m-9.65-32.3h.95m16.45 20.3h.95m-.25-13.6h.95m-6.45 23.9h.95m7.65-18.3h.95m-5.85 9.7h.95m-1.05 8.8h.95m-7.85-33.3h.95m11.55 15.4h.95m-14.15-4.8h.95m-7.35-10.7h.95m3.05 1.3h.95m1.25 17h.95m4.05 12.3h.95m-6.55-17.1h.95m-.55-9.4h.95m-.95 .3h.95m-7.65 1.7h.95m11.65 26.6h.95m-10.35-20.7h.95m-2.45 13h.95m1.15-19.5h.95m7.25 24h.95m-1.95-26.9h.95m-9.15 23.5h.95m7.95-16.9h.95m4.25-5.2h.95m-5.45-2.8h.95m.25 36.9h.95m-3.75-1h.95m2.95-20.7h.95m5.05-1.6h.95m-19.35 8.6h.95m3.85-18.3h.95m-.95 30.8h.95m8.45-12h.95m.55-0.5h.95m-5.85 2.3h.95m-7.05 12.4h.95m-2.25-13.9h.95m-3.95 8.9h.95m13.85-5.9h.95m-16.35-24.5h.95m2.25 30.7h.95m4.15-8.5h.95m-8.85-7.1h.95m17.55 7.7h.95m-.65-6.3h.95m-15.05-19.5h.95m-8.25 11.7h.95m6.25 2.6h.95m8.35 5.8h.95m3.85 .3h.95m-20.95-3h.95m4.45 8.1h.95m-2.85 .6h.95m2.05-18.6h.95m7.15 29.2h.95m-4.65-11.1h.95m-7.75 .9h.95m-.95-10.1h.95m-4.65-9.2h.95m2.05 10.9h.95m-.25 17h.95m-5.75-14.1h.95m12.15-12.9h.95m-13.45 15.2h.95m16.95-8.7h.95m-17.85 14.1h.95m16.05 2h.95m.65-19.6h.95m-12.05 15.6h.95m-7.05-18.8h.95m6.95 4.4h.95m8.75 14.2h.95m-21.05-4.7h.95m8.05-34.9h.95m9.75 31.4h.95m-8.45 16.2h.95m-14.55-23.9h.95m4.55 6.7h.95m11.85 5.1h.95m-18.75 3.8h.95m15.45-12h.95m-18.05-4.4h.95m-.35 5.8h.95m11.75 23h.95m3.45-30.7h.95m-12.65 30.9h.95m-2.35-5.5h.95m-4.65-17h.95m.65 3.6h.95m-2.35 5.8h.95m.25-12h.95m7.35 4.7h.95m-5.55 9.5h.95m11.55-11.8h.95m-.55 5.9h.95m-15.75-16.7h.95m10.15 15h.95m-13.15-17.5h.95m13.55 31.4h.95m-9.35-34.4h.95m.35 23.6h.95m-2.95-21.5h.95m2.55 7.6h.95m6.65 13.4h.95m-5.35-18.9h.95m-8.65 5.2h.95m.05-3.9h.95m2.45 13.5h.95m-2.75-18h.95m6.45 27.2h.95m.35-7.5h.95m-14.25-12.4h.95m6.25-2.3h.95m3.85 29h.95m-3.75-31.7h.95m-15.95 0h.95m5.45 5.1h.95m7.35 11.1h.95m6.75-1.5h.95m-20.35 9.2h.95m16.25 1.6h.95m-15.25 4.5h.95m-.45-26.5h.95m10.85 24.6h.95m-9.95-3.8h.95m-6.15-2.9h.95m8.15 .8h.95m-11.35 3.7h.95m15.95-5.9h.95m-15.05-14.9h.95m1.35 32.5h.95m-6.25-14.3h.95m-1.35-1.1h.95m4.75 15h.95m-6.45-31.7h.95m11.85 .2h.95m-11.95 6.7h.95m-3.75 1.3h.95m6.45 7.1h.95m-5.65-16.1h.95m.85-3.9h.95m.65 6.4h.95m.85 18.3h.95m-7.55-28.9h.95m8.25 8h.95m-12.15 2.7h.95m4.15-9h.95m14.35 23.4h.95m-22.65-5.8h.95m2.75-6.7h.95m3.45 4.7h.95m-.55 16.1h.95m-8.95-26.1h.95m18.05-0.2h.95m-11.35 25.7h.95m9.35-1.8h.95m-6.85-15.3h.95m1.25-12h.95m-9.75 24.6h.95m.85-2.7h.95m-6.65-8.1h.95m12.95 18.3h.95m2.65-17.3h.95m-18.45 16.9h.95m12.65-14.1h.95m-12.65-3.6h.95m16.65-2.3h.95m-11.75 22.9h.95m-8.75-15.9h.95m13.35-17.5h.95m1.65 13.3h.95m-15.75 7.7h.95m12.55 .5h.95m-13.75 1.6h.95m2.65-15.7h.95m6.45 8.9h.95m-14.85 9.5h.95m3.65 8.5h.95m4.95-14.2h.95m3.85 7.4h.95m-1.55-14.1h.95m-9.15 22.6h.95m9.05-9.4h.95m-15.25 3.7h.95m13.75-8.7h.95m-8.15 12.2h.95m.45-11.6h.95m-5.45 13.5h.95m5.85-30.9h.95m-18.55-5.2h.95m2.15 25.7h.95m16.05-12.3h.95m-15.75 18.6h.95m8.75 3h.95m-12.35-6.5h.95m1.65-19.2h.95m-2.55-8.8h.95m-2.85 13.6h.95m4.65 10.5h.95m3.85-18.4h.95m8.85 11.2h.95m-16.95-11.7h.95m7.25 9h.95m-1.95-9.9h.95m-2.65 17.4h.95m8.15 3.6h.95m-19.05-3.4h.95m5.45 .4h.95m4.35 11.9h.95m.35-17h.95m-11.75-7.9h.95m10.05 18.8h.95m-10.05-12.6h.95m9.75 5.4h.95m-16.25-25.4h.95m19.05 21h.95m-10.45 16.1h.95m-6.65-26.1h.95m11.85 15.4h.95m-11.55-19.2h.95m-6.95 24.2h.95m.85 .8h.95m1.65-14h.95m3.75 5.7h.95m7.75-15.3h.95m-17.35 8.2h.95m7.15-13.9h.95m-3.85 30.8h.95m-8.25-29.1h.95m2.55 6.2h.95m-1.95 15.1h.95m7.65 8.1h.95m-12.25-28.3h.95m1.15 3.9h.95m-3.65 2.5h.95m8.15 10.5h.95m10.85-2.2h.95m-4.55 7.1h.95m1.35-12.9h.95m-12.65 6h.95m-4.05 2.4h.95m6.55-21h.95m-2.05 21.1h.95m6.25-14.7h.95m-14.45-0.7h.95m-6.45-7.1h.95m18.65 22.2h.95m-15.75-10.2h.95m15.45 9.3h.95m-19.55-11.5h.95m3.95-13.3h.95m-5.05 22h.95m3.35 3.1h.95m-2.85-19.8h.95m-.65 21.2h.95m7.35-19.9h.95m-6.85 17.3h.95m-10.55-13.6h.95m1.05 14.2h.95m6.55-16.6h.95m-5.45 14.6h.95m4.15-1.7h.95m-3.25 5.2h.95m-5.95-17.8h.95m-2.45 24.4h.95m16.15-7.6h.95m2.35 7.7h.95m-20.65-6.5h.95m18.55-9.9h.95m-9.05 15.2h.95m-13.55-19.9h.95m3.25 21.8h.95m14.25-22.4h.95m-10.75-29.2h.95m-4.85 43.2h.95m4.65 14.8h.95m-8.55-34.5h.95m.95 25.2h.95m13.15-8.2h.95m-12.55 13.3h.95m6.15-11h.95m-5.85 11.2h.95m6.15-21.1h.95m-9.55 12.8h.95m-2.85-8.9h.95m-2.55-7h.95m-1.55 24.1h.95m2.35-32.3h.95m.75 19.7h.95m-1.65 7.9h.95m-10.85-25.7h.95m5.05-0.9h.95m-.35 8.3h.95m-2.75 27.9h.95m-2.85-29.4h.95m6.05-3.1h.95m3.45 7.5h.95m-14.65-11.1h.95m-1.65 5.4h.95m2.25-2.8h.95m.45-0.2h.95m13.15 12.2h.95m-18.85-0.7h.95m9.65 16.9h.95m-8.05 1.3h.95m9.55-21.2h.95m-2.25 10.4h.95m4.75-11.9h.95m-6.45 15.9h.95m-14.05-6.5h.95m3.45 3.4h.95m16.85-4.3h.95m-19.25 7.1h.95m-3.85-10.9h.95m15.05 13.3h.95m-4.45-2.8h.95m-2.25-3.4h.95m-1.75-14.7h.95m-4.15 8.8h.95m3.55-1.3h.95m-11.75 12.2h.95m3.85-18.2h.95m8.85 19.9h.95m-8.95-5.2h.95m-3.15-7.3h.95m.15 14.9h.95m6.35-13.4h.95m-9.85-9.5h.95m4.25-7.6h.95m-.75 20.7h.95m5.15-7h.95m-13.55 7.8h.95m-6.55-6.7h.95m.15 .2h.95m13.95 16.7h.95m-13.25-24.6h.95m4.85-4.1h.95m-4.05-0.1h.95m7.25 14.4h.95m5.75-4.2h.95m-14.25-11h.95m3.05 19.5h.95m9.85-2h.95m-15.85-19.2h.95m6.15 29.1h.95m.95-16.1h.95m5.35 7h.95m-20.15 7.5h.95m4.15-9.6h.95m11.75-5.1h.95m-2.75-6.1h.95m-7.25-4.8h.95m-2.15 12.5h.95m-10.25-4.6h.95m3.35 12.9h.95m11.45-1.4h.95m-4.15-1.4h.95m3.55-9.4h.95m-19.05-1.6h.95m12.65 6.2h.95m-15.25 3.6h.95m19.45-1.2h.95m-3.55 1.5h.95m-14.55 2.9h.95m10.85 4.1h.95m-6.35-18.1h.95m-11.35 18.4h.95m5.05-7.8h.95m.55-7.2h.95m-.05-28.7h.95m-9.35 37.4h.95m6.35-4.4h.95m-1.65 5.9h.95m-5.75-5.3h.95m9.75 16.4h.95m-7.35-34.5h.95m-2.85 39.1h.95m13.75-19.8h.95m-8.85 16.6h.95m-10.05-22.5h.95m11.75 14.5h.95m-10.25 .1h.95m9.35-8.1h.95m-9.55 8.6h.95m1.65-4.4h.95m-1.85-15.6h.95m2.45 23.3h.95m-11.25-10.7h.95m6.15-2.8h.95m-1.75 10.9h.95m-.05 2.9h.95m8.95-13.5h.95m-19.35-15.3h.95m5.55 8.1h.95m-.65-6.4h.95m5.55 1.3h.95m-9.25 6h.95m-4.15 21h.95m8.55-8.4h.95m-5.55-19.4h.95m-.75 31.4h.95m.95-36.1h.95m-.35 36.1h.95m-.75-30.6h.95m6.35 12.9h.95m-3.55 16.1h.95m-4.35-9.6h.95m-3.45 1h.95m-2.05 .6h.95m-2.35 .4h.95m3.55 10.5h.95m-4.25-20.3h.95m-3.25-12.3h.95m-6.65 5.3h.95m8.15 27.2h.95m2.55-20.2h.95m-14.65-13.3h.95m2.25 9.7h.95m15.85 16.3h.95m-12.05-14.9h.95m.15-15.9h.95m-10.35 11.9h.95m7.95 27.5h.95m-8.25-23.9h.95" stroke="#CD9600" stroke-width="0.95"/>
<path d="M453.6 237h.95m-7.75-12.1h.95m14.95 1.8h.95m-12.65 5.1h.95m-.55 9.5h.95m-1.45-2h.95m-3.25-21.3h.95m-9.05 18.5h.95m-1.05-9h.95m13.15 17.8h.95m-11.25-34.7h.95m-8.35 23.4h.95m30.05-0.7h.95m-3.35 6h.95m-10.85 2.4h.95m-3.15-19.5h.95m-13.55 8.6h.95m21.95-13.8h.95m-23.35-13.1h.95m10.15 31.2h.95m9.05-8.2h.95m-23.65-17.3h.95m11.95 13.9h.95m-17.15 5.8h.95m24.45-7.7h.95m-19.55-4h.95m17.55 9.3h.95m-25.65 1.7h.95m25.05-14.2h.95m-8.65 9.2h.95m2.95-15.2h.95m-19.85 28.1h.95m-2.55-17.1h.95m26.85 10.8h.95m-2.95-7.8h.95m-2.85 12.4h.95m-9.55 10.1h.95m7.25-13.5h.95m-1.05-20.7h.95m-1.55 25.3h.95m-27.35 2.1h.95m24.55-17.3h.95m-20.75 6.7h.95m13.35 .9h.95m-9.85-0.4h.95m-10.65 5.3h.95m21.75-11.2h.95m-20.85 8.8h.95m14.65 7.9h.95m-6.55-2.4h.95m7.35-21.3h.95m-15.85-7.4h.95m10.15 36.3h.95m-8.85-31.8h.95m-12.05 19.5h.95m22.35-17.5h.95m-19.75-1.7h.95m9.95 .5h.95m-7.95 24.4h.95m1.65-4.5h.95m2.25-16.9h.95m3.65 8h.95m-8.25-6.4h.95m-11.45 13.5h.95m6.75-22.8h.95m-1.95 16.4h.95m3.25-0.1h.95m-4.15 8.3h.95m.05-23.2h.95m2.95 27h.95m12.25-5.8h.95m-21.15-15.7h.95m.45 3.5h.95m17.35 21.2h.95m2.85 1.8h.95m-3.75 8.1h.95m-26.35-32.7h.95m10.95 27.9h.95m12.55-9.5h.95m-7.45-27.8h.95m-2.25 10.8h.95m-16.75 2.7h.95m3.05-7.4h.95m10.65-2.3h.95m5.95 17.5h.95m-8.55-6.8h.95m-6.85-14.3h.95m11.25 2.4h.95m-24.35 37.6h.95m12.05-7.8h.95m-4.45 .7h.95m1.25-11.5h.95m20.25 7.8h.95m-17.15-22.8h.95m7.45 8.3h.95m-15.75-12.5h.95m11.55 14.2h.95m-.45 1.3h.95m-14.75 12.4h.95m2.25-30.9h.95m.05 1.4h.95m11.95 24.1h.95m-23.75 4.3h.95m-2.95 7.4h.95m6.35-30.6h.95m-7.55 9.5h.95m1.95 20.3h.95m17.55-14.2h.95m-20.65-19.7h.95m24.85 23.6h.95m-21.85 4h.95m-7.85-23.6h.95m-2.25 10.8h.95m5.45 26.5h.95m8.45-20.8h.95m-7.55-6.7h.95m2.75-10.3h.95m14.45 14.8h.95m-17.05 17.3h.95m-7.45-17.3h.95m11.95 19.2h.95m-9.95-36.4h.95m-1.35 6.4h.95m11.65-1.9h.95m-2.45 34.1h.95m-11.95-27.6h.95m-3.25-6.3h.95m3.75 14.2h.95m-7.25 11.2h.95m16.95 8.8h.95m-5.95-15.3h.95m-16.25-19.9h.95m16.45 21h.95m.65-0.9h.95m-18.15 2.2h.95m7.55-26.5h.95m-11.45 1.2h.95m13.55 9.5h.95m-5.75-5.6h.95m-5.65-2.2h.95m-1.15 21h.95m-4.65 10.2h.95m21.85 .8h.95m-27.05-15.6h.95m20.45-21.8h.95m-18.45 10.1h.95m11.35-2.1h.95m-3.05 13.9h.95m-14.15-2.3h.95m25.55-1.6h.95m-14.95 3.5h.95m15.85 5h.95m-14.25-4.3h.95m-8.15 20h.95m16.65-16.5h.95m-22.65-23.7h.95m20.45 26h.95m-17.75-14.8h.95m5.85 18.6h.95m-5.25-12h.95m-2.55 16.2h.95m-.85-25.1h.95m4.25 10.6h.95m1.45-10.1h.95m-6.75 11.1h.95m-8.55 14.5h.95m9.05-24.5h.95m-18.65 15.6h.95m18.55 11.9h.95m5.15-38.5h.95m6.45 32.5h.95m-16.75-17.8h.95m11.65 5.1h.95m-1.65 13.6h.95m-7.85-5.6h.95m1.45-23.5h.95m2.75 28.6h.95m-13.15-24.5h.95m.95 3.7h.95m-.95-4.8h.95m-3.95 16.4h.95m-.45-3.1h.95m-7.95-7.5h.95m5.85-14.9h.95m2.25 39.6h.95m9.35-26.5h.95m-23.35 5.7h.95m-1.05-11.2h.95m9.15-6.3h.95m-11.95 4.5h.95m24.65 15.4h.95m-23.75-11.8h.95m16.65 13.8h.95m-11.85-10.1h.95m9.55-4.1h.95m-14.25 13.5h.95m-1.65 4.9h.95m15.35-13.9h.95m-19.15 2.6h.95m18.75 9.6h.95m-3.85-13.6h.95m-13.85-13.2h.95m-11.55 42h.95m-2.05-14.3h.95m11.55-3.7h.95m12.95 11.9h.95m-14.35 4.2h.95m5.85-34.1h.95m4.45 21.4h.95m-8.25 16.1h.95m1.95-27h.95m-14.45 18.3h.95m.85-8.2h.95m13.05-5h.95m7.75 13.2h.95m-12.25-13.6h.95m-1.95 6.7h.95m8.45-1h.95m-29.25 9.4h.95m12.15-1.7h.95m-6.95-22.7h.95m5.95 19.3h.95m10.95-14.7h.95m-18.35-11.8h.95m14.55 4.7h.95m-1.25 25.6h.95m-20.65-6.9h.95m13.95 1.3h.95m-3.45-22.4h.95m-9.55 10.1h.95m5.15-2.6h.95m-6.35 5.6h.95m-11.25 12.4h.95m12.65-24.3h.95m-6.85 .8h.95m15.25-2.3h.95m6.65 16.5h.95m-16.75-18.9h.95m-5.75 25.2h.95m2.75 2.7h.95m-14.85 1.2h.95m31.45-0.7h.95m-15.25-21.7h.95m-15.05 19.1h.95m24.65 4.7h.95m-29.15-20.4h.95m11.35 23.2h.95m16.15-22.2h.95m-24.45 11.1h.95m.55-0.4h.95m-6.45-6.5h.95m2.95 20.1h.95m17.95-22.1h.95m-15.55 11h.95m-3.25 3.1h.95m4.85-22.1h.95m-5.25 26.1h.95m-7.35 5h.95m14.35-39.1h.95m-12.55 34.4h.95m8.25-28.4h.95m2.15-3.2h.95m-6.15 7.4h.95m6.85 3.9h.95m2.45 12.1h.95m-21.75 5.9h.95m23.95-3.9h.95m-28.65-18.5h.95m-.15 28.3h.95m4.15-43.1h.95m7.45 49.1h.95m3.55-10.4h.95m-6.15-3.2h.95m.95-23.7h.95m-3.75 10.5h.95m-13.25 14.8h.95m14.85 11.1h.95m-14.55-25.4h.95m24.35 11.2h.95m-27.85-9.6h.95m10.55-13.5h.95m12.85 27.7h.95m-14.05-9.6h.95m3.05 6h.95m-5.85 1.5h.95m-4.85 11h.95m5.55-21h.95m-7.25-14.2h.95m-1.95 9.6h.95m-7.75-8.9h.95m9.55-0.4h.95m-5.25 4.8h.95m12.75-9.7h.95m-16.25 36.3h.95m-5.15 .2h.95m5.75-10.6h.95m21.65-1.8h.95m-10.55-6.6h.95m-4.45 8.5h.95m-12.75-20.1h.95m16.75-5.1h.95m-23.75 30.5h.95m15.95-25.1h.95m5.55 29.2h.95m-9.25-14.1h.95m1.25-23.5h.95m-9.65 5.3h.95m12.55 .3h.95m-17.45 18.5h.95m-9.65-5.2h.95m11.95 6.9h.95m-10.25 16.5h.95m7.35-30.1h.95m-4.55-8.4h.95m18.15 13.9h.95m-14.85 6.4h.95m12.75 12.9h.95m-7.05-7.1h.95m-16.25-35.7h.95m13.55 26h.95m3.45-19.5h.95m-10.55 .8h.95m-5.05 9.1h.95m4.15 28.5h.95m-7.45-5.7h.95m-.45 3.1h.95m-5.35-11.6h.95m7.15 5.1h.95m3.65-3.9h.95m-10.25-9.1h.95m5.75 21.1h.95m-6.75-16.2h.95m-9.65-1.9h.95m26.55-4.1h.95m-27.15 7.8h.95m18.05-10.9h.95m-4.15 11.7h.95m-6.15 13.8h.95m2.25 1.4h.95m10.15-24.7h.95m-2.55 22.9h.95m-13.05-19.2h.95m.95 11h.95m-1.45-30.3h.95m-.55 5.4h.95m2.15 11.8h.95m-.35 2.9h.95m-3.75 3.7h.95m-6.35 3.8h.95m15.85 9.6h.95m-11.15 4.3h.95m1.35-13.9h.95m5.25-11.4h.95m-12.05-2.6h.95m2.55 1.2h.95m2.45 16.8h.95m-17.35-15.4h.95m16.15-8.1h.95m-18.15 26.4h.95m15.45-8.3h.95m-12.05-19.1h.95m6.35-0.1h.95m-5.95-6.6h.95m10.25 23.9h.95m-22.95 5.9h.95m9.45-21.7h.95m-13.05 28.9h.95m29.75-3h.95m-7.25-29.5h.95m-19.55 8.9h.95m.05 21.1h.95m20.15-23.9h.95m-25.15 10.9h.95m-.25-17.8h.95m-6.25 20.7h.95m28.35-3.2h.95m-26.15 13.7h.95m-2.25-5.8h.95m13.15-25.4h.95m-3.45 38.1h.95m.25-12.4h.95m-9.45 7.8h.95m7.15-24.8h.95m-9.95 21h.95m5.15-3.8h.95m9.25-29.5h.95m.05 34.4h.95m-22.55 1.2h.95m19.45-35.3h.95m-1.05 40.8h.95m-8.35-18h.95m-8.25-10.8h.95m.75 22.7h.95m13.15-5h.95m-18.85 2.5h.95m20.65-19.7h.95m-2.45-11.4h.95m-8.35 22.8h.95m18.45-5.6h.95m-38.85-3.2h.95m18.85-4.5h.95m-6.65 28.8h.95m6.55-15.3h.95m-6.45 5h.95m-12.85-9.4h.95m-2.85 16h.95m18.05-27h.95m3.15 .9h.95m-10.25 8.5h.95m-5.95 8h.95m3.65-4.4h.95m-14.25 14.8h.95m14.85-29.4h.95m-15.75 33.9h.95m24.35-17.5h.95m-20.85 .8h.95m-2.05-13.6h.95m1.75-15.2h.95m11.25 30.6h.95m-12.75-0.4h.95m6.05 5.7h.95m-3.05-24.8h.95m-10.85 9.7h.95m14.65-4.5h.95m-3.05 27.4h.95m2.55-18.9h.95m-13.65-0.3h.95m-3.95 18.2h.95m7.15-6.6h.95m-1.05 4.5h.95m5.55-7.7h.95m-11.45-5.7h.95m9.75-9.6h.95m-4.85 .2h.95m7.15 27.2h.95m-27.35-4.4h.95m24.75-9h.95m-1.65-1.2h.95m-9.65 7.3h.95m-4.65-1.6h.95m-12.95-1.2h.95m1.35 8.2h.95m5.45-26.7h.95m12.05 22.9h.95m6.95-20.9h.95m-28.35 10.9h.95m-.25-9.5h.95m-3.65 15.4h.95m7.95-23.4h.95m6.95 9.8h.95m-9.05-7.3h.95m8.85 10.4h.95m-2.95 21.5h.95m1.75-37.3h.95m-13.15 34h.95m-.15-23.4h.95m3.35-12.5h.95m-7.05 8.2h.95m15.75 28.5h.95m-20.75-2.4h.95m5.55-2.3h.95m13.85-29.9h.95m-8.15 36.2h.95m-10.95-13.5h.95m18.15 4.2h.95m-12.35 8.5h.95m-.15-17h.95m6.35-21.8h.95m-22.65 31h.95m21.65-26.4h.95m-19.15-0.7h.95m26.45 26.2h.95m-17.05-21.4h.95m12.95 17.4h.95m-24.35-2.4h.95m11.95 12.6h.95m-2.25-5.6h.95m11.35-4.4h.95m-7.95-16.7h.95m-25.25 19.7h.95m28.05 4.7h.95m-13.95 6.7h.95m9.55-18.6h.95m-18.55-24.3h.95m-4.75 11.2h.95m-1.45 31.8h.95m14.45-33.3h.95m-18.15 6.8h.95m7.75 3.2h.95m15.55 11.4h.95m-21.35-33.6h.95m-2.25 16.6h.95m9.35 10.1h.95m1.75 18h.95m-5.65-32.3h.95m7.85 24.7h.95m-10.55-33.2h.95m-14.55 37.8h.95m12.15 .8h.95m6.25-38.2h.95m-9.05 41.1h.95m-6.55-34.1h.95m8.05 3.2h.95m6.15 12.4h.95m-2.05-1.2h.95m-.05 10.9h.95m-19.85-7.4h.95m25.55-1h.95m-22.65 17.8h.95m1.65-19.2h.95m4.75 3.4h.95m-16.45 12.9h.95m12.15-26.8h.95m13.65 19.2h.95m-5.25-4.8h.95m-2.35 8.8h.95m-15.45-6.1h.95m4.85-22.3h.95m-15.25 16.5h.95m13.35 6.8h.95m13.05 .1h.95m-30.35-10.9h.95m21.25-4.2h.95m-17.15 17.5h.95m18.95-19h.95m-9.15 12.9h.95m-9.05 1.9h.95m16.75 1.4h.95m-4.75-23.2h.95m-19.55 1.8h.95m13.85 7.3h.95m2.85-10.6h.95m-17.55-7h.95m5.25 22.8h.95m10.55-5.2h.95m2.35-10.4h.95m-5.45 29h.95m-11.55-5.2h.95m4.85-27h.95m-3.25 4.2h.95m14.25 15.2h.95m-11.75-11h.95m-22.05 17.8h.95m20.55 7.1h.95m-20.45-20.9h.95m17.85 25.9h.95m-7.85-15.4h.95m-15.25 4.1h.95m10.45-22.7h.95m-.25 19.8h.95m-2.15-19.9h.95m9.95-3.8h.95m-1.05 14h.95m3.75 6.6h.95m-7.15-16.6h.95m-15.35 17.1h.95m-5.85-0.5h.95m20.35-22.4h.95m-18.45 17.8h.95m11.85-11.1h.95m-9.15 12.6h.95m-9.05 1.5h.95m.25 13.5h.95m25.85-28.8h.95m-24.75 1.7h.95m2.05 5.4h.95m16.85 .4h.95m-16.05 20.7h.95m9.85-17.7h.95m3.75 10.4h.95m-14.55 3.2h.95m8.75 2.8h.95m-16.25 3.5h.95m16.55-21.7h.95m-15.75 19.7h.95m7.45-15.5h.95m-.05 8.5h.95m-7.65-27.5h.95m9.75 11h.95m-17.75 24.6h.95m-7.05-8.3h.95m4.85 1.7h.95m-5.25 5.9h.95m12.25-28h.95m2.35-4.7h.95m-8.75 5h.95m7.55 20.9h.95m10.45-13.4h.95m-17.05-17.1h.95m-.55 33.1h.95m7.15 9.2h.95m.55-15.6h.95m-2.45-26.4h.95m3.05 20.8h.95m-10.85-17.8h.95m-8.55-2.5h.95m17.05 24.7h.95m-11.85-13.8h.95m-13.85 30.2h.95m18.45-22h.95m3.85 20.4h.95m-1.55-9.2h.95m-5.05 6.2h.95m-3.15-2.1h.95m-18.45-8.9h.95m2.25-17.2h.95m7.55 21.5h.95m6.95 12h.95m-11.95-43.5h.95m2.85 35.8h.95m2.55-2.7h.95m8.85-8h.95m-16.25-0.6h.95m-4.25 2.1h.95m1.95-16.4h.95m14.05 14.6h.95m2.55 2.9h.95m-7.85-11.3h.95m-9.15 19.9h.95m-2.25-4.1h.95m2.85 4h.95m-10.75-9.3h.95m-.25-3h.95m-10.35-4.4h.95m11.45 19.4h.95m12.25-32.9h.95m-21.15 25.7h.95m-5.25-0.3h.95m17.45-11.1h.95m-10.45 21.2h.95m8.75-35.1h.95m-13.25 33.7h.95m9.95-24.9h.95m-3.55-2h.95m-4.25 9.5h.95m-8.45 13.2h.95m20.85 5h.95m-10.75 3.8h.95m-16.65-20.7h.95m7.15 10.5h.95m-6.55-2.4h.95m5.25 9.5h.95m-3.15-4.7h.95m3.65-13.6h.95m17.45 1.3h.95m-28.55 10.7h.95m14.55-8.7h.95m-7.65-11.6h.95m17.15 8.9h.95m-19.75-25.6h.95m5.85 7.5h.95m4.35 24.6h.95m4.25-22.7h.95m-5.95 31.3h.95m-6.85-31h.95m3.75-5.8h.95m-10.95 10.7h.95m-9.25 4.2h.95m13.75 16.8h.95m-.75-24.5h.95m-7.45 13.8h.95m2.95-4.5h.95m5.85 21.1h.95m1.55-3.9h.95m-24.15-4.5h.95m-3.55-8.5h.95m15.55 12.4h.95m-4.35-32.3h.95m-9.55 23.4h.95m3.75-5.1h.95m-4.15 16h.95m24.25-11.8h.95m-29.25-14h.95m16.15 33.4h.95m2.85-30.4h.95m.45 13.4h.95m-16.15-20.8h.95m-7.55 14.5h.95m17.45 7.3h.95m-1.55-20.1h.95m2.25 1.4h.95m-7.95 12.1h.95m10.15 3.4h.95m-9.55-13.5h.95m1.25 12.1h.95m-17.85-3.7h.95m23.35 14.6h.95m-25.35-6h.95m8.45-15.8h.95m-3.45 30.7h.95m1.75 1.6h.95m-2.75-24h.95m-12.15 12.2h.95m7.35 2.9h.95m-6.05-5.8h.95m-5.55-14.8h.95m25.45-8h.95m2.05 15.2h.95m-26.95 14.2h.95m3.25 3.6h.95m10.65-7.7h.95m-.75-4.7h.95m-9.45-10.5h.95m2.95 .7h.95m-2.25 .6h.95m15.85 13.9h.95m-8.85 7.6h.95m-22.05-19.1h.95m10.05 20.4h.95m-.05-8.6h.95m-9.75-9.6h.95m14.45 4.5h.95m-5.05-3.7h.95m-14.15 18.3h.95m-1.55-30.6h.95m12.05-5.6h.95m7.75 20.6h.95m-12.45-27h.95m8.75 20.8h.95m-2.35-7.8h.95m-20.35 13.6h.95m17.05 12.5h.95m-11.75-36.6h.95m-6.45 13.6h.95m-4.65 16.6h.95m7.65-1.6h.95m16.25-18.9h.95m-17.45-12.5h.95m5.45 30.7h.95m.55 2h.95m9.45-27.2h.95m-23.45 13.5h.95m6.05-4.2h.95m9.45-7.7h.95m-15.15-8.8h.95m2.05 44.8h.95m11.05-17.6h.95m-15.95-16.6h.95m24.05 25.2h.95m-15.15-29.5h.95m-15.85 38.5h.95m7.45-12.1h.95m-9.65-18.7h.95m13.25 28.8h.95m5.05-30.9h.95m-10.45 24.5h.95m6.05-23.8h.95m-.95 19.6h.95m-10.05-8.7h.95m1.55-8.7h.95m-10.25 14h.95m7.45 6.9h.95m-3.45-3.7h.95m.55-19.8h.95m6.25-0.3h.95m.75 29.8h.95m-9.65-22.6h.95m10.05 6.9h.95m-16.65 19.4h.95m21.55-22.3h.95m-6.85 5.2h.95m3.75-15.7h.95m-18.45 32.9h.95m2.65-7.6h.95m-14.35-10.5h.95m12.15-18h.95m-8.65-9.5h.95m10.95 35h.95m4.95-1.2h.95m3.35 7.1h.95m-9.45-16.9h.95m6.15 9h.95m-9.65-18.5h.95m-4.65 14.6h.95m.55-15.8h.95m-8.55-9.9h.95m3.15 1.7h.95m-1.55 26.2h.95m16.75-10h.95m-19.55 .8h.95m14.05 1.2h.95m-7.75 8.1h.95m-20.15 9.4h.95m16.95-14.5h.95m-11.15 .7h.95m5.95 13.5h.95m5.55-10.7h.95m-10.05-15.8h.95m-12.35 25.2h.95m11.05-11.7h.95m-6.65 1.8h.95m11.35 12.7h.95m-15.05-33.6h.95m3.85 35.6h.95m6.95-37.3h.95m-8.15 24.8h.95m-4.15-13.1h.95m11.85 9.1h.95m-18.95 12.5h.95m25.05-11.6h.95m-.65-5.2h.95m-22.65 14.8h.95m1.75-38.9h.95m-9.15 15.5h.95m6.95-14.2h.95m1.15 31.2h.95m5.25-25.3h.95m-9.55 8.5h.95m-9.45 5.3h.95m4.25 10.1h.95m7.25-10.2h.95m-14.45 2h.95m21.75 18.5h.95m-22.35-22.6h.95m-1.65 6.1h.95m3.55-11.4h.95m10.15 15.5h.95m4.05-1.7h.95m-2.15-16.8h.95m-18.35 18.6h.95m21.65-16.2h.95m-17.75-11.7h.95m15.55 19.6h.95m-10.05-14.3h.95m-11.65 24.3h.95m11.95 12.9h.95m-17.15 0h.95m19.75-30.9h.95m-22.65 14.4h.95m23.75-12.5h.95m-21.25-7.1h.95m15.35 14.6h.95m-7.25 10.8h.95m-17.95 4.7h.95m27.25-22.8h.95m-7.75 19h.95m5.85-25.3h.95m-25.15 11.9h.95m12.25 25.3h.95m-6.45-33.2h.95m4.25 5.1h.95m2.05 5.5h.95m4.55 7.1h.95m-17.35 4h.95m7.35 8.6h.95m5.05-29.9h.95m-4.55 32.2h.95m6.95-26h.95m-4.05 8.3h.95m-1.95-16.2h.95m-4.85 25h.95m-9.25-8h.95m15.55-0.8h.95m-3.85 16.7h.95m-17.55-22.5h.95m-1.75 11.2h.95m19.25-18h.95m-15.95 28.9h.95m14.55-12.5h.95m-3.65-23.1h.95m-7.35 24.3h.95m7.25-16.1h.95m-15.85 16.6h.95m-12.65-7.3h.95m26.55 .2h.95m-8.55-20.1h.95m-1.75 38.8h.95m-6.55-29.5h.95m7.35-6.2h.95m-5.55 9.1h.95m-3.05 13.8h.95m10.65-17.7h.95m-16.85 22h.95m-7.75-28.2h.95m15.85 35.1h.95m3.35-9.8h.95m.95-16.9h.95m-2.65 25.1h.95m-4.55-37h.95m-20.95 33.6h.95m4.35-24.6h.95m13.95 19.3h.95m-12.45-6.6h.95m-6.55-8.8h.95m17.35-5.8h.95m-18.75 4h.95m14.85 17.9h.95m-.75-8.7h.95m-22.05 12.8h.95m7.45-20.9h.95m13.05 28.8h.95m-2.35 .4h.95m3.85-39h.95m-.95 11h.95m-15.45-5.4h.95m-7.55 15h.95m-2.05 7.2h.95m18.55-8.5h.95m-18.75-1.7h.95m17.85-2.9h.95m.75 3.4h.95m-20.85-25.5h.95m7.15 33.6h.95m9.95 11.4h.95m-8.35-32.6h.95m10.65 27.9h.95m-13.15-25.5h.95m-3.25 31.2h.95m-1.85-30.5h.95m-2.05 1.1h.95m-11.85-1.2h.95m4.05 8.7h.95m4.65-0.9h.95m2.85-8h.95m-1.55 22.1h.95m8.15-0.8h.95m-10.25-26.6h.95m5.75 34.4h.95m-7.15-9.2h.95m-3.95 5.8h.95m7.45-20.1h.95m-22.05 10.8h.95m26.25 .3h.95m-28.85-2.2h.95m25.85-16.5h.95m-17.85 4.1h.95m4.35 24.4h.95m-6.75-17.4h.95m16.75 14h.95m-10.85-30h.95m-3.75 21.4h.95m13.85 1.7h.95m-8.35-2.4h.95m-14.15-20.5h.95m5.05 12.2h.95m2.15 12.2h.95m7.25 5.9h.95m-8.95-27.3h.95m-9.65 3.9h.95m-5.05-9.1h.95m5.45-2.5h.95m-7.55 36.9h.95m9.75-9.8h.95m-10.05-20h.95m-2.05 1.3h.95m11.55-2.4h.95m-7.75-3.2h.95m1.45 3.1h.95m9.65 19.9h.95m-8.65-20.3h.95m5.25 18.6h.95m-6.65 16.4h.95m4.05-2.7h.95m-13.75-41.9h.95m7.05 5.2h.95m-16.55 36.8h.95m2.55-22.9h.95m20.85 4.4h.95m-20.85-19.7h.95m-3.45 11.9h.95m1.65-13.1h.95m15.65 3.3h.95m-20.75 32.1h.95m5.85-6.1h.95m-7.85-11.6h.95m3.05 17.4h.95m10.25-2.9h.95m5.65 1.2h.95m-23.65 8.6h.95m8.15-4.5h.95m9.55-14.1h.95m7.55 11.4h.95m-11.85-13h.95m-13.35 9.5h.95m4.45 5.2h.95m14.05-1.7h.95m2.15-9h.95m-16.85 4.8h.95m18.15 1.5h.95m-23.95-20.9h.95m16.75 20.4h.95m-11.45-29.2h.95m-9.65 29.1h.95m3.85-6.5h.95m-6.95-8.4h.95m23.55 20.4h.95m-5.85-12.2h.95m-1.35 2.9h.95m-14.35 3.3h.95m1.95-1h.95m-4.85 8.4h.95m1.05 5.4h.95m-9.45-32.2h.95m3.15 16.1h.95m-4.15 16.5h.95m7.65-14.5h.95m4.45-0.6h.95m-20.65-5.5h.95m11.25-20.7h.95m6.55 10.5h.95m-13.25 27.3h.95m14.05-17.3h.95m-.85 3.6h.95m-16.15 12.1h.95m14.05-6.9h.95m-.75-23.8h.95m-12.55 26.5h.95m-4.05-37.1h.95m-1.45 12.2h.95m-2.85 25.5h.95m12.45-23.5h.95m5.35 30h.95m-6.05-22h.95m-8.45 13.7h.95m-3.45-9.8h.95m-7.65-6.8h.95m11.25 18.8h.95m6.05-4.4h.95m8.35 2h.95m-19.65-18.3h.95m12.55-3.8h.95m-5.45 1.5h.95m-8.75 6.9h.95m-8.55 14.9h.95m13.95-12.7h.95m-2.95-4.6h.95m-7.05 1.3h.95m-14.35-9.3h.95m10.85 19.9h.95m5.25-15.4h.95m-3.65 21h.95m-.65-23.5h.95m-8.05 17.8h.95m-4.95-28.4h.95m-2.35 8.3h.95m19.35-1.2h.95m-27.05 27.3h.95m20.75-26.6h.95m-8.85-8.1h.95m-3.75 4.1h.95m-2.05 18.1h.95m8.55 20.1h.95m-4.55-35.4h.95m5.85 4.7h.95m-18.25 4.5h.95m22.95 22.3h.95m-2.95-19.5h.95m-10.55-10.8h.95m2.05 7.9h.95m-5.15 10.5h.95m-3.35-21.8h.95m4.15 19.1h.95m-10.05 7.8h.95m-7.25-14.1h.95m12.15-12.2h.95m7.65 6.3h.95m-.95 3.6h.95m-1.75 6.4h.95m-13.45-17h.95m20.65 22.2h.95m-20.95-27.1h.95m-5.65 43.3h.95m8.65-25.6h.95m5.45 2.7h.95m-7.95-4.9h.95m-6.85 2.3h.95m-6.65-5.3h.95m14.75 30.1h.95m-7.85-35.3h.95m1.15 25.2h.95m-2.05-17.8h.95m16.25 19.4h.95m-18.05-15.8h.95m-6.15 13.2h.95m-3.85 9.8h.95m6.65-2.9h.95m8.95 5.1h.95m-12.25-27.2h.95m15.95 13.4h.95m-10.05-17.9h.95m-13.55-12h.95m-4.45 18.7h.95m26.55 11.6h.95m-16.15 6.3h.95m2.45 5.8h.95m-19.55-9.2h.95m11.45-8.1h.95m4.45 7.8h.95m6.95-0.5h.95m-5.05-6.6h.95m-16.45 8h.95m-2.85-19.7h.95m21.85 15.3h.95m-11.15 12.1h.95m-18.35-26.8h.95m2.75 6.7h.95m6.55-7.9h.95m3.75-3.8h.95m-1.75 33.2h.95m-7.35-2.6h.95m.55-40.4h.95m13.65 15.4h.95m-1.65 6.7h.95m-24.65-5.4h.95m4.85-12.8h.95m.25 15.9h.95m-3.65-6.3h.95m13.75 16.7h.95m-5.75-11h.95m-5.25 12.2h.95m-4.45-34.2h.95m-4.25 35.6h.95m16.25-13.2h.95m-15.55-5.9h.95m6.55 8h.95m2.15 12.5h.95m.95-20h.95m-11.95-1.5h.95m3.35-3h.95m-6.45 26.7h.95m15.85-15.5h.95m-16.75-16.3h.95m1.35 2.1h.95m-4.85 10.3h.95m-6.25 10.2h.95m15.65 .8h.95m-17.75-3.7h.95m21.65 .8h.95m-13.65-9h.95m10.75 4.8h.95m-2.65 5.3h.95m-16.35-24.3h.95m9.95 27.3h.95m-15.05-5.7h.95m12.25 18.1h.95m13.45-10h.95m-9.85-30.7h.95m-17.15 12.3h.95m8.95 4.1h.95m8.25-5.3h.95m-15.85 .1h.95m-10.55 12.2h.95m26.35-2.2h.95m-25.15 3.5h.95m7.65-13.1h.95m-2.95-4.8h.95m7.45 2h.95m-9.25-0.5h.95m19.85 27.4h.95m-25.85-3.8h.95m-7.85 3.6h.95m8.75-13.7h.95m9.65-3.8h.95m-15.45-5.7h.95m19.95 .9h.95m1.85 27.9h.95m-16.85-11.7h.95m-5.15 2.2h.95m-2.85-31.4h.95m-5.15 19.4h.95m19.75 22.2h.95m5.85-21.5h.95m.95 11.3h.95m-.35 3.2h.95m-32.95-11.6h.95m27.85 16.6h.95m-8.55-12.3h.95m-2.55 2.9h.95m-.35-19h.95m-6.85 9.5h.95m-.85-6.8h.95m-6.35 11h.95m12.05 14.1h.95m-21.15-21.4h.95m11.25-3h.95m-9.85 28.2h.95m12.55-1.4h.95m-15.35-17.4h.95m-4.95-0.4h.95m22.75 3.5h.95m-12.85-3.4h.95m5.75 11.6h.95m-10.25-19.4h.95m-11.35 15.6h.95m23.15-16.6h.95m-6.05 24.3h.95m-16.35-24.8h.95m7.35 19h.95m4.95-2.8h.95m-11.15-1.4h.95m9.75 6.5h.95m11.65-5.2h.95m-29.25-0.5h.95m6.45-26.6h.95m9.05 3.7h.95m3.95-0.6h.95m-20.85 3.7h.95m23.65 29.6h.95m-18.45-26.1h.95m-13.65 20.9h.95m22.75-3.2h.95m2.05-25.3h.95m-19.25 28.8h.95m-1.15-32.8h.95m10.95 8.4h.95m8.35 10.4h.95m-15.05 12.5h.95m-2.15-5.9h.95m-6.25-25.3h.95m-8.75 28h.95m25.55 6.7h.95m-13.25-18.4h.95m1.45 8h.95m4.25 4.7h.95m-15.55-30.2h.95m4.55 38.8h.95m-5.55-16.2h.95m7.25 14.7h.95m-9.05-27.2h.95m14.85-3.5h.95m-17.55-6.4h.95m-4.55 42h.95m10.05-31.8h.95m1.75 1.6h.95m6.35 4.8h.95m-15.05 6.7h.95m16.85-12.7h.95m-24.05 19.1h.95m21.15-17.8h.95m-22.25-15.6h.95m16.45 17.5h.95m-8.85-3.7h.95m8.75 19.5h.95m-8.35 10h.95m-6.15-17.4h.95m-9.35-7.5h.95m12.85-12.9h.95m-3.15 37.4h.95m-14.15-11.3h.95m-3.05-6.1h.95m3.65-15.9h.95m9.25 34.5h.95m2.55-12.7h.95m-10.05-27.9h.95m15.85 17.1h.95m-22.55 12.7h.95m19.05-5.2h.95m-11.75-10.5h.95m12.35 5.8h.95m1.25-3h.95m-22.95-2.7h.95m3.55-11.3h.95m6.55 19.3h.95m.65 5.1h.95m1.25 11.7h.95m-8.85-29.9h.95m1.55 32.9h.95m-13.85-31.4h.95m17.95 15.9h.95m-19.15-24.7h.95m22.75 15.4h.95m-3.15-1h.95m-18.65-18.1h.95m4.15 45.5h.95m14.65-23.7h.95m-3.75 4.7h.95m-26.55 8h.95m25.15-12.4h.95m-3.95-10.9h.95m4.85 23.3h.95m-12.45-27.5h.95m6.55 35.5h.95m-13.25-13h.95m13.05-1.1h.95m-2.15 .6h.95m-22.05-7.5h.95m9.95 14.2h.95m10.45-24.2h.95m-16.85 3.9h.95m8.25 6.3h.95m-.25 8.7h.95m-17.55-21.3h.95m4.05 23.1h.95m-3.65-1.3h.95m-2.15-7.9h.95m13.15 8.3h.95m-10.45 13.2h.95m17.75-5.9h.95m-9.45-3.9h.95m3.25-6.4h.95m-10.95-9.3h.95m-8.35-17.9h.95m7.75 7.8h.95m-1.45 18.4h.95m8.25-19.5h.95m-6.25 3.7h.95m-2.05 26.5h.95m1.55 1.9h.95m-20.95-28h.95m24.85-1.1h.95m-13.45 5.7h.95m6.65 22.3h.95m7.75-4.2h.95m-33.25-0.8h.95m13.05-15.3h.95m11.85 13.6h.95m-22.45 5.1h.95m5.85-11.3h.95m8.95 13.2h.95m-2.95-23.5h.95m-18.55 23.2h.95m22.45-25.3h.95m-8.75 9h.95m-18.25 8h.95m8.05-20.4h.95m1.35 13.5h.95m2.75 .9h.95m10.15-15.3h.95m3.95 29.6h.95m-21.75-37h.95m6.95 36.9h.95m11.95-5.6h.95m-2.45-8.3h.95m-7.55 7.5h.95m-24.85 3.8h.95m11.15-22.3h.95m17.65 11.3h.95m-21.35-6.6h.95m12.25 25.6h.95m-13.95-37.5h.95m2.75 21.4h.95m-9.15-23.9h.95m22.05 5.6h.95m-28.25 17.8h.95m9.85-2.4h.95m-6.95 15.9h.95m3.55-14.3h.95m.25-2.6h.95m19.85 1.1h.95m-19.55-17.7h.95m7.15 1.2h.95m4.35 4.4h.95m-17.65 16.3h.95m-11.35-5.1h.95m24.45 19.7h.95m-21.35-29h.95m2.05-4.3h.95m15.25 23.1h.95m.65 10.9h.95m-22.65-32h.95m-.45 6.9h.95m26.05 13.9h.95m-11.85-4.3h.95m10.95-0.5h.95m-26.05 11.7h.95m-3.95-31.3h.95m7.55 28.7h.95m-3.75-18.5h.95m7.55 10.7h.95m-3.05-16.9h.95m-7.85 12.6h.95m-5.35-29.3h.95m-4.85 46.3h.95m21.05-15.3h.95m-17.55 12.3h.95m-1.65-33.7h.95m-5.75 20.3h.95m9.05-20.8h.95m6.55 13.6h.95m-13.05-4.8h.95m5.75 26.7h.95m-2.35-1h.95m-1.65-11.1h.95m16.45-2.4h.95m-6.45-13.3h.95m6.35 10.3h.95m-23.55 7.9h.95m15.65-16.2h.95m-19.65 2.6h.95m-1.15-12.7h.95m15.55 28.5h.95m-11.75-25.5h.95m-1.75 11.1h.95m10.85 3.7h.95m-.75 4.3h.95m-16.85-10.8h.95m22.95 15.1h.95m-27.85-8.6h.95m7.75 7.2h.95m6.55-5.3h.95m-15.75-24.4h.95m5.75 38.9h.95m-10.35-15.9h.95m24.95-2.7h.95m-17.65 2.3h.95m-5.55 19.3h.95m20.55-4h.95m-17.35 5.4h.95m14.35-27.8h.95m-22.25-6.4h.95m-4.75 14.5h.95m6.45-8h.95m7.05 20.7h.95m7.05-23.8h.95m-27.35 16.7h.95m21.35-10.9h.95m-10.45 17.4h.95m-13.65-4.4h.95m24.35 5.6h.95m-15.95 2.6h.95m14.55-10h.95m-17.25-15.2h.95m4.65 2.5h.95m10.75-0.1h.95m-15.15-1.5h.95m-.35 21.2h.95m19.35-0.9h.95m-26.65-37.8h.95m17.85 16.4h.95m-3.95-3.9h.95m-19.85 15.4h.95m18.95 1h.95m-9.05-18.8h.95m-9.15-5.7h.95m-.45 38.2h.95m15.25-8h.95m-12.65-5.2h.95m-13.25 7.6h.95m22.95-26.6h.95m-22.05-3.2h.95m9.55 17.7h.95m7.85 12.1h.95m-15.45-34h.95m-2.15 16.2h.95m-.85 16.7h.95m11.75-31.1h.95m-9.65 .6h.95m3.65 6.7h.95m-13.55 31.8h.95m8.15-22.9h.95m.05-18.3h.95m-8.75 31.6h.95m7.95-13.9h.95m.35 1.5h.95m-8.95-14.2h.95m.45-9h.95m21.25 27.7h.95m-9.95-1.9h.95m-9.05-17.3h.95m1.05 5.5h.95m-2.85-9.6h.95m-6.25 41h.95m6.05-3.5h.95m8.65-34.7h.95m2.05 29.2h.95m2.15 3h.95m-32.45 .9h.95m10.55-19.3h.95m-.75 11.2h.95m6.65-10.5h.95m5.85-9.5h.95m2.25 10h.95m-12.05 7.9h.95m-7.35-14.7h.95m10.75-9.8h.95m.75 37.2h.95m-12.85-12.2h.95m4.35 16.5h.95m-11.85-33.6h.95m12.75 14.2h.95m7.05 10.8h.95m-23.95-28.6h.95m17.05 17.9h.95m-10.55-16.2h.95m.75 36.1h.95m5.25-24.2h.95m3.85 3h.95m-8.15 21.8h.95m-9.75-22.9h.95m-2.45-4h.95m.15 15.8h.95m-5.85-1.7h.95m-4.75-2.3h.95m9.85-13.1h.95m8.35 20.2h.95m-12.25-29.9h.95m-6.55 10h.95m-2.35 15.6h.95m14.25 5.3h.95m5.35-5.1h.95m-20.55-22.8h.95m11.25-5h.95m7.25 8.8h.95m1.45-5.3h.95m-14.05-4.2h.95m13.55 21.6h.95m-19.55-11.5h.95m11.75 17.3h.95m-8.95 5.8h.95m6.25-26.3h.95m-3.05 18.5h.95m3.95-18.3h.95m-10.25 11.4h.95m3.15-2.2h.95m-14.85-5.5h.95m-1.95 4h.95m-1.15 16.1h.95m4.05-25.3h.95m10.75 3.6h.95m-9.05 15.2h.95m16.35-3.4h.95m-27.15-11.5h.95m17.05 16.8h.95m2.95-4.7h.95m3.35-0.1h.95m-20.55-24.1h.95m13.55 10.7h.95m-14.25 32.5h.95m-1.25-26.9h.95m-3.05 17.9h.95m-6.85-13.9h.95m7.95 21.9h.95m-1.25-16.8h.95m8.95-1.2h.95m-8.65-21.4h.95m-5.15 16.7h.95m-.25 12.4h.95m-5.05-10.4h.95m16.55-8.4h.95m-15.55-11.8h.95m12.05 39.9h.95m-11.45-42.3h.95m5.75 17.2h.95m-1.45 6.5h.95m-13.35 5.6h.95m5.85-14.8h.95m13.85 19.9h.95m.75 2.8h.95m-15.45-11.2h.95m.05 16.8h.95m-1.15-33.8h.95m10.65 17.1h.95m1.45-1.2h.95m-20.55-3.1h.95m13.75-10.2h.95m-.75 18.3h.95m-13.65-19.3h.95m1.55 24.5h.95m-3.85-5.2h.95m15.75-5h.95m-13.35-23.5h.95m3.25 6.2h.95m-13.85 3.2h.95m11.85-3.3h.95m-14.85 19.9h.95m-.65 2.5h.95m10.85 7.4h.95m-7.65-1.3h.95m-7.65-12.5h.95m-.05 10.1h.95m14.15-19.9h.95m-4.45-11.4h.95m-11.55 13.7h.95m10.45 3.1h.95m-4.65 4.4h.95m-4.75-24.4h.95m8.55 31.6h.95m-10.75-2.6h.95m1.85-2.7h.95m-6.05 4.5h.95m16.95-7.8h.95m-3.05-14.4h.95m-22.05 31.5h.95m8.55-9.4h.95m14.45-4.7h.95m-6.95 10.2h.95m-3.45-15.9h.95m2.45 22.3h.95m-5.45-25.8h.95m-9.05 20.1h.95m-5.85 5.1h.95m12.05-27.7h.95m5.15 16.2h.95m-16.15-33.5h.95m-7.65 19.8h.95m2.55 22.6h.95m-9.85-4.8h.95m.95-5.7h.95m15.45 12.1h.95m.85-26.1h.95m4.55 15.4h.95m4.95 3.1h.95m-6.85-11h.95m-24.55 .7h.95m1.45 13h.95m.55-26.5h.95m15.05 8.2h.95m-13.95 12.2h.95m25.45 3.3h.95m-33.45 .6h.95m16.25-5.2h.95m-12.95-9.8h.95m13.55-11.7h.95m-7.85-0.2h.95m11.15 14.6h.95m-10.05-12.8h.95m-9.45 14h.95m18.65 15.4h.95m-27.35-2.3h.95m.15-12.4h.95m-1.15-10.5h.95m22.95-6.4h.95m-6.75 27.1h.95m-12.55-0.8h.95m-.95-29.3h.95m-3.25 33.3h.95m3.45 1.5h.95m-12.75-3.2h.95m26.35-0.5h.95m-22.85-6.8h.95m18.45 11h.95m4.25-12.5h.95m-6.45-7.1h.95m-20.05-12.6h.95m25.45 15.3h.95m-22.85-0.1h.95m1.65-11.9h.95m-11.25 19.8h.95m22.15-15.5h.95m4.05 15.9h.95m-25.45-10.1h.95m15.05-4.8h.95m7.75 22h.95m-13.45 5h.95m-7.85-5.2h.95m17.05-19.7h.95m-14.05-6.4h.95m.65-0.9h.95m4.75 27.9h.95m-14.75-33h.95m13.85 2.9h.95m-.45 21.3h.95m-14.25-3.7h.95m19.65 1.6h.95m-9.05-10.6h.95m2.65-10.6h.95m-7.95 33.8h.95m6.25-23h.95m-22.55-16.7h.95m13.85 27.1h.95m-10.95-7.6h.95m4.55-17.1h.95m11.45 17.3h.95m-18.55 4.2h.95m-2.35-25.5h.95m9.35 22.6h.95m7.75-9.3h.95m-6.25 28.9h.95m1.55-14.4h.95m-25.55-6.8h.95m18.15 1.9h.95m-8.95 13.3h.95m-5.25-29.4h.95m-6.25 32.2h.95m17.85-7.6h.95m-.85-27.4h.95m-11.55 24.6h.95m-8.15-6.1h.95m16.35 22h.95m-17.95-26h.95m25.75 20h.95m-20.05-6.3h.95m18.25 3.7h.95m-1.25-4.6h.95m-4.95 11.8h.95m-23.65-33.2h.95m8.75 33.3h.95m-9.45-37.2h.95m24.85 14.3h.95m-15.05 4.2h.95m3.15-5.2h.95m-17.05-10.2h.95m.95 30.4h.95m19.55-15.3h.95m-24.85-3h.95m11.25-5.5h.95m-9.25 10.3h.95m2.05-5.5h.95m12.25 8.3h.95m-9.05-18.8h.95m-1.55 30.3h.95m-11.65 2.1h.95m22.05-1.3h.95m-18.75-34.1h.95m5.45 5.3h.95m15.95 24.9h.95m-5.55-25.9h.95m-14.55 18.5h.95m-5.95 3h.95m-10.05 2.1h.95m6.65-6.7h.95m10.35-15.3h.95m-12.65 17.1h.95m8.75 9.4h.95m3.35-0.6h.95m-14.65-2.1h.95m17.25-0.4h.95m-7.45-6.6h.95m-17.65 9.9h.95m26.25 .3h.95m-14.05 1.2h.95m9.45-11.9h.95m-23.45-23.4h.95m23.45 38.2h.95m-25.05-18.6h.95m.05-11.2h.95m6.75 5.7h.95m-2.95-1h.95m1.05 19.4h.95m10.25-15.8h.95m-17.25-1.1h.95m16.95 17.7h.95m1.55-13.5h.95m-24.95 15.3h.95m10.05-19.8h.95m-7.45 3.9h.95m19.05 14.1h.95m-12.95-2.5h.95m-12.65-1.9h.95m7.75-3h.95m-10.45 4.2h.95m26.45 .7h.95m-20.15 .2h.95m-6.35-31.6h.95m12.55 2.6h.95m2.55 18h.95m-26.35 10.3h.95m17.95-22.7h.95m-6.45-10.9h.95m-5.75 24.3h.95m5.65-13.9h.95m-1.75 2.8h.95m-5.45 20.4h.95m14.55-31h.95m-.65 2.5h.95m-15.35 27.5h.95m4.85 12h.95m9.55-25.7h.95m-5.25-5.4h.95m-3.75 13h.95m-13.65-24.3h.95m18.55 2.9h.95m-1.25 4.6h.95m-17.25 33.3h.95m-2.85-17h.95m-4.05-26.7h.95m20.45 23.1h.95m-17.25 13.8h.95m-4.95-0.3h.95m1.45-11.9h.95m-4.85-20.8h.95m15.25 2.5h.95m2.55-5.1h.95m-16.45 27.6h.95m17.35-5.7h.95m-8.85 17.9h.95m6.35-36.2h.95m-20.15-4.3h.95m-1.85-4.5h.95m12.75 47.3h.95m-2.35-39.5h.95m-3.35 9.7h.95m-3.05 17.9h.95m-10.85-2.2h.95m15.65 3.7h.95m-16.15-27.3h.95m10.15 20.2h.95m-10.75-1.2h.95m23.05 14.1h.95m-2.65-8h.95m-10.95-8h.95m-1.85-7.1h.95m-21.05 10.1h.95m17.75-20.3h.95m-15.75 28.6h.95m10.65-16.3h.95m10.85 16.2h.95m-18.45-32.7h.95m1.35 12.7h.95m.25 32.5h.95m13.55-24.4h.95m-1.25-10h.95m5.15 24.3h.95m-3.35 4h.95m-26.55-0.8h.95m13.85-10h.95m-8.75 5.5h.95m-4.95 3.7h.95m18.05 4.4h.95m-7.15-26h.95m3.85 26.6h.95m-3.85-29.3h.95m7.25 5.7h.95m-21.85-19h.95m10.35 10.3h.95m-8.25-4.5h.95m-1.25 16.7h.95m-5.85-18.9h.95m8.05 32.4h.95m-12.65-3.3h.95m-5.05-3.9h.95m4.95 13h.95m-2.75-29.9h.95m-.45-10.6h.95m18.95 16.8h.95m-3.65-9.9h.95m-6.35 23.3h.95m-10.15-11.4h.95m1.75-3.8h.95m8.65-2.2h.95m-19.85 18h.95m5.25-26.4h.95m-7.75 25.4h.95m30.05-3.8h.95m-2.25 9h.95m-28.45-20.9h.95m2.05-19.6h.95m12.15 35.9h.95m-14.35-14.9h.95m8.25 8.1h.95m-9.85 16.2h.95m2.25-4.6h.95m-8.95-13.4h.95m9.65 10.9h.95m-.75-33.8h.95m-3.05 6.8h.95m-6.95 23.3h.95m2.75-0.9h.95m8.65 1.5h.95m11.85-6.6h.95m-21.35-14.6h.95m19.35 27h.95m-25.45-5.5h.95m-.35-12h.95m-4.65 19.5h.95m5.95-28.1h.95m-7.95 24.8h.95m11.25-19.1h.95m-6.25-18.4h.95m19.85 28.7h.95m-15.85 13h.95m-1.35-14.3h.95m5.05-11.5h.95m-3.45 11.1h.95m4.95-7.4h.95m-9.15 2.3h.95m8.05 11.9h.95m-16.15-6h.95m.55-0.9h.95m-.55-17.5h.95m4.75 26.5h.95m6.15 9.1h.95m-7.15-17.7h.95m9.85-3.3h.95m-2.75-5.6h.95m-16.45-1.9h.95m-2.05-2h.95m-1.25 4.5h.95m18.55 9.5h.95m-27.15 13.9h.95m-3.25-7.4h.95m5.75 2.5h.95m-3.25-29.1h.95m10.85-0.4h.95m-18.65 21h.95m23.45-17.4h.95m2.75 5.4h.95m-15.55 6.1h.95m8.25-9.3h.95m-4.85 30.7h.95m3.45-37.5h.95m-4.85 27.4h.95m-12.15-20.9h.95m-6.65 17.4h.95m4.75-5.2h.95m19.25 15.9h.95m-20.35-0.3h.95m-3.15-3.3h.95m19.85-10.1h.95m-18.25-2.7h.95m-2.05-19.4h.95m-.35 38.9h.95m10.35-22.7h.95m-18.55 11.2h.95m12.35 7.2h.95m4.05-13.4h.95m-18.05-5.9h.95m8.85 22.2h.95m14.85-13.4h.95m-4.25-11.5h.95m-.55-1.2h.95m-24.45 20.6h.95m5.25-19.7h.95m3.15 2.6h.95m-5.05-10.6h.95m5.35 11.3h.95m.05 4.3h.95m-14.95 10.7h.95m1.75-36.3h.95m17.85 12.9h.95m-13.85 24.3h.95m4.05-1.7h.95m1.85-21.1h.95m-8.35 7.6h.95m9.55-6.1h.95m-5.55 .8h.95m1.45 13.9h.95m-2.15 11.4h.95m.05-2.3h.95m-5.15-17.9h.95m-6.65 6.2h.95m-8.45-3.7h.95m9.65 19.6h.95m-4.15-41h.95m2.65 42.8h.95m9.15-20.7h.95m-17.75 .2h.95m18.55 1.3h.95m-7.15-25.2h.95m8.75 32.7h.95m-5.65-8h.95m-8.05 10h.95m8.15-5h.95m-3.45-24.4h.95m-18.55 28h.95m8.75 3.6h.95m5.85-21.5h.95m-6.45 5.7h.95m9.75-7.6h.95m-7.25 4.5h.95m-6.05 5.2h.95m6.25 16.9h.95m-17.15-32.8h.95m1.35 8.4h.95m-5.55-4.2h.95m5.35-0.7h.95m18.55 24.2h.95m-7.65-29.8h.95m-15.55 8.7h.95m12.15 20.9h.95m-4.75-32.5h.95m8.15 17.1h.95m-3.75 4.2h.95m-14.35-6.2h.95m13.05 1.4h.95m-2.95 19.7h.95m-2.45-3.6h.95m-5.65-32.6h.95m6.05 35.1h.95m-11.45 3.3h.95m5.75-0.7h.95m.95-14.9h.95m3.25 15.4h.95m-10.65-4.8h.95m-7.75-27.2h.95m-9.65 10.6h.95m4.85-2.3h.95m17.05 20.3h.95m-16.35 3.2h.95m.85-5.8h.95m12.75 5h.95m-6.25-28.2h.95m-19.45 28.2h.95m7.95-27.4h.95m-1.45 .2h.95m4.25 22.6h.95m6.75-11.5h.95m-9.25 8.6h.95m1.35-0.1h.95m7.55-22.3h.95m-19.85-10.8h.95m21.25 26h.95m-17.25 3.6h.95m4.15-11.9h.95m9.75-0.9h.95m-13.75 22.7h.95m-5.95-20.1h.95m1.45 23h.95m14.35-19.4h.95m-22.05 1.8h.95m2.75 10h.95m-3.05-5.5h.95m-6.05-8.7h.95m4.05-23.8h.95m3.35 25.5h.95m2.75-13.4h.95m5.95 22h.95m-23.85-2.8h.95m26.85 13.8h.95m-17.45-35.4h.95m3.75-0.4h.95m-3.85 12.2h.95m-5.55 19.7h.95m7.85-31.8h.95m-12.45 7.4h.95m18.65 7.3h.95m-1.85 7.3h.95m-18.65 5.6h.95m-1.85-23h.95m-1.85 26.1h.95m-2.65 7.2h.95m1.65-3.9h.95m3.75-32.1h.95m5.15 4.3h.95m-11.65-15.2h.95m22.65 39.9h.95m-13.55 4.7h.95m-15.95-10.1h.95m4.75 4.6h.95m10.25 2.1h.95m-18.55-3h.95m14.65-28.8h.95m7.45 26.4h.95m-12.55 10.7h.95m13.45-16.3h.95m-24.85-7.8h.95m16.05 12.3h.95m-1.15 11.7h.95m-6.15-2.5h.95m-3.15-31.8h.95m-.95 28.8h.95m1.45 7h.95m-9.25-47h.95m4.05 5.6h.95m12.75 9.4h.95m-24.65 9.6h.95m.95 20.6h.95m5.25-24.6h.95m-14.35 9h.95m27.45-3.4h.95m-17.35 4.7h.95m-1.85-14.6h.95m-7.25-9.2h.95m14.25 30.3h.95m-15.25-18.4h.95m-5.85 12.5h.95m21.15-9.3h.95m-7.45 13.6h.95m1.95-16.8h.95m.65 27.9h.95m-2.35-9.7h.95m5.95 4.4h.95m-16.55-40.8h.95m6.85 9.6h.95m-2.25 29.2h.95m-8.05-2.1h.95m15.55-1.9h.95m-9.35 7.8h.95m-1.65-34.5h.95m-8.85 12.8h.95m-3.55 21h.95m18.95-36.8h.95m-20.35 38h.95m11.35-40.6h.95m-10.55 34h.95m10.85-32h.95m-8.15 25.2h.95m14.55-6.6h.95m-16.45 18.1h.95m17.65-8.9h.95m-15.05-14.4h.95m-17.05 24.2h.95m9.65-18.3h.95m.25 22.1h.95m14.25-22.2h.95m-6.55-9.4h.95m-4.35 23.1h.95m-19.85-16.8h.95m15.95 9.6h.95m9.45-9.1h.95m-13.75-7.6h.95m-8.65-14h.95m.55 2.1h.95m-3.55 5.7h.95m-1.95 31.2h.95m12.85-19h.95m11.25 16.6h.95m-14.85-21.4h.95m10.45 20.3h.95m-14.25-3.1h.95m-7.65-14.9h.95m9.35-1.8h.95m-17.85 4.1h.95m10.65 13.9h.95m-6.55-17.3h.95m-5.75-8.9h.95m-.05 25.4h.95m20.25-3h.95m-23.25 9.2h.95m.65-2.4h.95m18.95-1.7h.95m4.65-4h.95m-23.75-28.4h.95m19.75 20.6h.95m-14.75 15.2h.95m-13.15-1.4h.95m-1.15-16h.95m25.05-4.2h.95m-22.05 17.8h.95m14.75 0h.95m-11.85 5h.95m.75-32.5h.95m-16.95 27.8h.95m7.15-24.3h.95m10.45 27.2h.95m-15.25-15.9h.95m-2.55-4.7h.95m7.05-0.2h.95m-4.55 25.3h.95m6.55-20.8h.95m8.55 21.9h.95m2.65-13.9h.95m-20.55-5.1h.95m-.15 17.2h.95m9.65-36h.95m10.75 34.2h.95m-21.75-6.6h.95m-.15-24h.95m11.65 15.8h.95m7.45 6.5h.95m-15.75-13.7h.95m8.45 12.3h.95m.05 5.5h.95m-16.75 7.7h.95m1.35-35.5h.95m9.65 18.8h.95m-22.25-7.8h.95m-3.65 4.4h.95m23.25-14.8h.95m-17.55 17.1h.95m-3.45-21.9h.95m17.35 17h.95m-17.05 18.4h.95m-.85-18.4h.95m6.95-10.2h.95m9.85 7.4h.95m-25.45 4h.95m20.65 13.1h.95m-3.15 8.1h.95m-10.25-36.1h.95m12.85-0.7h.95m-16.25 4.8h.95m13.35 15.9h.95m-18.65-24.8h.95m19.25 33.1h.95m-13.05 8.4h.95m6.75-35.5h.95m-8.85 21.9h.95m-4.55 5.6h.95m15.15-7.8h.95m-4.15-17.4h.95m-16.55 30.7h.95m6.65-22.7h.95m.95-10.4h.95m10.15 28.1h.95m-23.85-11.6h.95m10.25 14.1h.95m-9.25-32.1h.95m-5.15 17.5h.95m21.75 17.3h.95m-18.45-15.6h.95m.45 1.7h.95m16.15 3.2h.95m-14.65 13.5h.95m-10.75-4.1h.95m21.85-1.2h.95m-7.65 .3h.95m-9.75-10.5h.95m-10.35-10.4h.95m11.95 10.8h.95m.85 17.9h.95m-5.95-15.9h.95m8.45-14.8h.95m3.35-7.6h.95m-.75-0.7h.95m-15.85 1.7h.95m-6.55 22h.95m18.05-12.7h.95m-22.05-13.2h.95m13.55 7.6h.95m-8.85-6h.95m-1.15 3.6h.95m-4.25 19.9h.95m5.95-11.3h.95m-9.15-3.9h.95m4.55 18.5h.95m-.25-26.1h.95m-.45 13h.95m-6.45-3.8h.95m11.25-0.9h.95m-4.15 19h.95m-10.05 .3h.95m3.55-27.7h.95m14.45 33.2h.95m3.25-16.2h.95m-13.85-6.8h.95m-15.75 8.8h.95m12.85-18.3h.95m-17.65 14h.95m15.45-3.7h.95m.65-6.6h.95m5.45 19.7h.95m-27.85 6.5h.95m13.15-24.6h.95m-2.45 11.6h.95m10.35-13.5h.95m2.05 16.1h.95m3.65-5.5h.95m-7.25-7.4h.95m-18.25-5h.95m-4.15 14.9h.95m2.55-19.1h.95m5.25 23.9h.95m-.25 12.5h.95m-1.85-21.7h.95m-3.45-11.6h.95m-2.95 19.4h.95m22.95 9.6h.95m-17.05-31.5h.95m3.55 32.1h.95m-15.25-28.9h.95m14.95 8.5h.95m-19.55-3.1h.95m-2.25 1.6h.95m3.45-13.6h.95m20.85 23.8h.95m-4.45 15.7h.95m2.15-21h.95m-7.15-6.6h.95m-17.45-5.3h.95m7.95 27.2h.95m12.05-24.3h.95m-5.05 18.8h.95m-4.65 13.3h.95m5.15-26.5h.95m1.35-2.4h.95m-11.15 10h.95m-9.15-2.3h.95m-1.05-25h.95m-2.25 5.8h.95m2.35 23.8h.95m-4.55-14.2h.95m-1.35-6.2h.95m16.35 11.9h.95m-13.85-4h.95m-3.05 6.6h.95m3.25 10h.95m10.25-13.8h.95m-16.85 4.5h.95m10.45 13.4h.95m-21.15 1.8h.95m4.25-4.6h.95m7.55-26.4h.95m15.35 34.7h.95m-22.65 1h.95m-.85-35.1h.95m17.05 22.5h.95m-5.25-20.7h.95m-2.35 22.6h.95m.95-24.5h.95m-17.45-0.2h.95m-.45 21.7h.95m-4.95-7.3h.95m23.65 9.9h.95m-6.95 1.7h.95m-10.55-31.9h.95m12.55 12.1h.95m-15.95 16.8h.95m15.55-9.1h.95m-22.95-9.5h.95m15.95 .1h.95m-15.35 13.3h.95m-6.25-5.1h.95m27.85 21.8h.95m-19.45-24.9h.95m-6.85-11.3h.95m20.15 7.3h.95m-27.85 24.8h.95m9.55-25.7h.95m2.55 33.3h.95m9.15-36.7h.95m-18.95 27h.95m-3.75 5.6h.95m20.05-3.2h.95m-11.65-7.1h.95m12.05 7.6h.95m-4.95-25.4h.95m-16.25-11h.95m-3.35 43.6h.95m.95-24.1h.95m-.15-18.1h.95m3.55 21.9h.95m-2.85 5.9h.95m1.25-16.2h.95m2.35 6.1h.95m2.95 7.4h.95m5.95 .9h.95m-11.35 10.9h.95m-14.35-10h.95m5.55-18.5h.95m2.65 4.9h.95m-.55-7.8h.95m-2.45 18.1h.95m-5.05 2.9h.95m18.45 15.3h.95m-12.15-5h.95m-9.85-26.8h.95m17.05 6.1h.95m-12.75 16.6h.95m-15.25-6.1h.95m11.05 3.2h.95m.25 11.5h.95m10.85-15.8h.95m-16.05-3.1h.95m1.25 14h.95m-10.65-6h.95m8.95 6.7h.95m-8.35 4.7h.95m9.25-5.5h.95m-6.25-28.4h.95m-1.55 6.5h.95m-5.15 28h.95m24.25-14.7h.95m-17.75 5.5h.95m-6.35-0.7h.95m7.85 6h.95m9.65-34h.95m-9.05-3h.95m3.05 4.6h.95m-10.15 14.8h.95m-5.55 5h.95m11.55 16.4h.95m-9.05-32.9h.95m1.25 4.5h.95m6.05 0h.95m-14.05 26h.95m24.05-10.2h.95m-7.85-23.1h.95m-9.15 7.1h.95m-8.05-14.3h.95m-.35 41.9h.95m6.95-20.4h.95m6.15 16.4h.95m-24.25-20.2h.95m12.95-7.3h.95m7.75 21.9h.95m-16.85-18.9h.95m-8.75 5.2h.95m-3.85 17.7h.95m2.95-9.6h.95m3.05-23.4h.95m-9.55 28.2h.95m4.25-17.5h.95m-4.95 10h.95m18.45-18.6h.95m-15.15 5h.95m19.25 18.2h.95m-23.35-7h.95m20.35-11.5h.95m-6.35 9.5h.95m-9.35 4.3h.95m11.35 12.8h.95m-20.45-2.2h.95m26.75-2h.95m-24.15-17.8h.95m-8.55 22h.95m9.65-26.1h.95m9.25-7.1h.95m-12.15-4h.95m-5.55 20h.95m4.75-20.7h.95m-8.15 33.6h.95m22.55-22.5h.95m-21.55 7.9h.95m-4.05 8.4h.95m14.85-25.1h.95m4.55 28.8h.95m-14.25 4.6h.95m-6.75-30.8h.95m16.25 5.1h.95m3.45 2.9h.95m-6.45 20.8h.95m-17.35-23.7h.95m9.35 10.7h.95m-14.15 19.6h.95m2.05-13.5h.95m2.35-15.1h.95m-1.15-1.6h.95m-.25-2.2h.95m11.95 11.8h.95m-6.05-14.5h.95m-16.25 16.2h.95m11.95-12.4h.95m-1.25 17.9h.95m8.45-2.1h.95m-.35-8.5h.95m-22.75 2.9h.95m25.75 .6h.95m-12.55-12.2h.95m-9.15 14.1h.95m3.75-2.3h.95m11.25-6.9h.95m-25.35 1h.95m24.85-0.3h.95m-20.95-13.8h.95m3.05 4.7h.95m6.15 25.2h.95m-4.95-3.1h.95m-2.95-0.3h.95m-7.95-19.2h.95m-4.75 8.9h.95m21.05-13.1h.95m-9.15 25.9h.95m-5.45 16h.95m-.95-26.3h.95m1.95-12h.95m-4.75 11h.95m-8.45-10h.95m-2.65 4.3h.95m.55 8.2h.95m13.45-1.5h.95m-10.05 1.3h.95m11.75-11h.95m-14.15 34.6h.95m-3.45-13.5h.95m4.35-4.7h.95m6.55-3.4h.95m-8.85-6.3h.95m-8.45 3.4h.95m24.35 14.9h.95m-10.15-19.1h.95m-4.85-7.1h.95m-10.65-0.5h.95m19.15 19.2h.95m-22.55 16.3h.95m13.45-11.5h.95m4.15-18.5h.95m-3.65 12.9h.95m-8.25-14.6h.95m9.75 28.4h.95m4.85-15.9h.95m8.95 8.2h.95m-8.15 2.2h.95m-24.55 .8h.95m2.75-4.9h.95m-5.25-9.6h.95m20.85-3.7h.95m-3.55 24.9h.95m-26.25-4.4h.95m4.55-21.6h.95m-3.15 26.1h.95m4.55-9.8h.95m-2.95-24.4h.95m6.85 11.4h.95m-8.05 10.6h.95m-6.65-4.1h.95m12.45 19.8h.95m5.65-18.2h.95m3.25 9.1h.95m.95 3h.95m-12.95-7.8h.95m-9.85 2.1h.95m-9.75 .9h.95m22.85 10.3h.95m-13.85-41.3h.95m18.45 31h.95m-2.65-10h.95m-26.25 9.7h.95m25.55-6.1h.95m-13.65-2.2h.95m5.15 3.8h.95m-21.65-5.8h.95m16.55 13.2h.95m6.25 2.7h.95m-18.55-5.6h.95m.55-7.6h.95m-6.25 17.1h.95m15.85-36.2h.95m4.55 26.6h.95m-11.45 4.2h.95m-5.05-16.1h.95m-.85 23.7h.95m11.55-31.2h.95m-18.15 8.3h.95m1.15-17.2h.95m11.55 11.4h.95m-17.55 23.3h.95m13.55-33.2h.95m-16.05 32.1h.95m16.55-6.1h.95m-19.45-30.3h.95m9.05 2.3h.95m1.15 36.4h.95m-11.35-0.8h.95m11.75-20.4h.95m-3.05-10.4h.95m-15.65 21.1h.95m-2.65-17.2h.95m17.05 9h.95m-7.55 9h.95m3.15-27.3h.95m2.15 5.9h.95m8.75 26.3h.95m-4.95-26.2h.95m-19.75 19.4h.95m14.95 8.4h.95m-12.75-13.8h.95m-8.25 4.8h.95m-.85 6.9h.95m12.25 4.8h.95m-3.35-0.2h.95m-5.25-38.2h.95m7.65 39h.95m10.15-20.3h.95m-25.45 22.7h.95m-4.35-23.1h.95m24.75 11.4h.95m-7.55 11.7h.95m-12.35-33.8h.95m16.45 28.5h.95m.25-10.4h.95m-20.25 5h.95m-7.65 1.6h.95m4.25-25h.95m19.35 22h.95m-14.85-19.7h.95m3.85 25.8h.95m-7.45-19.9h.95m-1.65-5h.95m6.85-3.4h.95m-2.35 36.2h.95m-2.15-28.3h.95m-15.35 2.4h.95m2.85 9.4h.95m10.35 6.1h.95m7.55-0.5h.95m2.35-13.1h.95m-21.15-0.9h.95m-10.85 14.3h.95m20.55-27.2h.95m-16.15-7.4h.95m9.25 35.7h.95m12.15-11h.95m-6.05-0.7h.95m-13.45 16.1h.95m-12.55-14.3h.95m8.15-6.5h.95m-1.95 24.5h.95m20.25-15.4h.95m-20.45-7.6h.95m19.35 8.2h.95m-20.45 6.9h.95m-4.95-35.7h.95m13.15 37.7h.95m1.45-34.1h.95m-3.05 17.6h.95m1.35-3.4h.95m-10.75-13.9h.95m11.95 31.8h.95m-1.55 6.6h.95m5.65-12.4h.95m-6.85-13.2h.95m-7.05 28.5h.95m8.45-6.7h.95m-10.05-21.8h.95m4.05 12.3h.95m1.05-9.4h.95m-11.85 11.8h.95m5.25-23.7h.95m-18.55 28.6h.95m20.25-12.9h.95m-15.55-15.8h.95m5.75-4.6h.95m-9.75 41.6h.95m10.45-8.9h.95m-8.35 .5h.95m4.75-17.6h.95m.05-12.1h.95m1.55-2.6h.95m-15.65 16.8h.95m-2.25 11.5h.95m-1.65-1.3h.95m-5.75 6.6h.95m4.15-2.8h.95m17.95-0.4h.95m-15.55-33.6h.95m11.05 32.3h.95m-14.05 7.3h.95m-8.35-7.3h.95m12.65-18.5h.95m3.95-4.1h.95m-5.95 12.9h.95m11.65-10.5h.95m-6.45-5h.95m-4.65 8.8h.95m-9.55-14.7h.95m7.25 .4h.95m7.25 40h.95m-12.85-32.8h.95m-8.25 31.2h.95m9.65-26.8h.95m6.05 18.3h.95m-4.85 8.6h.95m-5.75-26.3h.95m-8.35 24.3h.95m7.25-28.7h.95m-13.35 1.7h.95m6.05-11.7h.95m17.85 28h.95m-7.95-18.7h.95m-18.15 25.4h.95m-.35-22.6h.95m13.05 9.2h.95m-4.55-18h.95m9.35 19.4h.95" stroke="#F8766D" stroke-width="0.95"/>
<path d="M480.4 212.7h.95m2.15-5.3h.95m-5.55 5.1h.95m-5.45 6.2h.95m8.05-11.3h.95m-4.75 4.1h.95m-2.35 5.7h.95m2.45-6.3h.95m-.75-0.2h.95m-1.95 7.1h.95m-.15-8.4h.95m-4.05 6.2h.95m2.55-6h.95m-4.15 6.5h.95m.45 .8h.95m-1.75-0.2h.95m.85-3.9h.95m-4.05 2.8h.95m.95-1.9h.95m-.95 7.4h.95m.75-8.1h.95m-2.65 .3h.95m2.25-6.1h.95m-7.45 6.8h.95m1.45-3h.95m-.65 .7h.95m2.45 5.7h.95m-5.35 1.6h.95m.15-8.1h.95m1.25 8.5h.95m-1.35-6.9h.95m-3.35 .4h.95m-3.25-1h.95m4.65-2.7h.95m-1.35 5.6h.95m-2.05 1.8h.95m-.45-2h.95m-1.05-0.3h.95m-4.35 1.5h.95m-.65-0.2h.95m-1.95 2.9h.95m2.95-6.4h.95m-6.45 4.6h.95m5.35 4.1h.95m-2.95-2.3h.95m.25-1.8h.95m-5.75 2h.95m-1.35-3.4h.95m3.85 5.3h.95m1.75-9.9h.95m-.95 3.4h.95m-8.35 2.4h.95m2.55-4.6h.95m.55 2.6h.95m1.25-1.9h.95m-2.15 6.4h.95m-3.45-7.7h.95m-.75 8.6h.95m2.35-11.5h.95m-8.45 9.8h.95m4.55-4.1h.95m1.55-3.7h.95m-1.85 2.7h.95m-.45-1.7h.95m-8.85 4.6h.95m4.15 2.3h.95m-5.95-3.1h.95m-.35 .1h.95m4.35-2.2h.95m-4.05 4.4h.95m2.25-7.7h.95m-5.85 5.8h.95m5.05 .7h.95m.55-4.1h.95m-4.35 2.3h.95m-1.85-4.1h.95m1.35 3.5h.95m-3.55 3.2h.95m-.85 3.7h.95m-3.55-2.3h.95m3.35-2.2h.95m2.45-8.9h.95m-7.75 5.1h.95m-.45-0.6h.95m3.45 3h.95m-.95-7.2h.95m-6.55 9.5h.95m.65-0.4h.95m-2.15-4h.95m-.35 4.9h.95m-2.05 .2h.95m3.05 2.7h.95m-2.65-2.7h.95m-.15-2.2h.95m1.45 2.4h.95m.85-10.3h.95m-8.75 10.3h.95m3.25-7.6h.95m1.95 2.1h.95m-1.95-2.4h.95m-.05-1.6h.95m-9.35 9.5h.95m3.95-6.8h.95m-2.95 5.4h.95m3.95-1.4h.95m-6.05 .4h.95m2.05-4.9h.95m-.85 2.2h.95m-5.05 5.2h.95m2.45 .5h.95m1.45-2.8h.95m-2.45-0.3h.95m-6.55 1.9h.95m4.25-4h.95m-1.15-2.4h.95m-.35 3.7h.95m-.75-1.2h.95m-5.15 1.8h.95m4.55-1.9h.95m-1.65 3.6h.95m-4.35-4.7h.95m.45-1.4h.95m-1.35 9.5h.95m2.95-8.3h.95m-3.35 3.5h.95m-1.25 1.6h.95m.45-8.2h.95m-6.65 6.4h.95m4.15 2.6h.95m-3.45-3.6h.95m.85-4.4h.95m-3.05 2.5h.95m3.45 .4h.95m-.85-2.7h.95m-.95-2.2h.95m-4.15 12.5h.95m-2.35-5.4h.95m1.45-4.6h.95m-1.25 3h.95m-.35 3.6h.95m-2.75-0.5h.95m-.15 3.7h.95m-.15-9.7h.95m-5.65 7.5h.95m.05-1.4h.95m4.75-1.6h.95m-6.05 .9h.95m1.85 2.5h.95m.05-5.2h.95m-1.85 1.5h.95m-4.95 1.8h.95m1.25-0.5h.95m-4.25-0.2h.95m1.35-4h.95m2.35 4.7h.95m-1.95 .4h.95m-6.15-0.9h.95m5.65-3.9h.95m-1.65 4.2h.95m-2.95 2.6h.95m1.05 .5h.95m.05-4.2h.95m-7.25-0.3h.95m4.35-3.5h.95m-5.95 4.7h.95m2.15 3.1h.95m-.75-1.3h.95m2.05-8.8h.95m-3.35 3.6h.95m-.75-0.6h.95m1.05-2.8h.95m-1.45-0.6h.95m-.75 .7h.95m-.55-0.8h.95m-4.35 6.3h.95m3.45-7.7h.95m-2.75 3.8h.95m-1.15 5.5h.95m-.45-5.9h.95m.55-3.9h.95m-3.45 13h.95m-5.15-4.3h.95m4.15-6.2h.95m-1.75 3.5h.95m-.05 .9h.95m.75-1.4h.95m-.85-0.1h.95m-7.65 4.6h.95m2.05-5.2h.95m-5.95 5.4h.95m5.05 3.3h.95m-.35-10.6h.95m-3.35 8.6h.95m-3.15-3.8h.95m3.55-4.2h.95m-1.65 3.5h.95m.65-4h.95m-7.45 6.4h.95m1.05-1.7h.95m1.95-1.5h.95m-1.55-1h.95m-.05 1.5h.95m-.75 2.1h.95m.65-7.4h.95m-4.75 5.8h.95m2.65-3.7h.95m-3.95 4.4h.95m.55 3.2h.95m-4.15-0.7h.95m3.35-2h.95m-.25-6.9h.95m-9.35 9h.95m6.45-9.1h.95" stroke="#C77CFF" stroke-width="0.95"/>
<path d="M456.6 253.9h.95m-6.55-1.3h.95m-9.95-15.5h.95m-3.25 13.3h.95m-4.35-5.5h.95m-1.85-1h.95m18.45 5.4h.95m-20.55-6.5h.95m6.25 1.5h.95m-3.95 4.3h.95m15.55-6.8h.95m-16.65 .1h.95m-6.35 5.1h.95m-.75-11h.95m-.75 10.6h.95m-.95-9.5h.95m-2.35 6.9h.95m4.65 2.2h.95m.75-9.4h.95m-6.65-1.5h.95m-.65 2h.95m1.45 4.5h.95m17.05 .7h.95m-20.95 .8h.95m4.05 5.8h.95m32.35-10.5h.95m-38.95 8.4h.95m4.35-7.2h.95m-7.65 .3h.95m4.45 4.3h.95m.85 1.5h.95m-1.65 3.8h.95m.15-4.8h.95m-2.95-3.7h.95m-4.25 5.5h.95m-2.75-2.1h.95m3.95-3.8h.95m.85 3.6h.95m-4.45 3.9h.95m1.45-11.8h.95m-3.25 3.7h.95m-4.85-1.3h.95m3.65 6.4h.95m-5.65-9.2h.95m4.65 14.4h.95m-.45-2.8h.95m-.15-4.9h.95m-6.55-2.4h.95m-1.45-3.5h.95m.35 2.8h.95m-.45-2.3h.95m-.05 5h.95m-1.65 7.1h.95m-3.95-6.9h.95m21.05-8.3h.95m6.25 9.8h.95m.45 2h.95m-24.65-5h.95m-7.65-5h.95m26.35 4.3h.95m-26.15 4.5h.95m4.15-5.8h.95m-6.85 1h.95m5.25 7.7h.95m-5.45-3.6h.95m2.95-5.1h.95m-4.35-2h.95m2.45 11.2h.95m-5.05 .1h.95m-2.75-8h.95m2.15 .7h.95m3.65 7.1h.95m5.85-10.2h.95m22.15-9.7h.95m-37.35 6.9h.95m26.25 14.7h.95m-29.55-14.7h.95m28.45-2.1h.95m-16.65 15.9h.95m22.45-27.2h.95m-9.55 15.6h.95m-25.15 6.3h.95m9.65-8.3h.95m-13.65 7.4h.95m-.85-3.4h.95m4.05 10.5h.95m-10.25-13.3h.95m-.25 .1h.95m5.65 7.1h.95m-2.55-4.9h.95m-3.25 7.8h.95m2.55-10.1h.95m-5.75-0.6h.95m-2.95 1h.95m4.05 8.3h.95m-.05-0.3h.95m-4.05-2h.95m38.75-11.4h.95m-41.35 10h.95m-1.75 3.4h.95m29.75-5.8h.95m-28.05 5h.95m11.75-2.8h.95m-17.95 5.2h.95m-.35-8.5h.95m4.95 .1h.95m1.35 3.6h.95m-3.25-5.2h.95m-5.85 8.3h.95m4.55 1.4h.95m-3.15-1.3h.95m1.15-3.5h.95m-.85 5.4h.95m-2.55-3h.95m-.75-2.7h.95m.95 .9h.95m-5.45 2h.95m37.15-20h.95m-36.35 15.4h.95m14.55 12.7h.95m-13.05-11.5h.95m-3.55-0.4h.95m-5.75-4.1h.95m5.75 10.1h.95m-.35-14.1h.95m-6.65 8.9h.95m10.45 4.4h.95m7.75-10.8h.95" stroke="#FF61CC" stroke-width="0.95"/>
<path d="M433.8 229.2h.95m-1.45 3h.95m-.25-2.6h.95m1.65 6.9h.95m-2.55-1.6h.95m-4.75 0h.95m-2.05-5.8h.95m3.15 0h.95m-1.25 1.7h.95m-4.65-0.6h.95m1.15 3.3h.95m1.65 3.1h.95m-5.25-3.2h.95m-.25 2.9h.95m-6.05-4h.95m4.55 .6h.95m3.85 .6h.95m-8.15 4.1h.95m-4.65-3.4h.95m8.35-5.6h.95m-5.75 3.4h.95m3.35-0.9h.95m-9.35 2.8h.95m-2.15-0.2h.95m2.35 1.9h.95m7.15-6.4h.95m-6.25 7.9h.95m.85 .8h.95m-2.55-7.9h.95m5.45 3.8h.95m-5.45-1.1h.95m-2.25-0.7h.95m-7.55 1.6h.95m4.25-4.1h.95m-2.05 0h.95m-.35 5.1h.95m2.05-3.5h.95m-5.65 4.6h.95m4.35-3.2h.95m-7.85 .3h.95m7.65-1.1h.95m-10.35 3.2h.95m1.35-3.1h.95m7.45 4.3h.95m-4.35-5.5h.95m-2.35 1.6h.95m-1.85-0.8h.95m2.35-0.9h.95m-6.95-0.3h.95m6.65-1h.95m-.15 7.3h.95m-4.75 1.9h.95m2.75-2.3h.95m-7.65-4.9h.95m6.55 2.4h.95m-3.85-4.4h.95m1.35 3.4h.95m-4.35 4.2h.95m.85-6.6h.95m1.15 5h.95m-8.75 .4h.95m2.65-0.5h.95m-4.65-5.5h.95m5.75 9.1h.95m.95-0.7h.95m-1.75-0.1h.95m-4.55-3.3h.95m-2.75 1.6h.95m1.75 0h.95m-3.35-2.7h.95" stroke="#7CAE00" stroke-width="0.95"/>
<path d="M451.1 251h.95m9.15-0.1h.95m-14.75 2h.95m-3.75 1.1h.95m10.15 1.2h.95m3.55 .7h.95m-2.65-4h.95m3.95-0.4h.95m-13.95 2.5h.95m3.55-5.4h.95m-.35 .4h.95m5.45 3.6h.95m-19.65-0.3h.95m5.35-3.5h.95m-6.35 6h.95m8.95 .1h.95m-2.05 .7h.95m1.05-5.2h.95m-4.45-2.1h.95m-7.65 7.4h.95m7.05-4.5h.95m1.05 2.8h.95m6.05-3.5h.95m-.35-1.5h.95m1.65-0.6h.95m-9.55 4.9h.95m2.95-1.7h.95m-13.35 1.4h.95m-2.05-1.2h.95m-4.75-0.7h.95m18.55-3h.95m-21.75 4.1h.95m4.45 2.8h.95m-.05-6.9h.95m6.05 1.5h.95m4.45 2h.95m4.05 2.3h.95m-19.85-1.1h.95m5.55-3.9h.95m-5.75 4.5h.95m-5.55-3h.95m20.35 3.8h.95m-22.55 .1h.95m6.35-3.7h.95m-6.15 4.5h.95m12.65-2h.95m-15.95-1.1h.95m8.45 1.4h.95m-4.35 1.4h.95m9.85-4.3h.95m-13.55 .7h.95m8.05-3.3h.95m-7.35 8.2h.95m3.15-0.1h.95m.55-5.3h.95m-6.45 4.2h.95m.75-4.5h.95m7.75 2h.95m-.75-2.7h.95m-12.25 .9h.95m8.25 5h.95m1.25-3.5h.95m3.25 .6h.95m-13.25-2.7h.95m-12.25 5.9h.95m22.25-7.7h.95m-7.85 7.8h.95m-2.15-3.4h.95m3.35 1h.95m1.65-2.7h.95m-19.25 3.5h.95m2.25-0.9h.95m-7.65-0.5h.95m17.55-3.3h.95m-14.55 3.6h.95m.15-3.8h.95m1.75 5.8h.95m-6.15-0.2h.95m6.55-6.6h.95m-9.75 3.7h.95m7.95 4.1h.95m-11.45-2.1h.95m8.85-4.3h.95m6.05 3.7h.95m-3.95 2.5h.95m6.15-7.8h.95m-13.25 4.1h.95m.35 1.1h.95m-2.25-3h.95m6.55 .4h.95m-5.75 0h.95m10.45 .5h.95m-10.55-2.6h.95m-5.05 4.4h.95m7.35 .3h.95m-19.55 .7h.95m9.85-1.3h.95m-10.85 1.5h.95m4.95 .3h.95m4.25-5h.95m4.85 2.8h.95m-16.15 .5h.95m17.75 2.8h.95m-1.25-2h.95m-11.35 1h.95m-4.45-0.7h.95m-5.75-5.3h.95m1.75 5.1h.95m17.15-2.9h.95m-8.95-1.7h.95m4.95 4h.95m-2.55 .7h.95m-16.45-4.2h.95m13.35-2.2h.95m2.85 2.7h.95m1.75-2.6h.95m-16.25 7.9h.95m12.15-9h.95m-4.25 9.1h.95m-9.75-4.9h.95m7.45-0.4h.95m-6.35-2.2h.95m2.25 7.1h.95m2.15-7.1h.95m-8.75 7.1h.95m12.95-5h.95m-17.75-0.7h.95m9.55 5.7h.95m-4.25-5.5h.95m-8.25 5.5h.95m-.55-1.1h.95m12.35-0.4h.95m-1.75-7.8h.95" stroke="#F8766D" stroke-width="0.95"/>
<path d="M443.7 243.7h.95m20.25-2.1h.95m-11.05-2.5h.95m1.15-5.3h.95m9.05 4.4h.95m-14.95 1.7h.95m6.75 4.2h.95m-13.65-5.8h.95m9.95-0.6h.95m3.75 3.3h.95m.55-3.7h.95m-5.35-2.3h.95m-18.05-0.7h.95m4.75 1h.95m-8.05 2.1h.95m1.35-1.6h.95m18.05-2.4h.95m.05 .2h.95m-5.15 6.1h.95m-19.75 2.1h.95m14.65-0.6h.95m-12.45 1.8h.95m19.95-1.6h.95m-2.85 .6h.95m-14.25 .6h.95m12.15-2.1h.95m-11.45-1.7h.95m5.95 1.3h.95m-1.75-4.1h.95m-5.85 2.2h.95" stroke="#00A9FF" stroke-width="0.95"/>
<path d="M443 244.6h.95m23.35 6.8h.95m-11.05-2.1h.95m-3.45 1.3h.95m-.35-0.3h.95m-5.15-2.2h.95m-7.65 .6h.95m1.75-0.4h.95m3.25 1.3h.95m4.65-2.1h.95m7.65 4.7h.95m-9.25-1.5h.95m-.65-4.2h.95m-5.15 4.1h.95m-2.55-2.7h.95m4.45 3.2h.95m2.65-3.2h.95m-9.85 3.7h.95m1.35-2h.95m-3.65-2.8h.95m-9.55-1.5h.95m19.05 .7h.95m-14.85 4.2h.95m5.95-4.3h.95m5.45 4.8h.95m-4.45 1.5h.95m-16.15-3.3h.95m20.65-4.4h.95m-19.05 3.9h.95m4.35 4.4h.95m-11.05-5.3h.95m19.45-3.2h.95m-7.05 4h.95m8.05 1.8h.95m-2.35 .2h.95m-17.05-3.8h.95m17.55 .4h.95m-22.25 3.6h.95m9.65 2.2h.95m7.85-7.4h.95m-2.65 3.6h.95m-3.25-2h.95m-3.65 2.8h.95m3.45 .2h.95m-19.05 3.1h.95m7.35-7.1h.95m-3.65 2h.95m13.35 .9h.95m-20.95-2.5h.95m-2.05 2.9h.95m7.55-0.1h.95m.75 .5h.95m-2.95 2.4h.95m.75-4h.95m1.95-2.2h.95m-.35 4.5h.95m-3.35 .9h.95" stroke="#00A9FF" stroke-width="0.95"/>
<line x1="403.6" y1="197" x2="403.6" y2="301.9" stroke="#000" stroke-width="1.1"/>
<line x1="403.1" y1="301.4" x2="491" y2="301.4" stroke="#000" stroke-width="1.1"/>
<line x1="400" y1="202.1" x2="403.6" y2="202.1" stroke="#000" stroke-width="0.9"/>
<text x="397.2" y="204.7" font-size="7.92" text-anchor="end" fill="#1a1a1a" color="#1a1a1a" textLength="10.29" lengthAdjust="spacingAndGlyphs">5.0</text>
<line x1="400" y1="227.3" x2="403.6" y2="227.3" stroke="#000" stroke-width="0.9"/>
<text x="397.2" y="229.9" font-size="7.92" text-anchor="end" fill="#1a1a1a" color="#1a1a1a" textLength="10.29" lengthAdjust="spacingAndGlyphs">2.5</text>
<line x1="400" y1="252.5" x2="403.6" y2="252.5" stroke="#000" stroke-width="0.9"/>
<text x="397.2" y="255.1" font-size="7.92" text-anchor="end" fill="#1a1a1a" color="#1a1a1a" textLength="10.29" lengthAdjust="spacingAndGlyphs">0.0</text>
<line x1="400" y1="277.7" x2="403.6" y2="277.7" stroke="#000" stroke-width="0.9"/>
<text x="397.2" y="280.3" font-size="7.92" text-anchor="end" fill="#1a1a1a" color="#1a1a1a" textLength="14.61" lengthAdjust="spacingAndGlyphs">−2.5</text>
<line x1="426.7" y1="301.4" x2="426.7" y2="304.4" stroke="#000" stroke-width="0.9"/>
<text x="426.7" y="314.4" font-size="8.56" text-anchor="middle" fill="#1a1a1a" color="#1a1a1a" textLength="9.12" lengthAdjust="spacingAndGlyphs">−4</text>
<line x1="448.3" y1="301.4" x2="448.3" y2="304.4" stroke="#000" stroke-width="0.9"/>
<text x="448.3" y="314.4" font-size="8.56" text-anchor="middle" fill="#1a1a1a" color="#1a1a1a" textLength="4.45" lengthAdjust="spacingAndGlyphs">0</text>
<line x1="469.9" y1="301.4" x2="469.9" y2="304.4" stroke="#000" stroke-width="0.9"/>
<text x="469.9" y="314.4" font-size="8.56" text-anchor="middle" fill="#1a1a1a" color="#1a1a1a" textLength="4.45" lengthAdjust="spacingAndGlyphs">4</text>
<text x="447.1" y="327.4" font-size="9.63" text-anchor="middle" fill="#1a1a1a" color="#1a1a1a" textLength="28.8" lengthAdjust="spacingAndGlyphs">UMAP_1</text>
<text x="380.6" y="249.4" font-size="9.63" text-anchor="middle" fill="#1a1a1a" color="#1a1a1a" textLength="29.2" lengthAdjust="spacingAndGlyphs" transform="rotate(-90 380.6 249.4)">UMAP_2</text>
<circle cx="503.8" cy="223.8" r="2.1" fill="#F8766D"/>
<text x="509.2" y="226.4" font-size="7.7" fill="#1a1a1a" color="#1a1a1a" textLength="4" lengthAdjust="spacingAndGlyphs">0</text>
<circle cx="503.8" cy="231.66" r="2.1" fill="#CD9600"/>
<text x="509.2" y="234.26" font-size="7.7" fill="#1a1a1a" color="#1a1a1a" textLength="4" lengthAdjust="spacingAndGlyphs">1</text>
<circle cx="503.8" cy="239.52" r="2.1" fill="#7CAE00"/>
<text x="509.2" y="242.12" font-size="7.7" fill="#1a1a1a" color="#1a1a1a" textLength="4" lengthAdjust="spacingAndGlyphs">2</text>
<circle cx="503.8" cy="247.38" r="2.1" fill="#00BE67"/>
<text x="509.2" y="249.98" font-size="7.7" fill="#1a1a1a" color="#1a1a1a" textLength="4" lengthAdjust="spacingAndGlyphs">3</text>
<circle cx="503.8" cy="255.24" r="2.1" fill="#00BFC4"/>
<text x="509.2" y="257.84" font-size="7.7" fill="#1a1a1a" color="#1a1a1a" textLength="4" lengthAdjust="spacingAndGlyphs">4</text>
<circle cx="503.8" cy="263.1" r="2.1" fill="#00A9FF"/>
<text x="509.2" y="265.7" font-size="7.7" fill="#1a1a1a" color="#1a1a1a" textLength="4" lengthAdjust="spacingAndGlyphs">5</text>
<circle cx="503.8" cy="270.96" r="2.1" fill="#C77CFF"/>
<text x="509.2" y="273.56" font-size="7.7" fill="#1a1a1a" color="#1a1a1a" textLength="4" lengthAdjust="spacingAndGlyphs">6</text>
<circle cx="503.8" cy="278.82" r="2.1" fill="#FF61CC"/>
<text x="509.2" y="281.42" font-size="7.7" fill="#1a1a1a" color="#1a1a1a" textLength="4" lengthAdjust="spacingAndGlyphs">7</text>
<text x="7.6" y="355.4" font-size="10.4" font-weight="bold" fill="#000" color="#000">E</text>
<ellipse cx="64.2" cy="359.1" rx="7.2" ry="1.7" fill="#1b5591" transform="rotate(41.61 64.2 359.1)"/>
<line x1="67.2" y1="361.9" x2="75.7" y2="369.4" stroke="#1b5591" stroke-width="1.2"/>
<line x1="60.8" y1="361.8" x2="65.97" y2="366.97" stroke="#1b5591" stroke-width="3.6"/>
<line x1="65.97" y1="366.97" x2="70.2" y2="371.2" stroke="#1b5591" stroke-width="1.8"/>
<line x1="65.97" y1="366.97" x2="70.2" y2="371.2" stroke="#fff" stroke-width="0.5"/>
<line x1="62.02" y1="366.22" x2="65.22" y2="363.02" stroke="#fff" stroke-width="0.6"/>
<line x1="57.9" y1="366.5" x2="63.68" y2="370.74" stroke="#1b5591" stroke-width="3.6"/>
<line x1="63.68" y1="370.74" x2="68.4" y2="374.2" stroke="#1b5591" stroke-width="1.8"/>
<line x1="63.68" y1="370.74" x2="68.4" y2="374.2" stroke="#fff" stroke-width="0.5"/>
<line x1="59.45" y1="370.41" x2="62.65" y2="367.21" stroke="#fff" stroke-width="0.6"/>
<circle cx="83.2" cy="381.4" r="16" fill="#89a6c6"/>
<circle cx="84.7" cy="382" r="13.8" fill="#1b5591"/>
<text x="84.7" y="381.1" font-size="4.2" text-anchor="middle" fill="#fff" color="#fff" style="stroke:none" fill-opacity="0.85">CD3<tspan font-size="2.6" dy="-1.6">+</tspan></text>
<text x="84.7" y="386" font-size="4.49" text-anchor="middle" fill="#fff" color="#fff" textLength="11.44" lengthAdjust="spacingAndGlyphs" style="stroke:none" fill-opacity="0.85">Donor</text>
<ellipse cx="141" cy="358.9" rx="7.2" ry="1.7" fill="#c8183c" transform="rotate(41.61 141 358.9)"/>
<line x1="144" y1="361.7" x2="152.5" y2="369.2" stroke="#c8183c" stroke-width="1.2"/>
<line x1="137.6" y1="361.6" x2="142.77" y2="366.77" stroke="#c8183c" stroke-width="3.6"/>
<line x1="142.77" y1="366.77" x2="147" y2="371" stroke="#c8183c" stroke-width="1.8"/>
<line x1="142.77" y1="366.77" x2="147" y2="371" stroke="#fff" stroke-width="0.5"/>
<line x1="138.82" y1="366.02" x2="142.02" y2="362.82" stroke="#fff" stroke-width="0.6"/>
<line x1="134.7" y1="366.3" x2="140.47" y2="370.54" stroke="#c8183c" stroke-width="3.6"/>
<line x1="140.47" y1="370.54" x2="145.2" y2="374" stroke="#c8183c" stroke-width="1.8"/>
<line x1="140.47" y1="370.54" x2="145.2" y2="374" stroke="#fff" stroke-width="0.5"/>
<line x1="136.25" y1="370.21" x2="139.45" y2="367.01" stroke="#fff" stroke-width="0.6"/>
<circle cx="160" cy="381.2" r="16" fill="#e4889a"/>
<circle cx="161.5" cy="381.8" r="13.8" fill="#c8183c"/>
<text x="161.5" y="380.9" font-size="4.2" text-anchor="middle" fill="#fff" color="#fff" style="stroke:none" fill-opacity="0.85">CD3<tspan font-size="2.6" dy="-1.6">+</tspan></text>
<text x="161.5" y="385.8" font-size="4.2" text-anchor="middle" fill="#fff" color="#fff" style="stroke:none" fill-opacity="0.85">DNMT3A<tspan font-size="2.6" dy="-1.6">R882H</tspan></text>
<ellipse cx="216.7" cy="358.9" rx="7.2" ry="1.7" fill="#5b2173" transform="rotate(41.61 216.7 358.9)"/>
<line x1="219.7" y1="361.7" x2="228.2" y2="369.2" stroke="#5b2173" stroke-width="1.2"/>
<line x1="213.3" y1="361.6" x2="218.47" y2="366.77" stroke="#5b2173" stroke-width="3.6"/>
<line x1="218.47" y1="366.77" x2="222.7" y2="371" stroke="#5b2173" stroke-width="1.8"/>
<line x1="218.47" y1="366.77" x2="222.7" y2="371" stroke="#fff" stroke-width="0.5"/>
<line x1="214.52" y1="366.02" x2="217.72" y2="362.82" stroke="#fff" stroke-width="0.6"/>
<line x1="210.4" y1="366.3" x2="216.17" y2="370.54" stroke="#5b2173" stroke-width="3.6"/>
<line x1="216.17" y1="370.54" x2="220.9" y2="374" stroke="#5b2173" stroke-width="1.8"/>
<line x1="216.17" y1="370.54" x2="220.9" y2="374" stroke="#fff" stroke-width="0.5"/>
<line x1="211.95" y1="370.21" x2="215.15" y2="367.01" stroke="#fff" stroke-width="0.6"/>
<circle cx="235.7" cy="381.2" r="16" fill="#a884b8"/>
<circle cx="237.2" cy="381.8" r="13.8" fill="#5b2173"/>
<text x="237.2" y="380.9" font-size="4.2" text-anchor="middle" fill="#fff" color="#fff" style="stroke:none" fill-opacity="0.85">CD3<tspan font-size="2.6" dy="-1.6">+</tspan></text>
<text x="237.2" y="385.8" font-size="4.2" text-anchor="middle" fill="#fff" color="#fff" style="stroke:none" fill-opacity="0.85">DNMT3A<tspan font-size="2.6" dy="-1.6">V716D</tspan></text>
<ellipse cx="293.1" cy="358.7" rx="7.2" ry="1.7" fill="#3cae4a" transform="rotate(41.61 293.1 358.7)"/>
<line x1="296.1" y1="361.5" x2="304.6" y2="369" stroke="#3cae4a" stroke-width="1.2"/>
<line x1="289.7" y1="361.4" x2="294.87" y2="366.57" stroke="#3cae4a" stroke-width="3.6"/>
<line x1="294.87" y1="366.57" x2="299.1" y2="370.8" stroke="#3cae4a" stroke-width="1.8"/>
<line x1="294.87" y1="366.57" x2="299.1" y2="370.8" stroke="#fff" stroke-width="0.5"/>
<line x1="290.92" y1="365.82" x2="294.12" y2="362.62" stroke="#fff" stroke-width="0.6"/>
<line x1="286.8" y1="366.1" x2="292.57" y2="370.34" stroke="#3cae4a" stroke-width="3.6"/>
<line x1="292.57" y1="370.34" x2="297.3" y2="373.8" stroke="#3cae4a" stroke-width="1.8"/>
<line x1="292.57" y1="370.34" x2="297.3" y2="373.8" stroke="#fff" stroke-width="0.5"/>
<line x1="288.35" y1="370.01" x2="291.55" y2="366.81" stroke="#fff" stroke-width="0.6"/>
<circle cx="312.1" cy="381" r="16" fill="#92d49a"/>
<circle cx="313.6" cy="381.6" r="13.8" fill="#3cae4a"/>
<text x="313.6" y="380.7" font-size="4.2" text-anchor="middle" fill="#fff" color="#fff" style="stroke:none" fill-opacity="0.85">CD3<tspan font-size="2.6" dy="-1.6">+</tspan></text>
<text x="313.6" y="385.6" font-size="4.2" text-anchor="middle" fill="#fff" color="#fff" style="stroke:none" fill-opacity="0.85">DNMT3A<tspan font-size="2.6" dy="-1.6">WT</tspan></text>
<path d="M89.9 409.4h1m-15.1 9.2h1m9.3 2.6h1m-2.6 1.9h1m-15.9 2.2h1m-.3-0.8h1m-.4 .1h1m6.1 1.8h1m1.4 .2h1m3.8 2.8h1m-14.1 2.2h1m6.4 .6h1m-19.2 6.9h1m-16.4 2.7h1m56 .9h1m8.5 1.5h1m-61.2 3h1m51.2 .1h1m-23.2 1.1h1m28.1 2.8h1m-10.2 1.2h1m3 3h1m-59.1 1.3h1m42.5 1.3h1m-9.3 .8h1m-25.3 3.3h1m40.1 1.7h1m-29.4 5.1h1m-18 2.4h1" stroke="#c6dbef" stroke-width="1"/>
<path d="M75.6 423h1m-5.7 1h1m-16.1 3.3h1m18.7 3.3h1m16.4 .6h1m-1 .9h1m-45.4 1.4h1m32.9 0h1m10.8 5.4h1m-12.1 2.1h1m-41.4 1h1m1.6-0.5h1m-.4 .2h1m49.9 .8h1m2 .6h1m-54.6 4.7h1m41.8 0h1m-19.9 .9h1m11.6 .5h1m22.2-0.1h1m-56.7 2.2h1m24.5 .9h1m16 0h1m6.6-0.3h1m-1.2 2.8h1m-19.8 1.7h1m25.5-0.8h1m-25.9 1.7h1m3.3 2h1m11.2-0.8h1m5.5 .1h1m-34.6 1.1h1m21.5 .8h1m7.9-0.6h1m-18.8 1.2h1m-14.7 1.2h1m32.8-0.1h1m-50.9 2.3h1m5.7 2h1m1-0.3h1m-8 1h1m-1 1.1h1m-.1-0.5h1m-9.6 3.9h1m7.6 4.4h1" stroke="#6baed6" stroke-width="1"/>
<path d="M108.7 408.1h1m-3.1 2.2h1m-2 2.5h1m.8 1.7h1m-.5 .6h1m-26.3 3.4h1m2.8 2.7h1m8.9 7.2h1m-11.5 9h1m-13 3.8h1" stroke="#1aa64a" stroke-width="1"/>
<path d="M74.5 402h1m1.1 .4h1m7.8 4.7h1m4.4 1.8h1m15.7 .3h1m-23.2 .9h1m1.4 1.6h1m-2.5 .8h1m4.7 .9h1m-22.5 .2h1m3.9 0h1m26.9 .3h1m2.3 0h1m-13.4 6.1h1m-12.4 3.4h1m-15.9 2h1m1.9 1.4h1m6.5 0h1m9 .6h1m5.6 .7h1m-46.8 1.1h1m37.1 .2h1m-20.7 1h1m3.4 1.1h1m10.1-0.2h1m-35.1 1.2h1m22-0.6h1m20.2 .9h1m-34.5 1.2h1m6.7 .5h1m-23 1.1h1m6.7 1.2h1m19.4 .1h1m3.6-0.1h1m-32.6 1.8h1m25.2 .5h1m-20 1.8h1m-.6-0.4h1m8.6 .8h1m21-0.3h1m8.4 .2h1m-46.8 1.4h1m10.5 .7h1m-17.2 .7h1m11.8-0.4h1m-13.2 1.4h1m24.1-0.5h1m10.7 .4h1m3.1-0.4h1m11.1 .3h1m-54.9 1.3h1m.5 .3h1m.1 .1h1m4.2-0.6h1m12.5 .9h1m-19.6 1.4h1m11.4-0.2h1m4.7 1.1h1m3.7-0.6h1m-17.4 2.8h1m.2-0.5h1m45.9 .1h1m-55.5 .8h1m-1-0.1h1m.1 1.3h1m46.7 4.2h1m-51.1 .6h1m0 .3h1m35.3-0.3h1m12.6 2.4h1m-28 1h1m.8 1.3h1m5.3-0.6h1m17.5 .5h1m-26.8 1.8h1m4.6-0.3h1m-3.1 1.3h1m-16.3 3.3h1m-6 1.5h1m-5.2 2.1h1m3.7 .1h1m4 1.2h1m3.1 .5h1m-8.5 1.1h1m5.3 .3h1m-2.4 2.1h1" stroke="#0000ff" stroke-width="1"/>
<path d="M73 405.9h1m10.4-0.2h1m-3 1.2h1m23.8 .5h1m-35.7 .9h1m3.1-0.6h1m-1.5 1.5h1m4.5-0.5h1m-.6 .1h1m2.7 .6h1m21.8-0.5h1m-31.2 1.1h1m11 .2h1m-15.4 .6h1m26.8 .4h1m-17.9 .3h1m-9.2 1.9h1m-.2 0h1m1.1 0h1m8.3-0.2h1m13.6-0.6h1m-31.4 1.1h1m16.7 .3h1m-22.7 .6h1m2.5 .2h1m1.9-0.1h1m7.5 0h1m17.8 .3h1m-13.3 1.5h1m-13.1 .7h1m1.6-0.2h1m-14.4 2.5h1m8-0.9h1m13.6 0h1m-25.4 1.7h1m20.4 .1h1m-17.6 .7h1m-3.2 1.1h1m18.3-0.6h1m-.8 .2h1m-19.1 .8h1m.1 .7h1m3.8-0.5h1m7.6 .1h1m-.3 .4h1m2.2-0.3h1m-11.3 1.2h1m2.3-0.5h1m-.4 .2h1m1.5 0h1m2.9 .6h1m-14.3 .9h1m5.8-0.5h1m-25.8 1.1h1m10.6 .4h1m9-0.8h1m-14.3 1h1m6.1 .5h1m1.3-0.1h1m9.2 0h1m3.8 .2h1m-42.6 1.1h1m19.6-0.5h1m8.2 0h1m7.1-0.3h1m-31.4 1.1h1m7 .7h1m.6 .1h1m20.2-0.6h1m2.2 .1h1m-19.4 1.4h1m-.6 .1h1m1.1-0.1h1m6.4 .1h1m.6-0.2h1m6.4-0.4h1m-26 1.6h1m1.8-0.3h1m5.6-0.3h1m-.4-0.1h1m-.1-0.1h1m10.5 .7h1m1.7-0.1h1m0-0.3h1m-36.6 1.1h1m13 .2h1m-.8-0.1h1m9.7 .1h1m4.2 0h1m-36 .7h1m7.7 .1h1m4.6 .1h1m0-0.3h1m25.3 .5h1m-45.1 .3h1m16 .3h1m23.9 .4h1m.5 .1h1m.1-0.4h1m3.5 0h1m-22.2 1.4h1m.2-0.1h1m3.3-0.6h1m-15.2 1.7h1m2.8-0.9h1m.6 .6h1m13.5 .4h1m4.3-0.9h1m4.7 0h1m-17.2 1h1m-19.6 1.2h1m1.8 .3h1m6.3-0.3h1m-.1-0.3h1m8.2 .8h1m-24.9 .4h1m15.7 .4h1m10.9-0.1h1m9.6 .2h1m-29.5 .3h1m.1 .7h1m9.3 0h1m-.8 .1h1m13.4-0.7h1m-53.3 1.5h1m11.2-0.2h1m10.6-0.2h1m0 .5h1m.4-0.5h1m10.5 1.6h1m9.5 .2h1m4.1-0.3h1m9.6 .3h1m-60.4 .4h1m2.9-0.1h1m8 0h1m-.9-0.1h1m1.4-0.2h1m13.1 .3h1m9.9 .7h1m17.7-0.2h1m-51.8 .4h1m-.9 .4h1m1.8-0.4h1m-.2 1.7h1m-5.1 .3h1m15 .6h1m22.5 0h1m4.5 .2h1m-51.4 .5h1m8.3 .2h1m12.8 .3h1m9.2-0.1h1m.9-0.5h1m11.8-0.3h1m-51.7 1.8h1m28.9-0.2h1m.1 .1h1m-35.9 1h1m-.4-0.7h1m.6 .5h1m18.5-0.1h1m25.1-0.1h1m3.6 0h1m9 .6h1m-38.8 .4h1m3.5 .1h1m12.7 .4h1m6.9-0.4h1m10.9-0.3h1m-62.1 1.3h1m27-0.4h1m3.8 .7h1m-9.9 .5h1m1.4 .5h1m.2-0.4h1m12.7-0.3h1m21.2 0h1m-45.1 1h1m12.4 .3h1m-35 1.1h1m.5-0.2h1m28.6 .6h1m1.2-0.9h1m3 .5h1m-35.1 1.3h1m25.7 1.2h1m4.3-1h1m-.5 .9h1m5.1 0h1m-39.9 .1h1m15.5 .2h1m24.6 .3h1m15.8 .3h1m-63.6 .7h1m2.2 0h1m39.7 .3h1m17.5 .8h1m-61.1 1.3h1m17.4-0.7h1m9.1 .4h1m1.8-0.2h1m-26.7 1.4h1m9.9-0.2h1m2.5 0h1m1.1-0.5h1m1.4 .3h1m-.5 .4h1m21.9-0.4h1m-48.9 1h1m19.8-0.1h1m6.9 1.4h1m-6.5 1h1m32.6 0h1m-55.5 .3h1m16.1 .4h1m.9 .1h1m5.3-0.5h1m-9.3 1.3h1m1.1 .3h1m-.1 .1h1m-16 1.1h1m2.7 1.2h1m-7.6 .1h1m6.1 .4h1m7.6-0.5h1m-1.9 1.6h1m-20.2 1h1m13.7 .7h1m3.3 0h1m0 .1h1m-17.4 .8h1m-.3 .6h1m2.6 .9h1m0 .1h1m6.6-0.2h1m-6.5 1h1m.1-0.1h1" stroke="#ff0000" stroke-width="1"/>
<path d="M56.8 426.6h1m-4.3 1.5h1m4 .7h1m19.6 3.1h1m-10.2 2.2h1m-18.6 .9h1m12.1 1.1h1m-1.7 .9h1m32.4 0h1m-15.3 5h1m10.7 0h1m9 .1h1m-60.8 .8h1m59.1 6.2h1m-20.1 1.8h1m9.6 1.1h1m13.3 .4h1m-17.4 2.4h1m-45.5 3h1m45.9 7.3h1m-30.1 .6h1" stroke="#c6dbef" stroke-width="1"/>
<path d="M71.5 415h1m12.8 .3h1m-12.4 4.8h1m-.1 .1h1m-8.9 10.2h1m25.4-0.8h1m-12.4 1.7h1m-1.5 2.2h1m16.8 2.1h1m-37.5 1.5h1m8.7-0.2h1m-22.4 2.2h1m-5 .7h1m32.2 .5h1m-36.6 .9h1m45.2 .2h1m19.3 0h1m-6.6 .2h1m-57 1.1h1m11.6 .5h1m-5.9 1h1m31.4 .1h1m10.8 1.1h1m-.8 .1h1m-6.7 4.8h1m8.8-0.5h1m-5.1 4.3h1m4.8 0h1m-64.5 1.5h1m3.6 1.7h1m34.8 .5h1m-39.6 .7h1m7 0h1m53.6 1.6h1m-29.7 1.3h1m24.7 1.1h1m-5 1.5h1m3 .5h1m-52 2.3h1m8.7-0.1h1m-14.5 3.8h1m18.9 .8h1m-20.1 2.8h1m7.6 1h1" stroke="#6baed6" stroke-width="1"/>
<path d="M108.1 406.7h1m-.6 2.5h1m-4.6 1h1m1 2.4h1m0 .7h1m.1-0.4h1m-3.8 2.5h1m-30.6 17.8h1m10.5 1.9h1m-20.3 13.9h1" stroke="#1aa64a" stroke-width="1"/>
<path d="M71.9 404.3h1m.3-0.7h1m15.3 4.2h1m17.5 2h1m-2 2h1m-.6 .6h1m-25.6 .9h1m-1.3 .4h1m-9 5.2h1m4.3 0h1m-1.8 5.1h1m5.7-0.4h1m-.4 .8h1m6.6-0.8h1m-37.7 3.7h1m1.7-0.4h1m.5-0.3h1m-8.5 1h1m36.3 0h1m-2.3 1.4h1m-3.8 1.2h1m3.8 1.7h1m-39.4 .8h1m4.3-0.1h1m-12.6 1.6h1m27 .9h1m-24 1.7h1m1.5 .2h1m-1-0.5h1m.1 .1h1m26 .7h1m14.8 .1h1m-28.6 .6h1m-23.5 .6h1m36.4 .5h1m-41.5 .7h1m2.6-0.1h1m1.1 .6h1m-.3-0.3h1m3.5 0h1m-1-0.4h1m2.4 .7h1m-.4-0.4h1m16.8-0.2h1m-32.4 1.6h1m10.4-0.2h1m7.1-0.6h1m7.9 1.9h1m14.6-0.6h1m-41.9 1.6h1m6.2-0.6h1m3.3 .6h1m.2-0.8h1m-15.3 1.7h1m-.2 1h1m13.2-0.3h1m36.4 1.5h1m3.5-0.8h1m.2 .6h1m-35.4 .4h1m34.5 .1h1m-21.8 2.2h1m-39.6 3.5h1m3.7-0.3h1m-.2 .1h1m55.2 .1h1m-61.8 .1h1m22.3 .1h1m13.5 1.5h1m-40.4 2.3h1m56.8-0.8h1m-61.4 1.1h1m33.4 .3h1m20.8-0.4h1m-56.3 1.5h1m5.4 .1h1m.3 .9h1m-7 .6h1m18.3 .2h1m38.1 1.4h1m-53.2 .7h1m20.3-0.1h1m-18.2 1.1h1m2.9 0h1m2.1-0.4h1m-8.1 1.3h1m-3.8 1.4h1m11.8-0.7h1m1.2 1.5h1m-.6-0.4h1m-14.7 1.3h1m5.8-0.2h1m-12.7 1h1m17.2 .3h1m-13.1 .5h1m3.8 .6h1m-8.4 .5h1m12 .4h1m-16.4 1.5h1m3.6-0.1h1m11.5 .7h1m-16.4 2.1h1m-1.3 .7h1" stroke="#0000ff" stroke-width="1"/>
<path d="M107.8 407.4h1m-28.4 .7h1m-8.4 .7h1m-.5 .5h1m6.3 .3h1m.2 .9h1m2.5 .8h1m17.6 .2h1m1.2-0.7h1m-33.5 1.1h1m1.1 .5h1m-4 .8h1m12.7-0.1h1m2.9-0.2h1m16.4 .4h1m-36.8 1.1h1m6.2-0.8h1m22.9 .2h1m1 .3h1m-.2 .2h1m-36.4 1.1h1m9.9-0.9h1m4.4 0h1m18.4 .2h1m0 1.5h1m-26.2 .7h1m.3 .2h1m-14.1 .5h1m3.2 1.2h1m4.8 0h1m2.3 .5h1m3.3-0.3h1m5.4 1.4h1m-19.3 1h1m6.3-0.2h1m5-0.3h1m-.4-0.2h1m-.9 .4h1m-21 1.1h1m1.2-0.3h1m13.5 .3h1m-11.3 1.9h1m6 .4h1m.4 .8h1m-30.7 .9h1m20.8-0.2h1m-.4 .3h1m13.7-0.2h1m2-0.2h1m-38.5 .8h1m8.5 0h1m2-0.1h1m18.3 .5h1m3.3 .4h1m-38.8 1h1m8.6-0.9h1m15.5 .8h1m1.5 0h1m-19.8 .9h1m.9-0.6h1m21.6 0h1m-24.3 .9h1m11.6 .6h1m11.3-0.2h1m-40.2 .8h1m-.6 .5h1m17.3-0.2h1m3.8 0h1m.3-0.1h1m6 .2h1m-33.3 1.1h1m6.9 .1h1m7.1-0.2h1m2.1-0.7h1m13.4 .3h1m3.6 .6h1m4.1-0.1h1m-45.5 .2h1m-1 1h1m7.9 .6h1m7.9-0.1h1m2.6 0h1m7.6 .4h1m8.8-0.8h1m-41.1 1.7h1m12.3-0.3h1m5.2-0.1h1m18.9 .4h1m-28.9 1.1h1m3.5-0.2h1m.7-0.7h1m-.7 .2h1m3.2-0.1h1m1.8 .6h1m1.5 .1h1m2-0.4h1m10.8 0h1m8.4-0.4h1m-.8 .7h1m-58.6 1.2h1m11.2-0.7h1m-.2 .6h1m6.2-0.8h1m-.2 .2h1m-1 .4h1m-.2-0.3h1m24.5 .4h1m2.7 .2h1m7 0h1m-47.4 .3h1m5 .4h1m.8 1.2h1m15-0.1h1m4.2-0.7h1m-27.2 1.3h1m23.9-0.1h1m7.2 0h1m-22.6 1.4h1m2-0.5h1m-.8 .8h1m1.7-0.3h1m30.7-0.1h1m-61.1 .8h1m9.1 .4h1m12-0.4h1m.1 0h1m3.8 0h1m19.3-0.2h1m-43.9 1.4h1m3.8 .2h1m3.4-0.1h1m14.9-0.1h1m12.2 .2h1m2.4-0.1h1m2.6-0.1h1m.4-0.2h1m-46.8 1h1m.2 .2h1m11.2-0.2h1m27.9-0.2h1m-51.3 1.2h1m1.8 .2h1m-2.8 1.4h1m-.8-0.9h1m10.5 .5h1m18-0.2h1m11.1 .1h1m11.1 .1h1m-55.3 1.5h1m.4-0.5h1m2.1 .4h1m9.4 .1h1m16.7 0h1m6.5 .5h1m-.6 .3h1m9.8-0.1h1m-55.8 .7h1m.1 .2h1m.8-0.6h1m22.7 .8h1m-.9-0.4h1m35.4-0.3h1m-61.7 1.6h1m24.4-0.1h1m5.4 0h1m14.8 .1h1m-50.2 1.1h1m18-0.4h1m17.8 .5h1m4.1-0.6h1m-22.6 .9h1m-1 1.4h1m7.9 .2h1m22.7-0.4h1m-31.9 .9h1m17-0.2h1m11 .2h1m-52.2 1.1h1m21.3 .6h1m3.2-0.3h1m16.6-0.6h1m-46 1.4h1m24.2-0.4h1m3.4 .2h1m6.7-0.2h1m-16.6 1h1m5.8 0h1m10.1 .3h1m-36.3 .9h1m23.3 .2h1m9.3-0.3h1m-13.9 1.7h1m33.2-0.6h1m1.8-0.1h1m-58.8 1.4h1m.5-0.4h1m-11.1 .9h1m7.1 .5h1m15.8 0h1m3.3-0.3h1m-10.1 1.3h1m-.8 .1h1m3.7-0.1h1m-.1 .3h1m34 .8h1m-49.9 .8h1m16.7 .2h1m28.5-0.7h1m-51.7 1.1h1m3.6-0.1h1m5.7 .2h1m1.6 .1h1m-14 .7h1m1.4 .5h1m2.5-0.3h1m10.7 .2h1m.7 .4h1m-28.6 2.1h1m22.9-0.5h1m-22.9 1.6h1m0-0.2h1m3.8 .5h1m1.6 0h1m4.3 3.2h1m-6.9 .8h1m9.7 .6h1m-5.5 .9h1m-8.5 .5h1m5.8 .5h1m-3.9 .9h1" stroke="#ff0000" stroke-width="1"/>
<path d="M78 412.2h1m-6.1 5.2h1m-5.6 3.2h1m24.3 .1h1m-11.6 6.1h1m-12 1.2h1m15 .4h1m-27.8 .1h1m2.5 .9h1m-2.1 7.3h1m33.9 2.8h1m-42.2 9.4h1m53.5 3.5h1m-22.6 4.3h1m-39.6 5.4h1m-5.5 7.6h1m10.1 1h1" stroke="#c6dbef" stroke-width="1"/>
<path d="M73 405.9h1m-.4 .4h1m-1.4 7.5h1m16.9 .9h1m-16.4 7.6h1m18.3 2.2h1m-35.8 3.1h1m27.9 .8h1m.1 1.1h1m-17 2.6h1m6-0.2h1m-15.9 1.3h1m32 1.1h1m-46.6 1h1m15.3 .9h1m31-0.5h1m-25.1 1.4h1m27.1-0.2h1m-57.1 2.3h1m43.4 0h1m-49.7 1.3h1m60.7-0.2h1m-39.4 1.5h1m5.4 .9h1m23.9 1.5h1m-10.4 .5h1m-26.5 1h1m21.4 .1h1m.2 0h1m-40.4 1.3h1m5.9 2h1m25.4-0.2h1m14.3 1.4h1m-13.6 1.1h1m23.7 .2h1m-27.2 1.7h1m.2-0.7h1m2.7 .2h1m6.1 1.8h1m.8 .7h1m-7.8 2h1m8.6-0.1h1m-3.1 1.1h1m1.1 7.3h1m-44.5 .9h1m5.3 2.8h1m-4.6 1.2h1m-3.6 6h1" stroke="#6baed6" stroke-width="1"/>
<path d="M74.3 402h1m35.2 6.5h1m-7.8 1h1m1.9-0.6h1m0 1.9h1m-6.2 2.5h1m3.5 2.1h1m-18.2 2.5h1m.1 5.8h1m-5.8 3.2h1m5.8 1.5h1m-19.2 2.2h1m2 14.9h1m-.6 18.1h1" stroke="#1aa64a" stroke-width="1"/>
<path d="M77 407h1m.4 1.5h1m27.2 .9h1m-30.7 1.1h1m1 .3h1m9.3 1.1h1m2-0.1h1m-16.9 1.3h1m27.2 .2h1m-27 .5h1m27.7 0h1m-37.4 4.8h1m.3 0h1m4.7 .2h1m3.9 .7h1m-10.7 1h1m-3.4 1.4h1m13 0h1m-23.1 4h1m7.6 .5h1m-7.9 .9h1m-.8-0.6h1m9.3 .6h1m15-0.6h1m-6.3 1.1h1m-28.9 1h1m34.9-0.1h1m-21.7 1.8h1m5.1-0.8h1m-33.4 1.1h1m11.2 .3h1m6.2 .1h1m-17 .5h1m26 .6h1m-12.7 .6h1m2.3-0.2h1m19.7-0.2h1m-15.3 1.1h1m-12.7 1.7h1m31.9-0.4h1m-39.2 1.3h1m9.3-0.6h1m-15.6 1.5h1m-1.3 .9h1m.1 .2h1m10.7 .2h1m2.8-0.8h1m-21.2 1.3h1m4.1 .1h1m-4.2 .6h1m41.9 0h1m11.9 .5h1m-62.4 1h1m39.1-0.2h1m-12.4 1.5h1m.9-0.8h1m-27.8 1.6h1m37.4 .8h1m-30.1 1.1h1m43.5 .1h1m-58.2 .8h1m16.5-0.5h1m10.8 .2h1m5.7 .1h1m-31.9 1.5h1m2.4 .2h1m6 0h1m16.2-0.3h1m-30.6 2.7h1m3.3 .2h1m25.8-0.4h1m-10.7 1.1h1m16.2 .2h1m10.6 1.2h1m7.2-0.1h1m-34.4 .8h1m-5.4 2.3h1m24.8 1.3h1m13 .5h1m-63.3 1.4h1m46 .8h1m-50.6 .6h1m19.1-0.2h1m-2.3 1.7h1m3.3-0.6h1m.6 .2h1m-2.1 .7h1m8.8 .5h1m7.1 0h1m-20.9 .6h1m.4 .9h1m2.5 .8h1m-21.8 .6h1m16.6 .1h1m-16.3 1h1m2.8 .2h1m6.5 0h1m38.4 0h1m-39.7 .9h1m-3.4 2.7h1m-11.7 1h1m8.5 .9h1m7.9 .5h1m-21.5 .6h1m4.5 .7h1m-.7 .1h1m3.2 2.3h1" stroke="#0000ff" stroke-width="1"/>
<path d="M75.2 405.6h1m-.8 .4h1m3 .2h1m8.4 0h1m2.1 2.4h1m-8.8 1.3h1m2.4 .2h1m-14 1.3h1m7.8-0.3h1m3.1-0.5h1m-.9 .1h1m1.9-0.2h1m-15.1 1.8h1m-5.1 1.6h1m9.8 .5h1m-.8-0.2h1m21.6 0h1m-16 1h1m-.1-0.3h1m-.5-0.4h1m12.6 .8h1m.3-0.4h1m-30.3 1.2h1m11.5 .1h1m-17.1 1h1m1.7 0h1m4.6-0.6h1m9.9 .9h1m-14.6 .1h1m9.1-0.1h1m-11.3 1.2h1m2.9 .2h1m.2 .9h1m0 .5h1m-.1-0.2h1m5.1 .1h1m-18.8 2.1h1m12.9-0.6h1m1.2 .1h1m-12.4 2.3h1m7.1 .2h1m.4-0.6h1m-3.9 .9h1m6.7 .2h1m-15 1.1h1m8.1-0.2h1m-27.6 1.6h1m5.3-0.7h1m-.4 0h1m1.2 .4h1m2.6-0.5h1m14.5 1.3h1m-42 1.2h1m12.2 .5h1m5-0.4h1m-.1 .4h1m.9-0.5h1m3.9-0.2h1m-.1 .6h1m16.3-0.4h1m-25.1 1.4h1m2.8-0.9h1m2.2 .3h1m8.3 .2h1m2 .3h1m-38.6 .3h1m1.7 .5h1m9.8-0.2h1m2.9-0.4h1m13.3 .1h1m1.2 .9h1m.4-0.7h1m8.4 .6h1m-43.3 2.1h1m11.1-0.3h1m.1-0.5h1m-7.9 1.1h1m28.4 .4h1m4.3 .1h1m-46.3 .2h1m11.5 .1h1m3.1 .5h1m8.1-0.3h1m-22.8 1.5h1m4 .2h1m12.2-0.7h1m13.9 .6h1m.2-0.8h1m-40.7 1.1h1m0 .6h1m3.5-0.1h1m3.1 .1h1m1.7-0.6h1m7.2 .2h1m2.7 .3h1m13.4 0h1m-.5-0.2h1m6 .2h1m.5-0.1h1m-36.8 .7h1m11.7-0.3h1m.8 0h1m2.6 .2h1m7.1 .5h1m3.8 .2h1m-31.8 1.1h1m.6-0.6h1m1.4 .2h1m5 .1h1m16.5-0.3h1m-35.6 1h1m.8-0.3h1m16.2 .3h1m26.1 .2h1m1.8 .1h1m-53.6 1h1m20.9-0.6h1m-22.6 1.7h1m6.6-0.1h1m37.6 .2h1m11.2-0.5h1m-55.5 1.5h1m16.1-0.5h1m-.5 .6h1m15.6-0.5h1m-27.5 1.3h1m17.9 0h1m13.4 0h1m4-0.7h1m-50.1 1.1h1m16.4 .7h1m6.1-0.3h1m-18.8 1.1h1m1.7 .1h1m18.9-0.6h1m1.3-0.1h1m.9 .4h1m12.1-0.2h1m11.2 0h1m-38.8 1.4h1m23.1-0.3h1m9-0.1h1m-44.6 .7h1m15.1 .7h1m-.2 .2h1m1.7-0.1h1m16.7-0.6h1m6 .7h1m-36.9 .1h1m7.5 .5h1m2-0.4h1m12.5 .4h1m5-0.3h1m-24.9 .9h1m2.3-0.1h1m.2 .5h1m-15.7 1.1h1m-18.8 1.1h1m27.5-0.2h1m10.2 .3h1m7.9-0.2h1m5.9 .4h1m-61.1 .4h1m3.1 .4h1m2.4-0.6h1m29.3-0.1h1m-33.9 1.2h1m19.2 .3h1m22.5 .4h1m6.2-0.6h1m-27.6 1.4h1m.4-0.4h1m23.1 .5h1m3.4-0.4h1m-16.6 1.2h1m3.5 .2h1m.9-0.2h1m-42.6 1.2h1m26.5-0.9h1m28.6 1.7h1m-64.6 .5h1m25.4 .8h1m-.1-0.2h1m3.9-0.1h1m.7-0.1h1m21.1 .1h1m-25.2 1h1m-31.9 1.1h1m.4 0h1m11.7 0h1m2.4-0.4h1m.1 .4h1m4.7-0.1h1m-24.3 .5h1m.9 .1h1m1.4 0h1m2.2 .6h1m4-0.6h1m4.5 .4h1m2.1 1.1h1m4.1-0.1h1m29.6 0h1m-.8 .1h1m-53.8 .8h1m5.7 0h1m-.8 .1h1m8.3 .9h1m-.3 0h1m2.9-0.1h1m25.3-0.3h1m-50.9 1.7h1m7.7-0.2h1m6.8-0.7h1m-.1 .2h1m-8.2 2.4h1m3-0.2h1m-13.3 3.4h1m2.7 .3h1m-.4 .6h1m6.2 .3h1m-13.6 1.5h1" stroke="#ff0000" stroke-width="1"/>
<line x1="41.3" y1="481.3" x2="115.3" y2="481.3" stroke="#000" stroke-width="1.1"/>
<line x1="60" y1="481.3" x2="60" y2="484.2" stroke="#000" stroke-width="0.9"/>
<text x="60" y="493.2" font-size="8.56" text-anchor="middle" fill="#1a1a1a" color="#1a1a1a" textLength="9.12" lengthAdjust="spacingAndGlyphs">−4</text>
<line x1="78.8" y1="481.3" x2="78.8" y2="484.2" stroke="#000" stroke-width="0.9"/>
<text x="78.8" y="493.2" font-size="8.56" text-anchor="middle" fill="#1a1a1a" color="#1a1a1a" textLength="4.45" lengthAdjust="spacingAndGlyphs">0</text>
<line x1="97.6" y1="481.3" x2="97.6" y2="484.2" stroke="#000" stroke-width="0.9"/>
<text x="97.6" y="493.2" font-size="8.56" text-anchor="middle" fill="#1a1a1a" color="#1a1a1a" textLength="4.45" lengthAdjust="spacingAndGlyphs">4</text>
<path d="M155.1 410.8h1m-20.4 18.8h1m-.9 2.3h1m42.8 4.9h1m-39 .8h1m-10 1.2h1m-11.3 1.5h1m17 2h1m-12.6 1.1h1m-.9 6.1h1m53.4 5.8h1m-11.6 2.5h1m-22.9 1.5h1m21.7-0.3h1m10.5 0h1m2.7-0.1h1m-57.4 8.9h1m.3 6.5h1" stroke="#6baed6" stroke-width="1"/>
<path d="M153.5 404.3h1m29.8 4.1h1m-31.5 7.5h1m30.4-0.4h1m-31.8 6.2h1m-.6 2.4h1m.8 1.3h1m-8.9 6h1m-.5 1.2h1m-4 2.4h1m23.9 2.5h1m-1.8 .2h1m-47.8 1.2h1m41.8 14.7h1m9.2 .4h1m-24.2 6.8h1" stroke="#1aa64a" stroke-width="1"/>
<path d="M186.8 404.6h1m-1.6 3.9h1m-.5 .7h1" stroke="#6a6a6a" stroke-width="1"/>
<path d="M152.2 405.8h1m-1.4 2.1h1m4.2 1.7h1m-3.8 1.2h1m-6.2 1.4h1m4.4 .1h1m3 .6h1m1.8 3.8h1m1.3 .7h1m3.7-0.3h1m-5.8 .9h1m2.9 3.4h1m-13.4 1.1h1m-.4 0h1m1.8 .1h1m10.5 .7h1m-10.4 2.3h1m-.2 .8h1m-12.2 3.1h1m-23.3 1.3h1m19.7 1.4h1m-24.5 1h1m-1 2.8h1m25 1.3h1m-24.4 .5h1m17.7 .6h1m8.4-0.6h1m11.6 .3h1m-31.5 1.1h1m2.1-0.4h1m12.8 0h1m28.6 1.9h1m-40.6 1.2h1m-16.9 2.1h1m44.2-0.1h1m-42.2 1.6h1m-7.7 0h1m-1 3.1h1m48 10.5h1m-28.5 2.2h1m4.3 1.8h1m-3.5 3.3h1m-23.7 6.7h1" stroke="#0000ff" stroke-width="1"/>
<path d="M152.2 404.4h1m.1-0.4h1m-4.3 .7h1m.1 .4h1m3.6 .1h1m-6 .9h1m3.7-0.3h1m.3 0h1m-4.8 1.4h1m5.9-0.1h1m1.3-0.1h1m-.5-0.5h1m1.7 .3h1m-.6 .5h1m-11.3 .2h1m6.6 .6h1m3-0.1h1m-.2-0.1h1m-15.4 1.1h1m-.4 .3h1m-.6-0.3h1m1.3 .1h1m1.4 .1h1m.8-0.6h1m-13.9 1.8h1m2.6 0h1m1.5 0h1m3-0.2h1m-4.5 1.2h1m-.9-0.2h1m2.1 .3h1m-.6-0.6h1m-.9-0.4h1m9.9 .1h1m15.8 .4h1m-36.8 1.3h1m1-0.8h1m-1.1 1.6h1m2.1-0.4h1m.1 .2h1m-.6 0h1m22.6-0.3h1m.1 .9h1m-30.9 .6h1m1.4-0.2h1m2.7 .2h1m2.3-0.1h1m-4.5 1.3h1m4.8-0.3h1m2.4 0h1m17.4 .4h1m-34.6 .8h1m.8-0.1h1m-.3-0.3h1m-.3 .4h1m1.5-0.6h1m2.7 .5h1m.2-0.6h1m-.4 .9h1m4.2-0.9h1m-18.4 1.4h1m.5 .1h1m-.4-0.4h1m.2 .8h1m8.3-0.7h1m4.2-0.1h1m-18.3 1.1h1m.3 .5h1m9.1 0h1m.1-0.2h1m-.7 .4h1m-14.3 .2h1m5-0.1h1m1.2 .6h1m-.4-0.3h1m1.8 .4h1m.3-0.5h1m-17.8 1.8h1m-.5-0.9h1m-.6 .7h1m.5-0.2h1m3.5-0.2h1m1.4 0h1m.6 0h1m1.9 .2h1m-.9 .4h1m2.2-0.5h1m6.5-0.3h1m-17.5 1h1m2.9 .4h1m3.9-0.3h1m-13 1.1h1m1 .1h1m-.3-0.3h1m.7 .1h1m.9-0.2h1m7.4 .6h1m-21 .5h1m3.4 .8h1m7.1-0.7h1m1.4 .1h1m-9.8 1.3h1m3.4-0.6h1m-.7 .4h1m.6-0.1h1m1.8 .4h1m-.9-0.3h1m.6 .3h1m-.7 .1h1m-.5-0.6h1m-.1 0h1m2.1-0.2h1m2.5 .5h1m-25 .4h1m6.8 .6h1m3.2-0.5h1m3.7 .4h1m8.1 .1h1m-22.5 .8h1m.2 .4h1m6.7-0.1h1m-.6 0h1m-.3 .2h1m-.1-0.5h1m-.4-0.3h1m-.8 .3h1m1.1-0.2h1m-35.3 1.5h1m.3-0.5h1m9.3 .4h1m1.7 .4h1m-.1-0.8h1m1.5 .3h1m10.8-0.3h1m1 .3h1m.5-0.2h1m3.4 .4h1m-30.8 1.2h1m-.8 .1h1m6.1-0.5h1m11.2-0.2h1m-.7 .4h1m-.6 .1h1m-.2-0.1h1m5.7 0h1m-.3 .3h1m.9-0.5h1m-42.7 .8h1m12 0h1m7.7 .2h1m.8 .2h1m5.7-0.6h1m.7 0h1m3 0h1m-13.9 .9h1m1.7 .6h1m4.1-0.5h1m3.9 .5h1m-.2-0.3h1m-18.7 1h1m1.6 0h1m.9-0.1h1m-.8 .5h1m1.3-0.2h1m12.5 .3h1m3.8 .2h1m-31.1 .5h1m21.9-0.1h1m5.5 .2h1m-38.9 .7h1m2.6-0.1h1m17 0h1m.7 .6h1m18.1 0h1m-30.5 .7h1m4.8 .2h1m14.1 .1h1m-41.7 .3h1m11.1 .7h1m6.7-0.3h1m-.7 .1h1m14.2-0.2h1m9.7 .2h1m1.2-0.4h1m-29.3 .9h1m2.1 0h1m4.1 .5h1m14.1-0.2h1m-.9-0.4h1m1 .6h1m-.2-0.5h1m6.1 0h1m.3 .3h1m-58.4 .9h1m5.8 .2h1m27.6-0.2h1m2.7 .1h1m1.9 .4h1m5.4-0.2h1m1.7-0.5h1m-.3 .9h1m-49.9 .8h1m24.3-0.6h1m6.2 .4h1m2.3 0h1m2.4-0.5h1m12 .7h1m4.6-0.4h1m.8 .1h1m-63.7 1.2h1m16.5-0.4h1m-.1-0.1h1m10.1 .4h1m7.5-0.1h1m3.9 .1h1m11.1 .1h1m6.3 .2h1m-35.4 .7h1m.4 .3h1m6.7-0.8h1m3.3 0h1m2-0.1h1m-35 1.6h1m.3 .1h1m6.1-0.6h1m3.1-0.1h1m.9 .6h1m1.3-0.5h1m16 .3h1m4.9-0.2h1m10.6 .2h1m-54.3 1.6h1m38.7-0.9h1m-.3 .3h1m-42.5 1h1m.8 .5h1m44.5 .1h1m7.8-0.8h1m-55.5 .8h1m35 .7h1m5.1-0.1h1m8.2 .3h1m-45.1 .8h1m-16.1 .6h1m5.6-0.2h1m9.2 .4h1m2.6-0.2h1m14.8 .3h1m1 .2h1m-28.5 .6h1m27 .5h1m14.5-0.8h1m3.2 .1h1m2.9 .2h1m-.4-0.1h1m-41 1.3h1m6.4-0.2h1m-8.3 .7h1m4.5 .4h1m3.8 .2h1m3.6 0h1m-.5 .1h1m5.6 .1h1m7.7-0.1h1m7.6-0.3h1m-56.8 .8h1m14.5 .5h1m13.7-0.1h1m25.1-0.1h1m-41.8 1.3h1m22.6 .3h1m.2 .3h1m16.2 .2h1m-60.7 .9h1m34.5-0.4h1m-.4 .5h1m17.4 .2h1m5.4-0.8h1m-.2 .9h1m-69.4 .3h1m1.5 .5h1m19.5-0.1h1m3.7-0.2h1m1.2-0.4h1m4.4 0h1m22.1 .5h1m-52.7 1.4h1m21.9-0.3h1m7.1-0.4h1m.8 .4h1m2.1-0.3h1m7.6 .3h1m5.6-0.2h1m-25.3 2.2h1m-.2-0.6h1m9.2 .5h1m9.9-0.4h1m1.1 .3h1m-56.5 .6h1m26.4 .6h1m16.3 0h1m6-0.7h1m8.3 .7h1m-60 .8h1m48.9-0.1h1m-46.3 1.1h1m13.9 1.4h1m-.8-0.4h1m8.7 .5h1m18.6-0.4h1m-42.9 1.1h1m21.3 0h1m-31.3 1.3h1m16.5-0.9h1m2.7 .6h1m2.3 .1h1m33.1-0.6h1m-33.4 1h1m28.2-0.1h1m2.4 .7h1m-59.5 .5h1m50.9-0.3h1m-42.3 1.6h1m-4.6 .5h1m7.2 .3h1m4.5 1.1h1m.5-0.1h1m-.1-0.3h1m-17.7 .9h1m-5.1 1.3h1m.9 1.2h1m13.1 2.7h1m-15.6 1.2h1m11.1-0.1h1" stroke="#ff0000" stroke-width="1"/>
<path d="M157.9 429.6h1m12.8 .1h1m-43.3 1.9h1m51.5 5.6h1m-36.6 1.8h1m-16.2 1h1m12.9 .2h1m29.8 5.8h1m-45.8 2.4h1m20.9 .1h1m18.2 1.6h1m3.7-0.2h1m6.2 3.1h1m-14.8 2h1m5.2 3.3h1m-22.2 .7h1m-9.7 2.6h1m2.1 1.4h1m31.9 .1h1m-34.9 1.6h1m-20.6 5.3h1" stroke="#6baed6" stroke-width="1"/>
<path d="M186.6 407.6h1m-2.1 1.5h1m-1.2 .9h1m-4.6 1.1h1m-29.7 .6h1m27 .1h1m-1.3 1.2h1m2.2 1.6h1m-1.4 2.1h1m-20.7 6.8h1m-5.6 5.2h1m14 .6h1m-29.1 5.7h1m19 19.3h1m17.8 5.7h1m-34.3 2.7h1" stroke="#1aa64a" stroke-width="1"/>
<path d="M181.8 410.8h1m-1.9 1.5h1" stroke="#6a6a6a" stroke-width="1"/>
<path d="M151.3 410.2h1m-.4 1.4h1m6.3 .1h1m-8 5.2h1m.8 .5h1m3.5 .9h1m6.1 .9h1m-.4 1.7h1m-13.8 5.7h1m-3.9 1.8h1m14.8 3.3h1m-32.4 1.1h1m.1 .9h1m7.8 .1h1m7.4 1.3h1m-28.9 .8h1m16.9 .1h1m30.7 1.9h1m-41 1h1m14.5 .9h1m-14.9 1.2h1m21.1 1.9h1m-33.6 1.7h1m45.5 4.1h1m-30.6 1.1h1m21.7 .6h1m-5.4 2.8h1m-11 3.6h1m16.4-0.1h1m-20.3 1.2h1m4.8 .1h1m-7.6 1.1h1m24.3-0.5h1m-41.8 2h1m51.9 .9h1m-50.8 1h1m9.8 2.2h1m-13.7 7.8h1m6.1 2.1h1" stroke="#0000ff" stroke-width="1"/>
<path d="M150.7 403.1h1m-.6 .4h1m2.3 .3h1m-3.6 1.6h1m-.8-0.3h1m2.1 .2h1m-4.4 .6h1m-.8 .4h1m-.8-0.8h1m-.8 .8h1m2.7 .1h1m.3-0.1h1m7.7-0.1h1m-14.6 1.1h1m4 0h1m-.4-0.1h1m.9-0.4h1m.9 .6h1m-10.4 .3h1m-.5 .4h1m-3.4 .4h1m4.3 .1h1m.5 .4h1m4.3 .2h1m-12.6 .5h1m7.5 .1h1m3.9 .6h1m2.6 0h1m14.7-0.7h1m-.9 .8h1m-33.9 .7h1m-1-0.2h1m6.5 .5h1m.7-0.8h1m3.6-0.1h1m.8 .1h1m13.7 .2h1m3.8-0.2h1m-35.9 1.1h1m1.8-0.1h1m-3.3 .8h1m.2 .2h1m.1 .3h1m1.3-0.2h1m-.7-0.2h1m.9 .6h1m-.5 0h1m3.5 .2h1m18.9 .1h1m1.6-0.1h1m-35.6 .8h1m1.5 .1h1m-1-0.5h1m1.9-0.3h1m-.5 .3h1m-.9 0h1m4.2-0.1h1m-.4 .7h1m-.6-0.1h1m2.2-0.3h1m1.3 .1h1m13.1 .2h1m.3-0.6h1m-37.4 1.8h1m2.9-0.5h1m2.2-0.4h1m.8 .7h1m-.2-0.7h1m1.2 .6h1m19.4-0.5h1m2.5 .8h1m-34.3 .3h1m1.8 .5h1m5.7 0h1m2.5 .2h1m6.3-0.9h1m-25.6 1.1h1m4.3 .7h1m1.9-0.3h1m1.9 0h1m.6-0.2h1m-.2 .1h1m.6-0.1h1m-.3 .2h1m-15.4 .8h1m4.8 .3h1m-.4-0.1h1m.3 0h1m.9-0.1h1m-.6 .3h1m0-0.2h1m1 .4h1m-1-0.6h1m1.9 .2h1m1.8-0.2h1m-13 .9h1m7.4 0h1m2.2-0.1h1m3.1 .8h1m-21.9 .9h1m-.9-0.6h1m4.2 .3h1m1.7-0.3h1m1.9-0.1h1m-.2 0h1m.7-0.1h1m3.1 0h1m-14.8 1.2h1m3.1 .4h1m3.8-0.1h1m-1.1 1.1h1m-.4-0.3h1m-1 .4h1m.2 0h1m-.3-0.1h1m1.8-0.4h1m3.2-0.1h1m-18 .9h1m3.8 .3h1m-10.4 1.3h1m5.5-0.3h1m3 0h1m1.3 .4h1m-11.4 .2h1m-6 1h1m3.6 .8h1m4.2 0h1m11.1-0.1h1m-35 .8h1m24.1-0.1h1m-.6-0.3h1m2.3 .2h1m-18.5 1.5h1m13.1-0.3h1m-23.2 1.4h1m5.5-0.2h1m.3-0.7h1m3.2 .8h1m.4-0.3h1m3.6 .3h1m4.4-0.2h1m2.3 .1h1m-.9 .1h1m0-0.5h1m4.3-0.3h1m-26.4 1.3h1m3 .2h1m.3-0.2h1m7.9 .5h1m2-0.5h1m-19.3 1.5h1m7.9-0.1h1m11.2-0.4h1m2.7 0h1m-27.4 1.6h1m-.3-0.6h1m24.1-0.3h1m3.7 .9h1m-23.1 .2h1m17.7 .4h1m-.5 .2h1m-29.8 1h1m8.8-0.6h1m-.3 0h1m-.8 .1h1m3.9 .2h1m-.6-0.1h1m9.6 0h1m1.1-0.2h1m-1 0h1m-9.9 1.3h1m1-0.3h1m3.5 .6h1m-.3 0h1m-45.4 1.2h1m21.8-0.7h1m3.4 .4h1m-.7-0.4h1m-18.6 1.5h1m7.3 .3h1m5.4-0.2h1m7.5-0.3h1m.7 .5h1m4.3-0.2h1m7-0.3h1m-.2 .1h1m-46 .5h1m-.8 .8h1m17.8-0.8h1m4.7 .2h1m27.7 .1h1m-46.6 1.4h1m-.1-0.7h1m4.1 .5h1m3.4-0.2h1m7.4 0h1m12.1 .3h1m-21 .4h1m-5.9 1.1h1m12 .4h1m3.2-0.5h1m-33.6 .9h1m4.4 0h1m2.6 .1h1m1.9 .2h1m7.2 .4h1m27.6-0.5h1m-.7 .3h1m9.5 .4h1m-62.8 .8h1m27.4 0h1m.9-0.5h1m16 .7h1m-6.7 .2h1m16.6 .3h1m-52.4 1.6h1m18.5-0.1h1m3.4 0h1m.9-0.7h1m24.3 .7h1m-.1 0h1m-63.6 .1h1m1.3 .5h1m-.1 0h1m14.2 0h1m25.2-0.2h1m3.4 .6h1m13.1-0.4h1m-.5 .2h1m1.1-0.3h1m-49.6 .7h1m14.9 0h1m-34.5 1.4h1m19.5-0.1h1m22.5 .2h1m3.7-0.2h1m2.7 .5h1m4.4 0h1m7.8-0.1h1m-46 1.1h1m4.9-0.1h1m4.8-0.7h1m2.3 .2h1m1.3 .1h1m2.6 .3h1m3.7-0.3h1m-.7-0.4h1m.6 .9h1m-18 .4h1m.5 .5h1m9.6 .1h1m21.1-0.1h1m-58.5 .8h1m35.9 0h1m1.4-0.2h1m13.8-0.2h1m2.2 .2h1m-60.9 1.1h1m31.2 0h1m-13.1 1h1m2.2-0.5h1m6.6 .6h1m7.8 .3h1m0-0.2h1m11.6-0.1h1m-.7 0h1m-60.2 .4h1m33.7 .3h1m31.5 .5h1m-62.5 .7h1m27.8 .1h1m5.6 .2h1m4.9-0.7h1m16.5 .4h1m-35.4 .7h1m5.6 .4h1m1.4 .1h1m21.6 .1h1m-40 1.1h1m1.1-0.1h1m4.5-0.1h1m4.7-0.2h1m1.1-0.3h1m7.4-0.1h1m7.4 0h1m1.2 .5h1m2.4 .3h1m-53.4 .9h1m12.7-0.5h1m-2.6 1.5h1m2.4-0.1h1m21-0.7h1m-43.7 1.8h1m27.1-0.2h1m12-0.4h1m7.7 .5h1m-.6-0.5h1m2.8 .6h1m2.2 0h1m3.7-0.6h1m-60.1 1.7h1m20.3-0.2h1m1.5-0.2h1m25.1-0.1h1m-43 1.6h1m5.1-0.8h1m1.2 .6h1m5.5-0.7h1m.8-0.1h1m10.7 .6h1m-39.5 .5h1m20.7 0h1m5.5 0h1m-9.4 1.6h1m29.1-0.5h1m1.4 .2h1m-.2 .3h1m-56 1.2h1m2.6-0.4h1m2.3 .1h1m6.7 0h1m3.1-0.1h1m1.4-0.1h1m34-0.1h1m-52.2 1.5h1m7.1 0h1m1.7 1.1h1m8.2 0h1m-1-0.1h1m-13.8 2.1h1m4.9-0.6h1m-18 .8h1m1.8 1.8h1m-2.8 .2h1m12.4 2.7h1m4.4-0.8h1" stroke="#ff0000" stroke-width="1"/>
<path d="M152.7 409h1m-7.9 10.3h1m6 7.2h1m17.3 5.4h1m-22.5 1.3h1m1.7 4.9h1m24.9 1.4h1m-40.6 .1h1m35.5 .2h1m-40 2.5h1m-4.5 .2h1m37.8 .5h1m13.1 1.3h1m-58.2 3.2h1m19.3 .3h1m30.9 .3h1m-28.9 1.7h1m29.5 1.9h1m-14.4 1.2h1m10.3 5.8h1m-54.6 6.2h1m24.3 0h1m-22.7 11.9h1" stroke="#6baed6" stroke-width="1"/>
<path d="M185.3 405.6h1m-6.3 6.5h1m3.7 .9h1m-25.1 1.2h1m19.7 .3h1m-30.7 2.5h1m21.8 12.8h1m-24.8 2.4h1m5.8 6.6h1m-14 9.3h1m44 .3h1m-32.9 2.7h1m31.5 .3h1m-16.9 9.6h1" stroke="#1aa64a" stroke-width="1"/>
<path d="M182 409.7h1m1.9 .8h1m-6.5 2.5h1" stroke="#6a6a6a" stroke-width="1"/>
<path d="M152 406.2h1m8.1 2.2h1m-11.3 3.2h1m8.5 1.5h1m6.6 .2h1m-6.6 1.7h1m-1.6 3.2h1m-9.2 .5h1m5.8 .1h1m-11.9 2.2h1m10.6 8.1h1m8.2 .6h1m-.4 4.4h1m-38.7 1.2h1m9.9 1.5h1m15.5 .9h1m21.6 1.3h1m-39.6 1.2h1m-13.3 .7h1m-1.5 1.3h1m51.3 1.8h1m-39.1 1.1h1m17.7 0h1m-3.2 3h1m1-0.5h1m-3.2 2.3h1m-3.5 2.7h1m10.5 2.6h1m-7.4 3.7h1m-19.4 2.3h1m17.6-0.5h1m-16.9 .9h1m-.6 5.5h1m-21.1 1.3h1m1.4 2.7h1m-5.1 1.1h1" stroke="#0000ff" stroke-width="1"/>
<path d="M150.4 403.2h1m2.4 0h1m-3.8 1.7h1m-2.4 1.4h1m1-0.1h1m3.1-0.1h1m29.8 .3h1m-.5-0.9h1m-35.1 1.5h1m-.3 .5h1m-.9-0.3h1m31.5-0.5h1m-30 .9h1m5.5 .5h1m18.9 .2h1m-32.3 1.1h1m-.7-0.1h1m2.9 .3h1m25.8 .2h1m-25.1 1.3h1m4.5-0.5h1m.8-0.1h1m-14.6 1.2h1m0 .2h1m-.6-0.3h1m4.8 0h1m-.9 .3h1m-.2 .2h1m4.5-0.2h1m13.3-0.4h1m-22.3 1.1h1m-.9 .5h1m3.7 .1h1m13.9 0h1m2.5 .3h1m-32.1 .2h1m1.5 .7h1m4.1-0.2h1m-12.3 .5h1m6.9 .6h1m.2-0.7h1m-.8 .4h1m.8 .2h1m5.6-0.4h1m-15 1.1h1m4.1-0.3h1m-.9 .1h1m.2 .5h1m.3-0.6h1m8.8 .4h1m-23.6 .8h1m6.6 .2h1m1.9 0h1m0 .2h1m2.2-0.3h1m1.8 .5h1m2.8-0.5h1m-22 1.5h1m6.2-0.2h1m-.4-0.6h1m-.4 .4h1m.9 .5h1m0-0.8h1m-7.3 1h1m.3 .7h1m2.8-0.3h1m-.5 .2h1m1-0.5h1m2.9 .4h1m6-0.1h1m-16 1.4h1m.2-0.4h1m5-0.2h1m-.8 .5h1m5.2-0.5h1m-24.8 .9h1m3.2 .2h1m5.9-0.4h1m8.2 .9h1m5.3-0.4h1m-24.8 .5h1m6 .4h1m5.7-0.4h1m8.3 .3h1m-25.5 1.3h1m1.7-0.1h1m9.1-0.2h1m.5 .5h1m-5.9 .3h1m4.8 .7h1m-3.7 .8h1m7.1 .2h1m-18.1 .5h1m1.6 .3h1m5.2-0.4h1m0 .4h1m1.7-0.5h1m4.2-0.1h1m-28.4 1h1m17.1 .9h1m.5 0h1m1.6-0.3h1m-9.7 1h1m17.1-0.3h1m-19.2 1.5h1m8.6 0h1m2.5-0.3h1m-38.3 1.3h1m14-0.7h1m16.7 .3h1m6.8 .4h1m-35.5 .6h1m11.5 0h1m.5-0.4h1m3 .7h1m11.5-0.3h1m3.7 .2h1m2.6-0.6h1m-43.6 1.3h1m7.9 .2h1m-.3-0.2h1m11.2 .4h1m2.8-0.3h1m9.6 0h1m4.9 0h1m-41.4 .9h1m17.4-0.1h1m.7 .5h1m3.1-0.4h1m1.9 .5h1m-.7-0.2h1m-.4-0.6h1m10.6 .1h1m-.8 .4h1m-37.5 .5h1m8.2 .4h1m.8 .4h1m-1-0.2h1m-.7-0.2h1m.4-0.1h1m.4-0.3h1m3.4 .5h1m2.7-0.1h1m8.1 .2h1m-42 1.3h1m35.9-0.9h1m8.1 .4h1m-46.5 .9h1m12.5 .4h1m9.9-0.6h1m3.5 .4h1m-.4-0.1h1m-.5 .2h1m1.1-0.2h1m7.5 .3h1m0-0.4h1m-.8-0.3h1m-.3 .7h1m1.6-0.7h1m1.2 .7h1m-41.9 .5h1m5.1 .1h1m-.5 .5h1m5.9-0.6h1m-1-0.2h1m-.5 .4h1m-13.7 .6h1m12.4 .9h1m.7-0.5h1m5.9 .1h1m6.6-0.2h1m2.6 .1h1m1.4 .3h1m13.2-0.6h1m-.3 .6h1m-47.1 .6h1m7 .5h1m-.4-0.6h1m23 .4h1m12.5 .1h1m-55.7 .3h1m3.7 .5h1m10.5 .3h1m-.4-0.1h1m9.3 .2h1m3.1-0.8h1m3.2 .3h1m-.4-0.5h1m5.2 .8h1m-8.2 .8h1m-41.7 .7h1m9.3 .6h1m12.9-0.6h1m4.8 0h1m1.4 .1h1m8.8-0.1h1m6.7 .6h1m3.6-0.2h1m-58.9 1.1h1m26.2-0.2h1m-2.1 1.1h1m-.8-0.2h1m1.1 .3h1m34-0.5h1m-47.1 1h1m5.6 .2h1m4.2-0.4h1m1.4 .1h1m1 .2h1m9.3-0.1h1m11.3 .2h1m-.4 .3h1m7.1-0.4h1m-65.2 .8h1m43.9 0h1m-.5 1.7h1m5.6-0.8h1m9-0.1h1m-59.7 1.3h1m6.1-0.1h1m7.8 .2h1m9.8-0.3h1m5.4 .1h1m9.1 .2h1m10.4-0.1h1m4 .2h1m-64.4 .9h1m10.2 .1h1m16.5-0.4h1m14.1 .9h1m.6-0.1h1m9.1-0.5h1m1.3 0h1m-59.7 1.3h1m-.1-0.1h1m29.5 0h1m28-0.5h1m-28.4 1.8h1m3.6-0.6h1m1.5 0h1m4.8 .1h1m3.1-0.3h1m4.4 .1h1m7.7 .4h1m3.3 .1h1m-13.6 1.6h1m-.4 .3h1m1.2-0.3h1m-35.8 1h1m2 .7h1m4.4-0.1h1m.2-0.4h1m3.7 .1h1m21.9-0.6h1m4.1 1h1m-65 .6h1m.3-0.2h1m29.9 .3h1m12.7-0.3h1m4.7 .3h1m.3-0.2h1m-.8 0h1m-26.2 1.5h1m.3-0.8h1m11.4 .1h1m-22.2 1.3h1m21-0.3h1m1.8-0.1h1m8 .2h1m-56.6 1.3h1m2.4-0.1h1m31.4 .1h1m8.2 0h1m1.6-0.3h1m4.9 0h1m10.2 .1h1m-65.2 .5h1m1.5 .3h1m3.2-0.2h1m15.9 .6h1m6.9 .2h1m4.1-0.6h1m2.3-0.1h1m-.8 .1h1m23.1 0h1m-63.1 1h1m3.1 .2h1m13.9 .1h1m19.4-0.1h1m21 .4h1m.2-0.1h1m-64.3 .5h1m3.4 .5h1m.7-0.5h1m26.4 .1h1m22.3 .6h1m-46.7 .1h1m4.8 .9h1m-.7-0.8h1m9.9 .5h1m24.8-0.6h1m6.1 .7h1m-61 .5h1m25.6-0.3h1m2.3 0h1m23.1 .4h1m-53.8 .8h1m3.6 .7h1m14.3 .1h1m-.8-0.9h1m28.9 .2h1m-52.6 1.2h1m23.8-0.2h1m4.1-0.2h1m-29.3 .9h1m.8 .9h1m6.3-0.4h1m.7 .3h1m9-0.5h1m-10 1.7h1m-.6-0.1h1m3.8-0.9h1m-17.6 1.5h1m.5 1.5h1m1.7 .5h1m2.4 0h1m5.3 .3h1m2.3-0.6h1m-.6 .1h1m-10.4 .7h1m.8 1.5h1m2.7 .2h1m-.3 .2h1m-10.4 .9h1m1.8-0.3h1m-6.2 .9h1m6.3 1.5h1m-4 2h1" stroke="#ff0000" stroke-width="1"/>
<line x1="118.9" y1="481.3" x2="192.7" y2="481.3" stroke="#000" stroke-width="1.1"/>
<line x1="137.4" y1="481.3" x2="137.4" y2="484.2" stroke="#000" stroke-width="0.9"/>
<text x="137.4" y="493.2" font-size="8.56" text-anchor="middle" fill="#1a1a1a" color="#1a1a1a" textLength="9.12" lengthAdjust="spacingAndGlyphs">−4</text>
<line x1="156.2" y1="481.3" x2="156.2" y2="484.2" stroke="#000" stroke-width="0.9"/>
<text x="156.2" y="493.2" font-size="8.56" text-anchor="middle" fill="#1a1a1a" color="#1a1a1a" textLength="4.45" lengthAdjust="spacingAndGlyphs">0</text>
<line x1="175" y1="481.3" x2="175" y2="484.2" stroke="#000" stroke-width="0.9"/>
<text x="175" y="493.2" font-size="8.56" text-anchor="middle" fill="#1a1a1a" color="#1a1a1a" textLength="4.45" lengthAdjust="spacingAndGlyphs">4</text>
<path d="M223.9 415.8h1m18.6 3.6h1m-15 4.4h1m-1.6 3.3h1m8.3-0.3h1m-29.3 6.1h1m37.1 1.5h1m3.9 .8h1m-26.4 .7h1m-15.2 4.2h1m8.9-0.5h1m-9.5 3.2h1m42.8 .5h1m-60.5 5.5h1m49.1 1.1h1m-46.7 1.3h1m53.4 1.4h1m7.9 1.1h1m-18.8 .9h1m11.1 1.4h1m2.4 .1h1m.2 .5h1m-12.2 1.8h1m9 1.4h1m-56.2 4.6h1m.5 0h1m.8 3.6h1m-6.3 6.7h1" stroke="#c6dbef" stroke-width="1"/>
<path d="M227.7 402.5h1m3 3.9h1m30.6-0.6h1m-3.8 2.9h1m-.7 2.4h1m-28.3 3.9h1m26.9 .4h1m-23.5 .5h1m-3.6 1h1m-1.7 1.7h1m-6 1.8h1m10.2 .2h1m-18.5 2.7h1m12.1 .3h1m-1.9 1h1m-9.2 2.8h1m-21.8 2h1m17.1-0.2h1m21.8 .2h1m-1 1.1h1m-.1-0.9h1m-25.9 2.7h1m24.3-0.7h1m-32.7 1.6h1m30.2 2.3h1m.6 .3h1m1.5-0.3h1m1.2 .9h1m-4.4 .1h1m-30.6 1.6h1m7.3-0.3h1m13.6 0h1m5.8 .2h1m6.7-0.1h1m-61.5 1.6h1m43.8-0.3h1m1.1-0.6h1m-37.8 1.4h1m-.4 .8h1m14.4 .7h1m5.9-0.1h1m28.8-0.1h1m-42.5 1.2h1m22-0.7h1m3.5 0h1m3.4-0.2h1m2 .3h1m-35.2 .7h1m29.1 .1h1m6.4 .2h1m1.6 .2h1m-37.1 1.1h1m25 .1h1m-45.8 .9h1m15.3-0.4h1m2.8 .7h1m15.4-1h1m-22.9 1.9h1m5.5-0.4h1m26.8-0.2h1m-50.5 1.6h1m12.4-0.6h1m.6 .1h1m-.9-0.1h1m37.8 .4h1m-12.2 .3h1m9.8 .3h1m-.6 .5h1m-19.8 .5h1m12 .6h1m8.8-0.2h1m-30.7 2.9h1m19.3-0.3h1m-23 1.1h1m12.6 0h1m-5.8 .8h1m10 .2h1m11.9-0.1h1m.2 .6h1m-44.9 .4h1m-.7 .7h1m6.5-0.2h1m19.9-0.4h1m-53.1 2.2h1m31.2-0.3h1m22.4 .5h1m1.3 0h1m7.4 .4h1m-36.8 1h1m1.7 .4h1m20-0.5h1m-51.1 3.8h1m8.8-0.7h1m38.7-0.2h1m2.9 .6h1m-49.5 .7h1m16.2-0.1h1m28.6 .6h1m-52.2 .6h1m3.6-0.3h1m2.3 2.1h1m4.9 .6h1m35 .5h1m1.6 1h1m-47.5 6.4h1m-.3 .6h1" stroke="#6baed6" stroke-width="1"/>
<path d="M258.6 412.4h1m1.8 .8h1m-6 .6h1m-12.4 25h1" stroke="#1aa64a" stroke-width="1"/>
<path d="M229.4 403.1h1m-2.8 .5h1m-.2 1.3h1m-1.1 1h1m-.1-0.2h1m-1.8 1.3h1m3-0.4h1m-.5 .1h1m4 1h1m-10.4 1h1m1.6 .4h1m9.8 .4h1m2.6 0h1m-21.8 1.5h1m15.9-0.4h1m1.9 .2h1m-13.8 2.7h1m23.4 .5h1m-16.3 .6h1m4.8 .4h1m-17.3 .9h1m-.3 1.4h1m7.6-0.5h1m2.3 0h1m-21 1.6h1m5.2 .3h1m8.2 0h1m1.3 .5h1m-.3 .6h1m-.5-0.1h1m-16.5 1.3h1m10.3-0.2h1m-.8 .1h1m-1.7 1.9h1m-8.1 1.3h1m13.8 .7h1m-35.4 1.1h1m22.1-0.1h1m11.6 0h1m.5-0.3h1m-38.9 1.2h1m-.2 .7h1m2.2-0.3h1m2.1-0.1h1m2.1 .5h1m22.6-0.1h1m3.8-0.7h1m-37.1 1.6h1m3.2-0.3h1m1.2 .3h1m27.8 0h1m1-0.3h1m-.4 0h1m-48.2 1.3h1m10.6-0.7h1m11.5 .8h1m.3-0.7h1m17.9 .2h1m-44.7 1.6h1m2.7-0.1h1m1.9-0.6h1m.2-0.1h1m12.1 .3h1m4.7 .2h1m11.4-0.1h1m-.2-0.2h1m3.7 .2h1m-47.6 .4h1m2.1 .6h1m4.8-0.5h1m3.3 .2h1m2-0.3h1m1.6 1h1m12.7-0.3h1m-34.8 .5h1m2.5-0.1h1m10 .3h1m34.2-0.3h1m-45.8 1.4h1m5.4 .1h1m1.6-0.4h1m7.5-0.2h1m.4 1h1m4.5-0.4h1m-.2 0h1m-15.3 1.3h1m1.7-0.3h1m2.3-0.1h1m2-0.5h1m12.4 .4h1m3.9-0.1h1m-1 .4h1m8.1-0.3h1m2.5 .3h1m-58.3 1h1m4.6-0.3h1m6.3-0.2h1m1 .3h1m8.1-0.2h1m3.3-0.2h1m8.7 .4h1m8.4 .4h1m4.7-0.5h1m.7-0.2h1m-48.1 1.6h1m6.2-0.2h1m4.2-0.5h1m-.7 .2h1m11.5 .2h1m8.9 .3h1m-40.8 1.1h1m9.6-0.8h1m-.5 .2h1m.3 .4h1m-.7-0.1h1m2.6-0.2h1m5 .1h1m.6-0.3h1m1.4 .2h1m8.8 .1h1m13.2 0h1m-51 .5h1m.2 .3h1m1.4 .6h1m3.2-0.7h1m-.9 .4h1m.6-0.6h1m-.4 .2h1m.2 .2h1m1.7-0.1h1m7.8 .2h1m6.5-0.2h1m.8 .6h1m14.5-0.7h1m9.7 .7h1m-61.8 .7h1m.4-0.1h1m1.8 0h1m6.6 .4h1m-.8 0h1m6.8-0.7h1m5.3-0.2h1m4.5 .5h1m1.9-0.4h1m3.5-0.1h1m-37.8 1.2h1m14.1 .8h1m.2-0.4h1m-.2 .2h1m10.5-0.7h1m-.3 .6h1m6.8 .2h1m21.3-0.1h1m-61.3 .2h1m2.1 .7h1m13.2-0.2h1m3.6-0.4h1m1.9 .1h1m3.7 .2h1m7.2 .5h1m-38.4 1h1m5.5-0.2h1m9.8-0.2h1m.4 0h1m-17.7 1.4h1m4.1-0.7h1m9.9-0.1h1m0 .2h1m9.8-0.2h1m11.7 0h1m14 0h1m-52.4 1.8h1m7.7-0.2h1m.1-0.3h1m.5 .4h1m38.8-0.4h1m-52.4 .7h1m2.6 .3h1m1.9 .2h1m4.6-0.2h1m-16.1 .7h1m11.7 0h1m33.4 .3h1m-49.3 .8h1m7.4 .4h1m47.8-0.6h1m-58.6 1.4h1m-.1 .4h1m5.9-0.6h1m34.6 0h1m4.5 .3h1m14.7-0.1h1m-69.2 1.5h1m5.2-0.4h1m0 0h1m53.2-0.1h1m-35.7 .8h1m1.7 .2h1m8.2 0h1m9.9-0.2h1m-.8 .5h1m4-0.5h1m1.3 0h1m-55.7 1.7h1m-.6-0.8h1m61.8 .5h1m-62.3 .9h1m19.5 .2h1m-1-0.7h1m17.6 .3h1m-15.6 1.6h1m13.8-0.2h1m-.5-0.4h1m-43.9 1.6h1m.4-0.4h1m44.2 .1h1m1.4-0.4h1m4.4 .4h1m-56.5 1h1m2.3 0h1m.3 .3h1m26.1-0.4h1m2.8 .2h1m4.4-0.3h1m10.6 .3h1m11.2-0.2h1m-64.3 1.2h1m36.4-0.3h1m-.2 .4h1m21.1-0.2h1m-59.5 1.3h1m-.1-0.2h1m.6-0.6h1m19.6 .7h1m.6-0.6h1m13.6 .6h1m8-0.3h1m.4 0h1m7.1-0.4h1m-57.8 1.4h1m53.5-0.3h1m-58.1 1.3h1m3.6 .4h1m16-0.6h1m4.6 0h1m31.4 .1h1m-55.2 1h1m2.1 .4h1m10.6-0.7h1m9.6 .2h1m.7 .2h1m27.8-0.5h1m-59.4 1.2h1m6.1 .1h1m6.2 .1h1m2 .4h1m2.2 .1h1m.3-0.7h1m6.5 .5h1m25.5 0h1m-59.5 .6h1m14.7 0h1m3.8-0.1h1m2.6 .5h1m36.5-0.4h1m-42.4 .9h1m1.2-0.2h1m-17.4 1.2h1m-.6 .7h1m5.6-0.5h1m7 .4h1m4-0.1h1m28-0.3h1m-.1-0.2h1m-57.3 1.2h1m1.4 .2h1m20.6 .2h1m-.1-0.7h1m-24 1.3h1m9.7 .6h1m9.5-1h1m34 .7h1m-56.4 .4h1m8.7 0h1m-1 .1h1m8.4 .4h1m1.1-0.5h1m-24.6 1.1h1m0 .6h1m9.7-0.5h1m3.2 0h1m.1-0.3h1m1.1 .5h1m-3.2 1.4h1m.9-0.4h1m1.9-0.4h1m1.1 .7h1m-19.7 1.2h1m1.8-0.3h1m12 0h1m-12.6 1.1h1m4 .1h1m2.7-0.1h1m5 .2h1m-22.4 .2h1m-.2 0h1m10.7 .2h1m-13.2 .9h1m-.5 .2h1m-.1 .5h1m8.4-0.6h1m-11.6 1.2h1m9.8 .1h1m-11.2 .8h1m3.7 .3h1m-1 .2h1m-.1-0.9h1m5.4 .5h1m1.7-0.1h1m-5.6 1.3h1m-.2-0.2h1m5-0.4h1m-8.2 .9h1" stroke="#0000ff" stroke-width="1"/>
<path d="M229.8 405.4h1m4.9 1.8h1m0-0.1h1m-10.8 1.2h1m2.9 .5h1m3.9 .3h1m-10.4 .5h1m-2.6 2.2h1m20.4 .5h1m-11.5 .3h1m-4.6 1.8h1m3.5-0.9h1m-11.8 2.1h1m.2 .7h1m9.2-0.3h1m-15.3 .8h1m.4 1.2h1m9.9 .2h1m-2.7 1.3h1m10.7 .4h1m-11.5 1.1h1m6.2 .1h1m-16.3 1.1h1m-1.5 2.1h1m10-0.5h1m8.6 0h1m-23.1 1.7h1m3.4-0.5h1m17.1 3.2h1m0-0.6h1m-27.5 1.1h1m-11.3 .9h1m8 .1h1m4.6 0h1m-5.4 1h1m.5 .5h1m2.2-0.4h1m-23.8 1h1m33.8 .6h1m3.2-0.3h1m4.5-0.5h1m.8 .4h1m-26.7 1.7h1m-4.9 1.3h1m37.1 .4h1m-44.6 .7h1m.9 0h1m8.2 .4h1m-.2-0.9h1m.5 .8h1m7.5 .2h1m3.9 .4h1m-18.5 .7h1m17.1 .3h1m-17.9 1.1h1m6.2-0.4h1m-.4 .6h1m-8.8 .2h1m10.6 2h1m-16.9 .7h1m.6-0.5h1m-22.3 1.1h1m35.2 .4h1m3.3 .9h1m3 .1h1m-26 1h1m2.5 1h1m9.5 0h1m8.2 1.2h1m-24.1 1.4h1m19.4 .4h1m4.8-0.3h1m13.7-0.2h1m-58 1h1m2.3 .3h1m33.9-0.1h1m.4 .3h1m-38.5 1h1m12.3-0.6h1m18.9 .9h1m.8-0.8h1m-21.5 .9h1m17.3 .9h1m1.6-0.1h1m-.6 .1h1m.2 .7h1m18.5-0.4h1m-26.5 1.7h1m-11.2 .3h1m2.3 .2h1m11.5 .3h1m22.6-0.7h1m-33.1 1.5h1m8.1-0.1h1m-45.4 1h1m39.7-0.2h1m1.6-0.1h1m-13.6 1h1m1.1-0.2h1m11.1 .7h1m9.7 0h1m-36 .4h1m-21.5 1.5h1m2.2-0.1h1m15.7 .2h1m0 .1h1m-.6-0.5h1m28.7 .7h1m10.8-0.3h1m-63.6 1.2h1m3.3 0h1m2.8-0.3h1m14.1 .3h1m16.6 .1h1m-31.9 .1h1m10.1 .2h1m17.7 .5h1m-25.9 1.7h1m10.5 .1h1m-.7 0h1m-25.5 1h1m7.1-0.5h1m13.4 1.2h1m-13.1 1h1m3.7 0h1m1.4-0.2h1m-4.8 2.4h1m-13.8 2.8h1m7-0.2h1m5.7 .9h1" stroke="#ff0000" stroke-width="1"/>
<path d="M224.4 420.4h1m15.4 9.9h1m-27.8 6h1m20.5 .8h1m16.5 .3h1m-10.2 .7h1m8.4 .4h1m7.7 1.5h1m-10.8 1.6h1m9 2.4h1m-14.9 1.2h1m-.3 1.7h1m11.2 .1h1m-61.8 4.6h1m57.4-0.1h1m-12.5 2.9h1m11 .1h1m-.7 1.4h1m-.6 1.1h1m2.7 .1h1m-7.7 2.1h1m-53.9 1.6h1m4.7 .1h1m46.1 0h1m-5.4 2h1m-31.1 1h1m-11.5 3.1h1m-4.1 4.6h1m-3.1 2.4h1" stroke="#c6dbef" stroke-width="1"/>
<path d="M229.4 403.3h1m-3.4 .3h1m.5 .4h1m1.9 .4h1m-.5 1.5h1m5.6 1.7h1m-12.1 1h1m34.9 1.1h1m-38.6 10.9h1m.2 .3h1m11.1-0.1h1m1.7 2.8h1m-20.1 1.4h1m22.9 1.3h1m-3.6 .8h1m-28.3 1.1h1m-6.3 2h1m4.1 2.1h1m-8.5 .5h1m-6.1 1.1h1m25.1 .4h1m20.2 0h1m.4 .2h1m.8-0.5h1m-54.3 .5h1m6 .9h1m15.9-0.8h1m-.5 .6h1m-9.9 1.4h1m-3.2 1.1h1m.2 .3h1m37.7 .3h1m6.8 0h1m-62.7 .3h1m45 .3h1m1.7 .6h1m1.6-0.2h1m-.2-0.3h1m-7.6 1.3h1m8.5 .9h1m-29.8 .7h1m24.9 .2h1m1.6-0.2h1m4 .3h1m-.3 0h1m2.4-0.4h1m-28.7 1.2h1m9.7-0.3h1m10.6 0h1m-60.7 1.5h1m18.8-0.2h1m23.7 1.1h1m3.4 1.3h1m-10.2 .6h1m6.6 .7h1m18.3 .2h1m-40.2 .6h1m4.2 .9h1m24.5 0h1m.9 .1h1m-14 .8h1m11.3-0.7h1m4.8-0.1h1m-59.7 1.5h1m30.4 .5h1m1.9-0.4h1m22.3-0.2h1m-2.3 1.1h1m-16.1 1.2h1m13.9-0.3h1m3.4-0.2h1m-31.2 1.1h1m11.9-0.1h1m14.4 .5h1m-8.6 1h1m-18.5 .4h1m24.2 .8h1m-62.6 1h1m47.8-0.4h1m-.4 .1h1m.8 .8h1m4.3-0.2h1m1.6-0.1h1m-29.2 1.9h1m6.9-0.3h1m13.6-0.1h1m-.7-0.3h1m-48.5 1.4h1m44.7-0.4h1m-37.8 1.1h1m13 .5h1m21.7-0.7h1m6.2 .8h1m-51.5 1h1m9.3-0.6h1m31.5 .2h1m4.4 .4h1m-4.5 .3h1m-1.9 .8h1m-.7 .8h1m-46.1 .8h1m44.8-0.5h1m-57.5 1h1m21.4 .7h1m30.8 .5h1m-38.9 1.4h1m-2.8 1.1h1m-12.2 .6h1" stroke="#6baed6" stroke-width="1"/>
<path d="M226.1 407.4h1m13.6 1.5h1m-13.4 1.1h1m29 3.8h1m-26.3 2.8h1m-3.6 14.5h1m-1 .3h1m15 1.7h1m-20.4 4.6h1m-1.6 1.6h1" stroke="#1aa64a" stroke-width="1"/>
<path d="M226.7 402.6h1m-.4 .9h1m.4 1.2h1m5.9 1.5h1m0 0h1m.9-0.6h1m4 1.6h1m19.4-0.3h1m-36.3 .9h1m8.5-0.2h1m1.4 1.1h1m17.5 .2h1m2-0.3h1m-31.1 .9h1m-.8 .3h1m-9.3 1.1h1m11.8 0h1m8.7 0h1m12.5-0.3h1m-30.9 1.6h1m-.4-0.4h1m2.8 .2h1m9.1-0.2h1m-17.6 .8h1m5.8 .5h1m5 1.2h1m1.4-0.1h1m-13.2 .9h1m-.5 .4h1m-.5-0.6h1m26.7-0.1h1m-35.8 .7h1m6.5 .9h1m11.3 2h1m-19 .6h1m12.7 1.4h1m-.4-0.5h1m-11.7 .8h1m-.9 .5h1m.5-0.4h1m3.4 1.3h1m4.6 .2h1m-18.4 .3h1m3.9 .6h1m4.3-0.1h1m12.5 .1h1m-22.2 .6h1m16 .6h1m2.9-0.7h1m-32.5 1.5h1m7.6 1.2h1m6.2-0.8h1m-22.1 1.7h1m2.1-0.1h1m11.5-0.7h1m-20.5 1.5h1m1 .3h1m0-0.4h1m2.7 .5h1m19.8-0.7h1m2.1 .3h1m8.1 .2h1m-42.5 1.1h1m5.3 .1h1m1.8-0.1h1m1.1-0.7h1m9.8 .8h1m-23.2 .1h1m6.9 .4h1m7.3 .3h1m.7-0.6h1m22.8 .1h1m-43.1 1.1h1m8.2-0.2h1m4.5 .8h1m3.2-0.5h1m4.6 .1h1m10.2-0.2h1m-24.4 .8h1m2.2 0h1m9.3 0h1m2.4 .8h1m-30.8 .1h1m8.8 .7h1m1.8 .1h1m3 .1h1m-.8-0.2h1m10.4-0.6h1m.7 .3h1m8.9-0.1h1m1.7 .6h1m1.2 0h1m-48.3 .5h1m7.2 .2h1m1.3 0h1m3.2-0.5h1m11.8 .2h1m-.7-0.2h1m6.6 .3h1m6.3-0.1h1m-34.8 1.4h1m-.1-0.2h1m4.7-0.4h1m7.2 .4h1m7 0h1m2.2 .3h1m-34.9 .8h1m17.5-0.3h1m-.3-0.3h1m1.7 0h1m6.7 .2h1m6.1 .1h1m-.4 .4h1m-.1-0.1h1m-35.8 .7h1m2.7-0.2h1m4.3 .2h1m9.3-0.1h1m5 0h1m4.9 .5h1m1.8-0.2h1m7.9-0.3h1m-50.9 1.3h1m-.3 .3h1m.5-0.8h1m4.1 .7h1m-.7 .2h1m7.2-0.4h1m5.3-0.5h1m3.6 .5h1m10 0h1m-32.6 1.2h1m13.3 0h1m21.3-0.3h1m9.5 .6h1m0-0.7h1m-53.8 .9h1m1.1 0h1m49.6 .3h1m4.5 .2h1m-56 .7h1m11 0h1m1 .1h1m.8 .4h1m-.3-0.4h1m3.1-0.3h1m.2-0.1h1m2.8 0h1m25.4 .3h1m-54.7 1h1m13.9 .5h1m-7.3 .5h1m.2-0.4h1m3.3 .6h1m2.9-0.3h1m.2 .2h1m-.2-0.4h1m-20 1.7h1m.5-0.2h1m3.5 .2h1m1.9-0.2h1m.5-0.2h1m3.2 .4h1m7.3-0.7h1m6.5 .4h1m12.3-0.4h1m2.1 .5h1m-52 1.4h1m3.9-0.6h1m11.3 .3h1m1.2-0.1h1m-.6-0.3h1m-.2 .7h1m7.7-0.2h1m37.1 0h1m-64.3 .8h1m.7 .3h1m.7 0h1m3.6-0.1h1m7.4-0.1h1m.8-0.1h1m1.4 .3h1m7.4-0.5h1m28.1 .5h1m3 .1h1m-53.1 0h1m5.5 .1h1m11.2 .4h1m8-0.2h1m-9.3 1.7h1m-.7-0.4h1m26.6 .2h1m-.4-0.8h1m-60.2 1.4h1m1.7-0.2h1m13.2 .4h1m23.7-0.2h1m3.4-0.2h1m1.1 .6h1m-46.8 1.2h1m-.4-0.1h1m1.4-0.8h1m14.3 .8h1m28.3 0h1m.5 .1h1m-56.3 .4h1m-.2 .2h1m5.7-0.4h1m-5.1 1.2h1m21.9 .4h1m4.2-0.7h1m27.3 .6h1m3.5-0.5h1m2.1 .2h1m-40.8 1.6h1m3.1-0.6h1m4.1-0.3h1m4.6 .5h1m6.4 .2h1m.3-0.6h1m-29.3 1.8h1m-16.8 1h1m18.9-0.1h1m7.1-0.2h1m10.4-0.3h1m4.9 .1h1m-48 1.2h1m-.9 .1h1m17.4-0.4h1m-22.8 1.2h1m3-0.2h1m-.5-0.2h1m30.6 .8h1m11.4-0.6h1m-48.8 1.3h1m-.6-0.6h1m22.4-0.1h1m4.9 .9h1m.1 0h1m-.1-0.4h1m5.7 .2h1m12.2-0.4h1m3.8 .6h1m-59.9 .9h1m10.7 0h1m11.8-0.8h1m4.1 .2h1m-27.3 1.3h1m.9-0.4h1m16.6 .3h1m.3 0h1m13.9-0.3h1m20.7 .2h1m-.1 0h1m.9-0.2h1m-62 1.4h1m1.3-0.4h1m3.4 .3h1m-.5 .6h1m13.2-0.1h1m-21.9 .9h1m-1-0.5h1m.9 .3h1m-.3-0.3h1m18.7 .1h1m-.4 .2h1m.2 .4h1m34.8-0.7h1m-61.2 .9h1m16.5 0h1m2.2 .3h1m0 .1h1m3.7-0.5h1m2.6 .5h1m-27.6 1h1m.6 .3h1m4.6-0.8h1m14.3 .7h1m-21.1 .7h1m.5-0.4h1m1.4 .6h1m.1-0.3h1m-.2 .4h1m7.2-0.2h1m-9.1 1h1m.5-0.3h1m-12.2 .7h1m3 .2h1m-.7 0h1m3.4 .8h1m2.4-0.4h1m.2-0.2h1m1.8 .4h1m5.3-0.3h1m2.1-0.1h1m-27.1 1.5h1m3.2 0h1m10.8-0.2h1m6.3-0.3h1m-25.1 .9h1m2.4 .2h1m8 0h1m6.8 .4h1m-.8-0.6h1m-20.7 1h1m4.3 .2h1m.1-0.4h1m1 .6h1m-7.8 .7h1m16.2-0.2h1m-10.3 1.3h1m7.2 .3h1m-1 .8h1m2.5-0.6h1m-12.4 1.5h1m3.6-0.1h1m.3 .2h1m-7.1 2h1m1-0.1h1" stroke="#0000ff" stroke-width="1"/>
<path d="M227.7 401.5h1m1.8 2.7h1m-4.2 .8h1m2.1 1.1h1m12.3 4h1m-15.3 3.2h1m-.7 2.1h1m13.4-0.1h1m-22.5 1.2h1m9.7 0h1m-9.5 1h1m6.3-0.9h1m12.5 0h1m-24.3 2.2h1m8.6-0.1h1m4.7 2.7h1m-9.8 1h1m15.9-0.7h1m-17.4 1h1m-.4 .7h1m7.5-0.3h1m9.5 1.1h1m-15.4 .9h1m0 .1h1m11.6-0.2h1m-14.7 1.9h1m3.9 .3h1m8-0.5h1m-29.4 1h1m7.3 1h1m1.4 .1h1m5.3 .2h1m-12.2 .9h1m21.5 .5h1m-43.3 1.1h1m12.5-0.4h1m6.6 .1h1m12.5-0.3h1m-38.5 1.5h1m33.5-0.7h1m2.1 1.1h1m-19.7 2.5h1m12.8-0.7h1m-27.4 1.3h1m-5.2 2.5h1m14-0.5h1m.2-0.3h1m.7 .2h1m8.7 .5h1m-32.8 .7h1m1.4-0.2h1m12.4-0.3h1m21.9 .6h1m5.7-0.4h1m-18.1 1.5h1m12.6-0.2h1m-16.8 1.3h1m-20.5 .9h1m16 1h1m17.3-0.3h1m-6.9 1.2h1m-25.1 1h1m-10.9 1.1h1m37.6-0.5h1m-7 1.6h1m14.9-0.7h1m-52.1 1.8h1m21.3-0.1h1m39-0.5h1m-61 1.6h1m28.5-0.8h1m7.5 .7h1m12.1 0h1m-14 1.1h1m.2-0.2h1m3.9-0.6h1m-8.8 1h1m-.7 .2h1m1.4-0.1h1m2.3 1.2h1m-47.9 .8h1m7.6 .5h1m21.9-0.5h1m9.7-0.2h1m0 .4h1m8.1-0.2h1m-50.2 1.6h1m19.8-0.4h1m16.6-0.4h1m4.7 1h1m-.5-0.8h1m-19.9 1.4h1m8.8-0.4h1m2.5 .3h1m-.2-0.3h1m-7.8 1.5h1m5 0h1m-.1-0.4h1m2.1 .7h1m1.5-0.4h1m-6.4 1h1m.4 .1h1m.2 .1h1m-5.7 .3h1m-41.4 1.3h1m18.9 1.6h1m5.6-0.6h1m-3.3 1.2h1m-16.5 1.2h1m4.1 0h1m7.4-0.5h1m3 .4h1m-23.1 .6h1m.8-0.2h1m15.4-0.1h1m32.7 .7h1m-46.9 1.2h1m20.8-0.1h1m-27 2.1h1m47.6 .1h1m-47.8 3.3h1m16.2 1.4h1m-18.9 3.6h1m-1.3 .9h1" stroke="#ff0000" stroke-width="1"/>
<path d="M242.9 418.7h1m-20.6 1.7h1m16.4-0.7h1m2.4 5.3h1m-30.8 .7h1m-7.7 1.1h1m16.5 3.7h1m-20.9 3.3h1m7.4 .1h1m1.8-0.3h1m-.1 4.7h1m1.9 .7h1m-7.1 3h1m36.5-0.1h1m9.3 1.9h1m-15.6 1.1h1m17.6 .4h1m-15.7 .2h1m9.9 2.4h1m-.7 .9h1m-1.8 1.5h1m-14.5 4.8h1m4.9 2.4h1m-5.5 1.6h1m-30.6 2.8h1m-16.7 2.1h1m-1.3 4.4h1" stroke="#c6dbef" stroke-width="1"/>
<path d="M228.5 402.8h1m6.9 3.1h1m-9.6 3.4h1m30.4 2.2h1m-15.5 .4h1m11.4 0h1m-11.8 1.5h1m14.1-0.3h1m-6.2 .7h1m1.9 1.4h1m.3 1.5h1m-39 3.6h1m.3 3.8h1m8.4-0.2h1m1.8 2.2h1m5.4-0.6h1m-30.4 1.6h1m1.8 .3h1m5.9 .2h1m-20.5 2.4h1m-3 2.3h1m38.9 .8h1m-39.9 1.3h1m18.4 .3h1m11.9 .5h1m2.7 0h1m15.8-0.3h1m-36.4 1.5h1m5.7-0.3h1m9.5-0.3h1m16.3 .5h1m1.6-0.7h1m-44.2 1.6h1m26.4 .2h1m13.1-0.4h1m1.6 1.3h1m-41.5 .5h1m18.1 .1h1m15.5-0.2h1m6 .5h1m-10.7 1.2h1m7.1-0.8h1m-19.3 2.8h1m11.6-0.4h1m-3.7 1.4h1m-.5-0.4h1m4.2 .2h1m-19 .8h1m4.5-0.2h1m15.7 .3h1m-45 .7h1m20.8-0.2h1m14.3 .8h1m4.4-0.8h1m.5 .3h1m1.8-0.2h1m1.5 .5h1m-58.5 1.3h1m17.4 0h1m21 .6h1m6.2-0.2h1m10.7 .3h1m-67.3 1.1h1m28.1-0.3h1m14.4 2.5h1m19.3-0.4h1m-11.9 .7h1m5.1-0.2h1m-58.4 1.2h1m49.3 1.7h1m1-0.8h1m-13.8 1.2h1m-.9 .5h1m4.3-0.4h1m9.2-0.3h1m7.1 .8h1m-67.5 .7h1m52.2-0.5h1m1.9 .9h1m-1.9 1.3h1m-56.5 1.9h1m58.2 .3h1m-40.3 1.1h1m18.5-0.4h1m15.9-0.1h1m-53.5 1.4h1m.5 .1h1m19 1.3h1m-17 0h1m49 .5h1m-50.2 .8h1m18.8 0h1m.1 .4h1m-9 1.2h1m2.3-0.5h1m32.3-0.3h1m-48.1 1.5h1m1.4-0.6h1m4.4 1.4h1m4.1 .2h1m-11.5 2.2h1m-5.1 .5h1m7.5 .2h1m3.8 .8h1m-23.5 .9h1m2.9 .4h1m14.2 1.3h1m-12.9 3.5h1" stroke="#6baed6" stroke-width="1"/>
<path d="M259.1 411.2h1m2.4 4.6h1m-19.4 4.6h1m-6.3 .2h1m-16.5 4.7h1m24.7 3.6h1m-8.9 8h1" stroke="#1aa64a" stroke-width="1"/>
<path d="M228.2 400.7h1m-2.1 4.9h1m3 0h1m7.5 .5h1m22.7 0h1m-36.3 .5h1m2.1 .4h1m4.4 .4h1m2.1-0.3h1m21.8-0.2h1m-25.4 .8h1m1.7 .2h1m-.2 .3h1m-17.4 .5h1m14.6 .8h1m2.7-0.4h1m-16.4 1.4h1m15.9-0.5h1m12.6-0.1h1m-.7 1.2h1m-18.8 1.2h1m.7-0.8h1m-.4 .8h1m12.1 .1h1m4.1-0.8h1m-35.5 .9h1m2.6 .3h1m.5 .3h1m-2.1 1.3h1m-.6-0.3h1m1.8 1h1m.2 .3h1m-12.4 .8h1m1.8-0.3h1m10.8 .9h1m2.2 .1h1m3.4 .1h1m-24.4 1.1h1m19.7-0.5h1m.7 .1h1m-12.7 1.3h1m3.5-0.4h1m2.9 .6h1m-.2-0.3h1m-16.8 1.3h1m10.9-0.5h1m2.9-0.2h1m.5 .3h1m-7.9 1.1h1m.9 .5h1m1.4-0.7h1m-.8 1.3h1m-22.7 1.4h1m4.1 .1h1m2.2 1h1m-6.7 .5h1m.6 .1h1m.7-0.1h1m4.2-0.1h1m-.1 .1h1m-9.1 .7h1m20.2 0h1m1.2 .1h1m-42.4 1.7h1m13.5-0.1h1m.9-0.3h1m8.8-0.4h1m5.3 .1h1m.9 .5h1m5.9-0.5h1m-26.5 .8h1m10.4 .6h1m-24.9 1h1m8.7-0.5h1m6.8 .1h1m1.9 .7h1m-29.6 .9h1m4.5-0.2h1m6.8-0.6h1m7.3 .7h1m-.3-0.3h1m-15.4 1.2h1m2.9 0h1m-.7-0.4h1m5.4 .7h1m3-0.8h1m-22.6 1.3h1m21.7 .2h1m14.3-0.5h1m-38.3 1.1h1m2.6 .7h1m1.3-0.8h1m1.3-0.1h1m-.9 .4h1m.1-0.4h1m31.8 .3h1m-46.6 .7h1m-.6 .4h1m-.7-0.4h1m-.6 0h1m.9 .1h1m-.9 0h1m.2 .3h1m3.4-0.5h1m.2 .1h1m12.1 .1h1m.3 .1h1m-.2 .6h1m7.1-0.9h1m-34.9 1.9h1m20.3-0.3h1m6-0.2h1m3.2 .5h1m2.6 0h1m.6-0.2h1m-38.4 .4h1m-.4 .4h1m4.1-0.1h1m9.6 0h1m3.4 .1h1m2.4-0.5h1m2.1 1h1m6.8-0.7h1m4.3 .5h1m-.4 0h1m-41.5 .6h1m-.2 .5h1m3.2-0.4h1m-.9-0.4h1m5.4 .7h1m11.3-0.4h1m11.4 .4h1m5.8-0.8h1m3.4 .8h1m-46.3 .4h1m11.3 .3h1m7.5-0.1h1m3.6-0.1h1m18.8-0.3h1m-46.4 1.7h1m15.2 .3h1m4-0.8h1m4.1 .7h1m-26.8 .1h1m10.8 0h1m-.8 .7h1m1.4-0.1h1m9.4-0.5h1m0 .2h1m7.1 .3h1m5.9 .2h1m-46.1 .9h1m7 0h1m10 .2h1m12.6-0.5h1m-.6 .1h1m2.2-0.4h1m-37.6 1.7h1m8.2 0h1m11.6-0.7h1m34.8 .1h1m-56.6 1.5h1m2.2 .1h1m.5-0.5h1m-.9 .2h1m9.9 .4h1m6.4-0.2h1m25-0.6h1m4-0.1h1m.7 .4h1m-55.2 .7h1m-.1 .6h1m6.8-0.5h1m-.9 0h1m3.2 .6h1m1.9 0h1m10.3-0.7h1m3.8 .2h1m-.8 .6h1m23.1 .1h1m-59.7 0h1m10.7 .9h1m-.5-0.2h1m-.1 .2h1m6.7-0.3h1m36 0h1m5.3-0.4h1m-56.6 1.4h1m8.9-0.5h1m21.1 .5h1m.5-0.1h1m-41 1h1m5.9 0h1m-.9-0.2h1m38.5 .5h1m17.4-0.5h1m-60.2 1.5h1m10.4-0.5h1m2.1 .1h1m6.9-0.1h1m9-0.1h1m1.8 .3h1m-39.8 1.4h1m2.6-0.5h1m37.9 0h1m9.7-0.3h1m4.6 0h1m-63.8 1.7h1m1.4-0.1h1m3.9-0.6h1m-.7 .7h1m21.9-0.2h1m7.9-0.5h1m-.5 .6h1m-41.2 .3h1m6.7 1h1m44.3-0.4h1m9.7-0.3h1m2.6 0h1m-64.2 1.4h1m25.2-0.1h1m6.9 .3h1m5.9-0.4h1m9.7 .4h1m.7 0h1m-52.7 1h1m-1-0.8h1m34.7 0h1m-43.4 1.3h1m50.1 .4h1m-.7-0.7h1m-52.2 1h1m2.2 .5h1m20.7-0.3h1m-1 .6h1m14.7-0.7h1m27.2 .3h1m-67.2 .6h1m1 .8h1m21.3-0.1h1m4.3-0.8h1m1 1h1m8.4-0.2h1m-44.7 .9h1m.8 .6h1m.2-0.2h1m1.3 .4h1m1.6 .4h1m34.7-0.8h1m-44.1 1.3h1m31.3-0.1h1m15.9 .7h1m10.5-0.4h1m-60.5 .5h1m2.1 .3h1m24.5 .3h1m16-0.6h1m14 .2h1m-60.9 .8h1m6.8 .4h1m12.2 .2h1m.6 .2h1m5.3-0.4h1m-27.6 1.2h1m4.6-0.2h1m3.3 .4h1m8.6-0.5h1m.2-0.2h1m29.3 .3h1m-54.1 .9h1m5.2 .4h1m43.6-0.3h1m3.8 .4h1m3.4-0.6h1m-57.6 .8h1m8.5-0.1h1m1.3 .3h1m-.2 0h1m-9.5 1.3h1m3.9 .3h1m13.5-0.1h1m-17.3 .4h1m5.1 .2h1m8.7 .1h1m-16.2 1.1h1m10.7 0h1m-9.4 .5h1m8.6 .5h1m-25.1 1.3h1m2.2-0.3h1m12.8-0.2h1m.4 .4h1m-.4-0.7h1m1.1 .6h1m-7.9 .3h1m-9.7 2.1h1m1.9 .4h1m1-0.3h1m11.1 .7h1m-12.7 1.1h1m-2.1 .2h1m-4.6 1.7h1m-.7-0.4h1m2.2 0h1m.9 2h1" stroke="#0000ff" stroke-width="1"/>
<path d="M228.5 401.9h1m9.8 3.8h1m1.3 .4h1m-18 .9h1m17.6-0.1h1m-5.7 1.3h1m-13.4 1.7h1m11.5 .1h1m-7 1.1h1m-.4 1.7h1m5.1 2.6h1m-.8 .2h1m-9.5 1.6h1m.7 .8h1m6.8-0.3h1m.8 .4h1m-6.7 1.1h1m-14.2 2.1h1m7-0.6h1m5.7 .4h1m-8.4 1.2h1m10.4-0.2h1m-12.4 1.5h1m9.2-0.1h1m2.6 .3h1m-.4 .1h1m-22.1 .8h1m13 2.7h1m7 .7h1m1-0.1h1m-28.6 1.1h1m-.6-0.3h1m-.2 .1h1m10-0.2h1m-11.8 1.7h1m7.9-0.6h1m16.8 .5h1m-46.5 1.5h1m18.3 .5h1m21.3-0.4h1m-43.3 1.2h1m7.7-0.1h1m-.9-0.3h1m8.3 .5h1m10.9 .2h1m14.7 .1h1m-36.2 0h1m15.8 .8h1m-7.9 1.2h1m15-0.6h1m-22.8 1.6h1m4.5-0.7h1m2.3-0.2h1m11.7 .1h1m-39.9 1.8h1m7.3-0.3h1m7.3 .1h1m4.9 .4h1m.8 0h1m-16.8 1h1m17.4 .4h1m11.4-0.3h1m-23.4 .9h1m19.8 .6h1m23.5-0.2h1m-40.7 1.2h1m20.3-0.5h1m-1.3 2.1h1m-41.6 1h1m.4 1.4h1m7.6-0.6h1m8.1 .3h1m42 .3h1m-1-0.5h1m-60.4 1.3h1m2.6-0.3h1m-.2-0.1h1m28.6 .3h1m-12.2 1.5h1m18-0.2h1m2.1-0.3h1m-11.9 .7h1m1.5 .7h1m4.9-0.3h1m-18 1.8h1m1.1-0.2h1m-6.7 1h1m9.8 .6h1m2.2 0h1m-39 .7h1m22.4 .1h1m1.7 0h1m11.5-0.3h1m.2 .6h1m2.4 .1h1m-.9-0.7h1m.4 .5h1m-.9-0.3h1m-17.3 .6h1m6.9 .2h1m-.2-0.3h1m-.6 1h1m0 .9h1m-.1-0.1h1m23.7-0.3h1m-27.7 .7h1m-.7-0.1h1m-42.3 1h1m23.4 .1h1m14.7 .3h1m3-0.5h1m-12.6 1.2h1m1.9 .4h1m4.9-0.4h1m-1 .2h1m19.4 .5h1m-63.3 1h1m31.1 .1h1m3.9-0.3h1m1.6-0.6h1m2.4 .2h1m1.6 .3h1m-17.2 1.2h1m29.2-0.4h1m4.6 .1h1m-62.5 .9h1m20.3 0h1m19.7-0.1h1m-26 1.5h1m10.7 0h1m9.5-0.4h1m-17.6 .9h1m-.9-0.2h1m6.1 1.8h1m-10.8 .7h1m2.9 .4h1m-18 .2h1m-4.5 2.3h1m15.8 1.5h1m-7.6 2.5h1m-.2-0.2h1m1.5 1.2h1m-14 1h1" stroke="#ff0000" stroke-width="1"/>
<line x1="195.2" y1="481.3" x2="269" y2="481.3" stroke="#000" stroke-width="1.1"/>
<line x1="213.7" y1="481.3" x2="213.7" y2="484.2" stroke="#000" stroke-width="0.9"/>
<text x="213.7" y="493.2" font-size="8.56" text-anchor="middle" fill="#1a1a1a" color="#1a1a1a" textLength="9.12" lengthAdjust="spacingAndGlyphs">−4</text>
<line x1="232.5" y1="481.3" x2="232.5" y2="484.2" stroke="#000" stroke-width="0.9"/>
<text x="232.5" y="493.2" font-size="8.56" text-anchor="middle" fill="#1a1a1a" color="#1a1a1a" textLength="4.45" lengthAdjust="spacingAndGlyphs">0</text>
<line x1="251.3" y1="481.3" x2="251.3" y2="484.2" stroke="#000" stroke-width="0.9"/>
<text x="251.3" y="493.2" font-size="8.56" text-anchor="middle" fill="#1a1a1a" color="#1a1a1a" textLength="4.45" lengthAdjust="spacingAndGlyphs">4</text>
<path d="M317.2 415.4h1m-8.7 4.5h1m6.2 2.3h1m7.6 .1h1m-30.7 4.5h1m19.3-0.3h1m-1 1h1m-33 1.9h1m9.8-0.1h1m.7-0.1h1m5.3 1.8h1m7.6 .6h1m3.6 1.2h1m11.2 1.5h1m-50.8 .5h1m46.2 2.3h1m-27.5 .9h1m-10.9 1.1h1m-.6 .8h1m27.1-0.4h1m-37.6 1.3h1m39.9 .2h1m10.8-0.1h1m7.5 .1h1m-53.2 .6h1m5.4 .2h1m29.2 0h1m7.5 1.8h1m4.6 .5h1m-32.2 1.1h1m18.1-0.4h1m2.8 0h1m4.9 .6h1m-54.4 .7h1m34.3-0.3h1m12 .2h1m-40.7 1.4h1m-18.2 1.1h1m2.8 .1h1m27.4 1.1h1m26.3-0.1h1m-59.9 2.2h1m3.4 .4h1m-4 .8h1m-.8-0.4h1m50.1 .5h1m9.9 2.2h1m-24.5 3.1h1m-40.9 .6h1m-.3 1.4h1m4.7-0.3h1m11.4 .6h1m29.6-0.1h1m-29.2 1.7h1m29.7-0.2h1m4-0.2h1m-.2 .2h1m-36.9 .7h1m1.2 .5h1m30.1 0h1m-45.2 1.4h1m-5.8 2.4h1m3.3 1.4h1m2.4 2.9h1m-11.1 .6h1m16.7 0h1m-11.1 2.2h1m6.9 .1h1m-12.2 .6h1m11.7-0.1h1m-12.9 .8h1" stroke="#6baed6" stroke-width="1"/>
<path d="M306.9 409.9h1m30.6 3.3h1m-37.2 5.9h1m23.1-0.1h1m-18.5 1.4h1m3.4 .5h1m1.2 .3h1m-24.3 3.4h1m-.2 1.3h1m-.1 1.3h1m1.5-0.4h1m-14.6 1h1m5 .6h1m2.2-0.1h1m.8-0.5h1m-.9 .5h1m3.2 .3h1m-11.9 1.7h1m2.4 0h1m3.2-0.3h1m1.9-0.4h1m-16.3 .9h1m6.9 .3h1m27.9 .3h1m-33.6 1.2h1m6.9-0.2h1m8.4 .1h1m-20.3 .5h1m2.2 .8h1m5.2 .1h1m.2 .5h1m-.3 .2h1m31.1-0.3h1m-48.6 1.2h1m10.6 .3h1m4.7-0.9h1m5.3 0h1m24.7 .4h1m-44.6 1.5h1m1-0.4h1m44.2 .3h1m-45 .7h1m34.2-0.3h1m5.6 .7h1m3.7-0.4h1m-56.9 1.4h1m3.3-0.7h1m40.6 .6h1m.3-0.3h1m-50.9 1.2h1m46.5-0.4h1m-.3 .5h1m13.3-0.3h1m-24 1.3h1m19.2-0.4h1m-60.1 .6h1m57.2 .5h1m-57.5 .9h1m3 .1h1m5-0.3h1m4.2-0.1h1m18.4 0h1m9.1 .6h1m10.9-0.4h1m-.2 .1h1m6.1-0.5h1m-66.7 1.2h1m10.4 .4h1m-.9-0.2h1m6.7-0.2h1m13.8 .7h1m16.1-0.1h1m2.8-0.4h1m.7 1.5h1m7.4-0.1h1m-40.2 1.2h1m2.3-0.6h1m16.5-0.2h1m-49.3 1.1h1m.8 .5h1m12.4 .2h1m34-0.8h1m6.1 0h1m1.2 .1h1m-55.2 1.5h1m2.5-0.3h1m13.2-0.4h1m-23.1 1.2h1m2.8-0.2h1m47.2-0.1h1m-.1 .5h1m.1 .4h1m7.6-0.4h1m3.4 .4h1m-44.4 .8h1m32.6 0h1m4-0.4h1m2.5-0.3h1m-64.7 1.9h1m23.3-0.1h1m-.5-0.5h1m4.4 .2h1m2.5 .2h1m8 .2h1m1.3-0.3h1m.5 .1h1m8.8-0.4h1m-.2-0.2h1m-37.6 1.2h1m28.1-0.1h1m7.9 .6h1m4.9-0.7h1m-61.9 1.8h1m29.5-0.3h1m2.6 .3h1m-37.5 .9h1m19.8 .1h1m4.5-0.5h1m3.4 .5h1m14.5-0.6h1m12.5 .6h1m-65.7 .4h1m3.9 .6h1m46.5-0.7h1m-.5 .2h1m2.1 .5h1m-55.6 .3h1m1.4 .4h1m39.7-0.1h1m5.9 .4h1m-.8-0.4h1m.8-0.3h1m5.4 .3h1m6.7-0.4h1m-65.2 1.7h1m22.6-0.4h1m15.3-0.4h1m7 .5h1m3-0.1h1m-54.8 1.6h1m-.2-0.1h1m-.6-0.5h1m-.4 .4h1m2.3 .2h1m34 0h1m14 0h1m-26 .3h1m7.1 .4h1m15.1-0.5h1m5.2 .1h1m1.2 .7h1m-63.8 .1h1m3.2 .6h1m15.9-0.3h1m31 .4h1m-.2-0.5h1m5.3 .5h1m-60.7 1.1h1m7.3-0.7h1m17.8 .5h1m10.8-0.7h1m2.2 .3h1m1.8-0.1h1m19 .2h1m-65.1 .9h1m6.5 0h1m10.8-0.1h1m7.4 0h1m20.9-0.1h1m2.4 .6h1m6.7-0.2h1m-42.7 1.4h1m-.3 0h1m-.4-0.7h1m3.6 .6h1m29.5-0.6h1m4.8 .1h1m.4 .3h1m-56.8 .6h1m-.6-0.1h1m-.3 .7h1m3.1 .2h1m8.6-0.1h1m-.6-0.4h1m30.5 0h1m1.9 0h1m-39.9 1h1m1.5 0h1m-.3 .5h1m.8-0.9h1m5.4 .5h1m24.1-0.1h1m-.1 0h1m3.9-0.2h1m-53.4 1h1m7.2 .2h1m1.4 0h1m36.3-0.2h1m-52.3 1.5h1m5.8-0.3h1m5.3 .1h1m5.2 .4h1m30.7-0.1h1m-50.4 .6h1m4-0.2h1m1.6 .3h1m1.4 .3h1m3.3-0.6h1m-10.2 1.3h1m3.5-0.6h1m5.3 .6h1m-22.6 .5h1m.5 .2h1m.7 1h1m6.9 0h1m7.7 .5h1m-14.4 1h1m4-0.6h1m-9.3 1.3h1m5.6-0.4h1m-7.8 1h1m13.6 .5h1m-14.1 .6h1m13.1 1.5h1m-.7-0.4h1m-.2 0h1" stroke="#0000ff" stroke-width="1"/>
<path d="M305 403.4h1m.8-0.3h1m2.9 1h1m-8.8 2.5h1m9.6 .8h1m1.3-0.1h1m6.1 .4h1m14.1 .8h1m-31.1 .7h1m3.6-0.4h1m-.7 .6h1m7.9 0h1m-13.4 1h1m6.6 0h1m5.6-0.5h1m-6.5 1h1m16.4 .1h1m-34.3 1h1m6 .7h1m24.6 .4h1m3.8 .2h1m-.1-0.2h1m-6.6 .5h1m2.1 .8h1m-34.1 .8h1m-.8-0.3h1m7.5 .5h1m.8-0.3h1m9.2-0.5h1m-23.2 1.2h1m10.9 .2h1m.8 .3h1m1.2 0h1m-7.7 .6h1m2.3 .1h1m.2-0.1h1m.4-0.2h1m4.6 0h1m-19.3 1h1m3.8 .3h1m-2.4 1h1m5.5 1.5h1m-1 .9h1m1.3 0h1m-9.1 .9h1m8.1-0.7h1m-6.6 1.4h1m.8 0h1m2.4-0.3h1m-6.2 .9h1m9.2 .3h1m-11.2 1.2h1m-.6-0.4h1m-.9 .5h1m-.8-0.1h1m.5 0h1m-16.6 1h1m.9 .1h1m9.9 .2h1m-23.5 .7h1m8.3-0.2h1m0 .1h1m5.8 .2h1m4.5 0h1m2.8-0.6h1m-30.8 1.5h1m7.1-0.1h1m5.1-0.3h1m11.9 .6h1m-33.9 .3h1m1.9-0.1h1m4.9 .3h1m31.7-0.2h1m-41.4 1.6h1m-.9 0h1m23.6-0.1h1m3.8 0h1m-31.5 1.3h1m.2-0.7h1m4.5 .3h1m10.7-0.3h1m2.9 .3h1m-.8 .3h1m4.9 .1h1m3.4 0h1m1.3-0.7h1m1.6 .4h1m2.9 .3h1m-43.4 .8h1m-.8-0.3h1m9.4 .1h1m3.2 .1h1m3.6 .1h1m.6-0.2h1m2.3-0.1h1m9.3 .6h1m3-0.2h1m.3-0.1h1m4-0.5h1m1.4 .4h1m-48.7 1.2h1m2.1-0.8h1m.3 .7h1m1.3-0.4h1m3.7 .2h1m.6-0.4h1m5.1 .5h1m10.1-0.2h1m16-0.1h1m-47.3 1h1m8.7 .4h1m5.1-0.1h1m.1 .4h1m1.1-0.3h1m6.9-0.5h1m5.3 .7h1m-.1-0.4h1m-.6-0.2h1m19.9 .4h1m-53.9 .8h1m20.6-0.3h1m-.5-0.2h1m6.9 .1h1m1.3 0h1m12.6 .8h1m-38.9 .7h1m4.8 .3h1m2.4-0.1h1m.5-0.6h1m-1 .2h1m1.5 .1h1m.1-0.3h1m8.9 .4h1m-.8-0.4h1m11.6 .1h1m1.1 .1h1m-52 1h1m15.3 .6h1m2.1-0.3h1m6.2-0.4h1m2.5 .3h1m2.3-0.1h1m-.5-0.3h1m1.7 0h1m-.5 .4h1m10.3-0.4h1m-.5-0.1h1m.5 .8h1m1.1-0.1h1m-.5-0.7h1m5 .8h1m-55.6 .7h1m.9-0.4h1m2.3 .1h1m26-0.1h1m-.5 .1h1m-.5 .7h1m-30.1 .5h1m.2-0.1h1m5.1 .2h1m.6-0.3h1m-.3 .2h1m-.7 .3h1m2.7-0.3h1m.3-0.2h1m4 .1h1m-31.2 .9h1m13.6 .6h1m2-0.8h1m1.3 .5h1m1.8 .1h1m-20.3 .4h1m2.9 .1h1m-.1 .6h1m13.4-0.4h1m11.4-0.3h1m-34.9 1.5h1m4.1 .1h1m3.3-0.2h1m1.4-0.5h1m6.1 .5h1m4.5 .4h1m10.7-0.3h1m3.5-0.1h1m14.8 .3h1m4.1 0h1m-65.1 .2h1m0 .7h1m4.7-0.6h1m25.2 .3h1m0-0.2h1m-1 0h1m2 .7h1m.4 0h1m.4-0.3h1m.2-0.2h1m-.8 0h1m-.9-0.3h1m-.2 .6h1m.3 .3h1m0-1h1m17.7 .5h1m-56.7 1.4h1m17.8 .1h1m1.1-0.6h1m2.2-0.4h1m4.9 .2h1m5.6 .4h1m12.8-0.5h1m-54.9 1.4h1m6.5 .2h1m.6-0.5h1m10.1 .4h1m13.5-0.1h1m3 .1h1m.2 .3h1m10-0.4h1m9.2-0.3h1m-62.1 1.4h1m7.5-0.5h1m.3 .7h1m2.8-0.2h1m2 .1h1m16.4-0.1h1m1.8-0.5h1m-.8 0h1m-.3 .1h1m-37.7 1h1m6.7 .3h1m5.7-0.2h1m3.5 0h1m-.3-0.1h1m10 .7h1m5.1-0.3h1m7.2-0.5h1m1.9-0.1h1m8.8 .3h1m4.7 .4h1m-63.8 1.2h1m-.1-0.7h1m8.9 .3h1m4.6 .4h1m.4 0h1m6-0.4h1m13.6-0.4h1m8.9 0h1m5.8 .1h1m6.1 .5h1m-68 .9h1m1.7-0.4h1m20-0.2h1m15.3 .2h1m-.5 .5h1m2.3-0.4h1m2.7-0.1h1m.6 .7h1m-.9-0.4h1m-47.9 .7h1m26.6 .7h1m4.6-0.2h1m1.9-0.7h1m-.5 .7h1m-.3-0.2h1m1.8-0.4h1m-.4 .8h1m.8 .1h1m2.8-1h1m.1 .6h1m-50.7 .9h1m6.5-0.5h1m11.6 0h1m5 .1h1m-.1 0h1m10.5 .2h1m-.3 .4h1m-.2 0h1m-.5-0.5h1m1.3 .1h1m2.5-0.2h1m-46 1.2h1m19.4 .4h1m-.3-0.2h1m15.6-0.4h1m-.5 .8h1m-.1-0.4h1m.1 .2h1m.8-0.4h1m1.4-0.3h1m-42.3 1.9h1m34.5-0.7h1m.5 .5h1m.7 .1h1m5.5-0.1h1m11.1-0.2h1m-31.5 .9h1m4 .4h1m.6 .1h1m-.5-0.4h1m0 .1h1m12.4 .3h1m.6-0.6h1m7.1 .7h1m-63.3 0h1m3.6 0h1m-.9 .5h1m33.2 .5h1m4.3-0.2h1m6.4-0.3h1m9.7-0.2h1m-.8 .5h1m1.7-0.3h1m-65.4 1.1h1m1.2-0.1h1m-.4-0.4h1m16.5 .5h1m4.8 0h1m12.3 .4h1m21.6-0.2h1m-40.3 .7h1m14.5 .4h1m3.9-0.7h1m2-0.1h1m.2 .6h1m-.4-0.3h1m.1 .3h1m-50.5 .8h1m.5 .1h1m.1-0.4h1m.5 .2h1m23.4-0.1h1m2.4 .2h1m24-0.2h1m-39.6 1.6h1m1.2 0h1m2.2-0.5h1m-.3 .5h1m1.3-0.8h1m1.7 .7h1m.9 0h1m4.7-0.6h1m10.1 .6h1m10.9-0.7h1m-56.4 1.7h1m14.9-0.5h1m3.2 .5h1m3-0.3h1m4.7-0.1h1m2.8-0.2h1m1.5-0.1h1m9.3 0h1m-.3 .5h1m-52.6 .4h1m19.6 .1h1m4.2 .2h1m30.7-0.2h1m-53.8 1h1m3.2 .1h1m-.2-0.2h1m10.3 .4h1m31.5-0.3h1m5.8 .7h1m-61.3 1.1h1m5-0.8h1m7.6 .1h1m2.2 .1h1m7 0h1m30 .3h1m1.2 0h1m-59.9 .5h1m3.4 .1h1m4.2 .5h1m-.9 .3h1m.4-0.4h1m12.2 0h1m-23.6 1h1m11.8 .1h1m3.9-0.6h1m8.9 0h1m-28.4 .9h1m4 .8h1m3.5 .1h1m-1-0.7h1m5.1 .2h1m-.8 1.1h1m-16.1 2.3h1m2.1 .1h1m-.4-0.1h1m-6.1 .3h1m9.4-0.1h1m9.7 .2h1m-11.6 1.3h1m1.8 .4h1m1.7-0.4h1m.2 .1h1m3.8-0.6h1m-15.3 1.2h1m.3 .5h1m.8 0h1m5.5 .2h1m-15.3 .8h1m4.7-0.2h1m.3 .4h1m.1-0.4h1m-5.7 1.2h1m1.9-0.2h1m2 .3h1m-8.1 1.2h1m4.4-0.3h1m8.4-0.2h1m-13.4 .7h1" stroke="#ff0000" stroke-width="1"/>
<path d="M312.9 411.3h1m.2 3.9h1m-12.3 13.6h1m18.5 1.4h1m-25.6 .8h1m-20 1.6h1m45.3 1.1h1m3.8 .1h1m-50.6 1.5h1m.2 .7h1m34-0.5h1m-13.6 1.6h1m17.5 .1h1m3.7 .1h1m7.1-0.7h1m-43.7 1.6h1m41.6 0h1m-26.2 .3h1m-28 1.8h1m5.5-0.6h1m36.2-0.1h1m-39.3 1.5h1m25.2 0h1m2-0.2h1m7.7-0.2h1m-51.4 1.6h1m38.3-0.3h1m23.4 0h1m-56.6 .6h1m48.2 0h1m1 .6h1m-44.8 1.1h1m53 1.2h1m-62.3 .6h1m5.4-0.1h1m6.6 0h1m30.6 .7h1m2.1-0.1h1m8.3 .7h1m-60.1 .6h1m15.2 .1h1m35.7-0.2h1m-24.2 .7h1m7.9 .6h1m4.9 1.6h1m-45.4 1h1m16.4 0h1m11.8-0.1h1m28.9 .3h1m-68.2 1.5h1m4-0.4h1m.7-0.3h1m51.3 .2h1m7.7 0h1m-18.7 1.2h1m-27.6 1.6h1m-.4 .4h1m39.4-0.1h1m-61.5 .5h1m37.7 .5h1m16.1-0.4h1m-15.5 1.7h1m12.5-0.2h1m-4.7 2h1m-.5 .2h1m-33.7 .7h1m-5.7 .8h1m34.9-0.2h1m2 .3h1m-1.6 1.9h1m2.6 .7h1m-54.1 1.1h1m5.3 .2h1m-6.4 1.2h1m12.1-0.3h1m-16.4 2.1h1m21.5 .3h1m-16.3 5.6h1" stroke="#6baed6" stroke-width="1"/>
<path d="M340.8 408.7h1m-4.6 6.8h1" stroke="#1aa64a" stroke-width="1"/>
<path d="M339.9 408.1h1m0-0.2h1m-29.1 .8h1m8.2 .4h1m13.1 .2h1m-34.6 .3h1m5.8 1.7h1m27.4 1.2h1m-30.8 3.7h1m6.7 1.1h1m-23 9.4h1m22 .7h1m-33.6 1.9h1m13-0.3h1m4.4 .4h1m-11.5 .6h1m-.7-0.1h1m-12.2 1.4h1m41.6-0.1h1m-46.2 1h1m8.4-0.1h1m2.6-0.3h1m-15.3 .8h1m14.9 .7h1m-12.3 .4h1m4 .6h1m-.1 .2h1m1.1 .8h1m5.2-0.2h1m.7-0.5h1m26 .4h1m6.5 .1h1m1.3-0.1h1m-.1 .4h1m-58.3 .4h1m3.8-0.3h1m5.4 .4h1m7.4 .4h1m6.4-0.1h1m25-0.3h1m5 .6h1m-54.3 .2h1m49.6 .6h1m.7 0h1m-55.4 .4h1m3.8-0.1h1m48.3 .9h1m-60.1 .1h1m14.5 0h1m32.1 .9h1m-47.4 .1h1m7 .1h1m.3 .2h1m-.1 0h1m2.2-0.2h1m48 .6h1m-.4-0.1h1m-66.4 1.2h1m1.3-0.2h1m.7-0.4h1m13.1-0.3h1m23.4 .3h1m4.5-0.2h1m1 .1h1m6.3-0.2h1m-.8 .2h1m-.3 .2h1m5.1 .1h1m-48.8 1.4h1m3.6-0.1h1m17.7-0.6h1m14.5 .8h1m-39.5 .6h1m11.2-0.1h1m10-0.2h1m-1 .1h1m7.2 .1h1m2.8 0h1m.9 .1h1m5.7 .4h1m-.5-0.9h1m-.8 .9h1m-59.5 .5h1m36.3 .5h1m24-0.5h1m-58.7 1.2h1m20.6-0.4h1m.6-0.1h1m15.6 .6h1m-34.7 .8h1m9.6-0.5h1m11.9 .6h1m12.2-0.5h1m.3-0.1h1m2.6 .7h1m.6 0h1m-47.2 .3h1m1.1 .2h1m7.9 .1h1m5.5-0.3h1m-6.6 1.9h1m3.3-0.9h1m22.3 .8h1m.8-0.5h1m-.8-0.3h1m3.1 .7h1m3.7 .1h1m.5-0.4h1m2.9 .1h1m-65.1 1.4h1m.3-0.3h1m15.6-0.2h1m3.7 .1h1m18.3-0.5h1m19.8 .3h1m-.4 .1h1m-63.1 .5h1m-.7 .8h1m15.8 .1h1m3.4-0.3h1m12.4-0.1h1m2.4-0.4h1m1.2 .2h1m6.7 .2h1m3.5 .1h1m7.6 0h1m-27.4 .6h1m17.4 .1h1m-16.5 1.7h1m16-0.4h1m6.9-0.6h1m-65.7 1.5h1m28.3 0h1m4.6 .1h1m7.6 0h1m2.4-0.4h1m3.2 .3h1m8.6-0.3h1m-40 1h1m2-0.1h1m22.4 .8h1m9.8-0.9h1m2.7 1h1m.4-0.4h1m-61.7 .7h1m36.5 .4h1m7.4-0.1h1m10.7 0h1m-.7 .1h1m1.7-0.2h1m-60.2 1.2h1m35.8 .1h1m5.5-0.6h1m-.2 .4h1m8.5 .1h1m2 .1h1m-1-0.6h1m-.8 .6h1m-64 .5h1m1.4 0h1m18.6 .3h1m31.4-0.3h1m5.9 .6h1m-63.1 1h1m26.5-0.5h1m5.5 .3h1m16.7 .4h1m1.8 .7h1m1-0.7h1m-52.5 1.3h1m43.2 .1h1m11.2-0.3h1m-55.4 1.5h1m18.6 .1h1m33.6-0.2h1m-.1 .3h1m-.7 0h1m-57.3 .2h1m2.2 .9h1m3.8-0.4h1m1.3 .3h1m3.5-0.5h1m36.1-0.3h1m4.7 .4h1m-63.2 1h1m1.3-0.5h1m4.2 .4h1m5.2 .4h1m18-0.3h1m18.5-0.4h1m.5 .7h1m-48.5 .8h1m16.6 0h1m1.5 .2h1m25 .1h1m5.3-0.4h1m-30.4 1.4h1m22.9-0.3h1m5.6-0.5h1m-32.9 1.5h1m-22.6 1.4h1m15.9-0.4h1m.6 0h1m-.8-0.5h1m-9.5 1.8h1m-.9-0.4h1m6-0.1h1m-22.3 1.5h1m3.7-0.2h1m-6.3 1.1h1m6.2-0.1h1m1.7-0.4h1m1.8 .5h1m7.9-0.8h1m-12.6 3.9h1m-.9 .8h1m6.6 0h1m-.9 .3h1m1.1-0.3h1m-9.9 1.9h1m-4.6 2.3h1" stroke="#0000ff" stroke-width="1"/>
<path d="M305 402.7h1m1.6 2.3h1m2.1 1.5h1m-6.3 .5h1m12.6-0.4h1m-15.7 2h1m8.9 .3h1m7.3 .2h1m-19 1.4h1m30.8-0.5h1m-.3-0.1h1m.1 0h1m-31 .7h1m30.7 .5h1m-38.6 2.5h1m9.5 .6h1m5.9-0.2h1m14.1-0.3h1m-27.8 1.5h1m2.4-0.5h1m7.4-0.2h1m-12.9 3.3h1m0-0.2h1m-.7 .2h1m13.2-0.2h1m-19.2 1.2h1m12.3 .6h1m6.1-0.2h1m-9 1.1h1m-17.3 .5h1m2.9 .5h1m12-0.1h1m2.4 .2h1m-22.4 .8h1m.9-0.1h1m2.3 .1h1m7.3-0.7h1m11.7 .5h1m-27.7 .8h1m13.1-0.3h1m-.6 .8h1m6.2-0.5h1m.5 .5h1m-20.8 .4h1m11.4 .4h1m2.8-0.1h1m-18.4 .8h1m10.4 .5h1m5.4-0.1h1m-13.8 .3h1m12.8 .6h1m4.5 0h1m-39.9 1.1h1m3.9 .1h1m19.2 .2h1m-.9-0.5h1m.7-0.1h1m3.3 .4h1m-1 .1h1m1.3-0.9h1m-33.8 1.6h1m0 .4h1m3.8-0.9h1m7.6 0h1m3.1 .8h1m3.2-0.9h1m.8 .2h1m-.8 .1h1m-13.6 1.5h1m-.1-0.2h1m7.2 0h1m3.5 .2h1m.7-0.6h1m-23.9 1.3h1m.9 0h1m3.2-0.3h1m3 .2h1m8 .3h1m1 .1h1m1.3 .1h1m3.1-0.3h1m-36.5 1h1m21.3 .1h1m2.7-0.1h1m4.9-0.1h1m3.3 .1h1m1.3 .2h1m.3-0.7h1m.4 .1h1m-45.5 1.8h1m9.5-0.4h1m4.2-0.4h1m9.2-0.1h1m5.7 .8h1m.1-0.5h1m-22.6 1h1m6.2-0.4h1m-.9 .7h1m-.9-0.7h1m3.3 1h1m2.1 0h1m9.5-0.3h1m-34.2 .7h1m-.6 .1h1m1.8-0.1h1m8.9-0.4h1m10.2 .7h1m4.9-0.1h1m-.1 .3h1m-.2-0.1h1m3.6-0.4h1m8.4 .5h1m.7 0h1m-52 .2h1m4.9 .1h1m.9 .8h1m0-1h1m3.7 .3h1m1.1-0.2h1m6.2 .8h1m11.4-0.1h1m-.8-0.7h1m9.3 .8h1m5.7-0.4h1m-56.7 1.2h1m3.3-0.2h1m14.8 .3h1m0-0.2h1m3.5-0.4h1m8.2 .5h1m2.5 .2h1m-40.2 .3h1m8.1-0.2h1m-.3 .5h1m3.7 .4h1m7.4-0.4h1m24.7 .1h1m9.2 .2h1m-.5 .1h1m-42.3 .1h1m14.3 .8h1m4.9-0.5h1m6.8 .3h1m-45.8 .8h1m2.8-0.1h1m1.2-0.1h1m-.2 .1h1m-.7 .1h1m4.7 0h1m12.5-0.1h1m6.7 .3h1m-.8-0.3h1m.5 .6h1m-.2-0.9h1m1.2 1h1m2.1-0.5h1m-.6-0.4h1m7.1 .6h1m-.5-0.1h1m2-0.5h1m6.3 .7h1m-.9 .1h1m-47 .7h1m20.6 .2h1m19.9-0.8h1m-61.5 1.1h1m2.7 .6h1m3-0.1h1m-.3-0.6h1m16 1h1m5.6-0.5h1m.7 .4h1m-.9-0.5h1m22.1 .5h1m6.4-0.2h1m-.6-0.5h1m-67 1.2h1m12.6-0.2h1m3.6 0h1m1.9 .5h1m-.2 .1h1m.8 .2h1m4-0.4h1m-1 .2h1m10.8-0.7h1m-.3 .4h1m8.8-0.4h1m1.3 0h1m.1 0h1m-39 1.4h1m8.3 .5h1m3.7-0.4h1m3.2 .2h1m2.3-0.7h1m.4 0h1m2.2 .3h1m2.3 .3h1m.2 0h1m-.3 .2h1m4.7-0.6h1m7-0.1h1m-61.6 1h1m8.4 0h1m7.5 .5h1m11.4-0.4h1m5 .1h1m13.9 .1h1m5.3 .3h1m-47.5 .9h1m2.5 .3h1m3.2-0.8h1m1.8 0h1m12.7-0.2h1m16.4 .7h1m-42.5 .4h1m5.4 .5h1m8.2-0.5h1m3.7 .4h1m1.6 .3h1m3.5 0h1m0-0.4h1m-.4 .5h1m2.2-0.4h1m2.4 .1h1m12.7 .1h1m-61.3 1.1h1m5-0.3h1m1.1 .1h1m7.6-0.3h1m12.8 .4h1m6.2-0.5h1m5.2 .2h1m0-0.3h1m2.1 .4h1m16.8-0.1h1m-60 1.2h1m3 .2h1m-.2-0.5h1m16.3 0h1m-.4 .2h1m4.3 .3h1m1.4 .2h1m-29.7 .3h1m26.8 .7h1m-.9-0.9h1m.3 .4h1m7.7-0.5h1m7.6 .3h1m11-0.1h1m-67.9 .8h1m1.1 .6h1m5.7 .3h1m16.4 0h1m-.9-0.2h1m13.1-0.1h1m13.8-0.1h1m1.4-0.1h1m-36.6 .8h1m7.6 .7h1m-.3-0.3h1m10.1 .3h1m.6-0.6h1m6.2 .2h1m2.1 .5h1m-55 .8h1m-.1 .1h1m2.5-0.5h1m.1-0.1h1m1.6 .6h1m16.5-0.5h1m5 0h1m4.1 0h1m2.7-0.2h1m-.8 .3h1m-.2-0.2h1m6.6 .2h1m7.5 .1h1m-56.1 1.4h1m19-0.5h1m0-0.5h1m16.9 .1h1m16.3 .7h1m-.2-0.5h1m-3.1 1.7h1m1.9-0.5h1m3.9-0.1h1m-67.8 .7h1m24.7 .6h1m-.4-0.4h1m12.6 .4h1m.7 .1h1m15.2 .1h1m0 .1h1m-.9-0.5h1m.9 .4h1m-61.4 .8h1m3.5-0.2h1m19-0.3h1m4.5 .7h1m9.9-0.8h1m4 .2h1m6.7-0.3h1m10.4 .8h1m1.3-0.4h1m-67.2 1.5h1m6.2-0.1h1m20.3 0h1m6.1-0.8h1m3.9 .8h1m-.4-0.5h1m.7 .4h1m-.8 0h1m.9-0.2h1m19.1 .3h1m.7-0.7h1m-66.6 1.5h1m-.9 .1h1m5.6-0.5h1m13.6-0.1h1m16.9 .4h1m.3 .1h1m18.8-0.4h1m.8 .4h1m-61.9 .9h1m18.7 .2h1m5.3 .3h1m13.1-0.4h1m-.8-0.1h1m1.1-0.4h1m-39.1 1.7h1m15.7-0.6h1m4.7 .3h1m4.5 .2h1m7-0.6h1m2.7 .1h1m-45.9 1.4h1m9.6 .1h1m1.1-0.3h1m3.5-0.1h1m-.4-0.3h1m.5 .4h1m1 .4h1m1.9-0.6h1m.2 .5h1m10.9-0.7h1m-30.6 1.9h1m.9-0.5h1m12.7 .5h1m.8-0.7h1m1.6 .8h1m26.6-0.8h1m.1 .5h1m-.4-0.6h1m.7 .9h1m4.6-0.9h1m-62.5 1.3h1m6.4-0.3h1m6.1-0.1h1m2 .7h1m-.8-0.3h1m-.9 0h1m3.3-0.1h1m4.4 .2h1m.2 0h1m21.1 .2h1m-55.6 1.1h1m13.7-0.8h1m11.2 .9h1m1.8-0.2h1m-28.5 .5h1m3.2 .1h1m12.4-0.1h1m0 0h1m-.2 .2h1m-.6 .6h1m.6-0.3h1m33.2 0h1m1.1-0.5h1m-48.1 1.8h1m2-0.1h1m3.4-0.4h1m.8 0h1m1-0.5h1m2 .8h1m-26.1 2h1m1-0.5h1m2.6 .3h1m9.2-0.2h1m3.7-0.2h1m-.7 .4h1m-19.8 .6h1m2.7 .7h1m1.6 0h1m-.6 0h1m-8.3 .5h1m.4 .6h1m9.2-0.4h1m3.3 .1h1m.4-0.1h1m-18.6 .4h1m13.3 .5h1m2.4-0.4h1m.7 0h1m-9.1 2h1m-1.1 1.5h1m3.7 .6h1" stroke="#ff0000" stroke-width="1"/>
<path d="M309.9 409.6h1m-.1 2.5h1m4.3 6h1m8.3 4.7h1m.1 1.5h1m-14.9 1.1h1m-22.7 3.8h1m-.6-0.5h1m-8.6 2.7h1m15.2-0.1h1m-13 3.2h1m33.9 .3h1m-46.1 3.2h1m58.6 1.3h1m-40.4 .9h1m35.7-0.7h1m.7 .9h1m-43.5 .1h1m23.9 1.8h1m2.4-0.6h1m-11.4 1h1m.3 .7h1m-31.5 .8h1m59.1-0.6h1m-15.2 2.5h1m-42.9 .5h1m19.1 .9h1m18.9-0.5h1m-40.7 2.2h1m11 .2h1m20.2-0.6h1m-5.4 1.1h1m25.6 .5h1m-65.2 1.1h1m46.6-0.8h1m-47.7 1.2h1m.5 .3h1m51.5-0.7h1m-58.4 2.2h1m57.1 .6h1m-52.1 .6h1m49.1 .3h1m2.6-0.3h1m7-0.3h1m-30.5 1.7h1m22.4-0.2h1m-27.3 1.1h1m7-0.6h1m4.7 .4h1m5.4 .1h1m11-0.3h1m-46.4 .8h1m-18.9 3.8h1m1.7-0.7h1m9.9 1.7h1m42.4-0.9h1m-35.9 1.2h1m30.8 .3h1m-52.6 1.7h1m20.2 2h1m-16.6 1h1m-4.8 5h1" stroke="#6baed6" stroke-width="1"/>
<path d="M337.9 409.3h1m1.2 3.3h1" stroke="#1aa64a" stroke-width="1"/>
<path d="M315.8 406.8h1m19.7 2.7h1m-14.1 6h1m13.5 .8h1m-36.2 2.5h1m-1.6 1.4h1m3.3-0.4h1m6.9 4.6h1m-26 2h1m5.1 1.1h1m0-0.6h1m18.6-0.4h1m-33.9 1.4h1m6.8 0h1m-.6 .2h1m1.5 .3h1m19.7-0.3h1m-28.1 1.4h1m.4 .5h1m8.4 .4h1m15.1-0.3h1m-31.7 .8h1m5.2 .4h1m18.5 .3h1m-31.9 1.2h1m4.6 0h1m11.6 .2h1m16.1 .1h1m-34.8 .7h1m7 .3h1m10-0.3h1m-16.1 2.5h1m6.2-0.4h1m33.2 .7h1m.8 .2h1m4.4 .3h1m-55.2 .5h1m8.1 .5h1m38.9 .2h1m-.5-0.7h1m1.8 .8h1m7.2-0.2h1m-63.5 .6h1m18.2 .5h1m36.8-0.1h1m1.9-0.1h1m-48.3 1.3h1m38.2-0.2h1m-.1-0.6h1m-53.6 1.3h1m4.9 .2h1m39.8 .2h1m15.5-0.6h1m-61.3 .9h1m4.6 .4h1m7.4 .1h1m23.3-0.4h1m6.3 .2h1m-.5-0.2h1m3.5 .5h1m-54.7 1.2h1m4-0.9h1m4.1 .6h1m-1-0.3h1m2.4 0h1m-1 .6h1m-.9-0.3h1m23.7-0.4h1m20.5 .6h1m2.4-0.8h1m.6 1h1m-57.3 .3h1m-.4-0.2h1m2.9 .6h1m-.9-0.2h1m1.4 .2h1m3.5-0.2h1m4.9-0.1h1m15.9-0.1h1m8 .2h1m6.6-0.1h1m-52.2 .9h1m1.6-0.1h1m4.9 .4h1m-.1-0.1h1m35 0h1m10.8 0h1m-58.2 .7h1m12.3 .3h1m-.6 .3h1m-.9 0h1m10.2 .1h1m9.4 0h1m-38.2 .4h1m3.3 0h1m18.4 .2h1m18 .3h1m-14.7 1h1m4.9-0.8h1m16.8 .8h1m-55.3 .5h1m21.9 .2h1m9.9 .4h1m7.7-0.7h1m.2 .8h1m9.8-0.6h1m-60.3 1.4h1m4.4-0.2h1m18 0h1m.5-0.5h1m9.2 .5h1m-30.5 1h1m15.7-0.6h1m23.7 .2h1m0 .1h1m-45.4 1.3h1m1.4-0.5h1m33.5 .2h1m1 .3h1m3.4-0.5h1m3.2 .4h1m2.1 .1h1m6.5 .3h1m.2-0.2h1m-63.5 .6h1m0 .3h1m18.8 .1h1m26.4-0.6h1m-.8 .4h1m2.3-0.3h1m.4 .3h1m12.2 0h1m-.2 .4h1m-66.2 .3h1m28.3 0h1m7.6-0.2h1m16.2 .4h1m-.7 .6h1m-33.2 .4h1m8.9 .6h1m17.9-0.3h1m6-0.3h1m4.2 .1h1m-37.2 .6h1m4.4 .7h1m12.9 .1h1m-10.4 .1h1m.2 .8h1m7.4 0h1m-50.5 1h1m.6-0.2h1m2.6 .3h1m20.9-0.7h1m32.9 0h1m0 .6h1m-57.8 1h1m18 0h1m3.4-0.6h1m9.6 .6h1m22.1 .1h1m-62.6 .9h1m18.4-0.2h1m-.2 .4h1m.6-0.6h1m.5 .1h1m26.7 0h1m.3 .2h1m5.4-0.3h1m2.7-0.2h1m-63.4 1.4h1m3.1 .1h1m6.1 .1h1m36.5-0.6h1m-33.9 1.5h1m2.9-0.2h1m3-0.5h1m35.1 .1h1m-59 1.7h1m-.4-0.7h1m9 .9h1m-.8-0.8h1m10 0h1m1.1 .1h1m2.3 .2h1m-.8 0h1m19.9-0.4h1m1.9 .4h1m1.5 0h1m4.2 0h1m-60.5 .7h1m.7 .2h1m16.5 .5h1m0-0.3h1m.6 0h1m-16.7 .7h1m13-0.2h1m-.3 .5h1m.5-0.3h1m-.8-0.2h1m1.5 .7h1m23.2-0.6h1m6.2 0h1m-43.7 1.3h1m3.6 .1h1m-.3-0.1h1m4.8 .4h1m-.2-0.4h1m21.6-0.1h1m-31.8 1.5h1m-2.4 .9h1m-11 .7h1m-1-0.2h1m8.9 .5h1m-.6-0.7h1m6.4 .3h1m-18.7 .7h1m.5 .7h1m.5-0.8h1m8.9 2.3h1m-19.4 1.1h1m.4 0h1m15.7 .5h1m-15.8 1.1h1m2.6 .2h1m1.1 1.7h1m3 .5h1m-5.9 .9h1" stroke="#0000ff" stroke-width="1"/>
<path d="M306.1 402.9h1m-2.1 2.8h1m6.9 .7h1m-.8-0.8h1m-8.3 1.8h1m-4 1.9h1m.7-0.4h1m8.8-0.1h1m-7.3 1.3h1m2 0h1m8.8 .1h1m-18.8 .6h1m10.5 0h1m-6.4 1h1m10-0.1h1m-13.2 1.3h1m1.6-0.3h1m-2.8 1.2h1m25.4 .4h1m-22.4 .3h1m2 .1h1m-16.5 1.6h1m0-0.6h1m3.1 .5h1m6.6 0h1m4.5-0.2h1m3.6-0.4h1m-21.5 1.1h1m13.5 0h1m3.3 .6h1m.2 1.3h1m-13.4 1h1m.4 .1h1m7.9 0h1m-19.8 1.1h1m14.7 .1h1m1.5 .5h1m-.8-0.4h1m1.9 0h1m-20.2 .6h1m7 .6h1m.2-0.1h1m-.9 .2h1m-.8-0.5h1m8.3 0h1m-16.4 1.3h1m2.1-0.4h1m-.4 .2h1m-.4 .1h1m-.1-0.4h1m1.2 .5h1m.9-0.3h1m6 .2h1m-17.6 .8h1m12.9 .6h1m-19.8 .2h1m3 .1h1m4.3 .4h1m.5-0.4h1m.4 .4h1m1.6 .2h1m-2.8 1.2h1m-28.5 .1h1m10.9 .7h1m12.3-0.1h1m5.7-0.2h1m1.7 0h1m.7 0h1m-42 1.1h1m-.5 .1h1m15.2 .3h1m6.2-0.6h1m-.2 .3h1m3.2 .3h1m.5-0.6h1m1.4-0.4h1m-30.7 1.4h1m34.9 0h1m-42.7 1.2h1m-.1 .2h1m4.3-0.8h1m4.4 .8h1m3.2-0.7h1m1.8 .1h1m19.2 .1h1m-.8 .5h1m-42.9 .7h1m3.5 .4h1m3.1-0.3h1m-.4 .4h1m-.2-0.2h1m-.6-0.2h1m-.9 0h1m3.9-0.1h1m6.4-0.1h1m-.7-0.2h1m12.4 0h1m0 .2h1m4.7-0.2h1m3.3 .8h1m1.7-0.8h1m-48.5 1.4h1m13.8-0.1h1m16.4-0.2h1m2.3-0.1h1m3.6 .2h1m-44.2 1h1m3.3-0.2h1m.2 .1h1m-.8 .2h1m3.8-0.1h1m-.7-0.2h1m9.5 .3h1m10.3-0.3h1m1.8 .5h1m-36 1.1h1m10.7-0.1h1m8.9-0.1h1m1.9 0h1m11.2 .1h1m-35.8 .8h1m5.1 .2h1m2.5-0.3h1m-.8-0.3h1m.5 .9h1m2.2-0.5h1m3.7 0h1m7.4 .2h1m-.1-0.4h1m7.7 .3h1m-.6-0.1h1m0 .4h1m.6-0.5h1m5.6 .5h1m7.8-0.1h1m-51.6 .8h1m10.6 0h1m.3-0.1h1m4 .4h1m-.5-0.3h1m.7-0.6h1m3.5 .9h1m4.1-0.5h1m.7 .4h1m2.8-0.7h1m1.9 .5h1m0-0.5h1m.9 .5h1m1.3 .2h1m-48.3 1h1m1.9-0.3h1m6.3 .4h1m12.5 0h1m.9-0.6h1m9-0.1h1m-.7 .2h1m10-0.1h1m6.9 .4h1m-57.6 .4h1m-.1 .3h1m1-0.1h1m9.9 .2h1m14.4-0.1h1m6.7-0.1h1m8.9 .2h1m-49.6 .8h1m5.8-0.3h1m15.6 .1h1m.3 .3h1m9.2-0.1h1m3.4 .3h1m3.5 .1h1m-40.3 1.2h1m-.7-0.1h1m2.3 0h1m4.3-0.2h1m1.5-0.1h1m3.1-0.2h1m10.1-0.2h1m5.3 .7h1m-.8-0.5h1m1.7 .6h1m5.9-0.6h1m-48.8 1.6h1m.5-0.3h1m5.2 0h1m3.1-0.4h1m3 .7h1m.1-0.9h1m17.6 .7h1m3.4-0.3h1m.7 .2h1m-.9-0.1h1m-.8 .5h1m4.1-0.8h1m7.6 .1h1m-17.1 .8h1m-1 .5h1m-.6 0h1m10.2-0.3h1m4.1-0.1h1m.5 0h1m-53 1.6h1m5 .1h1m5.2-0.3h1m9.7-0.3h1m8.6 .1h1m0 .4h1m1.6 0h1m-.7-0.4h1m3 .1h1m3.2-0.1h1m6.3 .3h1m.9 0h1m-61.3 1h1m.2-0.3h1m11.5 .4h1m3-0.2h1m-.4 .4h1m.3-0.5h1m2.1-0.4h1m14.3 .9h1m1.4-0.8h1m15.9 .2h1m-.8-0.3h1m.4 .5h1m-57 1.1h1m12.8-0.5h1m3.6 .5h1m16.6-0.2h1m7.9 .3h1m1.3-0.6h1m11.7 .3h1m-48.4 1.2h1m1.7 .2h1m2.8-0.2h1m3.5-0.3h1m10.1-0.1h1m1.3 .2h1m-.5-0.3h1m-.8 .8h1m19.1-0.7h1m-38 1.1h1m9.8-0.4h1m4.9 .3h1m.7-0.3h1m1.2 .5h1m1.4-0.2h1m.9 .6h1m12-0.4h1m.4 .5h1m2.9-0.6h1m1.6 .5h1m-69.9 .8h1m6 0h1m.3-0.2h1m10.5-0.1h1m2.5 0h1m4.9 .4h1m.8-0.7h1m3.1 .3h1m3 .5h1m.4-0.3h1m20.5 .1h1m4.3-0.5h1m-58.9 1.4h1m.2-0.1h1m9.4-0.2h1m6.3 0h1m6.8 .3h1m6.7-0.2h1m5.6 0h1m1.3 .1h1m-53.8 .8h1m.1 .7h1m30.7-0.4h1m.5 .3h1m5.6-0.2h1m13.7 0h1m-56.5 .7h1m39.6 0h1m.1-0.3h1m1.8 .6h1m-43.5 .6h1m18 .3h1m.1 0h1m3.3 .4h1m2.4-0.5h1m3.5 .1h1m1.4-0.1h1m-.3 .4h1m2 .1h1m0-0.5h1m-1 .3h1m-.9-0.2h1m.7-0.2h1m1.1 0h1m3.8 .3h1m3.1-0.4h1m5.8 .4h1m1-0.6h1m-60.6 1.4h1m23.1 .3h1m.9-0.7h1m.7 .2h1m.3 .2h1m-1 .2h1m-.7 .2h1m-.2-0.1h1m1.3-0.1h1m22.1 .2h1m-37.4 .9h1m15.8-0.6h1m8.6 .1h1m-8.8 1.1h1m.9 .4h1m4.3-0.6h1m18.2 .3h1m-68.3 .6h1m2.4 .1h1m24.1 .2h1m11.5 .5h1m-.4-0.5h1m.2 .4h1m-.2 .1h1m6.7-0.6h1m3.3 .5h1m-.8-0.5h1m.2 .7h1m.6-0.4h1m-60.3 1.4h1m1-0.3h1m4.8 .3h1m20.3-0.6h1m.7 .4h1m12.6-0.7h1m-14.6 1.8h1m.2-0.2h1m2.9-0.4h1m2.3 .2h1m10.7-0.2h1m-49.3 .9h1m.1-0.1h1m1.5 .9h1m.7-0.2h1m.5-0.5h1m12.6 0h1m-.1 .6h1m6.2-0.3h1m8.3 0h1m14.6 0h1m3.9-0.2h1m-59.5 .8h1m18.3 .4h1m4.6-0.3h1m5.3 .1h1m4.2-0.2h1m11.5-0.2h1m-.8 .7h1m3.2-0.4h1m-33.4 1.1h1m3.5 0h1m3.6 .4h1m2.4-0.3h1m5.7 .1h1m1.6 0h1m7.5 .2h1m9.5-0.2h1m-60.1 .4h1m0 1h1m3.4-0.2h1m-.8-0.7h1m10 .3h1m12.5-0.4h1m27.6 .6h1m-42.1 1h1m3.6-0.3h1m.5 .2h1m1.2-0.3h1m23.1 .7h1m1.1-0.3h1m-30.8 .5h1m25 .7h1m-52.8 1.1h1m21.4-0.1h1m-.3-0.7h1m5.3 0h1m-30.4 1.3h1m8.8-0.3h1m5.7 0h1m-6.2 1.3h1m13.7 .3h1m-23.6 .8h1m18.2-0.2h1m.3-0.2h1m-22.5 1.6h1m2.5-0.1h1m5.7-0.1h1m8.7 .3h1m-22.3 1.1h1m4.7 0h1m7.7-0.2h1m-9.3 1.1h1m11.4-0.4h1m2.8 .4h1m-16.2 1.4h1m1.9 .6h1m5.5 .9h1m.6 0h1m-12 1.1h1m-.8-0.7h1m0 .4h1m.7 1.5h1m.1-0.7h1m5.2-0.2h1m-8.1 1.5h1" stroke="#ff0000" stroke-width="1"/>
<line x1="273.1" y1="481.3" x2="346.9" y2="481.3" stroke="#000" stroke-width="1.1"/>
<line x1="291.6" y1="481.3" x2="291.6" y2="484.2" stroke="#000" stroke-width="0.9"/>
<text x="291.6" y="493.2" font-size="8.56" text-anchor="middle" fill="#1a1a1a" color="#1a1a1a" textLength="9.12" lengthAdjust="spacingAndGlyphs">−4</text>
<line x1="310.4" y1="481.3" x2="310.4" y2="484.2" stroke="#000" stroke-width="0.9"/>
<text x="310.4" y="493.2" font-size="8.56" text-anchor="middle" fill="#1a1a1a" color="#1a1a1a" textLength="4.45" lengthAdjust="spacingAndGlyphs">0</text>
<line x1="329.2" y1="481.3" x2="329.2" y2="484.2" stroke="#000" stroke-width="0.9"/>
<text x="329.2" y="493.2" font-size="8.56" text-anchor="middle" fill="#1a1a1a" color="#1a1a1a" textLength="4.45" lengthAdjust="spacingAndGlyphs">4</text>
<line x1="41.3" y1="398.8" x2="41.3" y2="481.8" stroke="#000" stroke-width="1.1"/>
<line x1="38.3" y1="401.5" x2="41.3" y2="401.5" stroke="#000" stroke-width="0.9"/>
<text x="35.8" y="404.1" font-size="8.13" text-anchor="end" fill="#1a1a1a" color="#1a1a1a" textLength="10.57" lengthAdjust="spacingAndGlyphs">5.0</text>
<line x1="38.3" y1="421.75" x2="41.3" y2="421.75" stroke="#000" stroke-width="0.9"/>
<text x="35.8" y="424.35" font-size="8.13" text-anchor="end" fill="#1a1a1a" color="#1a1a1a" textLength="10.57" lengthAdjust="spacingAndGlyphs">2.5</text>
<line x1="38.3" y1="442" x2="41.3" y2="442" stroke="#000" stroke-width="0.9"/>
<text x="35.8" y="444.6" font-size="8.13" text-anchor="end" fill="#1a1a1a" color="#1a1a1a" textLength="10.57" lengthAdjust="spacingAndGlyphs">0.0</text>
<line x1="38.3" y1="462.25" x2="41.3" y2="462.25" stroke="#000" stroke-width="0.9"/>
<text x="35.8" y="464.85" font-size="8.13" text-anchor="end" fill="#1a1a1a" color="#1a1a1a" textLength="15" lengthAdjust="spacingAndGlyphs">−2.5</text>
<text x="16" y="440.5" font-size="9.63" text-anchor="middle" fill="#1a1a1a" color="#1a1a1a" textLength="29.2" lengthAdjust="spacingAndGlyphs" transform="rotate(-90 16 440.5)">UMAP_2</text>
<text x="194" y="506" font-size="9.63" text-anchor="middle" fill="#1a1a1a" color="#1a1a1a" textLength="29.5" lengthAdjust="spacingAndGlyphs">UMAP_1</text>
<circle cx="356.1" cy="398.3" r="2.3" fill="#c6dbef"/>
<text x="363.3" y="400.9" font-size="7.4">CD4<tspan font-size="4.5" dy="-2.8">+</tspan><tspan dy="2.8"> T-cells</tspan></text>
<circle cx="356.1" cy="406.9" r="2.3" fill="#6baed6"/>
<text x="363.3" y="409.5" font-size="7.4">CD4<tspan font-size="4.5" dy="-2.8">+</tspan><tspan dy="2.8"> T</tspan><tspan font-size="4.8" dy="1.8">cm</tspan></text>
<circle cx="356.1" cy="415.5" r="2.3" fill="#2f7fc1"/>
<text x="363.3" y="418.1" font-size="7.4">CD4<tspan font-size="4.5" dy="-2.8">+</tspan><tspan dy="2.8"> T</tspan><tspan font-size="4.8" dy="1.8">em</tspan></text>
<circle cx="356.1" cy="424.1" r="2.3" fill="#0000ff"/>
<text x="363.3" y="426.7" font-size="7.4">CD4<tspan font-size="4.5" dy="-2.8">+</tspan><tspan dy="2.8"> T</tspan><tspan font-size="4.8" dy="1.8">regs</tspan></text>
<circle cx="356.1" cy="432.7" r="2.3" fill="#fdd0b5"/>
<text x="363.3" y="435.3" font-size="7.4">CD8<tspan font-size="4.5" dy="-2.8">+</tspan><tspan dy="2.8"> T-cells</tspan></text>
<circle cx="356.1" cy="441.3" r="2.3" fill="#ff0000"/>
<text x="363.3" y="443.9" font-size="7.4">CD8<tspan font-size="4.5" dy="-2.8">+</tspan><tspan dy="2.8"> T</tspan><tspan font-size="4.8" dy="1.8">cm</tspan></text>
<circle cx="356.1" cy="449.9" r="2.3" fill="#d55a45"/>
<text x="363.3" y="452.5" font-size="7.4">CD8<tspan font-size="4.5" dy="-2.8">+</tspan><tspan dy="2.8"> T</tspan><tspan font-size="4.8" dy="1.8">em</tspan></text>
<circle cx="356.1" cy="458.5" r="2.3" fill="#1aa64a"/>
<text x="363.3" y="461.1" font-size="7.92" textLength="18.51" lengthAdjust="spacingAndGlyphs">Other</text>
<circle cx="356.1" cy="467.1" r="2.3" fill="#6a6a6a"/>
<text x="363.3" y="469.7" font-size="7.92" textLength="10.28" lengthAdjust="spacingAndGlyphs">NA</text>
<text x="418.6" y="354.6" font-size="10.4" font-weight="bold" fill="#000" color="#000">F</text>
<line x1="453.6" y1="355.5" x2="453.6" y2="479.8" stroke="#000" stroke-width="1.1"/>
<line x1="453.1" y1="479.3" x2="512.3" y2="479.3" stroke="#000" stroke-width="1.1"/>
<line x1="450.6" y1="361.3" x2="453.6" y2="361.3" stroke="#000" stroke-width="0.9"/>
<text x="447.4" y="363.8" font-size="8.56" text-anchor="end" fill="#1a1a1a" color="#1a1a1a" textLength="15.6" lengthAdjust="spacingAndGlyphs">1.00</text>
<line x1="450.6" y1="390.8" x2="453.6" y2="390.8" stroke="#000" stroke-width="0.9"/>
<text x="447.4" y="393.3" font-size="8.56" text-anchor="end" fill="#1a1a1a" color="#1a1a1a" textLength="15.6" lengthAdjust="spacingAndGlyphs">0.75</text>
<line x1="450.6" y1="420.3" x2="453.6" y2="420.3" stroke="#000" stroke-width="0.9"/>
<text x="447.4" y="422.8" font-size="8.56" text-anchor="end" fill="#1a1a1a" color="#1a1a1a" textLength="15.6" lengthAdjust="spacingAndGlyphs">0.50</text>
<line x1="450.6" y1="449.8" x2="453.6" y2="449.8" stroke="#000" stroke-width="0.9"/>
<text x="447.4" y="452.3" font-size="8.56" text-anchor="end" fill="#1a1a1a" color="#1a1a1a" textLength="15.6" lengthAdjust="spacingAndGlyphs">0.25</text>
<line x1="450.6" y1="479.3" x2="453.6" y2="479.3" stroke="#000" stroke-width="0.9"/>
<text x="447.4" y="481.8" font-size="8.56" text-anchor="end" fill="#1a1a1a" color="#1a1a1a" textLength="15.6" lengthAdjust="spacingAndGlyphs">0.00</text>
<text x="426.6" y="417.2" font-size="9.42" text-anchor="middle" fill="#1a1a1a" color="#1a1a1a" textLength="49.5" lengthAdjust="spacingAndGlyphs" transform="rotate(-90 426.6 417.2)">Cell proportion</text>
<rect x="458.1" y="475.76" width="10.8" height="3.59" fill="#7f7f7f"/>
<rect x="458.1" y="473.05" width="10.8" height="2.76" fill="#1aa64a"/>
<rect x="458.1" y="465.14" width="10.8" height="7.96" fill="#d55a45"/>
<rect x="458.1" y="374.28" width="10.8" height="90.91" fill="#ff0000"/>
<rect x="458.1" y="373.1" width="10.8" height="1.23" fill="#fdd0b5"/>
<rect x="458.1" y="366.73" width="10.8" height="6.42" fill="#0000ff"/>
<rect x="458.1" y="361.3" width="10.8" height="5.48" fill="#3a8ac4"/>
<line x1="463.5" y1="479.3" x2="463.5" y2="482.3" stroke="#000" stroke-width="0.9"/>
<rect x="471.3" y="476.94" width="10.8" height="2.41" fill="#1aa64a"/>
<rect x="471.3" y="459.24" width="10.8" height="17.75" fill="#ff0000"/>
<rect x="471.3" y="395.52" width="10.8" height="63.77" fill="#0000ff"/>
<rect x="471.3" y="361.3" width="10.8" height="34.27" fill="#3a8ac4"/>
<line x1="476.7" y1="479.3" x2="476.7" y2="482.3" stroke="#000" stroke-width="0.9"/>
<rect x="484.5" y="478.36" width="10.8" height="0.99" fill="#d55a45"/>
<rect x="484.5" y="406.38" width="10.8" height="72.03" fill="#ff0000"/>
<rect x="484.5" y="383.96" width="10.8" height="22.47" fill="#0000ff"/>
<rect x="484.5" y="365.67" width="10.8" height="18.34" fill="#3a8ac4"/>
<rect x="484.5" y="361.3" width="10.8" height="4.42" fill="#c6dbef"/>
<line x1="489.9" y1="479.3" x2="489.9" y2="482.3" stroke="#000" stroke-width="0.9"/>
<rect x="497.8" y="474.58" width="10.8" height="4.77" fill="#1aa64a"/>
<rect x="497.8" y="400.83" width="10.8" height="73.8" fill="#ff0000"/>
<rect x="497.8" y="374.28" width="10.8" height="26.6" fill="#0000ff"/>
<rect x="497.8" y="361.3" width="10.8" height="13.03" fill="#3a8ac4"/>
<line x1="503.2" y1="479.3" x2="503.2" y2="482.3" stroke="#000" stroke-width="0.9"/>
<text x="467.1" y="487.6" font-size="8.56" text-anchor="end" fill="#1a1a1a" color="#1a1a1a" textLength="24.9" lengthAdjust="spacingAndGlyphs" transform="rotate(-45 467.1 487.6)">R882H</text>
<text x="480.3" y="487.6" font-size="8.56" text-anchor="end" fill="#1a1a1a" color="#1a1a1a" textLength="24.46" lengthAdjust="spacingAndGlyphs" transform="rotate(-45 480.3 487.6)">V716D</text>
<text x="493.5" y="487.6" font-size="8.56" text-anchor="end" fill="#1a1a1a" color="#1a1a1a" textLength="12.44" lengthAdjust="spacingAndGlyphs" transform="rotate(-45 493.5 487.6)">WT</text>
<text x="506.8" y="487.6" font-size="8.56" text-anchor="end" fill="#1a1a1a" color="#1a1a1a" textLength="21.79" lengthAdjust="spacingAndGlyphs" transform="rotate(-45 506.8 487.6)">Donor</text>
<rect x="0.5" y="0.5" width="519" height="512" fill="none" stroke="#000" stroke-width="1.1"/>
</svg>
</body></html>
